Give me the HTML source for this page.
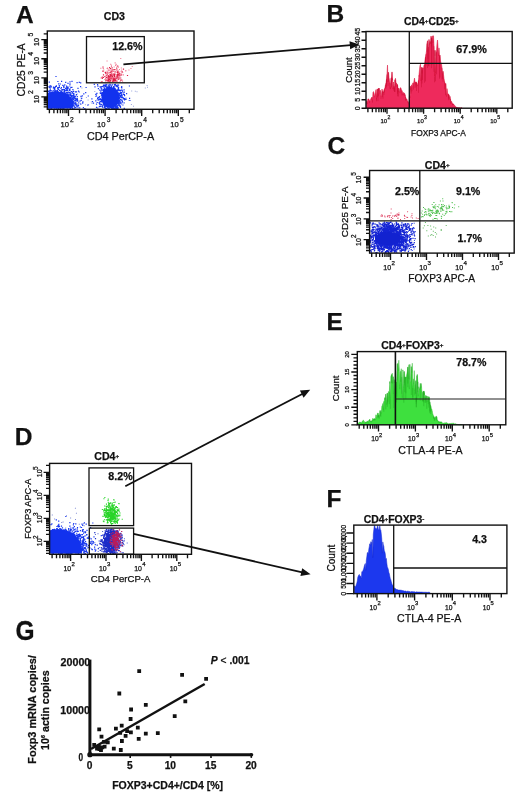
<!DOCTYPE html>
<html><head><meta charset="utf-8"><style>
html,body{margin:0;padding:0;background:#fff;}
svg{display:block;will-change:transform;}
text{font-family:"Liberation Sans", sans-serif;fill:#111;stroke:#111;stroke-width:0.25px;}
</style></head><body>
<svg width="520" height="803" viewBox="0 0 520 803">
<rect width="520" height="803" fill="#fff"/>
<defs>
<clipPath id="clipA"><rect x="47.3" y="31.0" width="146.7" height="77.5"/></clipPath>
<clipPath id="clipC3"><rect x="369.6" y="221.5" width="48.39999999999998" height="30.799999999999994"/></clipPath>
<clipPath id="clipD"><rect x="49.6" y="463.4" width="38.699999999999996" height="90.09999999999998"/></clipPath>
</defs>
<text x="15.9" y="23.1" font-size="24.5" font-weight="bold" text-anchor="start">A</text>
<text x="326.6" y="22.1" font-size="24.5" font-weight="bold" text-anchor="start">B</text>
<text x="327.6" y="154.4" font-size="24.5" font-weight="bold" text-anchor="start">C</text>
<text x="14.7" y="445.4" font-size="24.5" font-weight="bold" text-anchor="start">D</text>
<text x="326.5" y="330" font-size="24.5" font-weight="bold" text-anchor="start">E</text>
<text x="326.5" y="506.9" font-size="24.5" font-weight="bold" text-anchor="start">F</text>
<text x="0" y="0" font-size="24.5" font-weight="bold" transform="translate(15.6 640.2) scale(1 1.12)">G</text>
<path d="M81.4 87.5h1.0v1.0h-1.0zM114.1 85.7h1.0v1.0h-1.0zM102.6 92.4h1.0v1.0h-1.0zM54.8 95.7h1.0v1.0h-1.0zM52.7 94h1.0v1.0h-1.0zM56 86.1h1.0v1.0h-1.0zM91.5 103h1.0v1.0h-1.0zM61.4 89.1h1.0v1.0h-1.0zM111.7 105.8h1.0v1.0h-1.0zM106.7 93.1h1.0v1.0h-1.0zM146.6 85.1h1.0v1.0h-1.0zM134.8 90.7h1.0v1.0h-1.0zM63.4 86.7h1.0v1.0h-1.0zM79.8 102.8h1.0v1.0h-1.0zM67.1 97.4h1.0v1.0h-1.0zM112.9 92.6h1.0v1.0h-1.0zM103.8 85.4h1.0v1.0h-1.0zM55 88.7h1.0v1.0h-1.0zM117 93.8h1.0v1.0h-1.0zM80.4 97.5h1.0v1.0h-1.0zM94.3 90.9h1.0v1.0h-1.0zM128.4 100.1h1.0v1.0h-1.0zM73.4 97.2h1.0v1.0h-1.0zM101.5 104.1h1.0v1.0h-1.0zM121.9 90.6h1.0v1.0h-1.0zM147 86.7h1.0v1.0h-1.0zM90.8 101.4h1.0v1.0h-1.0zM64.2 95.2h1.0v1.0h-1.0zM52.9 99.4h1.0v1.0h-1.0zM125.5 97.2h1.0v1.0h-1.0zM136.5 91.2h1.0v1.0h-1.0zM118.5 97.7h1.0v1.0h-1.0zM107 94.5h1.0v1.0h-1.0zM133 105.7h1.0v1.0h-1.0zM96.4 99.3h1.0v1.0h-1.0zM55.1 100.1h1.0v1.0h-1.0zM113.7 106.8h1.0v1.0h-1.0zM131.2 90.5h1.0v1.0h-1.0zM87.6 99.4h1.0v1.0h-1.0zM51.3 94.6h1.0v1.0h-1.0zM65.8 86.7h1.0v1.0h-1.0zM54.9 101.7h1.0v1.0h-1.0zM61.9 89.7h1.0v1.0h-1.0zM88.1 104h1.0v1.0h-1.0zM57.1 94.3h1.0v1.0h-1.0zM103.9 104.3h1.0v1.0h-1.0zM130.9 103.9h1.0v1.0h-1.0zM76.8 93.6h1.0v1.0h-1.0zM84.9 104.3h1.0v1.0h-1.0zM144.8 87.5h1.0v1.0h-1.0zM66.6 89.3h1.0v1.0h-1.0zM72.3 95.2h1.0v1.0h-1.0zM107.9 90h1.0v1.0h-1.0zM49.4 93.6h1.0v1.0h-1.0zM85.9 97h1.0v1.0h-1.0z" fill="#7080d0" fill-opacity="0.7"/>
<path d="M72.9 96.9h1.2v1.2h-1.2zM57.6 97.9h1.2v1.2h-1.2zM72.3 92.8h1.2v1.2h-1.2zM71 91.1h1.2v1.2h-1.2zM51.5 104.4h1.2v1.2h-1.2zM69.7 106h1.2v1.2h-1.2zM62.3 101h1.2v1.2h-1.2zM60.4 104h1.2v1.2h-1.2zM57.3 101.9h1.2v1.2h-1.2zM64.4 100h1.2v1.2h-1.2zM66.3 104h1.2v1.2h-1.2zM78.1 102.3h1.2v1.2h-1.2zM54.9 97.4h1.2v1.2h-1.2zM58.9 106.5h1.2v1.2h-1.2zM55.8 102.7h1.2v1.2h-1.2zM76.5 82h1.2v1.2h-1.2zM48.3 101.7h1.2v1.2h-1.2zM62.8 101.7h1.2v1.2h-1.2zM54.9 104.6h1.2v1.2h-1.2zM61.7 96.3h1.2v1.2h-1.2zM82.1 102.5h1.2v1.2h-1.2zM53.7 99.3h1.2v1.2h-1.2zM56.9 99.6h1.2v1.2h-1.2zM68.6 91.8h1.2v1.2h-1.2zM58.4 106.7h1.2v1.2h-1.2zM55.8 104.4h1.2v1.2h-1.2zM69.4 81.2h1.2v1.2h-1.2zM69.3 89.9h1.2v1.2h-1.2zM65.5 89.6h1.2v1.2h-1.2zM57.6 101.3h1.2v1.2h-1.2zM66.6 101h1.2v1.2h-1.2zM69 97.9h1.2v1.2h-1.2zM85.1 92h1.2v1.2h-1.2zM67.7 98.1h1.2v1.2h-1.2zM60.3 104.9h1.2v1.2h-1.2zM61.1 104.5h1.2v1.2h-1.2zM64.8 93.3h1.2v1.2h-1.2zM49.2 89.7h1.2v1.2h-1.2zM71 105.2h1.2v1.2h-1.2zM73 93.4h1.2v1.2h-1.2zM59 92h1.2v1.2h-1.2zM68.4 98.8h1.2v1.2h-1.2zM58.1 95.8h1.2v1.2h-1.2zM62.8 102.9h1.2v1.2h-1.2zM73.2 92.9h1.2v1.2h-1.2zM72.8 98.7h1.2v1.2h-1.2zM51.9 107.1h1.2v1.2h-1.2zM60.1 100.9h1.2v1.2h-1.2zM72.5 98.2h1.2v1.2h-1.2zM62 95.7h1.2v1.2h-1.2zM58.9 105.8h1.2v1.2h-1.2zM58.4 107.3h1.2v1.2h-1.2zM52.6 106.2h1.2v1.2h-1.2zM57.2 99.8h1.2v1.2h-1.2zM53.4 101.6h1.2v1.2h-1.2zM76 100.3h1.2v1.2h-1.2zM64 107h1.2v1.2h-1.2zM57.1 91.2h1.2v1.2h-1.2zM53.7 107.5h1.2v1.2h-1.2zM68.6 105.5h1.2v1.2h-1.2zM59.1 105.6h1.2v1.2h-1.2zM60.6 91.7h1.2v1.2h-1.2zM67.8 96h1.2v1.2h-1.2zM50.4 94.6h1.2v1.2h-1.2zM47.8 102.5h1.2v1.2h-1.2zM52.9 86.4h1.2v1.2h-1.2zM65.9 98.1h1.2v1.2h-1.2zM61.8 96.8h1.2v1.2h-1.2zM66.4 105.2h1.2v1.2h-1.2zM65.3 102.3h1.2v1.2h-1.2zM71.7 104.6h1.2v1.2h-1.2zM63.3 85.4h1.2v1.2h-1.2zM56.2 96.7h1.2v1.2h-1.2zM77.4 87.7h1.2v1.2h-1.2zM50.2 104.8h1.2v1.2h-1.2zM76.9 99.2h1.2v1.2h-1.2zM64.3 106.3h1.2v1.2h-1.2zM50.4 99.4h1.2v1.2h-1.2zM61.8 105.8h1.2v1.2h-1.2zM58.7 98.6h1.2v1.2h-1.2zM49.3 97.5h1.2v1.2h-1.2zM67.5 100.7h1.2v1.2h-1.2zM50.9 94.1h1.2v1.2h-1.2zM84.3 108h1.2v1.2h-1.2zM65.1 81.8h1.2v1.2h-1.2zM64.9 103.4h1.2v1.2h-1.2zM75 103h1.2v1.2h-1.2zM58.4 103.7h1.2v1.2h-1.2zM62.1 95.1h1.2v1.2h-1.2zM61.8 101.3h1.2v1.2h-1.2zM55.2 93.2h1.2v1.2h-1.2zM79.1 107.3h1.2v1.2h-1.2zM47.7 90.6h1.2v1.2h-1.2zM75.2 106.9h1.2v1.2h-1.2zM76.3 105.7h1.2v1.2h-1.2zM50.7 101.8h1.2v1.2h-1.2zM58.4 103.7h1.2v1.2h-1.2zM52.1 99.1h1.2v1.2h-1.2zM63.4 102.6h1.2v1.2h-1.2zM65.1 101.5h1.2v1.2h-1.2zM55.9 105.5h1.2v1.2h-1.2zM59.5 94.2h1.2v1.2h-1.2zM53.1 100h1.2v1.2h-1.2zM58 101.1h1.2v1.2h-1.2zM59 101.2h1.2v1.2h-1.2zM57.7 91.2h1.2v1.2h-1.2zM63 107.4h1.2v1.2h-1.2zM63.1 98.7h1.2v1.2h-1.2zM63.2 93.2h1.2v1.2h-1.2zM50.2 105.2h1.2v1.2h-1.2zM48.7 81.6h1.2v1.2h-1.2zM55.4 90.4h1.2v1.2h-1.2zM51.7 103.6h1.2v1.2h-1.2zM63.7 101.2h1.2v1.2h-1.2zM73.1 104.9h1.2v1.2h-1.2zM58.8 104.2h1.2v1.2h-1.2zM74.7 106.8h1.2v1.2h-1.2zM68.7 92.4h1.2v1.2h-1.2zM57.6 105.1h1.2v1.2h-1.2zM56.2 107.5h1.2v1.2h-1.2zM64.7 106.4h1.2v1.2h-1.2zM70.8 98.5h1.2v1.2h-1.2zM55.7 106.1h1.2v1.2h-1.2zM68.3 100h1.2v1.2h-1.2zM47.9 101.3h1.2v1.2h-1.2zM62.4 107.9h1.2v1.2h-1.2zM66.4 100.2h1.2v1.2h-1.2zM67.1 103.8h1.2v1.2h-1.2zM61 100.4h1.2v1.2h-1.2zM56.7 104.8h1.2v1.2h-1.2zM49 95.6h1.2v1.2h-1.2zM59 89.8h1.2v1.2h-1.2zM54.9 85.9h1.2v1.2h-1.2zM52.5 104h1.2v1.2h-1.2zM64.4 99.6h1.2v1.2h-1.2zM56.8 90.1h1.2v1.2h-1.2zM76.4 103.6h1.2v1.2h-1.2zM69.4 93.8h1.2v1.2h-1.2zM57.2 87.3h1.2v1.2h-1.2zM66.4 106.5h1.2v1.2h-1.2zM65 87.7h1.2v1.2h-1.2zM53 90.2h1.2v1.2h-1.2zM59.3 101.7h1.2v1.2h-1.2zM65 104.9h1.2v1.2h-1.2zM48.9 92.5h1.2v1.2h-1.2zM58.2 100h1.2v1.2h-1.2zM63.7 88.9h1.2v1.2h-1.2zM57.1 97.8h1.2v1.2h-1.2zM58.4 94.7h1.2v1.2h-1.2zM65.7 102.5h1.2v1.2h-1.2zM58.2 95.3h1.2v1.2h-1.2zM57.3 80.9h1.2v1.2h-1.2zM49.7 100.3h1.2v1.2h-1.2zM60.4 90.4h1.2v1.2h-1.2zM56.6 97.8h1.2v1.2h-1.2zM63.4 104.3h1.2v1.2h-1.2zM58.7 94h1.2v1.2h-1.2zM57.6 99.5h1.2v1.2h-1.2zM66 102.1h1.2v1.2h-1.2zM52.1 90.5h1.2v1.2h-1.2zM55.5 94.8h1.2v1.2h-1.2zM48.4 99.2h1.2v1.2h-1.2zM54.3 100.7h1.2v1.2h-1.2zM64 97.1h1.2v1.2h-1.2zM81.1 97.7h1.2v1.2h-1.2zM69.5 100.9h1.2v1.2h-1.2zM69.6 83.4h1.2v1.2h-1.2zM51.9 101.7h1.2v1.2h-1.2zM66.3 106.6h1.2v1.2h-1.2zM63.8 98.9h1.2v1.2h-1.2zM63.8 92.5h1.2v1.2h-1.2zM70.2 92.9h1.2v1.2h-1.2zM56.9 100.1h1.2v1.2h-1.2zM70 100.2h1.2v1.2h-1.2zM51.3 101.8h1.2v1.2h-1.2zM64.5 105h1.2v1.2h-1.2zM74.8 100.1h1.2v1.2h-1.2zM61.6 97h1.2v1.2h-1.2zM72.4 95.1h1.2v1.2h-1.2zM65.4 96.6h1.2v1.2h-1.2zM52.4 105h1.2v1.2h-1.2zM71.7 99.9h1.2v1.2h-1.2zM52.6 105.7h1.2v1.2h-1.2zM58.5 102.2h1.2v1.2h-1.2zM73.5 107.9h1.2v1.2h-1.2zM59 105.5h1.2v1.2h-1.2zM52.9 99.7h1.2v1.2h-1.2zM72 91.5h1.2v1.2h-1.2zM70.2 96.8h1.2v1.2h-1.2zM58.4 97.8h1.2v1.2h-1.2zM57.8 92.4h1.2v1.2h-1.2zM59.2 89.9h1.2v1.2h-1.2zM58.3 102.2h1.2v1.2h-1.2zM63.4 98.4h1.2v1.2h-1.2zM50.4 101.1h1.2v1.2h-1.2zM66.3 99.2h1.2v1.2h-1.2zM54.5 95.1h1.2v1.2h-1.2zM50.1 97.5h1.2v1.2h-1.2zM61.8 103.6h1.2v1.2h-1.2zM52.3 100.1h1.2v1.2h-1.2zM85.5 86.9h1.2v1.2h-1.2zM54 101.2h1.2v1.2h-1.2zM60.5 102.9h1.2v1.2h-1.2zM56.7 102.6h1.2v1.2h-1.2zM59.5 105.4h1.2v1.2h-1.2zM59 92.8h1.2v1.2h-1.2zM49.1 104.4h1.2v1.2h-1.2zM52.8 104.4h1.2v1.2h-1.2zM66.1 102.1h1.2v1.2h-1.2zM63.8 99.3h1.2v1.2h-1.2zM63.3 96.3h1.2v1.2h-1.2zM58.1 105.2h1.2v1.2h-1.2zM50.7 104.5h1.2v1.2h-1.2zM76.7 96.1h1.2v1.2h-1.2zM60.4 98.9h1.2v1.2h-1.2zM73.6 102.2h1.2v1.2h-1.2zM67.5 95.2h1.2v1.2h-1.2zM58.8 99.9h1.2v1.2h-1.2zM67.5 87.8h1.2v1.2h-1.2zM66.1 99.1h1.2v1.2h-1.2zM63.3 102.6h1.2v1.2h-1.2zM73.2 96h1.2v1.2h-1.2zM49.3 90.5h1.2v1.2h-1.2zM47.4 102.3h1.2v1.2h-1.2zM75.1 103h1.2v1.2h-1.2zM54.1 95.3h1.2v1.2h-1.2zM64 103.8h1.2v1.2h-1.2zM49.4 91.8h1.2v1.2h-1.2zM61.8 101.7h1.2v1.2h-1.2zM53.8 103.2h1.2v1.2h-1.2zM57.9 99.4h1.2v1.2h-1.2zM55.6 107.4h1.2v1.2h-1.2zM72.2 97.4h1.2v1.2h-1.2zM67 94.7h1.2v1.2h-1.2zM59.7 105.2h1.2v1.2h-1.2zM73.4 97.3h1.2v1.2h-1.2zM58.3 101.4h1.2v1.2h-1.2zM52.6 102.6h1.2v1.2h-1.2zM48.3 86.2h1.2v1.2h-1.2zM59.4 101.8h1.2v1.2h-1.2zM53.8 106.2h1.2v1.2h-1.2zM56.4 95.8h1.2v1.2h-1.2zM63.5 89h1.2v1.2h-1.2zM52.6 99.9h1.2v1.2h-1.2zM67.1 98.9h1.2v1.2h-1.2zM61.9 95.4h1.2v1.2h-1.2zM52.9 100.1h1.2v1.2h-1.2zM60.6 107.2h1.2v1.2h-1.2zM64.8 105.6h1.2v1.2h-1.2zM60.9 101.8h1.2v1.2h-1.2zM67.8 102.6h1.2v1.2h-1.2zM74.8 91.3h1.2v1.2h-1.2zM55.4 75.9h1.2v1.2h-1.2zM66.7 97.4h1.2v1.2h-1.2zM58.9 98.2h1.2v1.2h-1.2zM54.3 94.1h1.2v1.2h-1.2zM53 104.5h1.2v1.2h-1.2zM59.3 100.5h1.2v1.2h-1.2zM57.4 106.4h1.2v1.2h-1.2zM63.7 99h1.2v1.2h-1.2zM65.3 98.9h1.2v1.2h-1.2zM63.4 93.3h1.2v1.2h-1.2zM69.2 102.4h1.2v1.2h-1.2zM62.2 106.2h1.2v1.2h-1.2zM60.9 99h1.2v1.2h-1.2zM59.3 98h1.2v1.2h-1.2zM62.3 100.5h1.2v1.2h-1.2zM65.4 97.4h1.2v1.2h-1.2zM58.7 85h1.2v1.2h-1.2zM55 104.7h1.2v1.2h-1.2zM71.7 97.5h1.2v1.2h-1.2zM55.9 105.1h1.2v1.2h-1.2zM74.9 100.3h1.2v1.2h-1.2zM70.7 95h1.2v1.2h-1.2zM61 99.5h1.2v1.2h-1.2zM60.1 107.9h1.2v1.2h-1.2zM81.7 95.3h1.2v1.2h-1.2zM53.5 103.5h1.2v1.2h-1.2zM49 103.5h1.2v1.2h-1.2zM64.4 98.1h1.2v1.2h-1.2zM64 89.2h1.2v1.2h-1.2zM66.2 89.2h1.2v1.2h-1.2zM52.4 96.1h1.2v1.2h-1.2zM55.2 106h1.2v1.2h-1.2zM59.8 97.2h1.2v1.2h-1.2zM59.1 102.6h1.2v1.2h-1.2zM70.8 101.9h1.2v1.2h-1.2zM80 86.1h1.2v1.2h-1.2zM58.6 102.9h1.2v1.2h-1.2zM68.2 104.7h1.2v1.2h-1.2zM56.4 92.6h1.2v1.2h-1.2zM60 107.2h1.2v1.2h-1.2zM48.6 92.8h1.2v1.2h-1.2zM58.8 86.4h1.2v1.2h-1.2zM56.5 96.9h1.2v1.2h-1.2zM63.3 95.1h1.2v1.2h-1.2zM50.6 97.2h1.2v1.2h-1.2zM58.5 95.3h1.2v1.2h-1.2zM59.1 105.3h1.2v1.2h-1.2zM51.6 97.1h1.2v1.2h-1.2zM52.1 99.8h1.2v1.2h-1.2zM64 90.5h1.2v1.2h-1.2zM63.4 99.8h1.2v1.2h-1.2zM70.3 86.9h1.2v1.2h-1.2zM66.7 101.5h1.2v1.2h-1.2zM63.5 103.1h1.2v1.2h-1.2zM71.4 98.4h1.2v1.2h-1.2zM67.3 97.1h1.2v1.2h-1.2zM65.9 94.3h1.2v1.2h-1.2zM63.2 98.9h1.2v1.2h-1.2zM48.1 94.5h1.2v1.2h-1.2zM60.8 106.6h1.2v1.2h-1.2zM63 103.7h1.2v1.2h-1.2zM55.3 96.2h1.2v1.2h-1.2zM67.4 100.4h1.2v1.2h-1.2zM56.4 96h1.2v1.2h-1.2zM56.6 104.4h1.2v1.2h-1.2zM62.4 91.5h1.2v1.2h-1.2zM63.1 101.3h1.2v1.2h-1.2zM49.5 105.4h1.2v1.2h-1.2zM56.3 97.7h1.2v1.2h-1.2zM52.5 103.1h1.2v1.2h-1.2zM52.9 105.7h1.2v1.2h-1.2zM80.1 82.2h1.2v1.2h-1.2zM54.9 103.5h1.2v1.2h-1.2zM58.1 95.3h1.2v1.2h-1.2zM79.4 100.6h1.2v1.2h-1.2zM53.5 101h1.2v1.2h-1.2zM71 100.8h1.2v1.2h-1.2zM70.2 105.2h1.2v1.2h-1.2zM51.3 106h1.2v1.2h-1.2zM63.7 104.5h1.2v1.2h-1.2zM67.6 105.1h1.2v1.2h-1.2zM67.4 82.8h1.2v1.2h-1.2zM60.6 103.4h1.2v1.2h-1.2zM83.2 93.3h1.2v1.2h-1.2zM55.9 100.3h1.2v1.2h-1.2zM67.4 96.9h1.2v1.2h-1.2zM69.9 94.5h1.2v1.2h-1.2zM61.5 96.3h1.2v1.2h-1.2zM60.5 95.2h1.2v1.2h-1.2zM61.9 96.1h1.2v1.2h-1.2zM60.9 106.9h1.2v1.2h-1.2zM49.7 99.2h1.2v1.2h-1.2zM64.1 103.7h1.2v1.2h-1.2zM55.8 85.3h1.2v1.2h-1.2zM70.8 102.3h1.2v1.2h-1.2zM59.1 98.1h1.2v1.2h-1.2zM61.5 97h1.2v1.2h-1.2zM49.3 94.8h1.2v1.2h-1.2zM53.3 95.7h1.2v1.2h-1.2zM48 104.5h1.2v1.2h-1.2zM49.4 102.5h1.2v1.2h-1.2zM72.1 101.4h1.2v1.2h-1.2zM52.1 100.3h1.2v1.2h-1.2zM60.4 87.9h1.2v1.2h-1.2zM53.2 101.1h1.2v1.2h-1.2zM54.5 100.6h1.2v1.2h-1.2zM66 105.4h1.2v1.2h-1.2zM67.6 104.1h1.2v1.2h-1.2zM56.3 99.9h1.2v1.2h-1.2zM56.4 97.8h1.2v1.2h-1.2zM57.3 87.9h1.2v1.2h-1.2zM55.8 99.8h1.2v1.2h-1.2zM49.7 99.8h1.2v1.2h-1.2zM63.9 98.8h1.2v1.2h-1.2zM78.7 81.8h1.2v1.2h-1.2zM57 87.2h1.2v1.2h-1.2zM63.9 97.9h1.2v1.2h-1.2zM64.2 84.3h1.2v1.2h-1.2zM67.1 102.6h1.2v1.2h-1.2zM59.2 95.9h1.2v1.2h-1.2zM65.1 96.6h1.2v1.2h-1.2zM61.1 96.4h1.2v1.2h-1.2zM60.9 105.3h1.2v1.2h-1.2zM50.7 99.8h1.2v1.2h-1.2zM64.9 101h1.2v1.2h-1.2zM50.4 86.6h1.2v1.2h-1.2zM67.8 105.7h1.2v1.2h-1.2zM53.1 95h1.2v1.2h-1.2zM67.4 93.6h1.2v1.2h-1.2zM52.5 94.9h1.2v1.2h-1.2zM61.2 94.8h1.2v1.2h-1.2zM71.4 99.5h1.2v1.2h-1.2zM53.5 101.5h1.2v1.2h-1.2zM58.9 97.8h1.2v1.2h-1.2zM62.1 95.2h1.2v1.2h-1.2zM58.8 100.4h1.2v1.2h-1.2zM64.3 100.8h1.2v1.2h-1.2zM51.5 95h1.2v1.2h-1.2zM63.6 103.7h1.2v1.2h-1.2zM57.8 98.8h1.2v1.2h-1.2zM67.9 100.1h1.2v1.2h-1.2zM66 104.1h1.2v1.2h-1.2zM53.6 97.5h1.2v1.2h-1.2zM51.3 94.4h1.2v1.2h-1.2zM59.2 104h1.2v1.2h-1.2zM70.2 105.7h1.2v1.2h-1.2zM70.5 91.2h1.2v1.2h-1.2zM52.9 103.2h1.2v1.2h-1.2zM72.6 100.7h1.2v1.2h-1.2zM50.8 97.5h1.2v1.2h-1.2zM52.7 94h1.2v1.2h-1.2zM73.3 95.6h1.2v1.2h-1.2zM70.3 102.4h1.2v1.2h-1.2zM53.2 102.9h1.2v1.2h-1.2zM74.4 104.4h1.2v1.2h-1.2zM71 100.7h1.2v1.2h-1.2zM63.9 98.6h1.2v1.2h-1.2zM61.3 96h1.2v1.2h-1.2zM56.1 105.5h1.2v1.2h-1.2zM78 104.4h1.2v1.2h-1.2zM62.1 89.1h1.2v1.2h-1.2zM77.3 100.5h1.2v1.2h-1.2zM58.7 92.2h1.2v1.2h-1.2zM58.5 92.3h1.2v1.2h-1.2zM59.7 103.3h1.2v1.2h-1.2zM59.3 102h1.2v1.2h-1.2zM52.8 87.3h1.2v1.2h-1.2zM57.2 94.7h1.2v1.2h-1.2zM49.4 97.5h1.2v1.2h-1.2zM61.8 91.7h1.2v1.2h-1.2zM65.5 98.9h1.2v1.2h-1.2zM60.2 99.2h1.2v1.2h-1.2zM58.5 105.1h1.2v1.2h-1.2zM58.1 83.2h1.2v1.2h-1.2zM58.8 93.8h1.2v1.2h-1.2zM65.2 95.7h1.2v1.2h-1.2zM49.1 92.1h1.2v1.2h-1.2zM52.9 86.9h1.2v1.2h-1.2zM51.6 97.4h1.2v1.2h-1.2zM77.4 107.2h1.2v1.2h-1.2zM60.4 101.3h1.2v1.2h-1.2zM56.1 103.2h1.2v1.2h-1.2zM61.7 100.4h1.2v1.2h-1.2zM54.2 90.7h1.2v1.2h-1.2zM53.9 89.2h1.2v1.2h-1.2zM70.6 103.8h1.2v1.2h-1.2zM67.5 86.6h1.2v1.2h-1.2zM76.5 105.7h1.2v1.2h-1.2zM78.6 91.4h1.2v1.2h-1.2zM64 103h1.2v1.2h-1.2zM60.9 101.2h1.2v1.2h-1.2zM69 89.5h1.2v1.2h-1.2zM53.7 95.8h1.2v1.2h-1.2zM62.5 101.9h1.2v1.2h-1.2zM59.3 95.3h1.2v1.2h-1.2zM54.8 106.7h1.2v1.2h-1.2zM66.3 100.7h1.2v1.2h-1.2zM53.4 104.5h1.2v1.2h-1.2zM70 98.1h1.2v1.2h-1.2zM66.8 92.2h1.2v1.2h-1.2zM68.6 101.4h1.2v1.2h-1.2zM52.5 98.8h1.2v1.2h-1.2zM61.7 97.7h1.2v1.2h-1.2zM61.5 96.1h1.2v1.2h-1.2zM65.4 100h1.2v1.2h-1.2zM61 80.7h1.2v1.2h-1.2zM70 100.2h1.2v1.2h-1.2zM63.4 107.5h1.2v1.2h-1.2zM57.6 104.8h1.2v1.2h-1.2zM55.5 92.2h1.2v1.2h-1.2zM69.4 106.3h1.2v1.2h-1.2zM73.6 106h1.2v1.2h-1.2zM53.6 88.4h1.2v1.2h-1.2zM52.8 95.3h1.2v1.2h-1.2zM51.3 104.1h1.2v1.2h-1.2zM62.1 98.1h1.2v1.2h-1.2zM60.6 99h1.2v1.2h-1.2zM61 105.3h1.2v1.2h-1.2zM68.1 95.2h1.2v1.2h-1.2zM60.1 107.7h1.2v1.2h-1.2zM59.3 89.9h1.2v1.2h-1.2zM54.1 105.1h1.2v1.2h-1.2zM50.8 90.2h1.2v1.2h-1.2zM63.9 106.6h1.2v1.2h-1.2zM60.8 90.9h1.2v1.2h-1.2zM66.4 105.5h1.2v1.2h-1.2zM64.3 96.6h1.2v1.2h-1.2zM61.9 105.5h1.2v1.2h-1.2zM53.7 87.1h1.2v1.2h-1.2zM62.1 103.4h1.2v1.2h-1.2zM59.1 106.2h1.2v1.2h-1.2zM53.4 99.4h1.2v1.2h-1.2zM56.1 104h1.2v1.2h-1.2zM74.2 98.2h1.2v1.2h-1.2zM66.5 104.1h1.2v1.2h-1.2zM75.8 98.7h1.2v1.2h-1.2zM57.9 92.6h1.2v1.2h-1.2zM64.1 103h1.2v1.2h-1.2zM57.1 101.2h1.2v1.2h-1.2zM55.1 92.3h1.2v1.2h-1.2zM51.9 94.2h1.2v1.2h-1.2zM67.1 107.4h1.2v1.2h-1.2zM67.4 95.9h1.2v1.2h-1.2zM53 102.4h1.2v1.2h-1.2zM55.6 85.8h1.2v1.2h-1.2zM61.2 89.3h1.2v1.2h-1.2zM67.6 91.6h1.2v1.2h-1.2zM52.4 94h1.2v1.2h-1.2zM67.1 104.2h1.2v1.2h-1.2zM62 89.2h1.2v1.2h-1.2zM54.1 96.1h1.2v1.2h-1.2zM49.7 103.6h1.2v1.2h-1.2zM52 95h1.2v1.2h-1.2zM49.1 85.6h1.2v1.2h-1.2zM60.7 93.2h1.2v1.2h-1.2zM70.6 102.1h1.2v1.2h-1.2zM69.7 96.9h1.2v1.2h-1.2zM69 105.4h1.2v1.2h-1.2zM64.5 92.5h1.2v1.2h-1.2zM57 101.9h1.2v1.2h-1.2zM57.5 107h1.2v1.2h-1.2zM68.9 100.6h1.2v1.2h-1.2zM54.5 104.4h1.2v1.2h-1.2zM69.8 96.8h1.2v1.2h-1.2zM53.9 103h1.2v1.2h-1.2zM63.9 90.8h1.2v1.2h-1.2zM50.8 108h1.2v1.2h-1.2zM66.3 88.3h1.2v1.2h-1.2zM51.2 101.2h1.2v1.2h-1.2zM54.3 98.9h1.2v1.2h-1.2zM63.5 94.3h1.2v1.2h-1.2zM63.4 95.5h1.2v1.2h-1.2zM53.8 103.8h1.2v1.2h-1.2zM53.6 102h1.2v1.2h-1.2zM74.2 100.2h1.2v1.2h-1.2zM57.6 105.1h1.2v1.2h-1.2zM55.5 107.6h1.2v1.2h-1.2zM54.1 94.4h1.2v1.2h-1.2zM75.8 94h1.2v1.2h-1.2zM75.7 104.6h1.2v1.2h-1.2zM72.8 93.2h1.2v1.2h-1.2zM57.9 99.1h1.2v1.2h-1.2zM82.3 101.2h1.2v1.2h-1.2zM55 95.6h1.2v1.2h-1.2zM63.2 102.3h1.2v1.2h-1.2zM55.9 103.3h1.2v1.2h-1.2zM72.9 93h1.2v1.2h-1.2zM49.1 87.1h1.2v1.2h-1.2zM63.3 87h1.2v1.2h-1.2zM52 98.1h1.2v1.2h-1.2zM59.5 103.8h1.2v1.2h-1.2zM55.7 100.1h1.2v1.2h-1.2zM53.8 100.8h1.2v1.2h-1.2zM47.9 100.4h1.2v1.2h-1.2zM77.2 100.6h1.2v1.2h-1.2zM49.8 88.4h1.2v1.2h-1.2zM52 105.2h1.2v1.2h-1.2zM62.6 99.3h1.2v1.2h-1.2zM50.2 92.4h1.2v1.2h-1.2zM71.8 101.7h1.2v1.2h-1.2zM50 85.2h1.2v1.2h-1.2zM48.1 99.5h1.2v1.2h-1.2zM61 98.9h1.2v1.2h-1.2zM56.4 90.4h1.2v1.2h-1.2zM51.8 105.9h1.2v1.2h-1.2zM61.5 107.3h1.2v1.2h-1.2zM48.3 104.2h1.2v1.2h-1.2zM62.7 94.8h1.2v1.2h-1.2zM63.5 93.7h1.2v1.2h-1.2zM51.4 99.9h1.2v1.2h-1.2zM49.5 89.8h1.2v1.2h-1.2zM55 105.3h1.2v1.2h-1.2zM48 90.8h1.2v1.2h-1.2zM73.7 102.8h1.2v1.2h-1.2zM68 94.2h1.2v1.2h-1.2zM66.6 101.8h1.2v1.2h-1.2zM65.2 100.2h1.2v1.2h-1.2zM70.5 95.5h1.2v1.2h-1.2zM49.8 89.7h1.2v1.2h-1.2zM70 94.8h1.2v1.2h-1.2zM49.1 93.4h1.2v1.2h-1.2zM54.8 91.1h1.2v1.2h-1.2zM56.2 95.6h1.2v1.2h-1.2zM53.8 93.3h1.2v1.2h-1.2zM59.3 96.8h1.2v1.2h-1.2zM60.1 101.7h1.2v1.2h-1.2zM62.2 84.7h1.2v1.2h-1.2zM53.9 94.4h1.2v1.2h-1.2zM66.4 89h1.2v1.2h-1.2zM52.2 97.9h1.2v1.2h-1.2zM55.8 106.9h1.2v1.2h-1.2zM54.8 106.8h1.2v1.2h-1.2zM70.6 103h1.2v1.2h-1.2zM63.6 100.9h1.2v1.2h-1.2zM63.6 91.5h1.2v1.2h-1.2zM68 96.3h1.2v1.2h-1.2zM68.4 100.6h1.2v1.2h-1.2zM69.7 99h1.2v1.2h-1.2zM55.2 101.7h1.2v1.2h-1.2zM55 96.2h1.2v1.2h-1.2zM60 101h1.2v1.2h-1.2zM73.4 100.3h1.2v1.2h-1.2zM75.3 107.4h1.2v1.2h-1.2zM60.2 101h1.2v1.2h-1.2zM57.6 94.9h1.2v1.2h-1.2zM58.4 95.5h1.2v1.2h-1.2zM74.6 103.7h1.2v1.2h-1.2zM54.8 86.6h1.2v1.2h-1.2zM58.5 97.1h1.2v1.2h-1.2zM48.7 92h1.2v1.2h-1.2zM58.7 99h1.2v1.2h-1.2zM72.7 100.9h1.2v1.2h-1.2zM60.6 97.4h1.2v1.2h-1.2zM55.7 100.2h1.2v1.2h-1.2zM50.6 106.8h1.2v1.2h-1.2zM50.1 107.6h1.2v1.2h-1.2zM52.2 94.7h1.2v1.2h-1.2zM74.7 95.8h1.2v1.2h-1.2zM51.8 97.6h1.2v1.2h-1.2zM82.8 107h1.2v1.2h-1.2zM53.8 87.4h1.2v1.2h-1.2zM76.7 98.1h1.2v1.2h-1.2zM52.4 96.4h1.2v1.2h-1.2zM48.7 107.4h1.2v1.2h-1.2zM61.7 94.7h1.2v1.2h-1.2zM66.4 100.1h1.2v1.2h-1.2zM47.8 104.4h1.2v1.2h-1.2zM67 86.6h1.2v1.2h-1.2zM76.3 103.5h1.2v1.2h-1.2zM66.2 87h1.2v1.2h-1.2zM52.2 97.6h1.2v1.2h-1.2zM69.2 89.8h1.2v1.2h-1.2zM50.6 85.8h1.2v1.2h-1.2zM56.7 102.4h1.2v1.2h-1.2zM65.3 97.9h1.2v1.2h-1.2zM47.8 93.4h1.2v1.2h-1.2zM52.7 101h1.2v1.2h-1.2zM61.7 92.5h1.2v1.2h-1.2zM73.7 106.6h1.2v1.2h-1.2zM60 95h1.2v1.2h-1.2zM67.7 94.4h1.2v1.2h-1.2zM61.3 104.2h1.2v1.2h-1.2zM51 106.9h1.2v1.2h-1.2zM49.6 104.9h1.2v1.2h-1.2zM60.7 101.7h1.2v1.2h-1.2zM68.2 99.9h1.2v1.2h-1.2zM69.6 106.1h1.2v1.2h-1.2zM60.3 96h1.2v1.2h-1.2zM51.8 96.3h1.2v1.2h-1.2zM57.1 99.8h1.2v1.2h-1.2zM87.3 104.5h1.2v1.2h-1.2zM66.3 94h1.2v1.2h-1.2zM52.3 97.8h1.2v1.2h-1.2zM60.8 92.7h1.2v1.2h-1.2zM74.3 96.1h1.2v1.2h-1.2zM69.2 83.6h1.2v1.2h-1.2zM58.9 101.9h1.2v1.2h-1.2zM60.8 104.2h1.2v1.2h-1.2zM61.7 101.1h1.2v1.2h-1.2zM61.9 98.6h1.2v1.2h-1.2zM51.2 95.9h1.2v1.2h-1.2zM54.4 93.9h1.2v1.2h-1.2zM53.7 101.3h1.2v1.2h-1.2zM87.7 95.4h1.2v1.2h-1.2zM59.5 101.9h1.2v1.2h-1.2zM58.7 106.5h1.2v1.2h-1.2zM75.9 91.3h1.2v1.2h-1.2zM60.5 98.1h1.2v1.2h-1.2zM62.4 89.3h1.2v1.2h-1.2zM64 101.3h1.2v1.2h-1.2zM59.7 83.4h1.2v1.2h-1.2zM55.5 94.7h1.2v1.2h-1.2zM65.6 103.8h1.2v1.2h-1.2zM58.8 103.6h1.2v1.2h-1.2zM53.3 100.5h1.2v1.2h-1.2zM59.4 103.9h1.2v1.2h-1.2zM58.3 99h1.2v1.2h-1.2zM57.7 95.5h1.2v1.2h-1.2zM80.2 103.6h1.2v1.2h-1.2zM72.3 89.1h1.2v1.2h-1.2zM65.6 105.9h1.2v1.2h-1.2zM66.3 91.8h1.2v1.2h-1.2zM50.7 101.9h1.2v1.2h-1.2zM63.8 92.8h1.2v1.2h-1.2zM55.3 97.2h1.2v1.2h-1.2zM59.6 102.4h1.2v1.2h-1.2zM56.3 91.3h1.2v1.2h-1.2zM58 107.2h1.2v1.2h-1.2zM63.2 104.6h1.2v1.2h-1.2zM63.6 94.7h1.2v1.2h-1.2zM64.5 107.1h1.2v1.2h-1.2zM77.9 105.2h1.2v1.2h-1.2zM55.8 95.8h1.2v1.2h-1.2zM51.3 100.8h1.2v1.2h-1.2zM58.7 104.7h1.2v1.2h-1.2zM80.6 99.8h1.2v1.2h-1.2zM65.4 103.3h1.2v1.2h-1.2zM61.6 98.5h1.2v1.2h-1.2zM57.8 94.2h1.2v1.2h-1.2zM60.7 99.8h1.2v1.2h-1.2zM62 94h1.2v1.2h-1.2zM59.4 100.3h1.2v1.2h-1.2zM64.7 92.6h1.2v1.2h-1.2zM63 106.9h1.2v1.2h-1.2zM64.7 97.4h1.2v1.2h-1.2zM54.3 98.3h1.2v1.2h-1.2zM57.5 95.5h1.2v1.2h-1.2zM62.6 101.4h1.2v1.2h-1.2zM50.4 94.8h1.2v1.2h-1.2zM58 104.7h1.2v1.2h-1.2zM47.7 92.9h1.2v1.2h-1.2zM63.7 91.4h1.2v1.2h-1.2zM60 102.5h1.2v1.2h-1.2zM57.9 92.9h1.2v1.2h-1.2zM58.4 97.7h1.2v1.2h-1.2zM62.2 94.1h1.2v1.2h-1.2zM69.4 88.3h1.2v1.2h-1.2zM57.3 100.1h1.2v1.2h-1.2zM68.1 95.7h1.2v1.2h-1.2zM64.2 96h1.2v1.2h-1.2zM55.2 103.1h1.2v1.2h-1.2zM50.2 106.8h1.2v1.2h-1.2zM70.5 100.2h1.2v1.2h-1.2zM48.2 102.8h1.2v1.2h-1.2zM69.9 107.6h1.2v1.2h-1.2zM66.7 87.2h1.2v1.2h-1.2zM47.4 107.9h1.2v1.2h-1.2zM76.9 105.3h1.2v1.2h-1.2zM69.6 97.7h1.2v1.2h-1.2zM47.4 99.3h1.2v1.2h-1.2zM57.1 99.7h1.2v1.2h-1.2zM65.6 99h1.2v1.2h-1.2zM60.8 103h1.2v1.2h-1.2zM63.2 100.6h1.2v1.2h-1.2zM57 95.6h1.2v1.2h-1.2zM71.8 101.1h1.2v1.2h-1.2zM48.8 96.1h1.2v1.2h-1.2zM57.7 96.9h1.2v1.2h-1.2zM69.3 91.9h1.2v1.2h-1.2zM63.7 101h1.2v1.2h-1.2zM47.8 100.3h1.2v1.2h-1.2zM58.1 103.5h1.2v1.2h-1.2zM54.7 102.1h1.2v1.2h-1.2zM66.5 107.3h1.2v1.2h-1.2zM58.9 95.8h1.2v1.2h-1.2zM69.3 85.4h1.2v1.2h-1.2zM51.4 104.7h1.2v1.2h-1.2zM65.2 92.8h1.2v1.2h-1.2zM60.5 93.7h1.2v1.2h-1.2zM59.5 106.3h1.2v1.2h-1.2zM66 85.4h1.2v1.2h-1.2zM66.3 87.5h1.2v1.2h-1.2zM69.8 102.8h1.2v1.2h-1.2zM80.4 95.7h1.2v1.2h-1.2zM59 107.3h1.2v1.2h-1.2zM52.9 95.1h1.2v1.2h-1.2zM55.5 99.5h1.2v1.2h-1.2zM48.7 103.4h1.2v1.2h-1.2zM64.2 100.5h1.2v1.2h-1.2zM75.2 97.7h1.2v1.2h-1.2zM71.4 96.2h1.2v1.2h-1.2zM66.2 86.5h1.2v1.2h-1.2zM60.9 98.8h1.2v1.2h-1.2zM54.3 95.7h1.2v1.2h-1.2zM55.7 95h1.2v1.2h-1.2zM53.8 96.3h1.2v1.2h-1.2zM49 99.1h1.2v1.2h-1.2zM66.5 98.2h1.2v1.2h-1.2zM68.3 106.5h1.2v1.2h-1.2zM70 97.7h1.2v1.2h-1.2zM57.8 107.8h1.2v1.2h-1.2zM53.7 99.2h1.2v1.2h-1.2zM62.6 102.6h1.2v1.2h-1.2zM56.4 106.9h1.2v1.2h-1.2zM57.3 105.1h1.2v1.2h-1.2zM69.2 104.6h1.2v1.2h-1.2zM66 91.9h1.2v1.2h-1.2zM47.4 102.1h1.2v1.2h-1.2zM50.9 94.9h1.2v1.2h-1.2zM56.4 104.8h1.2v1.2h-1.2zM49.6 106.2h1.2v1.2h-1.2zM67.8 100.5h1.2v1.2h-1.2zM63.5 96.1h1.2v1.2h-1.2zM48.6 97.2h1.2v1.2h-1.2zM60.9 102.2h1.2v1.2h-1.2zM66.1 94.5h1.2v1.2h-1.2zM67.7 102.6h1.2v1.2h-1.2zM64.2 103.2h1.2v1.2h-1.2zM74.1 97.1h1.2v1.2h-1.2zM63.9 105.2h1.2v1.2h-1.2zM64 92.4h1.2v1.2h-1.2zM57.9 88.5h1.2v1.2h-1.2zM59.7 92.1h1.2v1.2h-1.2zM62.2 89.3h1.2v1.2h-1.2zM63.3 98.1h1.2v1.2h-1.2zM59.6 99.5h1.2v1.2h-1.2zM60.2 90.8h1.2v1.2h-1.2zM50.1 96.8h1.2v1.2h-1.2zM63.1 86.1h1.2v1.2h-1.2zM51.7 95.7h1.2v1.2h-1.2zM49 102.3h1.2v1.2h-1.2zM57.7 94.3h1.2v1.2h-1.2zM49.6 105.7h1.2v1.2h-1.2zM52.7 104.1h1.2v1.2h-1.2zM63.3 86.7h1.2v1.2h-1.2zM48.7 100h1.2v1.2h-1.2zM62.2 105.5h1.2v1.2h-1.2zM66.6 107.2h1.2v1.2h-1.2zM55.4 98.5h1.2v1.2h-1.2zM66.4 97h1.2v1.2h-1.2zM69 88.9h1.2v1.2h-1.2zM65.2 98.8h1.2v1.2h-1.2zM62 100.1h1.2v1.2h-1.2zM48.8 96.7h1.2v1.2h-1.2zM73.4 94.2h1.2v1.2h-1.2zM47.6 99.1h1.2v1.2h-1.2zM55.3 93.6h1.2v1.2h-1.2zM51 107.3h1.2v1.2h-1.2zM53.8 92.4h1.2v1.2h-1.2zM66.5 103.9h1.2v1.2h-1.2zM49.1 105.2h1.2v1.2h-1.2zM69.7 98.2h1.2v1.2h-1.2zM67.7 99.8h1.2v1.2h-1.2zM63 105.4h1.2v1.2h-1.2zM76.6 98.2h1.2v1.2h-1.2zM54.4 99.7h1.2v1.2h-1.2zM70.5 93.4h1.2v1.2h-1.2zM71.4 80.8h1.2v1.2h-1.2zM66.6 95.3h1.2v1.2h-1.2zM63.4 104.8h1.2v1.2h-1.2zM47.8 99.4h1.2v1.2h-1.2zM61.3 104.1h1.2v1.2h-1.2zM50.2 93.1h1.2v1.2h-1.2zM57.2 98.4h1.2v1.2h-1.2zM67.1 100.1h1.2v1.2h-1.2zM65.9 92.2h1.2v1.2h-1.2zM55.9 96h1.2v1.2h-1.2zM50.3 96.8h1.2v1.2h-1.2zM63 102.8h1.2v1.2h-1.2zM59.3 96.7h1.2v1.2h-1.2zM63.7 102.5h1.2v1.2h-1.2zM60.4 100.4h1.2v1.2h-1.2zM60.1 93.9h1.2v1.2h-1.2zM57.1 93.6h1.2v1.2h-1.2zM62.6 104.8h1.2v1.2h-1.2zM51.3 96.8h1.2v1.2h-1.2zM50.1 102.1h1.2v1.2h-1.2zM77.8 105h1.2v1.2h-1.2zM59 102.1h1.2v1.2h-1.2zM75.9 94.2h1.2v1.2h-1.2zM62.3 94.5h1.2v1.2h-1.2zM59.4 107h1.2v1.2h-1.2zM57.7 95.1h1.2v1.2h-1.2zM59.2 104.3h1.2v1.2h-1.2zM55.2 103.5h1.2v1.2h-1.2zM66.7 99h1.2v1.2h-1.2zM54.7 98.7h1.2v1.2h-1.2zM49.8 98.5h1.2v1.2h-1.2zM56.1 101.5h1.2v1.2h-1.2zM54.8 104.2h1.2v1.2h-1.2zM61.8 105.3h1.2v1.2h-1.2zM59.2 101.9h1.2v1.2h-1.2zM54.5 94.5h1.2v1.2h-1.2zM65.3 103.1h1.2v1.2h-1.2zM61.5 96.8h1.2v1.2h-1.2zM60.9 96.1h1.2v1.2h-1.2zM52.2 99.8h1.2v1.2h-1.2zM54.2 101.1h1.2v1.2h-1.2zM57 94.8h1.2v1.2h-1.2zM69.2 94.5h1.2v1.2h-1.2zM54.2 103.9h1.2v1.2h-1.2zM53.9 97h1.2v1.2h-1.2zM62.4 97.4h1.2v1.2h-1.2zM48.6 106.8h1.2v1.2h-1.2zM51.5 97.5h1.2v1.2h-1.2zM55.9 101.9h1.2v1.2h-1.2zM68.5 105.7h1.2v1.2h-1.2zM51.8 106.3h1.2v1.2h-1.2zM58 102.5h1.2v1.2h-1.2zM56.4 104.6h1.2v1.2h-1.2zM69.6 107.9h1.2v1.2h-1.2zM57.1 107h1.2v1.2h-1.2zM72.8 93.5h1.2v1.2h-1.2zM73 90.7h1.2v1.2h-1.2zM64.2 104.2h1.2v1.2h-1.2zM73.1 102h1.2v1.2h-1.2zM54.4 94.4h1.2v1.2h-1.2zM56.7 95h1.2v1.2h-1.2zM64.1 94.6h1.2v1.2h-1.2zM54.8 96.8h1.2v1.2h-1.2zM57.5 89h1.2v1.2h-1.2zM61.6 100.5h1.2v1.2h-1.2zM62.3 104h1.2v1.2h-1.2zM56 106.5h1.2v1.2h-1.2zM67 101.5h1.2v1.2h-1.2zM55.1 96.6h1.2v1.2h-1.2zM65.6 92.3h1.2v1.2h-1.2zM57.5 94.8h1.2v1.2h-1.2zM58.8 100.3h1.2v1.2h-1.2zM67.3 89.5h1.2v1.2h-1.2zM58.4 102h1.2v1.2h-1.2zM66.9 92.4h1.2v1.2h-1.2zM65.8 101.5h1.2v1.2h-1.2zM71.9 108h1.2v1.2h-1.2zM59 97h1.2v1.2h-1.2zM55.8 93.4h1.2v1.2h-1.2zM58.7 86.9h1.2v1.2h-1.2zM58.2 103h1.2v1.2h-1.2zM68.4 97.6h1.2v1.2h-1.2zM72.2 95.4h1.2v1.2h-1.2zM57.7 86.9h1.2v1.2h-1.2zM51.8 94.5h1.2v1.2h-1.2zM72.9 103.6h1.2v1.2h-1.2zM48.8 103.6h1.2v1.2h-1.2zM63.5 98.4h1.2v1.2h-1.2zM59.2 97.9h1.2v1.2h-1.2zM54 87.9h1.2v1.2h-1.2zM72.3 98.1h1.2v1.2h-1.2zM52.1 98.6h1.2v1.2h-1.2zM67.3 102.4h1.2v1.2h-1.2zM53.6 102.5h1.2v1.2h-1.2zM57.1 103.5h1.2v1.2h-1.2zM55.2 90h1.2v1.2h-1.2zM59.5 105.2h1.2v1.2h-1.2zM48.7 99.3h1.2v1.2h-1.2zM67.1 97.4h1.2v1.2h-1.2zM66.7 107h1.2v1.2h-1.2zM50.4 95.5h1.2v1.2h-1.2zM60.8 86.9h1.2v1.2h-1.2zM64.9 103.8h1.2v1.2h-1.2zM54.9 103.7h1.2v1.2h-1.2zM66.2 102.1h1.2v1.2h-1.2zM54.6 101.1h1.2v1.2h-1.2zM54.2 107h1.2v1.2h-1.2zM55.2 103.2h1.2v1.2h-1.2zM60.3 100.5h1.2v1.2h-1.2zM74.8 99.4h1.2v1.2h-1.2zM72 105.6h1.2v1.2h-1.2zM71.1 98.9h1.2v1.2h-1.2zM67.5 105.1h1.2v1.2h-1.2zM53.4 101.8h1.2v1.2h-1.2zM57.8 99.8h1.2v1.2h-1.2zM71 95.1h1.2v1.2h-1.2zM54.8 95.6h1.2v1.2h-1.2zM59.1 103.8h1.2v1.2h-1.2zM75.1 102.1h1.2v1.2h-1.2zM63.2 95h1.2v1.2h-1.2zM71.3 86.8h1.2v1.2h-1.2zM66.6 89.9h1.2v1.2h-1.2zM56.2 104h1.2v1.2h-1.2zM62.8 94.5h1.2v1.2h-1.2zM50.9 106.5h1.2v1.2h-1.2zM59.2 102h1.2v1.2h-1.2zM65.3 90.1h1.2v1.2h-1.2zM77.9 90.5h1.2v1.2h-1.2zM47.8 100.3h1.2v1.2h-1.2zM63.4 104.9h1.2v1.2h-1.2zM55.6 98.6h1.2v1.2h-1.2zM56.8 96.1h1.2v1.2h-1.2z" fill="#1838f0"/>
<path d="M112 98.1h1.2v1.2h-1.2zM106.8 98.8h1.2v1.2h-1.2zM110.4 96.4h1.2v1.2h-1.2zM117.1 84.6h1.2v1.2h-1.2zM112 89.3h1.2v1.2h-1.2zM108.6 107.8h1.2v1.2h-1.2zM104 96.3h1.2v1.2h-1.2zM107 103.8h1.2v1.2h-1.2zM104.7 84.9h1.2v1.2h-1.2zM113.6 94.4h1.2v1.2h-1.2zM108.6 104.8h1.2v1.2h-1.2zM105.2 94.3h1.2v1.2h-1.2zM111.4 100h1.2v1.2h-1.2zM107.4 104.5h1.2v1.2h-1.2zM123.8 94.1h1.2v1.2h-1.2zM118.9 94.5h1.2v1.2h-1.2zM111.3 94.6h1.2v1.2h-1.2zM106.7 87.8h1.2v1.2h-1.2zM108.2 106.3h1.2v1.2h-1.2zM117.3 94.5h1.2v1.2h-1.2zM107.4 91.9h1.2v1.2h-1.2zM114.5 97.8h1.2v1.2h-1.2zM107.6 89.6h1.2v1.2h-1.2zM118.3 102.6h1.2v1.2h-1.2zM104.8 104.1h1.2v1.2h-1.2zM103.9 101.6h1.2v1.2h-1.2zM104.8 94h1.2v1.2h-1.2zM113.4 100.1h1.2v1.2h-1.2zM116.5 91h1.2v1.2h-1.2zM119.9 106.7h1.2v1.2h-1.2zM110.4 100.3h1.2v1.2h-1.2zM105.9 95.9h1.2v1.2h-1.2zM102.6 97.6h1.2v1.2h-1.2zM111.7 106.7h1.2v1.2h-1.2zM116.1 102.9h1.2v1.2h-1.2zM108.3 95.4h1.2v1.2h-1.2zM108.5 98.6h1.2v1.2h-1.2zM99 102.6h1.2v1.2h-1.2zM101.2 93.3h1.2v1.2h-1.2zM110.6 93.3h1.2v1.2h-1.2zM120.4 96.3h1.2v1.2h-1.2zM119.9 105.5h1.2v1.2h-1.2zM107.5 99.9h1.2v1.2h-1.2zM118.2 94.6h1.2v1.2h-1.2zM111 93h1.2v1.2h-1.2zM110.8 94.5h1.2v1.2h-1.2zM111 104.2h1.2v1.2h-1.2zM118.8 98h1.2v1.2h-1.2zM111.7 103.2h1.2v1.2h-1.2zM108.8 89.4h1.2v1.2h-1.2zM117.1 90.3h1.2v1.2h-1.2zM116 90.1h1.2v1.2h-1.2zM121.4 89.5h1.2v1.2h-1.2zM115.6 107.8h1.2v1.2h-1.2zM104.8 107.7h1.2v1.2h-1.2zM105.6 84.3h1.2v1.2h-1.2zM114.8 102.1h1.2v1.2h-1.2zM110.2 94.8h1.2v1.2h-1.2zM108.2 94.9h1.2v1.2h-1.2zM99.8 92.9h1.2v1.2h-1.2zM108.3 91.9h1.2v1.2h-1.2zM112.9 104.6h1.2v1.2h-1.2zM114.8 88.6h1.2v1.2h-1.2zM111.5 98h1.2v1.2h-1.2zM119.1 105.6h1.2v1.2h-1.2zM113.6 105.8h1.2v1.2h-1.2zM108.1 108.1h1.2v1.2h-1.2zM108 99.8h1.2v1.2h-1.2zM116 90.4h1.2v1.2h-1.2zM106.3 84.3h1.2v1.2h-1.2zM111.5 96.6h1.2v1.2h-1.2zM108.6 100.6h1.2v1.2h-1.2zM97.9 96.8h1.2v1.2h-1.2zM111 95.1h1.2v1.2h-1.2zM107.8 90.2h1.2v1.2h-1.2zM106.9 97.7h1.2v1.2h-1.2zM114 90.8h1.2v1.2h-1.2zM116.4 89.6h1.2v1.2h-1.2zM115.4 100.1h1.2v1.2h-1.2zM108.9 95.8h1.2v1.2h-1.2zM113.3 103.2h1.2v1.2h-1.2zM102.5 99h1.2v1.2h-1.2zM106.1 101.5h1.2v1.2h-1.2zM118.7 97.4h1.2v1.2h-1.2zM109.9 98.3h1.2v1.2h-1.2zM92.9 102.5h1.2v1.2h-1.2zM113.8 98.2h1.2v1.2h-1.2zM108.1 91.7h1.2v1.2h-1.2zM109.4 105.7h1.2v1.2h-1.2zM109.9 106.7h1.2v1.2h-1.2zM95.2 93.7h1.2v1.2h-1.2zM112.1 96.9h1.2v1.2h-1.2zM100.6 92.2h1.2v1.2h-1.2zM117.9 87.7h1.2v1.2h-1.2zM104.6 89.1h1.2v1.2h-1.2zM107.2 101.6h1.2v1.2h-1.2zM119.2 92.7h1.2v1.2h-1.2zM110 88.1h1.2v1.2h-1.2zM106.7 91.8h1.2v1.2h-1.2zM104.5 94.6h1.2v1.2h-1.2zM115.7 99.5h1.2v1.2h-1.2zM104.6 97.8h1.2v1.2h-1.2zM110.7 102.5h1.2v1.2h-1.2zM108.5 100.3h1.2v1.2h-1.2zM123 97.7h1.2v1.2h-1.2zM104.1 99.4h1.2v1.2h-1.2zM105.7 94.3h1.2v1.2h-1.2zM111.6 99.4h1.2v1.2h-1.2zM108.8 103.1h1.2v1.2h-1.2zM109.4 87.6h1.2v1.2h-1.2zM115.7 94.4h1.2v1.2h-1.2zM117.7 92.3h1.2v1.2h-1.2zM113.9 99.3h1.2v1.2h-1.2zM94.4 86.2h1.2v1.2h-1.2zM103.8 107.1h1.2v1.2h-1.2zM99.3 103.6h1.2v1.2h-1.2zM117 100.6h1.2v1.2h-1.2zM114.5 93.4h1.2v1.2h-1.2zM110.4 98.6h1.2v1.2h-1.2zM113 102.1h1.2v1.2h-1.2zM109.3 92h1.2v1.2h-1.2zM107.2 100h1.2v1.2h-1.2zM100.6 88h1.2v1.2h-1.2zM108 93h1.2v1.2h-1.2zM108.5 95.2h1.2v1.2h-1.2zM108.7 100.4h1.2v1.2h-1.2zM113.4 105.6h1.2v1.2h-1.2zM116.8 89.4h1.2v1.2h-1.2zM114.3 94.6h1.2v1.2h-1.2zM105.7 108.1h1.2v1.2h-1.2zM106.8 90.8h1.2v1.2h-1.2zM108.1 90.9h1.2v1.2h-1.2zM116.5 99.7h1.2v1.2h-1.2zM118.8 100h1.2v1.2h-1.2zM106.8 104.6h1.2v1.2h-1.2zM106.6 93.7h1.2v1.2h-1.2zM109.5 97.3h1.2v1.2h-1.2zM117.6 92.6h1.2v1.2h-1.2zM112.6 96.8h1.2v1.2h-1.2zM103 89.1h1.2v1.2h-1.2zM109.2 99.9h1.2v1.2h-1.2zM112.4 100.5h1.2v1.2h-1.2zM110.8 93.8h1.2v1.2h-1.2zM113 89.8h1.2v1.2h-1.2zM102.5 94.6h1.2v1.2h-1.2zM102 93.3h1.2v1.2h-1.2zM106 93h1.2v1.2h-1.2zM110.2 91.2h1.2v1.2h-1.2zM108 84.6h1.2v1.2h-1.2zM111.4 90.6h1.2v1.2h-1.2zM105.7 98.8h1.2v1.2h-1.2zM95.9 94.4h1.2v1.2h-1.2zM111.1 97.7h1.2v1.2h-1.2zM101.6 98.7h1.2v1.2h-1.2zM111.4 90h1.2v1.2h-1.2zM115 96.6h1.2v1.2h-1.2zM110.6 93.7h1.2v1.2h-1.2zM113.8 97.7h1.2v1.2h-1.2zM117.3 100.3h1.2v1.2h-1.2zM106.8 95.4h1.2v1.2h-1.2zM116 94.4h1.2v1.2h-1.2zM112.8 100.8h1.2v1.2h-1.2zM111.3 98.6h1.2v1.2h-1.2zM111.3 91.5h1.2v1.2h-1.2zM117.7 96h1.2v1.2h-1.2zM106.8 91.8h1.2v1.2h-1.2zM112.6 89.1h1.2v1.2h-1.2zM118.4 104.6h1.2v1.2h-1.2zM118.7 101.3h1.2v1.2h-1.2zM100.4 105.7h1.2v1.2h-1.2zM117.9 100.6h1.2v1.2h-1.2zM98.8 106h1.2v1.2h-1.2zM118.7 93.4h1.2v1.2h-1.2zM111.3 102.6h1.2v1.2h-1.2zM110 105h1.2v1.2h-1.2zM111 102h1.2v1.2h-1.2zM111 86.3h1.2v1.2h-1.2zM112.2 106.5h1.2v1.2h-1.2zM113.8 92.7h1.2v1.2h-1.2zM109.4 103.6h1.2v1.2h-1.2zM97.5 98.4h1.2v1.2h-1.2zM115.5 106.7h1.2v1.2h-1.2zM104.9 92.3h1.2v1.2h-1.2zM99.2 89.6h1.2v1.2h-1.2zM103.6 107h1.2v1.2h-1.2zM113.1 93.4h1.2v1.2h-1.2zM110.1 98.6h1.2v1.2h-1.2zM124.1 98h1.2v1.2h-1.2zM116.4 106.9h1.2v1.2h-1.2zM113.6 99.6h1.2v1.2h-1.2zM109.4 94h1.2v1.2h-1.2zM112.1 96.8h1.2v1.2h-1.2zM109.9 95.1h1.2v1.2h-1.2zM106 96.8h1.2v1.2h-1.2zM107.9 98.5h1.2v1.2h-1.2zM129.3 99.9h1.2v1.2h-1.2zM115.7 103h1.2v1.2h-1.2zM114.8 103h1.2v1.2h-1.2zM114.6 107.3h1.2v1.2h-1.2zM116.6 106.8h1.2v1.2h-1.2zM107.5 97h1.2v1.2h-1.2zM106.1 104h1.2v1.2h-1.2zM115.5 93.6h1.2v1.2h-1.2zM118 88.9h1.2v1.2h-1.2zM109.9 101.6h1.2v1.2h-1.2zM110.3 99.8h1.2v1.2h-1.2zM117.6 99.4h1.2v1.2h-1.2zM103.9 102.2h1.2v1.2h-1.2zM109.9 97.8h1.2v1.2h-1.2zM107.1 86.9h1.2v1.2h-1.2zM103 94.4h1.2v1.2h-1.2zM117.4 88.5h1.2v1.2h-1.2zM106.1 100.9h1.2v1.2h-1.2zM95.9 106.8h1.2v1.2h-1.2zM105.9 101.8h1.2v1.2h-1.2zM107.6 99.2h1.2v1.2h-1.2zM111.1 97h1.2v1.2h-1.2zM99.5 86.3h1.2v1.2h-1.2zM110.3 107.3h1.2v1.2h-1.2zM107.2 100.9h1.2v1.2h-1.2zM111.5 100.5h1.2v1.2h-1.2zM116.5 86.1h1.2v1.2h-1.2zM112.2 95.7h1.2v1.2h-1.2zM108.6 90.8h1.2v1.2h-1.2zM105.8 89.5h1.2v1.2h-1.2zM120.8 97.1h1.2v1.2h-1.2zM115 89.9h1.2v1.2h-1.2zM93.7 83.7h1.2v1.2h-1.2zM111.4 107.5h1.2v1.2h-1.2zM110.2 89.7h1.2v1.2h-1.2zM109 89.7h1.2v1.2h-1.2zM102.1 95.3h1.2v1.2h-1.2zM108.1 91.1h1.2v1.2h-1.2zM105.1 90.2h1.2v1.2h-1.2zM111.9 107.2h1.2v1.2h-1.2zM100.7 99h1.2v1.2h-1.2zM103.5 95.8h1.2v1.2h-1.2zM111.1 101.1h1.2v1.2h-1.2zM117.3 92.9h1.2v1.2h-1.2zM103 95.6h1.2v1.2h-1.2zM112.3 91.9h1.2v1.2h-1.2zM101.9 99.6h1.2v1.2h-1.2zM111.7 95.4h1.2v1.2h-1.2zM101.9 106.6h1.2v1.2h-1.2zM111.8 93.5h1.2v1.2h-1.2zM113.2 101.7h1.2v1.2h-1.2zM115.1 101.2h1.2v1.2h-1.2zM113 88.4h1.2v1.2h-1.2zM108 97.9h1.2v1.2h-1.2zM108.2 89.3h1.2v1.2h-1.2zM99.5 98.8h1.2v1.2h-1.2zM110.7 92.7h1.2v1.2h-1.2zM108 90.5h1.2v1.2h-1.2zM106 96.3h1.2v1.2h-1.2zM106.6 102h1.2v1.2h-1.2zM109.6 98h1.2v1.2h-1.2zM112.9 106.3h1.2v1.2h-1.2zM114.1 98.7h1.2v1.2h-1.2zM109.5 91.1h1.2v1.2h-1.2zM108.4 102h1.2v1.2h-1.2zM111.9 94.2h1.2v1.2h-1.2zM102.5 85.8h1.2v1.2h-1.2zM112.4 104.5h1.2v1.2h-1.2zM112.8 87h1.2v1.2h-1.2zM109.2 98.6h1.2v1.2h-1.2zM105 99.5h1.2v1.2h-1.2zM109.3 90.9h1.2v1.2h-1.2zM103 102.9h1.2v1.2h-1.2zM112.7 90.5h1.2v1.2h-1.2zM104.4 103.5h1.2v1.2h-1.2zM114.1 94.8h1.2v1.2h-1.2zM120.1 94.9h1.2v1.2h-1.2zM104.1 105h1.2v1.2h-1.2zM109.4 99.5h1.2v1.2h-1.2zM110.7 89.7h1.2v1.2h-1.2zM103.3 95.6h1.2v1.2h-1.2zM119 89.7h1.2v1.2h-1.2zM118.7 98.6h1.2v1.2h-1.2zM103.8 98.9h1.2v1.2h-1.2zM113.9 90.4h1.2v1.2h-1.2zM97.6 99.6h1.2v1.2h-1.2zM103.8 100.2h1.2v1.2h-1.2zM99 96h1.2v1.2h-1.2zM105.6 86.2h1.2v1.2h-1.2zM109 98.3h1.2v1.2h-1.2zM107.1 88.4h1.2v1.2h-1.2zM111.8 84.2h1.2v1.2h-1.2zM113.7 100.6h1.2v1.2h-1.2zM120.6 103.4h1.2v1.2h-1.2zM112.6 98.9h1.2v1.2h-1.2zM110.7 87.3h1.2v1.2h-1.2zM119.3 100.8h1.2v1.2h-1.2zM108.8 88.6h1.2v1.2h-1.2zM119.4 100.9h1.2v1.2h-1.2zM103.4 101.9h1.2v1.2h-1.2zM121.9 96.8h1.2v1.2h-1.2zM112.9 94h1.2v1.2h-1.2zM106.7 104.8h1.2v1.2h-1.2zM129 97.8h1.2v1.2h-1.2zM109.8 102.8h1.2v1.2h-1.2zM108.7 102.3h1.2v1.2h-1.2zM115.5 89.6h1.2v1.2h-1.2zM104 96.5h1.2v1.2h-1.2zM115.5 99h1.2v1.2h-1.2zM118 87h1.2v1.2h-1.2zM113.5 92.5h1.2v1.2h-1.2zM111.1 99.3h1.2v1.2h-1.2zM104.7 95.3h1.2v1.2h-1.2zM103.5 98.9h1.2v1.2h-1.2zM105.4 93.4h1.2v1.2h-1.2zM111.8 92.2h1.2v1.2h-1.2zM117.4 92.4h1.2v1.2h-1.2zM115.6 99.1h1.2v1.2h-1.2zM104.3 95.4h1.2v1.2h-1.2zM105.5 94.4h1.2v1.2h-1.2zM113.2 87.5h1.2v1.2h-1.2zM96.6 101.9h1.2v1.2h-1.2zM98.5 102.2h1.2v1.2h-1.2zM116.7 99.8h1.2v1.2h-1.2zM109.2 95.2h1.2v1.2h-1.2zM112.1 94.8h1.2v1.2h-1.2zM107.3 94.3h1.2v1.2h-1.2zM117.5 92.5h1.2v1.2h-1.2zM112.8 88.6h1.2v1.2h-1.2zM106.2 87h1.2v1.2h-1.2zM109.3 102h1.2v1.2h-1.2zM112.3 93.4h1.2v1.2h-1.2zM114.2 94.5h1.2v1.2h-1.2zM112.7 99h1.2v1.2h-1.2zM102.7 102.6h1.2v1.2h-1.2zM109.1 93h1.2v1.2h-1.2zM119.5 101h1.2v1.2h-1.2zM121.9 100.7h1.2v1.2h-1.2zM109.3 102.3h1.2v1.2h-1.2zM105.8 93.8h1.2v1.2h-1.2zM107.2 95.4h1.2v1.2h-1.2zM115.2 93.5h1.2v1.2h-1.2zM112.4 93.4h1.2v1.2h-1.2zM109.3 98.2h1.2v1.2h-1.2zM104 104.3h1.2v1.2h-1.2zM111.8 106.3h1.2v1.2h-1.2zM116.3 101.6h1.2v1.2h-1.2zM109.6 89.1h1.2v1.2h-1.2zM109.2 93.7h1.2v1.2h-1.2zM112 93.6h1.2v1.2h-1.2zM128.8 85.4h1.2v1.2h-1.2zM117.5 93.6h1.2v1.2h-1.2zM109 103.7h1.2v1.2h-1.2zM110.5 88.2h1.2v1.2h-1.2zM113 95.6h1.2v1.2h-1.2zM98.2 98.4h1.2v1.2h-1.2zM104.2 91.6h1.2v1.2h-1.2zM113.4 99.2h1.2v1.2h-1.2zM113 92.6h1.2v1.2h-1.2zM111.9 96.1h1.2v1.2h-1.2zM97.3 85.6h1.2v1.2h-1.2zM109.4 95h1.2v1.2h-1.2zM107.1 104.1h1.2v1.2h-1.2zM109.8 99.7h1.2v1.2h-1.2zM107.9 95.8h1.2v1.2h-1.2zM100.1 92.8h1.2v1.2h-1.2zM104.8 92.3h1.2v1.2h-1.2zM117.8 98.9h1.2v1.2h-1.2zM117.8 103.2h1.2v1.2h-1.2zM116 104.3h1.2v1.2h-1.2zM106.9 102.8h1.2v1.2h-1.2zM108.6 93.2h1.2v1.2h-1.2zM115.5 90.9h1.2v1.2h-1.2zM112.1 99.7h1.2v1.2h-1.2zM112.7 94.4h1.2v1.2h-1.2zM102.8 97.2h1.2v1.2h-1.2zM115.6 102.7h1.2v1.2h-1.2zM114.4 105h1.2v1.2h-1.2zM104.6 96.7h1.2v1.2h-1.2zM112.5 104.2h1.2v1.2h-1.2zM111.4 100.7h1.2v1.2h-1.2zM97.5 96.8h1.2v1.2h-1.2zM125.3 98.7h1.2v1.2h-1.2zM99.6 98h1.2v1.2h-1.2zM101.9 92.1h1.2v1.2h-1.2zM113.3 101.8h1.2v1.2h-1.2zM116.6 98.4h1.2v1.2h-1.2zM105.4 96.3h1.2v1.2h-1.2zM112.5 95h1.2v1.2h-1.2zM106.5 94.4h1.2v1.2h-1.2zM101.5 89.6h1.2v1.2h-1.2zM110 94.4h1.2v1.2h-1.2zM110.7 107.1h1.2v1.2h-1.2zM112.3 96.8h1.2v1.2h-1.2zM103.5 89.2h1.2v1.2h-1.2zM112.7 90.7h1.2v1.2h-1.2zM113.1 89.2h1.2v1.2h-1.2zM111.3 96.5h1.2v1.2h-1.2zM116.4 94.2h1.2v1.2h-1.2zM108.3 98.8h1.2v1.2h-1.2zM109 93.1h1.2v1.2h-1.2zM108.6 100.4h1.2v1.2h-1.2zM111.9 102h1.2v1.2h-1.2zM121.5 96.8h1.2v1.2h-1.2zM103.3 98.1h1.2v1.2h-1.2zM110.6 86.3h1.2v1.2h-1.2zM113.2 107h1.2v1.2h-1.2zM116.7 86.1h1.2v1.2h-1.2zM118.7 103.5h1.2v1.2h-1.2zM108.3 100.6h1.2v1.2h-1.2zM119.6 94.6h1.2v1.2h-1.2zM110.4 93h1.2v1.2h-1.2zM119 90h1.2v1.2h-1.2zM116 85.3h1.2v1.2h-1.2zM104.9 92.7h1.2v1.2h-1.2zM115.4 85.3h1.2v1.2h-1.2zM114.1 92.4h1.2v1.2h-1.2zM117.9 94.8h1.2v1.2h-1.2zM113.4 95.8h1.2v1.2h-1.2zM121.2 94.4h1.2v1.2h-1.2zM111 102h1.2v1.2h-1.2zM106.1 98.4h1.2v1.2h-1.2zM97 97.8h1.2v1.2h-1.2zM106.6 86.2h1.2v1.2h-1.2zM102.1 105.2h1.2v1.2h-1.2zM113 86.1h1.2v1.2h-1.2zM121.3 92h1.2v1.2h-1.2zM108.3 98.8h1.2v1.2h-1.2zM103.7 85.3h1.2v1.2h-1.2zM106.1 105.5h1.2v1.2h-1.2zM116.2 85.6h1.2v1.2h-1.2zM117.7 97.2h1.2v1.2h-1.2zM113.5 97.4h1.2v1.2h-1.2zM113 89.8h1.2v1.2h-1.2zM105.1 91.9h1.2v1.2h-1.2zM108.3 101.5h1.2v1.2h-1.2zM106.7 92.8h1.2v1.2h-1.2zM114.7 100.1h1.2v1.2h-1.2zM108.5 89.3h1.2v1.2h-1.2zM104.5 85.5h1.2v1.2h-1.2zM117.3 104.8h1.2v1.2h-1.2zM121.6 100.6h1.2v1.2h-1.2zM112.5 102.5h1.2v1.2h-1.2zM116.2 95.1h1.2v1.2h-1.2zM100.4 86.9h1.2v1.2h-1.2zM104.8 102.4h1.2v1.2h-1.2zM117.6 94.6h1.2v1.2h-1.2zM114.5 96.7h1.2v1.2h-1.2zM112.3 93.1h1.2v1.2h-1.2zM110.3 97h1.2v1.2h-1.2zM99.7 100.8h1.2v1.2h-1.2zM110.5 104h1.2v1.2h-1.2zM116.8 102.6h1.2v1.2h-1.2zM115.3 90.1h1.2v1.2h-1.2zM117.7 90.1h1.2v1.2h-1.2zM118.2 101.8h1.2v1.2h-1.2zM95.9 103.5h1.2v1.2h-1.2zM104.6 105.4h1.2v1.2h-1.2zM106.4 91.6h1.2v1.2h-1.2zM101.3 95.4h1.2v1.2h-1.2zM116.6 92.2h1.2v1.2h-1.2zM121.5 102h1.2v1.2h-1.2zM107.3 88.2h1.2v1.2h-1.2zM100.7 101h1.2v1.2h-1.2zM118.3 89.3h1.2v1.2h-1.2zM110.5 95h1.2v1.2h-1.2zM109 100.6h1.2v1.2h-1.2zM123 92.4h1.2v1.2h-1.2zM115.6 104.9h1.2v1.2h-1.2zM108.8 95.9h1.2v1.2h-1.2zM102.5 104.8h1.2v1.2h-1.2zM107.3 92.3h1.2v1.2h-1.2zM110.9 90.8h1.2v1.2h-1.2zM104.3 94.8h1.2v1.2h-1.2zM119.4 95.5h1.2v1.2h-1.2zM113.6 86.4h1.2v1.2h-1.2zM108.1 85.9h1.2v1.2h-1.2zM109.9 101.4h1.2v1.2h-1.2zM100.2 90.6h1.2v1.2h-1.2zM112.1 90.3h1.2v1.2h-1.2zM115.3 104h1.2v1.2h-1.2zM113.1 93.9h1.2v1.2h-1.2zM110.2 92.4h1.2v1.2h-1.2zM109.7 99.3h1.2v1.2h-1.2zM108.7 104h1.2v1.2h-1.2zM126 93h1.2v1.2h-1.2zM112.6 103h1.2v1.2h-1.2zM114.4 95.3h1.2v1.2h-1.2zM107.6 104.3h1.2v1.2h-1.2zM114.2 100.7h1.2v1.2h-1.2zM105.7 101.6h1.2v1.2h-1.2zM115.3 95.7h1.2v1.2h-1.2zM99.3 101.4h1.2v1.2h-1.2zM103.5 87.1h1.2v1.2h-1.2zM109.1 101h1.2v1.2h-1.2zM110.8 88.6h1.2v1.2h-1.2zM101.9 93h1.2v1.2h-1.2zM110.6 91h1.2v1.2h-1.2zM105.5 95.9h1.2v1.2h-1.2zM107.2 92.8h1.2v1.2h-1.2zM110.7 94.8h1.2v1.2h-1.2zM114.2 88.4h1.2v1.2h-1.2zM110 102.6h1.2v1.2h-1.2zM117.6 101h1.2v1.2h-1.2zM110.7 85.7h1.2v1.2h-1.2zM100.9 104.1h1.2v1.2h-1.2zM114.6 101.1h1.2v1.2h-1.2zM104.2 88.4h1.2v1.2h-1.2zM111.5 89.6h1.2v1.2h-1.2zM120 92.5h1.2v1.2h-1.2zM107.1 103.3h1.2v1.2h-1.2zM112.5 90.5h1.2v1.2h-1.2zM103.1 95.2h1.2v1.2h-1.2zM114.3 102.1h1.2v1.2h-1.2zM116.4 100.1h1.2v1.2h-1.2zM98.4 96.8h1.2v1.2h-1.2zM106.5 88.4h1.2v1.2h-1.2zM103.8 102.6h1.2v1.2h-1.2zM115.9 106.1h1.2v1.2h-1.2zM110.7 88.2h1.2v1.2h-1.2zM121.2 87.4h1.2v1.2h-1.2zM102.9 84.6h1.2v1.2h-1.2zM117.1 105.6h1.2v1.2h-1.2zM108.1 87.1h1.2v1.2h-1.2zM110.1 99.8h1.2v1.2h-1.2zM101.3 88.5h1.2v1.2h-1.2zM109.9 102.1h1.2v1.2h-1.2zM110.9 100.3h1.2v1.2h-1.2zM112.4 90.3h1.2v1.2h-1.2zM109.8 94.2h1.2v1.2h-1.2zM113.4 91.4h1.2v1.2h-1.2zM119.2 97.2h1.2v1.2h-1.2zM113.7 101.6h1.2v1.2h-1.2zM116.8 100h1.2v1.2h-1.2zM99.9 92.4h1.2v1.2h-1.2zM121.8 100.5h1.2v1.2h-1.2zM113.9 100.4h1.2v1.2h-1.2zM106.6 92h1.2v1.2h-1.2zM106.6 105.5h1.2v1.2h-1.2zM113.3 88.3h1.2v1.2h-1.2zM121.1 99.5h1.2v1.2h-1.2zM117.7 98.6h1.2v1.2h-1.2zM108.5 98.2h1.2v1.2h-1.2zM103.7 88.2h1.2v1.2h-1.2zM105.1 93.1h1.2v1.2h-1.2zM102.3 96.2h1.2v1.2h-1.2zM121.7 96.6h1.2v1.2h-1.2zM115.9 95.4h1.2v1.2h-1.2zM112.9 96.8h1.2v1.2h-1.2zM107.2 97.6h1.2v1.2h-1.2zM101.5 100.2h1.2v1.2h-1.2zM108.7 89h1.2v1.2h-1.2zM108.3 101.1h1.2v1.2h-1.2zM106.4 100.5h1.2v1.2h-1.2zM103.9 96.2h1.2v1.2h-1.2zM113.6 108.1h1.2v1.2h-1.2zM112.1 102.6h1.2v1.2h-1.2zM101.5 92.7h1.2v1.2h-1.2zM120.6 94.9h1.2v1.2h-1.2zM123.7 91.6h1.2v1.2h-1.2zM108.8 85.2h1.2v1.2h-1.2zM114.4 99h1.2v1.2h-1.2zM122.8 98.2h1.2v1.2h-1.2zM109 86.6h1.2v1.2h-1.2zM110 104h1.2v1.2h-1.2zM115 106.1h1.2v1.2h-1.2zM115.8 96.7h1.2v1.2h-1.2zM114.2 98.3h1.2v1.2h-1.2zM112.8 89.2h1.2v1.2h-1.2zM112.9 99.1h1.2v1.2h-1.2zM116.6 107.7h1.2v1.2h-1.2zM91.9 101.1h1.2v1.2h-1.2zM119.9 90h1.2v1.2h-1.2zM99.1 99.1h1.2v1.2h-1.2zM112.6 99.6h1.2v1.2h-1.2zM103.7 93.5h1.2v1.2h-1.2zM111.7 102.5h1.2v1.2h-1.2zM124 99.2h1.2v1.2h-1.2zM117.1 96h1.2v1.2h-1.2zM109.8 89.7h1.2v1.2h-1.2zM115 83.7h1.2v1.2h-1.2zM111.2 97.9h1.2v1.2h-1.2zM112.3 106.7h1.2v1.2h-1.2zM109.9 97.7h1.2v1.2h-1.2zM115.8 85.5h1.2v1.2h-1.2zM108.7 97.5h1.2v1.2h-1.2zM116.4 91h1.2v1.2h-1.2zM115.4 99.9h1.2v1.2h-1.2zM101.4 86h1.2v1.2h-1.2zM101.7 98h1.2v1.2h-1.2zM111.8 102.4h1.2v1.2h-1.2zM115.6 92.9h1.2v1.2h-1.2zM117.1 103.1h1.2v1.2h-1.2zM113.4 100.6h1.2v1.2h-1.2zM102.6 99.7h1.2v1.2h-1.2zM104.1 88.1h1.2v1.2h-1.2zM108.3 98h1.2v1.2h-1.2zM110.2 94.5h1.2v1.2h-1.2zM104.3 98.4h1.2v1.2h-1.2zM105.9 86.5h1.2v1.2h-1.2zM111.1 107.8h1.2v1.2h-1.2zM108 89.1h1.2v1.2h-1.2zM108.7 95.4h1.2v1.2h-1.2zM111.3 104.4h1.2v1.2h-1.2zM103.7 87.8h1.2v1.2h-1.2zM113.2 97.8h1.2v1.2h-1.2zM121.5 95h1.2v1.2h-1.2zM112.4 97.6h1.2v1.2h-1.2zM112.3 108h1.2v1.2h-1.2zM118.5 92.5h1.2v1.2h-1.2zM114.7 94.2h1.2v1.2h-1.2zM111.2 98.2h1.2v1.2h-1.2zM110.6 93.5h1.2v1.2h-1.2zM120.1 95h1.2v1.2h-1.2zM114.4 104.7h1.2v1.2h-1.2zM119.1 105.1h1.2v1.2h-1.2zM121.1 86.3h1.2v1.2h-1.2zM122.6 97.2h1.2v1.2h-1.2zM99.7 92.2h1.2v1.2h-1.2zM101.9 96.8h1.2v1.2h-1.2zM101.3 89.5h1.2v1.2h-1.2zM112.3 98.2h1.2v1.2h-1.2zM105.6 95.2h1.2v1.2h-1.2zM109.9 97.6h1.2v1.2h-1.2zM110.5 95.3h1.2v1.2h-1.2zM115.9 85h1.2v1.2h-1.2zM107.4 98h1.2v1.2h-1.2zM108 92.9h1.2v1.2h-1.2zM107.8 98.6h1.2v1.2h-1.2zM118.2 95.6h1.2v1.2h-1.2zM108.8 99.7h1.2v1.2h-1.2zM112.2 94.2h1.2v1.2h-1.2zM107 101.7h1.2v1.2h-1.2zM110.8 92.8h1.2v1.2h-1.2zM97 84.1h1.2v1.2h-1.2zM110.6 96.1h1.2v1.2h-1.2zM113.2 98.7h1.2v1.2h-1.2zM107.5 87.5h1.2v1.2h-1.2zM103.7 96h1.2v1.2h-1.2zM103.4 102.7h1.2v1.2h-1.2zM109.3 83.7h1.2v1.2h-1.2zM120.6 89.6h1.2v1.2h-1.2zM110.2 95.2h1.2v1.2h-1.2zM105.4 83.7h1.2v1.2h-1.2zM99 103.5h1.2v1.2h-1.2zM101.4 101.2h1.2v1.2h-1.2zM110.4 103.3h1.2v1.2h-1.2zM107.3 102.4h1.2v1.2h-1.2zM116.1 101.5h1.2v1.2h-1.2zM119.5 95.7h1.2v1.2h-1.2zM120.1 91.7h1.2v1.2h-1.2zM110.6 91h1.2v1.2h-1.2zM110.5 104.7h1.2v1.2h-1.2zM115 97.7h1.2v1.2h-1.2zM121.1 85.9h1.2v1.2h-1.2zM112.6 88.1h1.2v1.2h-1.2zM119.7 105.6h1.2v1.2h-1.2zM107.1 106.7h1.2v1.2h-1.2zM105.3 103.9h1.2v1.2h-1.2zM114.1 96h1.2v1.2h-1.2zM101.7 94.9h1.2v1.2h-1.2zM96.3 92.8h1.2v1.2h-1.2zM99 106.1h1.2v1.2h-1.2zM114.1 99.8h1.2v1.2h-1.2zM115.3 97.5h1.2v1.2h-1.2zM113.5 104.2h1.2v1.2h-1.2zM106.8 86.4h1.2v1.2h-1.2zM110.2 84.5h1.2v1.2h-1.2zM110.5 102.8h1.2v1.2h-1.2zM119.9 99h1.2v1.2h-1.2zM111.7 102.6h1.2v1.2h-1.2zM119.2 94.6h1.2v1.2h-1.2zM102.9 91.1h1.2v1.2h-1.2zM102.7 90.3h1.2v1.2h-1.2zM109.8 99.6h1.2v1.2h-1.2zM111.5 97.5h1.2v1.2h-1.2zM108.3 100.2h1.2v1.2h-1.2zM116 102.7h1.2v1.2h-1.2zM119.8 94.8h1.2v1.2h-1.2zM111.7 100.1h1.2v1.2h-1.2zM108.4 104.3h1.2v1.2h-1.2zM108 89.4h1.2v1.2h-1.2zM110.1 93.7h1.2v1.2h-1.2zM115.7 94.2h1.2v1.2h-1.2zM111.3 95.4h1.2v1.2h-1.2zM112.6 92.3h1.2v1.2h-1.2zM117.3 86.3h1.2v1.2h-1.2zM108.1 91.7h1.2v1.2h-1.2zM114.5 97.3h1.2v1.2h-1.2zM113.5 94.5h1.2v1.2h-1.2zM106 88.6h1.2v1.2h-1.2zM108.4 93h1.2v1.2h-1.2zM112.2 99.7h1.2v1.2h-1.2zM116.6 96.2h1.2v1.2h-1.2zM105.9 89h1.2v1.2h-1.2zM110.9 99.7h1.2v1.2h-1.2zM122.6 98.4h1.2v1.2h-1.2zM104 106.1h1.2v1.2h-1.2zM117.5 107.1h1.2v1.2h-1.2zM110.4 104.2h1.2v1.2h-1.2zM107.5 96.5h1.2v1.2h-1.2zM109.2 104.2h1.2v1.2h-1.2zM110.9 91.7h1.2v1.2h-1.2zM112 101.9h1.2v1.2h-1.2zM106.1 101.8h1.2v1.2h-1.2zM106.1 90.4h1.2v1.2h-1.2zM111.9 95.2h1.2v1.2h-1.2zM104.4 84.8h1.2v1.2h-1.2zM110.6 98.8h1.2v1.2h-1.2zM107.7 98.4h1.2v1.2h-1.2zM101 99.9h1.2v1.2h-1.2zM113.1 99.1h1.2v1.2h-1.2zM106.7 97.6h1.2v1.2h-1.2zM111.3 105h1.2v1.2h-1.2zM112.2 98.9h1.2v1.2h-1.2zM106 103.5h1.2v1.2h-1.2zM117.8 93.3h1.2v1.2h-1.2zM114.5 99.3h1.2v1.2h-1.2zM110.2 87.4h1.2v1.2h-1.2zM112.4 94.2h1.2v1.2h-1.2zM117.6 93.8h1.2v1.2h-1.2zM110.7 101.6h1.2v1.2h-1.2zM113.3 93.1h1.2v1.2h-1.2zM114.7 99.9h1.2v1.2h-1.2zM116.6 93.2h1.2v1.2h-1.2zM110.2 94.1h1.2v1.2h-1.2zM105.3 98.9h1.2v1.2h-1.2zM113 107.6h1.2v1.2h-1.2zM108.5 99.9h1.2v1.2h-1.2zM117.6 96.1h1.2v1.2h-1.2zM110.9 98h1.2v1.2h-1.2zM106.2 89.6h1.2v1.2h-1.2zM117.4 98.3h1.2v1.2h-1.2zM110 87.7h1.2v1.2h-1.2zM111.2 105.8h1.2v1.2h-1.2zM103.4 90.3h1.2v1.2h-1.2zM117.4 107.7h1.2v1.2h-1.2zM120.1 92.9h1.2v1.2h-1.2zM114.2 91.4h1.2v1.2h-1.2zM113.7 94.3h1.2v1.2h-1.2zM111.7 107h1.2v1.2h-1.2zM112.6 95.2h1.2v1.2h-1.2zM110.8 99h1.2v1.2h-1.2zM107.3 98.5h1.2v1.2h-1.2zM97.8 88.1h1.2v1.2h-1.2zM102.9 103.5h1.2v1.2h-1.2zM125.5 98.4h1.2v1.2h-1.2zM111.2 105.5h1.2v1.2h-1.2zM95.4 95.7h1.2v1.2h-1.2zM91.3 98.2h1.2v1.2h-1.2zM107.4 93.4h1.2v1.2h-1.2zM112.6 92.6h1.2v1.2h-1.2zM117.3 97h1.2v1.2h-1.2zM107.7 103.9h1.2v1.2h-1.2zM105.4 106.3h1.2v1.2h-1.2zM116.4 98h1.2v1.2h-1.2zM119 97h1.2v1.2h-1.2zM110.2 105.2h1.2v1.2h-1.2zM101.5 92.5h1.2v1.2h-1.2zM113.5 101.2h1.2v1.2h-1.2zM112.5 100.3h1.2v1.2h-1.2zM102.4 95.6h1.2v1.2h-1.2zM112.1 95.3h1.2v1.2h-1.2zM110.9 101.5h1.2v1.2h-1.2zM104.7 92.8h1.2v1.2h-1.2zM99.6 105.5h1.2v1.2h-1.2zM104 84.4h1.2v1.2h-1.2zM115.2 95.4h1.2v1.2h-1.2zM116.4 94.3h1.2v1.2h-1.2zM123.5 102.3h1.2v1.2h-1.2zM111.4 97.9h1.2v1.2h-1.2zM109.2 103h1.2v1.2h-1.2zM122.8 93.9h1.2v1.2h-1.2zM103.8 101.4h1.2v1.2h-1.2zM117 85.9h1.2v1.2h-1.2zM106.3 89.6h1.2v1.2h-1.2zM113.9 100.7h1.2v1.2h-1.2zM106 88.7h1.2v1.2h-1.2zM114.4 95.9h1.2v1.2h-1.2zM122.3 104.4h1.2v1.2h-1.2zM107 95h1.2v1.2h-1.2zM108.8 91.6h1.2v1.2h-1.2zM111 104.1h1.2v1.2h-1.2zM101.3 95.3h1.2v1.2h-1.2zM119.6 102.5h1.2v1.2h-1.2zM105.5 91h1.2v1.2h-1.2zM105.3 85.1h1.2v1.2h-1.2zM117.5 97.5h1.2v1.2h-1.2zM106.2 86.4h1.2v1.2h-1.2zM108.2 93.2h1.2v1.2h-1.2zM121 93.6h1.2v1.2h-1.2zM111.2 104.9h1.2v1.2h-1.2zM114.6 95.7h1.2v1.2h-1.2zM97.2 107.4h1.2v1.2h-1.2zM114.2 93.8h1.2v1.2h-1.2zM110 89.9h1.2v1.2h-1.2zM105 86.1h1.2v1.2h-1.2zM113.6 100.8h1.2v1.2h-1.2zM111.6 102.8h1.2v1.2h-1.2zM113.8 97.9h1.2v1.2h-1.2zM105.1 101.4h1.2v1.2h-1.2zM117.7 101.7h1.2v1.2h-1.2zM118.1 93.5h1.2v1.2h-1.2zM104.5 106.2h1.2v1.2h-1.2zM106.9 98.8h1.2v1.2h-1.2zM109.3 97.2h1.2v1.2h-1.2zM108.9 93h1.2v1.2h-1.2zM105 88.7h1.2v1.2h-1.2zM109 102.5h1.2v1.2h-1.2zM114.2 87.8h1.2v1.2h-1.2zM117.9 84.6h1.2v1.2h-1.2zM107 94.4h1.2v1.2h-1.2zM118.1 97.9h1.2v1.2h-1.2zM109.7 91.1h1.2v1.2h-1.2zM111 97.3h1.2v1.2h-1.2zM114.9 107.3h1.2v1.2h-1.2zM115 97.1h1.2v1.2h-1.2zM111.7 96.9h1.2v1.2h-1.2zM114 96.2h1.2v1.2h-1.2zM106.6 104.8h1.2v1.2h-1.2zM107.8 104.1h1.2v1.2h-1.2zM105.7 97.8h1.2v1.2h-1.2zM112.9 98.1h1.2v1.2h-1.2zM111.9 99.8h1.2v1.2h-1.2zM103.7 88.9h1.2v1.2h-1.2zM109.7 90.2h1.2v1.2h-1.2zM106.5 97.2h1.2v1.2h-1.2zM117.7 92.8h1.2v1.2h-1.2zM113.9 98.4h1.2v1.2h-1.2zM108.3 90.1h1.2v1.2h-1.2zM109.6 91.7h1.2v1.2h-1.2zM113.8 84.1h1.2v1.2h-1.2zM117.3 102.6h1.2v1.2h-1.2zM114 108h1.2v1.2h-1.2zM114.2 84.5h1.2v1.2h-1.2zM110.8 100.3h1.2v1.2h-1.2zM106.4 88.7h1.2v1.2h-1.2zM113.1 100.7h1.2v1.2h-1.2zM107.9 95.2h1.2v1.2h-1.2zM107.4 92.8h1.2v1.2h-1.2zM110.2 104.9h1.2v1.2h-1.2zM100.8 94.5h1.2v1.2h-1.2zM120.3 99.3h1.2v1.2h-1.2zM111.4 103.1h1.2v1.2h-1.2zM104.4 88.2h1.2v1.2h-1.2zM100.5 86.3h1.2v1.2h-1.2zM112 103.2h1.2v1.2h-1.2zM108 92h1.2v1.2h-1.2zM112.9 101.5h1.2v1.2h-1.2zM112 90.8h1.2v1.2h-1.2zM106.5 108h1.2v1.2h-1.2zM118.5 100.5h1.2v1.2h-1.2zM112.2 98.3h1.2v1.2h-1.2zM107 96.6h1.2v1.2h-1.2zM122 90.6h1.2v1.2h-1.2zM106.5 98.2h1.2v1.2h-1.2zM115.9 103.1h1.2v1.2h-1.2zM104.7 96.1h1.2v1.2h-1.2zM108.9 88h1.2v1.2h-1.2zM111 93.5h1.2v1.2h-1.2zM116 100.2h1.2v1.2h-1.2zM105.8 97.6h1.2v1.2h-1.2zM108.3 92.4h1.2v1.2h-1.2zM107.6 104.8h1.2v1.2h-1.2zM108 84.5h1.2v1.2h-1.2zM105.8 102.9h1.2v1.2h-1.2zM123.5 89.3h1.2v1.2h-1.2zM108.4 94.6h1.2v1.2h-1.2zM102 99.9h1.2v1.2h-1.2zM110.2 99h1.2v1.2h-1.2zM124 95.1h1.2v1.2h-1.2zM115.3 103.1h1.2v1.2h-1.2zM106.7 92.7h1.2v1.2h-1.2zM119.9 102.2h1.2v1.2h-1.2zM111.4 89h1.2v1.2h-1.2zM115.8 100.8h1.2v1.2h-1.2zM123.7 107.8h1.2v1.2h-1.2zM115.3 99h1.2v1.2h-1.2zM110.9 93h1.2v1.2h-1.2zM112.4 98.8h1.2v1.2h-1.2zM114.4 104.9h1.2v1.2h-1.2zM112.4 93h1.2v1.2h-1.2zM105.5 100.1h1.2v1.2h-1.2zM113.8 100.9h1.2v1.2h-1.2zM113.5 96.3h1.2v1.2h-1.2zM120.9 86.8h1.2v1.2h-1.2zM95.2 100.2h1.2v1.2h-1.2zM106.4 93.2h1.2v1.2h-1.2zM100.9 99.6h1.2v1.2h-1.2zM110.2 93.1h1.2v1.2h-1.2zM119.4 105.6h1.2v1.2h-1.2zM108 101.8h1.2v1.2h-1.2zM110.3 105.4h1.2v1.2h-1.2zM114 96.7h1.2v1.2h-1.2zM113.8 91.8h1.2v1.2h-1.2zM115.3 108h1.2v1.2h-1.2zM108.3 101.1h1.2v1.2h-1.2zM100.5 103.8h1.2v1.2h-1.2zM115.8 89.6h1.2v1.2h-1.2z" fill="#1838f0"/>
<ellipse cx="56" cy="104" rx="17.5" ry="12.5" fill="#1232ee" clip-path="url(#clipA)"/>
<ellipse cx="110.3" cy="97.5" rx="8.8" ry="10.5" fill="#1232ee" clip-path="url(#clipA)"/>
<path d="M120.1 77.4h1.2v1.2h-1.2zM104.9 71.7h1.2v1.2h-1.2zM116.3 75.9h1.2v1.2h-1.2zM117.3 71h1.2v1.2h-1.2zM112.1 80.8h1.2v1.2h-1.2zM109.5 79.6h1.2v1.2h-1.2zM110.9 78.3h1.2v1.2h-1.2zM107.1 80h1.2v1.2h-1.2zM118.2 72.6h1.2v1.2h-1.2zM117.1 65.5h1.2v1.2h-1.2zM111.5 70.4h1.2v1.2h-1.2zM113.8 74.2h1.2v1.2h-1.2zM110 73.7h1.2v1.2h-1.2zM113.8 75.2h1.2v1.2h-1.2zM108.5 76.1h1.2v1.2h-1.2zM114.3 73.7h1.2v1.2h-1.2zM117.4 70.5h1.2v1.2h-1.2zM114.3 75.5h1.2v1.2h-1.2zM119.4 74.5h1.2v1.2h-1.2zM109.6 71.8h1.2v1.2h-1.2zM121.2 79.4h1.2v1.2h-1.2zM107.8 75.7h1.2v1.2h-1.2zM114.3 69.1h1.2v1.2h-1.2zM113.4 80.6h1.2v1.2h-1.2zM112.5 78.8h1.2v1.2h-1.2zM112 77.8h1.2v1.2h-1.2zM113.4 74.3h1.2v1.2h-1.2zM114 77.6h1.2v1.2h-1.2zM112.3 74.3h1.2v1.2h-1.2zM108.1 78h1.2v1.2h-1.2zM116.1 67.6h1.2v1.2h-1.2zM116.5 74.2h1.2v1.2h-1.2zM118.4 73.2h1.2v1.2h-1.2zM110.6 76.2h1.2v1.2h-1.2zM105.3 73.1h1.2v1.2h-1.2zM107.4 76.5h1.2v1.2h-1.2zM110.9 74.6h1.2v1.2h-1.2zM109.7 79.9h1.2v1.2h-1.2zM119.2 75.4h1.2v1.2h-1.2zM118.4 78.2h1.2v1.2h-1.2zM106 79.6h1.2v1.2h-1.2zM110.7 77.8h1.2v1.2h-1.2zM104.3 75.9h1.2v1.2h-1.2zM113.5 73.4h1.2v1.2h-1.2zM113.5 74.3h1.2v1.2h-1.2zM122.9 68.6h1.2v1.2h-1.2zM108.5 78.6h1.2v1.2h-1.2zM109.9 68.1h1.2v1.2h-1.2zM113.6 80.2h1.2v1.2h-1.2zM105.8 77h1.2v1.2h-1.2zM118.3 77h1.2v1.2h-1.2zM113.3 74.6h1.2v1.2h-1.2zM117.3 74.3h1.2v1.2h-1.2zM113 69h1.2v1.2h-1.2zM112.8 77.8h1.2v1.2h-1.2zM102.9 76.9h1.2v1.2h-1.2zM121.6 71.2h1.2v1.2h-1.2zM102.1 76.4h1.2v1.2h-1.2zM110.2 76.2h1.2v1.2h-1.2zM107 71.7h1.2v1.2h-1.2zM107.1 79.5h1.2v1.2h-1.2zM112.3 80.2h1.2v1.2h-1.2zM107.8 79.3h1.2v1.2h-1.2zM110.6 77.3h1.2v1.2h-1.2zM116.6 77.1h1.2v1.2h-1.2zM111 70.5h1.2v1.2h-1.2zM112.8 80.1h1.2v1.2h-1.2zM109.7 76.7h1.2v1.2h-1.2zM104.7 71.8h1.2v1.2h-1.2zM111.1 70.5h1.2v1.2h-1.2zM110.8 70.9h1.2v1.2h-1.2zM113.8 76.4h1.2v1.2h-1.2zM117.1 75.5h1.2v1.2h-1.2zM114 77.8h1.2v1.2h-1.2zM114.5 71.2h1.2v1.2h-1.2zM115.6 80.5h1.2v1.2h-1.2zM102.4 66.4h1.2v1.2h-1.2zM112.6 79.7h1.2v1.2h-1.2zM114.9 80.5h1.2v1.2h-1.2zM109.7 74.7h1.2v1.2h-1.2zM114.2 79.4h1.2v1.2h-1.2zM115 78.3h1.2v1.2h-1.2zM101.3 81h1.2v1.2h-1.2zM101.7 77.8h1.2v1.2h-1.2zM109.6 77.5h1.2v1.2h-1.2zM110.4 75.8h1.2v1.2h-1.2zM113.4 78.4h1.2v1.2h-1.2zM109 67h1.2v1.2h-1.2zM109 79.1h1.2v1.2h-1.2zM108.8 78.7h1.2v1.2h-1.2zM110.9 73.3h1.2v1.2h-1.2zM112 76.8h1.2v1.2h-1.2zM116.8 71.8h1.2v1.2h-1.2zM116.5 75.1h1.2v1.2h-1.2zM109 78.4h1.2v1.2h-1.2zM106.2 75h1.2v1.2h-1.2zM111.5 67.3h1.2v1.2h-1.2zM115.1 80h1.2v1.2h-1.2zM117.2 71.3h1.2v1.2h-1.2zM106.8 73.8h1.2v1.2h-1.2zM108.2 75.8h1.2v1.2h-1.2zM113.4 78.8h1.2v1.2h-1.2zM119 72.7h1.2v1.2h-1.2zM116.4 77.6h1.2v1.2h-1.2zM107.3 77.6h1.2v1.2h-1.2zM109.2 81h1.2v1.2h-1.2zM118.3 74.5h1.2v1.2h-1.2zM108.5 77.5h1.2v1.2h-1.2zM107.8 80.6h1.2v1.2h-1.2zM113.3 74h1.2v1.2h-1.2zM109.4 79.9h1.2v1.2h-1.2zM109 76.2h1.2v1.2h-1.2zM115.4 77.4h1.2v1.2h-1.2zM120.1 79.6h1.2v1.2h-1.2zM114.5 79.3h1.2v1.2h-1.2zM115.8 78.1h1.2v1.2h-1.2zM111.8 70.7h1.2v1.2h-1.2zM121.7 71.8h1.2v1.2h-1.2zM102.9 74.2h1.2v1.2h-1.2zM109.8 78.1h1.2v1.2h-1.2zM112.4 69.1h1.2v1.2h-1.2zM111 78.2h1.2v1.2h-1.2zM117.8 72.2h1.2v1.2h-1.2zM102.4 70.7h1.2v1.2h-1.2zM114 77.3h1.2v1.2h-1.2zM113.2 77.6h1.2v1.2h-1.2zM110.9 71.6h1.2v1.2h-1.2zM114.5 78.5h1.2v1.2h-1.2zM106.9 67.7h1.2v1.2h-1.2zM108.4 78.6h1.2v1.2h-1.2zM112.4 79.9h1.2v1.2h-1.2zM126.9 74.9h1.2v1.2h-1.2zM111.7 74.6h1.2v1.2h-1.2zM113.6 79.1h1.2v1.2h-1.2zM117.7 78.8h1.2v1.2h-1.2zM112 76.1h1.2v1.2h-1.2zM105.1 79.6h1.2v1.2h-1.2zM108.1 75h1.2v1.2h-1.2zM117 73.3h1.2v1.2h-1.2zM110.2 80.4h1.2v1.2h-1.2zM120.9 74.2h1.2v1.2h-1.2zM117.5 74.4h1.2v1.2h-1.2z" fill="#dc1c44"/>
<path d="M114.3 77.1h1.1v1.1h-1.1zM105.2 80.7h1.1v1.1h-1.1zM122.8 74.3h1.1v1.1h-1.1zM113.6 66.4h1.1v1.1h-1.1zM122.7 74.4h1.1v1.1h-1.1zM104.3 79h1.1v1.1h-1.1zM103.2 69.5h1.1v1.1h-1.1zM125.3 69.9h1.1v1.1h-1.1zM108.1 70.2h1.1v1.1h-1.1zM108.6 77.6h1.1v1.1h-1.1zM120.8 67.5h1.1v1.1h-1.1zM114.6 62.3h1.1v1.1h-1.1zM121.1 73.4h1.1v1.1h-1.1zM107.2 74.4h1.1v1.1h-1.1zM114.2 72.7h1.1v1.1h-1.1zM121.1 69.4h1.1v1.1h-1.1zM100.3 67.7h1.1v1.1h-1.1zM106.6 70.5h1.1v1.1h-1.1zM114.3 72.9h1.1v1.1h-1.1zM112.5 71h1.1v1.1h-1.1zM111.5 77.1h1.1v1.1h-1.1zM116.5 68.9h1.1v1.1h-1.1zM111.3 69h1.1v1.1h-1.1zM110.9 64.7h1.1v1.1h-1.1zM117.7 78.4h1.1v1.1h-1.1zM111.3 69.6h1.1v1.1h-1.1zM109.3 69.7h1.1v1.1h-1.1zM131.7 66h1.1v1.1h-1.1zM105 77.8h1.1v1.1h-1.1zM115.6 63.8h1.1v1.1h-1.1zM100.5 77.5h1.1v1.1h-1.1zM109 74.6h1.1v1.1h-1.1zM112 70.4h1.1v1.1h-1.1zM111.1 72.1h1.1v1.1h-1.1zM119.5 73.4h1.1v1.1h-1.1zM111.8 70.6h1.1v1.1h-1.1zM108.2 69.2h1.1v1.1h-1.1zM118.7 75.5h1.1v1.1h-1.1zM122 80.6h1.1v1.1h-1.1zM113.2 72.9h1.1v1.1h-1.1zM105.4 75.6h1.1v1.1h-1.1zM110.1 63.7h1.1v1.1h-1.1zM113.3 77.2h1.1v1.1h-1.1zM113.2 71h1.1v1.1h-1.1zM114.8 81h1.1v1.1h-1.1zM110.1 77.3h1.1v1.1h-1.1zM118.2 70.9h1.1v1.1h-1.1zM113 69.2h1.1v1.1h-1.1zM115.6 71.6h1.1v1.1h-1.1zM118.9 69h1.1v1.1h-1.1zM122.1 72h1.1v1.1h-1.1zM107 68.1h1.1v1.1h-1.1zM116 68.4h1.1v1.1h-1.1zM115.1 64.8h1.1v1.1h-1.1zM111.9 69.3h1.1v1.1h-1.1zM101.1 76.8h1.1v1.1h-1.1zM125.2 70.5h1.1v1.1h-1.1zM106.2 71.8h1.1v1.1h-1.1zM113.6 77.1h1.1v1.1h-1.1zM105.1 75.4h1.1v1.1h-1.1zM111.4 80.2h1.1v1.1h-1.1zM102.4 70.3h1.1v1.1h-1.1zM109 71.9h1.1v1.1h-1.1zM116.3 69.9h1.1v1.1h-1.1zM128.4 69.4h1.1v1.1h-1.1zM117 80.6h1.1v1.1h-1.1zM117.8 72.7h1.1v1.1h-1.1zM107 72.3h1.1v1.1h-1.1zM116 74.8h1.1v1.1h-1.1zM115.5 77.7h1.1v1.1h-1.1zM106.7 67.9h1.1v1.1h-1.1zM120.6 70.8h1.1v1.1h-1.1zM107 67.9h1.1v1.1h-1.1zM117.8 66.6h1.1v1.1h-1.1zM106.8 80.8h1.1v1.1h-1.1zM112.8 74.4h1.1v1.1h-1.1zM108.2 72.6h1.1v1.1h-1.1zM109 73.8h1.1v1.1h-1.1zM116.6 65.7h1.1v1.1h-1.1zM106.5 60.4h1.1v1.1h-1.1zM121 73.5h1.1v1.1h-1.1zM111.9 73.6h1.1v1.1h-1.1zM118 76.1h1.1v1.1h-1.1zM117.1 72.9h1.1v1.1h-1.1zM111.3 73.6h1.1v1.1h-1.1zM100.8 81.1h1.1v1.1h-1.1zM102.5 67.5h1.1v1.1h-1.1zM116 74.4h1.1v1.1h-1.1zM106.7 73.4h1.1v1.1h-1.1zM118 72.6h1.1v1.1h-1.1zM111.3 71.7h1.1v1.1h-1.1zM120.2 58h1.1v1.1h-1.1zM119.6 80.9h1.1v1.1h-1.1zM111.6 77.6h1.1v1.1h-1.1zM130.4 68h1.1v1.1h-1.1zM120.4 73.6h1.1v1.1h-1.1zM110 70.8h1.1v1.1h-1.1zM110.9 65.9h1.1v1.1h-1.1zM111.9 77.6h1.1v1.1h-1.1zM113.9 77.1h1.1v1.1h-1.1zM102.8 67.8h1.1v1.1h-1.1z" fill="#f27d96"/>
<rect x="47.3" y="31" width="146.7" height="78.3" fill="none" stroke="#111" stroke-width="1.4"/>
<rect x="86.5" y="36.6" width="57.8" height="46.2" fill="none" stroke="#111" stroke-width="1.3"/>
<path d="M49.4 109.3v4M53.9 109.3v4M57.5 109.3v4M60.4 109.3v4M62.8 109.3v4M65 109.3v4M66.8 109.3v4M68.5 109.3v6.8M79.5 109.3v4M86 109.3v4M90.5 109.3v4M94.1 109.3v4M97 109.3v4M99.4 109.3v4M101.6 109.3v4M103.4 109.3v4M105.1 109.3v6.8M116.1 109.3v4M122.6 109.3v4M127.1 109.3v4M130.7 109.3v4M133.6 109.3v4M136 109.3v4M138.2 109.3v4M140 109.3v4M141.7 109.3v6.8M152.7 109.3v4M159.2 109.3v4M163.7 109.3v4M167.3 109.3v4M170.2 109.3v4M172.6 109.3v4M174.8 109.3v4M176.6 109.3v4M178.3 109.3v6.8M189.3 109.3v4" stroke="#111" stroke-width="1.35" fill="none"/>
<text x="67.1" y="126.6" font-size="7.6" text-anchor="middle">10<tspan dx="1.2" dy="-5.0" font-size="6.6">2</tspan></text>
<text x="103.7" y="126.6" font-size="7.6" text-anchor="middle">10<tspan dx="1.2" dy="-5.0" font-size="6.6">3</tspan></text>
<text x="140.3" y="126.6" font-size="7.6" text-anchor="middle">10<tspan dx="1.2" dy="-5.0" font-size="6.6">4</tspan></text>
<text x="176.9" y="126.6" font-size="7.6" text-anchor="middle">10<tspan dx="1.2" dy="-5.0" font-size="6.6">5</tspan></text>
<path d="M47.3 106.9h-3.6M47.3 104.5h-3.6M47.3 102.6h-3.6M47.3 101.1h-3.6M47.3 99.9h-3.6M47.3 98.8h-3.6M47.3 97.8h-3.6M47.3 96.9h-6M47.3 91.2h-3.6M47.3 87.8h-3.6M47.3 85.4h-3.6M47.3 83.5h-3.6M47.3 82h-3.6M47.3 80.8h-3.6M47.3 79.7h-3.6M47.3 78.7h-3.6M47.3 77.8h-6M47.3 72.1h-3.6M47.3 68.7h-3.6M47.3 66.3h-3.6M47.3 64.4h-3.6M47.3 62.9h-3.6M47.3 61.7h-3.6M47.3 60.6h-3.6M47.3 59.6h-3.6M47.3 58.7h-6M47.3 53h-3.6M47.3 49.6h-3.6M47.3 47.2h-3.6M47.3 45.3h-3.6M47.3 43.8h-3.6M47.3 42.6h-3.6M47.3 41.5h-3.6M47.3 40.5h-3.6M47.3 39.6h-6M47.3 33.9h-3.6" stroke="#111" stroke-width="1.35" fill="none"/>
<text x="38.8" y="103.3" font-size="7.2" transform="rotate(-90 38.8 103.3)">10<tspan dx="1.4" dy="-5.4" font-size="6.8">2</tspan></text>
<text x="38.8" y="84.2" font-size="7.2" transform="rotate(-90 38.8 84.2)">10<tspan dx="1.4" dy="-5.4" font-size="6.8">3</tspan></text>
<text x="38.8" y="65.1" font-size="7.2" transform="rotate(-90 38.8 65.1)">10<tspan dx="1.4" dy="-5.4" font-size="6.8">4</tspan></text>
<text x="38.8" y="46" font-size="7.2" transform="rotate(-90 38.8 46)">10<tspan dx="1.4" dy="-5.4" font-size="6.8">5</tspan></text>
<text x="114.4" y="19.6" font-size="10.6" font-weight="bold" text-anchor="middle">CD3</text>
<text x="112.2" y="50.4" font-size="10.7" font-weight="bold" text-anchor="start">12.6%</text>
<text x="120.5" y="139.6" font-size="10.8" font-weight="normal" text-anchor="middle">CD4 PerCP-A</text>
<text x="24.9" y="69.9" font-size="10.9" font-weight="normal" text-anchor="middle" transform="rotate(-90 24.9 69.9)" textLength="53.2" lengthAdjust="spacingAndGlyphs">CD25 PE-A</text>
<path d="M366.5 108.2L366.5 101.6L367 100.5L367.5 103.9L368 98.8L368.5 99.1L369 99.2L369.5 100.8L370 100.5L370.5 100.4L371 98.4L371.5 98.1L372 97.1L372.5 100.4L373 92.2L373.5 91.6L374 93.4L374.5 97.2L375 93.9L375.5 92.3L376 89.6L376.5 97.8L377 88.9L377.5 89L378 94.7L378.5 88.6L379 88L379.5 90L380 90.2L380.5 90.5L381 97L381.5 94.1L382 89L382.5 91.2L383 91.4L383.5 93L384 89.9L384.5 88.6L385 87.4L385.5 84.7L386 83L386.5 79.1L387 74.1L387.5 65.1L388 82.1L388.5 72.2L389 77.4L389.5 80.5L390 82.7L390.5 89.1L391 78.2L391.5 77.3L392 71.9L392.5 78.3L393 89.1L393.5 82L394 86.1L394.5 89.3L395 79.6L395.5 78.3L396 82.8L396.5 83.1L397 85L397.5 84.5L398 88.7L398.5 88.1L399 91.9L399.5 90.9L400 88.2L400.5 87.6L401 88.3L401.5 90.1L402 90.6L402.5 93L403 93.4L403.5 92.4L404 93.1L404.5 93.2L405 94.4L405.5 96.6L406 98.9L406.5 98.7L407 99.3L407.5 101.3L408 101.3L408.5 103.1L409 102.7L409.5 95.4L410 97.7L410.5 86.2L411 87.1L411.5 84.8L412 86.9L412.5 83.8L413 82.8L413.5 84L414 81L414.5 78.1L415 82.3L415.5 82.5L416 81.7L416.5 82.6L417 83L417.5 86L418 83L418.5 80.1L419 74.8L419.5 69.7L420 65.3L420.5 64.2L421 80.8L421.5 67.2L422 69.8L422.5 67.7L423 67.7L423.5 68.7L424 65L424.5 64.6L425 59.7L425.5 57L426 53.9L426.5 51L427 43.3L427.5 40.7L428 50.8L428.5 46.8L429 39.4L429.5 44.5L430 41.3L430.5 43.4L431 36.1L431.5 37.7L432 38.5L432.5 35.8L433 42.6L433.5 35.7L434 46L434.5 76L435 50.2L435.5 73.1L436 52.9L436.5 51.2L437 43.7L437.5 40L438 47.2L438.5 55.9L439 47.9L439.5 56L440 55.1L440.5 61L441 62.9L441.5 64.3L442 67.8L442.5 74.9L443 71.2L443.5 74.6L444 78.5L444.5 81.2L445 83.8L445.5 83.6L446 83.5L446.5 96.5L447 88.6L447.5 92.5L448 94.5L448.5 94.1L449 94.8L449.5 99.5L450 96.3L450.5 99L451 102.3L451.5 101.2L452 102.4L452.5 103.6L453 103.8L453.5 104.1L454 104.5L454.5 105.2L455 105.8L455.5 106.7L456 107L456.5 107.1L457 107.6L457.5 107.6L458 107.8L458.5 107.8L459 107.8L459.5 107.8L460 107.9L460.5 108L461 107.8L461.5 107.8L462 107.8L462 108.2Z" fill="#ee2a5c" stroke="#d80f36" stroke-width="0.5" stroke-linejoin="bevel"/>
<path d="M377.5 89.3V97.4M422.5 68V79.9M402 90.9V95.5M367 100.8V103.6M403 93.7V95.1M378 95V101.1M451 102.6V104M444.5 81.5V89.3M384.5 88.9V92.3M435.5 73.4V81.3M424.5 64.9V82.7M394.5 89.6V92M431.5 38V46.4M455 106.1V106.2M372 97.4V98.4M394 86.4V91M413.5 84.3V89.6M411 87.4V92.4M369.5 101.1V103.1M412 87.2V91.1M386.5 79.4V84.2M450.5 99.3V103.3M386.5 79.4V86.7M386 83.3V88.4M390 83V88.7M431 36.4V43.7M391.5 77.6V87.4M398 89V92.1M378.5 88.9V91.2M411 87.4V93.8M428 51.1V58.9M442 68.1V79.5M394 86.4V89.6M366.5 101.9V104.5M405 94.7V96.1M384 90.2V94.9M443 71.5V81.7M382.5 91.5V97.1M388 82.4V85.9M378.5 88.9V96.3M453 104.1V104.8M426 54.2V65.7M452.5 103.9V105.2M422 70.1V73.5M379 88.3V89.6M388.5 72.5V81.4M385.5 85V88.5M448.5 94.4V100.2M416 82V85.3M379 88.3V89.8M440 55.4V77.4M387 74.4V82.2M435 50.5V55.8M449 95.1V98.2M379 88.3V88.2M392 72.2V79.9M449 95.1V98.6M435 50.5V62.8M405.5 96.9V100.3M442.5 75.2V78.7M439.5 56.3V60.5M410.5 86.5V90.3M427.5 41V68M448.5 94.4V95.2M405.5 96.9V97.5M436.5 51.5V74.3M379 88.3V88.6M439.5 56.3V78.7M372.5 100.7V101.1M392.5 78.6V79.5M398.5 88.4V96.5M400 88.5V93.1M398.5 88.4V88.1M425.5 57.3V62.7M397.5 84.8V93.8M419 75.1V76.7M395 79.9V92M381 97.3V98.8M380 90.5V94.2M429 39.7V66.3M395 79.9V82.6M371 98.7V99.9M416 82V87.1M434.5 76.3V82.3M406 99.2V100.9M445.5 83.9V95.2M432 38.8V64.6M453 104.1V104.8M434 46.3V71.9M427 43.6V52.2M418.5 80.4V92.8M418.5 80.4V83M372.5 100.7V102.6M425.5 57.3V81.4M397.5 84.8V96.3M431.5 38V68.2M376.5 98.1V101.3M421.5 67.5V87.3M368 99.1V100M428.5 47.1V66.2M391 78.5V85.2M383 91.7V98.8M422 70.1V83.5M392.5 78.6V80.4M416.5 82.9V91M450.5 99.3V100.4M415 82.6V88M408 101.6V103.1M396 83.1V87M382.5 91.5V91.6M376.5 98.1V99.3M404 93.4V95.4" stroke="#c80a30" stroke-width="0.6" fill="none" stroke-opacity="0.8"/>
<rect x="366" y="31.5" width="146.2" height="76.7" fill="none" stroke="#111" stroke-width="1.4"/>
<line x1="409.3" y1="31.5" x2="409.3" y2="108.2" stroke="#111" stroke-width="1.3"/>
<line x1="409.3" y1="63.3" x2="512.2" y2="63.3" stroke="#111" stroke-width="1.3"/>
<path d="M367.9 108.2v4M372.4 108.2v4M376 108.2v4M378.9 108.2v4M381.3 108.2v4M383.5 108.2v4M385.3 108.2v4M387 108.2v5.5M398 108.2v4M404.5 108.2v4M409 108.2v4M412.6 108.2v4M415.5 108.2v4M417.9 108.2v4M420.1 108.2v4M421.9 108.2v4M423.6 108.2v5.5M434.6 108.2v4M441.1 108.2v4M445.6 108.2v4M449.2 108.2v4M452.1 108.2v4M454.5 108.2v4M456.7 108.2v4M458.5 108.2v4M460.2 108.2v5.5M471.2 108.2v4M477.7 108.2v4M482.2 108.2v4M485.8 108.2v4M488.7 108.2v4M491.1 108.2v4M493.3 108.2v4M495.1 108.2v4M496.8 108.2v5.5M507.8 108.2v4" stroke="#111" stroke-width="1.35" fill="none"/>
<text x="385.4" y="122.8" font-size="6.0" text-anchor="middle">10<tspan dx="0.3" dy="-4.0" font-size="5.2">2</tspan></text>
<text x="422" y="122.8" font-size="6.0" text-anchor="middle">10<tspan dx="0.3" dy="-4.0" font-size="5.2">3</tspan></text>
<text x="458.6" y="122.8" font-size="6.0" text-anchor="middle">10<tspan dx="0.3" dy="-4.0" font-size="5.2">4</tspan></text>
<text x="495.2" y="122.8" font-size="6.0" text-anchor="middle">10<tspan dx="0.3" dy="-4.0" font-size="5.2">5</tspan></text>
<path d="M366 108.2h-4.5M366 99.7h-4.5M366 91.2h-4.5M366 82.7h-4.5M366 74.2h-4.5M366 65.7h-4.5M366 57.2h-4.5M366 48.7h-4.5M366 40.2h-4.5M366 31.7h-4.5" stroke="#111" stroke-width="1.35" fill="none"/>
<text x="360.2" y="108.2" font-size="7.0" text-anchor="middle" transform="rotate(-90 360.2 108.2)">0</text>
<text x="360.2" y="99.7" font-size="7.0" text-anchor="middle" transform="rotate(-90 360.2 99.7)">5</text>
<text x="360.2" y="91.2" font-size="7.0" text-anchor="middle" transform="rotate(-90 360.2 91.2)">10</text>
<text x="360.2" y="82.7" font-size="7.0" text-anchor="middle" transform="rotate(-90 360.2 82.7)">15</text>
<text x="360.2" y="74.2" font-size="7.0" text-anchor="middle" transform="rotate(-90 360.2 74.2)">20</text>
<text x="360.2" y="65.7" font-size="7.0" text-anchor="middle" transform="rotate(-90 360.2 65.7)">25</text>
<text x="360.2" y="57.2" font-size="7.0" text-anchor="middle" transform="rotate(-90 360.2 57.2)">30</text>
<text x="360.2" y="48.7" font-size="7.0" text-anchor="middle" transform="rotate(-90 360.2 48.7)">35</text>
<text x="360.2" y="40.2" font-size="7.0" text-anchor="middle" transform="rotate(-90 360.2 40.2)">40</text>
<text x="360.2" y="31.7" font-size="7.0" text-anchor="middle" transform="rotate(-90 360.2 31.7)">45</text>
<text x="456.3" y="53.4" font-size="10.8" font-weight="bold" text-anchor="start">67.9%</text>
<text x="404" y="24.8" font-size="10.4" font-weight="bold" text-anchor="start">CD4<tspan dy="-2.0" font-size="6.2">+</tspan><tspan dy="2.0">CD25</tspan><tspan dy="-2.0" font-size="6.2">+</tspan></text>
<text x="438.5" y="135.6" font-size="8.4" font-weight="normal" text-anchor="middle">FOXP3 APC-A</text>
<text x="351.6" y="70" font-size="9.5" font-weight="normal" text-anchor="middle" transform="rotate(-90 351.6 70)">Count</text>
<path d="M394.5 244.6h1.0v1.0h-1.0zM376 242.5h1.0v1.0h-1.0zM373.9 248.2h1.0v1.0h-1.0zM372.1 242.3h1.0v1.0h-1.0zM386.9 227h1.0v1.0h-1.0zM388 236h1.0v1.0h-1.0zM388.8 225.4h1.0v1.0h-1.0zM393.5 230.4h1.0v1.0h-1.0zM412.6 232.7h1.0v1.0h-1.0zM389.7 228.4h1.0v1.0h-1.0zM412.7 231h1.0v1.0h-1.0zM398.8 245.3h1.0v1.0h-1.0zM387.9 243.1h1.0v1.0h-1.0zM383 225.1h1.0v1.0h-1.0zM372.8 234.6h1.0v1.0h-1.0zM408.6 227.7h1.0v1.0h-1.0zM389.9 243.4h1.0v1.0h-1.0zM382.9 226.3h1.0v1.0h-1.0zM393.3 233.9h1.0v1.0h-1.0zM411.4 247.1h1.0v1.0h-1.0zM381.2 237.7h1.0v1.0h-1.0zM388.9 222.9h1.0v1.0h-1.0zM390.1 247.6h1.0v1.0h-1.0zM384 238.4h1.0v1.0h-1.0zM401.5 223.8h1.0v1.0h-1.0zM410.7 225.1h1.0v1.0h-1.0zM384 242h1.0v1.0h-1.0zM371.8 232.5h1.0v1.0h-1.0zM376.4 235.3h1.0v1.0h-1.0zM371.7 226.2h1.0v1.0h-1.0zM380.6 224.3h1.0v1.0h-1.0zM374.9 227.4h1.0v1.0h-1.0zM393.3 225.8h1.0v1.0h-1.0zM406.3 233.7h1.0v1.0h-1.0zM381.8 228.7h1.0v1.0h-1.0zM407.1 223.3h1.0v1.0h-1.0zM402.9 224.7h1.0v1.0h-1.0zM411.6 233.4h1.0v1.0h-1.0zM396.7 246.2h1.0v1.0h-1.0zM375.3 223.8h1.0v1.0h-1.0zM400.8 238.5h1.0v1.0h-1.0zM402 229.8h1.0v1.0h-1.0zM392.4 227.2h1.0v1.0h-1.0zM389.8 229.9h1.0v1.0h-1.0zM396.2 230.4h1.0v1.0h-1.0zM382.8 240h1.0v1.0h-1.0zM374.7 244.4h1.0v1.0h-1.0zM392.3 228.4h1.0v1.0h-1.0zM375.9 236.2h1.0v1.0h-1.0zM392.7 242.1h1.0v1.0h-1.0zM387.1 233.5h1.0v1.0h-1.0zM409.4 229.7h1.0v1.0h-1.0zM413.2 247h1.0v1.0h-1.0zM413.6 248.4h1.0v1.0h-1.0zM382.1 244.8h1.0v1.0h-1.0zM397.3 227.7h1.0v1.0h-1.0zM413.9 240.1h1.0v1.0h-1.0zM405.8 237.6h1.0v1.0h-1.0zM374.4 246.2h1.0v1.0h-1.0zM378.5 229.3h1.0v1.0h-1.0zM397.5 227.4h1.0v1.0h-1.0zM390.9 242h1.0v1.0h-1.0zM375.1 240.5h1.0v1.0h-1.0zM375.5 235.3h1.0v1.0h-1.0zM398.9 241.2h1.0v1.0h-1.0zM372.9 227.4h1.0v1.0h-1.0zM412.3 232.9h1.0v1.0h-1.0zM389.3 232.5h1.0v1.0h-1.0zM400.9 242.7h1.0v1.0h-1.0zM399 233.3h1.0v1.0h-1.0zM395.5 236.4h1.0v1.0h-1.0zM379.1 248.6h1.0v1.0h-1.0zM412.5 243.8h1.0v1.0h-1.0zM413.7 235h1.0v1.0h-1.0zM407.1 228.7h1.0v1.0h-1.0zM402.9 242h1.0v1.0h-1.0zM411.4 245.3h1.0v1.0h-1.0zM408.8 229.5h1.0v1.0h-1.0zM404.9 235.3h1.0v1.0h-1.0zM384.4 232.3h1.0v1.0h-1.0zM405.4 245.6h1.0v1.0h-1.0zM407.3 240.7h1.0v1.0h-1.0zM378.3 226.4h1.0v1.0h-1.0zM395.4 227.9h1.0v1.0h-1.0zM385.5 224.9h1.0v1.0h-1.0zM377.7 242.1h1.0v1.0h-1.0zM380.6 245.7h1.0v1.0h-1.0zM385.2 245.8h1.0v1.0h-1.0zM384 229.5h1.0v1.0h-1.0zM388 222.3h1.0v1.0h-1.0zM389.7 232.6h1.0v1.0h-1.0zM371.5 246.1h1.0v1.0h-1.0zM387.1 222h1.0v1.0h-1.0zM412.3 228.4h1.0v1.0h-1.0zM381.9 222.7h1.0v1.0h-1.0zM375.3 241.9h1.0v1.0h-1.0zM396 236.1h1.0v1.0h-1.0zM381.6 230h1.0v1.0h-1.0zM412.7 232.4h1.0v1.0h-1.0zM413.5 246.8h1.0v1.0h-1.0zM376.4 245.7h1.0v1.0h-1.0zM371.9 241.9h1.0v1.0h-1.0zM405.8 241.5h1.0v1.0h-1.0zM394.6 244.8h1.0v1.0h-1.0zM377.6 237.1h1.0v1.0h-1.0zM382.4 233.2h1.0v1.0h-1.0zM379.2 241.8h1.0v1.0h-1.0zM395.6 243.8h1.0v1.0h-1.0zM398 238.8h1.0v1.0h-1.0zM410.6 244.7h1.0v1.0h-1.0zM395.4 231.1h1.0v1.0h-1.0zM410.9 232.4h1.0v1.0h-1.0zM375.4 231.3h1.0v1.0h-1.0zM401.4 248.1h1.0v1.0h-1.0zM398.8 240.6h1.0v1.0h-1.0zM411.3 243.8h1.0v1.0h-1.0zM390.2 234.9h1.0v1.0h-1.0zM403.7 230.9h1.0v1.0h-1.0zM375.7 239.4h1.0v1.0h-1.0zM405.8 229h1.0v1.0h-1.0zM400.4 247h1.0v1.0h-1.0zM376.5 225.8h1.0v1.0h-1.0zM392.2 231.4h1.0v1.0h-1.0zM411.8 249.9h1.0v1.0h-1.0zM390.2 244.2h1.0v1.0h-1.0zM398.2 226.9h1.0v1.0h-1.0zM412.8 226.9h1.0v1.0h-1.0zM374.3 234.7h1.0v1.0h-1.0zM371.8 235.5h1.0v1.0h-1.0zM388.7 248.7h1.0v1.0h-1.0zM388.8 245.8h1.0v1.0h-1.0zM404.5 238.4h1.0v1.0h-1.0zM381.2 230.5h1.0v1.0h-1.0zM392.1 233.1h1.0v1.0h-1.0zM398.8 236.2h1.0v1.0h-1.0zM384.9 239h1.0v1.0h-1.0zM413.9 227.7h1.0v1.0h-1.0zM385.4 222.3h1.0v1.0h-1.0zM375 223.6h1.0v1.0h-1.0zM389.2 245.4h1.0v1.0h-1.0zM401 249.1h1.0v1.0h-1.0zM407 238.4h1.0v1.0h-1.0zM396 222.4h1.0v1.0h-1.0zM387.5 229.3h1.0v1.0h-1.0zM397.7 223.8h1.0v1.0h-1.0zM394.3 232.5h1.0v1.0h-1.0zM392.2 233.3h1.0v1.0h-1.0zM375.4 242.5h1.0v1.0h-1.0zM405.4 238.7h1.0v1.0h-1.0zM376 238.8h1.0v1.0h-1.0zM408.5 249.6h1.0v1.0h-1.0zM403.6 223.3h1.0v1.0h-1.0zM408.8 240.6h1.0v1.0h-1.0zM382.9 247.8h1.0v1.0h-1.0zM406.5 247.1h1.0v1.0h-1.0zM381.6 238.2h1.0v1.0h-1.0zM387.3 230.3h1.0v1.0h-1.0zM403.7 239.3h1.0v1.0h-1.0zM385.3 237.2h1.0v1.0h-1.0zM410.9 237.9h1.0v1.0h-1.0zM410.3 237.8h1.0v1.0h-1.0zM413.7 222.8h1.0v1.0h-1.0zM390.8 237.5h1.0v1.0h-1.0zM402.3 249.1h1.0v1.0h-1.0zM397.8 235.4h1.0v1.0h-1.0zM398.3 236.9h1.0v1.0h-1.0zM401.3 248.5h1.0v1.0h-1.0zM371.6 231h1.0v1.0h-1.0zM408.7 223.7h1.0v1.0h-1.0zM405 222.9h1.0v1.0h-1.0zM398.9 244.4h1.0v1.0h-1.0zM381.2 232.7h1.0v1.0h-1.0zM380.7 241.7h1.0v1.0h-1.0zM393.7 239h1.0v1.0h-1.0zM385 238.4h1.0v1.0h-1.0zM412 243.8h1.0v1.0h-1.0zM411.9 228.9h1.0v1.0h-1.0zM393.2 232.8h1.0v1.0h-1.0zM385.9 244.5h1.0v1.0h-1.0zM378.5 237.6h1.0v1.0h-1.0zM404.3 248.2h1.0v1.0h-1.0zM371.8 229.6h1.0v1.0h-1.0zM392.2 248.2h1.0v1.0h-1.0zM378 245.5h1.0v1.0h-1.0zM388.1 237.3h1.0v1.0h-1.0zM410.9 223.8h1.0v1.0h-1.0zM385.2 226.4h1.0v1.0h-1.0zM376.8 230.5h1.0v1.0h-1.0zM401.1 238.3h1.0v1.0h-1.0zM376.2 244.4h1.0v1.0h-1.0zM392.8 226h1.0v1.0h-1.0zM406.3 245h1.0v1.0h-1.0zM380.3 248.3h1.0v1.0h-1.0zM405.8 228.4h1.0v1.0h-1.0zM371 246.3h1.0v1.0h-1.0zM406.5 224.7h1.0v1.0h-1.0zM404 243.6h1.0v1.0h-1.0zM398.3 245.3h1.0v1.0h-1.0zM413.3 231.2h1.0v1.0h-1.0zM406.9 247.8h1.0v1.0h-1.0zM384.5 241.1h1.0v1.0h-1.0zM400.4 245.8h1.0v1.0h-1.0zM395.4 229.7h1.0v1.0h-1.0zM381.8 237.2h1.0v1.0h-1.0zM376.8 246.1h1.0v1.0h-1.0zM409.2 228.8h1.0v1.0h-1.0zM401 240.8h1.0v1.0h-1.0zM376.2 243.8h1.0v1.0h-1.0zM404 230.6h1.0v1.0h-1.0zM375.2 229.9h1.0v1.0h-1.0zM404.2 235.1h1.0v1.0h-1.0zM406.1 226.5h1.0v1.0h-1.0zM375.6 231.8h1.0v1.0h-1.0zM408.8 226.5h1.0v1.0h-1.0zM374.2 243.1h1.0v1.0h-1.0zM374.9 240.7h1.0v1.0h-1.0zM374.6 228.9h1.0v1.0h-1.0zM399.5 246.5h1.0v1.0h-1.0zM388.6 234.6h1.0v1.0h-1.0zM372.3 231.5h1.0v1.0h-1.0z" fill="#3048e0"/>
<path d="M390 251.1h1.2v1.2h-1.2zM384.7 223.3h1.2v1.2h-1.2zM372.3 234.5h1.2v1.2h-1.2zM396.6 242.7h1.2v1.2h-1.2zM386.6 243.3h1.2v1.2h-1.2zM388.5 231.5h1.2v1.2h-1.2zM384.9 242.8h1.2v1.2h-1.2zM399.3 228.4h1.2v1.2h-1.2zM378.3 237.9h1.2v1.2h-1.2zM412 228h1.2v1.2h-1.2zM375.5 240.2h1.2v1.2h-1.2zM394.5 232.3h1.2v1.2h-1.2zM388.7 240.7h1.2v1.2h-1.2zM370.2 236.8h1.2v1.2h-1.2zM395.5 244.1h1.2v1.2h-1.2zM401.6 236.5h1.2v1.2h-1.2zM373.4 247.3h1.2v1.2h-1.2zM397.3 232.1h1.2v1.2h-1.2zM400.2 245h1.2v1.2h-1.2zM383.9 231.2h1.2v1.2h-1.2zM380 236.4h1.2v1.2h-1.2zM377.3 240h1.2v1.2h-1.2zM409.4 227.9h1.2v1.2h-1.2zM400.2 232.9h1.2v1.2h-1.2zM394.9 236h1.2v1.2h-1.2zM402.8 231.6h1.2v1.2h-1.2zM396.9 231.1h1.2v1.2h-1.2zM391.5 236.9h1.2v1.2h-1.2zM400.7 224.9h1.2v1.2h-1.2zM374.5 247.7h1.2v1.2h-1.2zM393.2 250h1.2v1.2h-1.2zM377.9 238.6h1.2v1.2h-1.2zM395.5 250.6h1.2v1.2h-1.2zM388.4 233.6h1.2v1.2h-1.2zM396.7 236.2h1.2v1.2h-1.2zM380.9 242.8h1.2v1.2h-1.2zM403.7 233.2h1.2v1.2h-1.2zM385.5 239.9h1.2v1.2h-1.2zM401.1 241.1h1.2v1.2h-1.2zM378.6 232.6h1.2v1.2h-1.2zM400.3 236.1h1.2v1.2h-1.2zM382.2 243.7h1.2v1.2h-1.2zM377.4 231.6h1.2v1.2h-1.2zM381.5 239.7h1.2v1.2h-1.2zM383.9 245.6h1.2v1.2h-1.2zM382.1 234.9h1.2v1.2h-1.2zM395.1 238.6h1.2v1.2h-1.2zM378.1 248.5h1.2v1.2h-1.2zM395.2 233.2h1.2v1.2h-1.2zM391.2 228.5h1.2v1.2h-1.2zM375.8 234.7h1.2v1.2h-1.2zM392.9 237.8h1.2v1.2h-1.2zM380.7 226.4h1.2v1.2h-1.2zM371 249.3h1.2v1.2h-1.2zM393 230.9h1.2v1.2h-1.2zM401.7 241.1h1.2v1.2h-1.2zM384.6 232.3h1.2v1.2h-1.2zM401.2 239.5h1.2v1.2h-1.2zM406.6 239.8h1.2v1.2h-1.2zM382.7 232.4h1.2v1.2h-1.2zM381.5 238.9h1.2v1.2h-1.2zM391.7 241.7h1.2v1.2h-1.2zM393.8 228.9h1.2v1.2h-1.2zM386.8 229.8h1.2v1.2h-1.2zM394.2 226.9h1.2v1.2h-1.2zM382.8 230.4h1.2v1.2h-1.2zM382.4 235h1.2v1.2h-1.2zM405.2 235h1.2v1.2h-1.2zM373.6 234.7h1.2v1.2h-1.2zM397 241.2h1.2v1.2h-1.2zM400.9 237.7h1.2v1.2h-1.2zM402 226.7h1.2v1.2h-1.2zM387.2 230.4h1.2v1.2h-1.2zM390.9 249.4h1.2v1.2h-1.2zM383.7 249.2h1.2v1.2h-1.2zM378.1 247.9h1.2v1.2h-1.2zM370.9 230.5h1.2v1.2h-1.2zM399.7 236.3h1.2v1.2h-1.2zM390.6 236.9h1.2v1.2h-1.2zM390.9 235.6h1.2v1.2h-1.2zM378.5 234.8h1.2v1.2h-1.2zM390.2 230.1h1.2v1.2h-1.2zM394 250.5h1.2v1.2h-1.2zM371.4 232.8h1.2v1.2h-1.2zM386 237.1h1.2v1.2h-1.2zM390 231.4h1.2v1.2h-1.2zM388.6 237h1.2v1.2h-1.2zM388.1 248.8h1.2v1.2h-1.2zM390.4 225.7h1.2v1.2h-1.2zM372.3 241.5h1.2v1.2h-1.2zM385.4 232.3h1.2v1.2h-1.2zM374.5 234.6h1.2v1.2h-1.2zM388 231.7h1.2v1.2h-1.2zM385.2 243.8h1.2v1.2h-1.2zM397.4 241.2h1.2v1.2h-1.2zM387.1 226.6h1.2v1.2h-1.2zM397.3 248.5h1.2v1.2h-1.2zM402.6 245.9h1.2v1.2h-1.2zM392 239.9h1.2v1.2h-1.2zM388.9 246.6h1.2v1.2h-1.2zM397.3 234.5h1.2v1.2h-1.2zM389 224.7h1.2v1.2h-1.2zM381.2 234.7h1.2v1.2h-1.2zM398.8 237.6h1.2v1.2h-1.2zM385.8 241.8h1.2v1.2h-1.2zM409.7 239.3h1.2v1.2h-1.2zM388.3 238.2h1.2v1.2h-1.2zM396.1 233.2h1.2v1.2h-1.2zM390.3 240.9h1.2v1.2h-1.2zM385.3 240h1.2v1.2h-1.2zM392.6 242.5h1.2v1.2h-1.2zM378.5 232.9h1.2v1.2h-1.2zM384.4 246.2h1.2v1.2h-1.2zM391.7 224.3h1.2v1.2h-1.2zM375.4 251.9h1.2v1.2h-1.2zM392.6 227.1h1.2v1.2h-1.2zM379.3 238.1h1.2v1.2h-1.2zM404.2 249.4h1.2v1.2h-1.2zM385.1 234.7h1.2v1.2h-1.2zM409.5 229.5h1.2v1.2h-1.2zM405.7 239.6h1.2v1.2h-1.2zM390 246.9h1.2v1.2h-1.2zM394.2 230.6h1.2v1.2h-1.2zM372.7 237.1h1.2v1.2h-1.2zM394.5 247.5h1.2v1.2h-1.2zM395.6 248.7h1.2v1.2h-1.2zM397.5 238.6h1.2v1.2h-1.2zM393.6 240.1h1.2v1.2h-1.2zM382.3 236.1h1.2v1.2h-1.2zM390.4 233.5h1.2v1.2h-1.2zM373.4 225.9h1.2v1.2h-1.2zM394.4 241h1.2v1.2h-1.2zM390.2 228h1.2v1.2h-1.2zM398.1 234h1.2v1.2h-1.2zM394.7 233.6h1.2v1.2h-1.2zM404.8 247.5h1.2v1.2h-1.2zM391.8 223.8h1.2v1.2h-1.2zM384.9 234.8h1.2v1.2h-1.2zM393.9 236h1.2v1.2h-1.2zM392.7 224.5h1.2v1.2h-1.2zM382.1 248.1h1.2v1.2h-1.2zM373.5 244.1h1.2v1.2h-1.2zM413.7 242h1.2v1.2h-1.2zM374.2 246.6h1.2v1.2h-1.2zM384.6 246.5h1.2v1.2h-1.2zM401.6 238.5h1.2v1.2h-1.2zM408.1 244.6h1.2v1.2h-1.2zM383.9 229.4h1.2v1.2h-1.2zM393.4 236.1h1.2v1.2h-1.2zM384 224.6h1.2v1.2h-1.2zM387.5 236.1h1.2v1.2h-1.2zM399.5 233h1.2v1.2h-1.2zM372.3 228.7h1.2v1.2h-1.2zM388.6 238.9h1.2v1.2h-1.2zM396.7 234.1h1.2v1.2h-1.2zM394.8 238.1h1.2v1.2h-1.2zM407 236.6h1.2v1.2h-1.2zM390.5 241.4h1.2v1.2h-1.2zM402 229.9h1.2v1.2h-1.2zM383.9 234.9h1.2v1.2h-1.2zM400.5 237.2h1.2v1.2h-1.2zM410.6 249.1h1.2v1.2h-1.2zM398.7 226.1h1.2v1.2h-1.2zM405.4 240.2h1.2v1.2h-1.2zM376.2 237.4h1.2v1.2h-1.2zM397.1 244.6h1.2v1.2h-1.2zM390.9 233h1.2v1.2h-1.2zM397.2 231.1h1.2v1.2h-1.2zM388.2 242.9h1.2v1.2h-1.2zM373.6 239.9h1.2v1.2h-1.2zM375.8 236.3h1.2v1.2h-1.2zM396.6 236.6h1.2v1.2h-1.2zM398.8 237.7h1.2v1.2h-1.2zM386.8 240.8h1.2v1.2h-1.2zM386.5 238h1.2v1.2h-1.2zM400.1 232.6h1.2v1.2h-1.2zM401.3 228.5h1.2v1.2h-1.2zM386.7 223.6h1.2v1.2h-1.2zM383.3 249.3h1.2v1.2h-1.2zM392.8 246.8h1.2v1.2h-1.2zM373.3 229.2h1.2v1.2h-1.2zM394 243.4h1.2v1.2h-1.2zM397.9 224.1h1.2v1.2h-1.2zM394.5 236.4h1.2v1.2h-1.2zM390.3 240.7h1.2v1.2h-1.2zM386 223.9h1.2v1.2h-1.2zM377.6 225.8h1.2v1.2h-1.2zM374.9 236h1.2v1.2h-1.2zM403 231.5h1.2v1.2h-1.2zM380.8 228.1h1.2v1.2h-1.2zM370.5 237.5h1.2v1.2h-1.2zM383.8 235.1h1.2v1.2h-1.2zM378.7 240.8h1.2v1.2h-1.2zM376.1 241.2h1.2v1.2h-1.2zM381.9 243.1h1.2v1.2h-1.2zM379.5 240.4h1.2v1.2h-1.2zM393.7 236.4h1.2v1.2h-1.2zM406.5 238.4h1.2v1.2h-1.2zM379.5 242.3h1.2v1.2h-1.2zM380.2 232.8h1.2v1.2h-1.2zM389.1 238.4h1.2v1.2h-1.2zM407.3 223.5h1.2v1.2h-1.2zM386.2 245.7h1.2v1.2h-1.2zM387.3 239.5h1.2v1.2h-1.2zM405.3 227.5h1.2v1.2h-1.2zM389.5 243.1h1.2v1.2h-1.2zM382.7 223.5h1.2v1.2h-1.2zM378.3 238.5h1.2v1.2h-1.2zM391 251.2h1.2v1.2h-1.2zM403.2 225h1.2v1.2h-1.2zM400.1 244.1h1.2v1.2h-1.2zM406.4 235.8h1.2v1.2h-1.2zM383 238.1h1.2v1.2h-1.2zM405.6 241.8h1.2v1.2h-1.2zM407.2 243.1h1.2v1.2h-1.2zM382.7 229.2h1.2v1.2h-1.2zM408.8 225.3h1.2v1.2h-1.2zM385.3 234.5h1.2v1.2h-1.2zM379.2 232.6h1.2v1.2h-1.2zM388.3 233h1.2v1.2h-1.2zM390.3 244.3h1.2v1.2h-1.2zM380.3 233.9h1.2v1.2h-1.2zM370.3 242.4h1.2v1.2h-1.2zM396.3 248.6h1.2v1.2h-1.2zM398.4 234.9h1.2v1.2h-1.2zM384.8 234.6h1.2v1.2h-1.2zM376 243h1.2v1.2h-1.2zM382.5 231.4h1.2v1.2h-1.2zM394.5 237.9h1.2v1.2h-1.2zM382.7 235.2h1.2v1.2h-1.2zM383.7 247.4h1.2v1.2h-1.2zM399.7 231.4h1.2v1.2h-1.2zM388.6 247.6h1.2v1.2h-1.2zM385.9 250.8h1.2v1.2h-1.2zM393.8 242.2h1.2v1.2h-1.2zM392.6 241.5h1.2v1.2h-1.2zM394.2 241.1h1.2v1.2h-1.2zM383.6 244h1.2v1.2h-1.2zM389.7 228.9h1.2v1.2h-1.2zM378.1 238.3h1.2v1.2h-1.2zM372.6 235.1h1.2v1.2h-1.2zM382.6 241.3h1.2v1.2h-1.2zM404.1 249.5h1.2v1.2h-1.2zM378.2 246.6h1.2v1.2h-1.2zM376 239.4h1.2v1.2h-1.2zM390.8 241.8h1.2v1.2h-1.2zM380.4 247.4h1.2v1.2h-1.2zM388.3 236.9h1.2v1.2h-1.2zM386.1 228.7h1.2v1.2h-1.2zM396.7 239.6h1.2v1.2h-1.2zM393.9 251.5h1.2v1.2h-1.2zM379.7 234.8h1.2v1.2h-1.2zM389.1 243.6h1.2v1.2h-1.2zM387.1 244.2h1.2v1.2h-1.2zM393.9 223.4h1.2v1.2h-1.2zM385.9 233.8h1.2v1.2h-1.2zM395.3 238.3h1.2v1.2h-1.2zM388.3 246.8h1.2v1.2h-1.2zM395.4 227.4h1.2v1.2h-1.2zM381.6 239.5h1.2v1.2h-1.2zM407.3 235.5h1.2v1.2h-1.2zM387.2 239.1h1.2v1.2h-1.2zM397.4 236.3h1.2v1.2h-1.2zM392.2 233.7h1.2v1.2h-1.2zM383.1 230.8h1.2v1.2h-1.2zM396.1 232.7h1.2v1.2h-1.2zM394.9 240.2h1.2v1.2h-1.2zM378.6 227.5h1.2v1.2h-1.2zM387.2 243.3h1.2v1.2h-1.2zM403.6 240h1.2v1.2h-1.2zM384.8 241.2h1.2v1.2h-1.2zM389.1 241.8h1.2v1.2h-1.2zM377.9 228.5h1.2v1.2h-1.2zM382.1 236.7h1.2v1.2h-1.2zM392.8 234.2h1.2v1.2h-1.2zM392.8 242.3h1.2v1.2h-1.2zM376.5 236.2h1.2v1.2h-1.2zM372.3 232.7h1.2v1.2h-1.2zM398.7 231.4h1.2v1.2h-1.2zM409 240.9h1.2v1.2h-1.2zM398.6 237.8h1.2v1.2h-1.2zM398.3 245.5h1.2v1.2h-1.2zM390.2 232.9h1.2v1.2h-1.2zM387 233.4h1.2v1.2h-1.2zM381.4 223.9h1.2v1.2h-1.2zM383.6 239.5h1.2v1.2h-1.2zM383.8 231.1h1.2v1.2h-1.2zM393.4 240.6h1.2v1.2h-1.2zM384.3 239.4h1.2v1.2h-1.2zM378.5 243.7h1.2v1.2h-1.2zM378.4 234.4h1.2v1.2h-1.2zM390.5 233.7h1.2v1.2h-1.2zM405.3 223.4h1.2v1.2h-1.2zM390.3 227.1h1.2v1.2h-1.2zM392.4 226.9h1.2v1.2h-1.2zM395.2 241.1h1.2v1.2h-1.2zM407.4 246.4h1.2v1.2h-1.2zM384.1 244.4h1.2v1.2h-1.2zM384.1 236.1h1.2v1.2h-1.2zM383.6 223.3h1.2v1.2h-1.2zM386.5 241.1h1.2v1.2h-1.2zM390.2 224.7h1.2v1.2h-1.2zM382 242.3h1.2v1.2h-1.2zM400.8 249.4h1.2v1.2h-1.2zM383.8 243h1.2v1.2h-1.2zM370.9 235.9h1.2v1.2h-1.2zM396.6 232h1.2v1.2h-1.2zM385.1 229.4h1.2v1.2h-1.2zM401 226.7h1.2v1.2h-1.2zM379.2 234.4h1.2v1.2h-1.2zM392 230.5h1.2v1.2h-1.2zM395.2 239.7h1.2v1.2h-1.2zM392 236.5h1.2v1.2h-1.2zM394 227.9h1.2v1.2h-1.2zM376.1 233.7h1.2v1.2h-1.2zM377.1 242.5h1.2v1.2h-1.2zM409.9 246.6h1.2v1.2h-1.2zM393.8 239.6h1.2v1.2h-1.2zM381.6 226.9h1.2v1.2h-1.2zM394.9 225.5h1.2v1.2h-1.2zM392.2 235.9h1.2v1.2h-1.2zM397.1 237.4h1.2v1.2h-1.2zM390.1 232.5h1.2v1.2h-1.2zM370.5 234.3h1.2v1.2h-1.2zM396.5 245.1h1.2v1.2h-1.2zM403.8 229.2h1.2v1.2h-1.2zM378.9 242.5h1.2v1.2h-1.2zM392.4 225.2h1.2v1.2h-1.2zM383 249.2h1.2v1.2h-1.2zM374.1 249.5h1.2v1.2h-1.2zM384.2 229h1.2v1.2h-1.2zM370.6 231.4h1.2v1.2h-1.2zM412.4 237.8h1.2v1.2h-1.2zM386.1 228h1.2v1.2h-1.2zM392.7 233.3h1.2v1.2h-1.2zM379.9 247.8h1.2v1.2h-1.2zM393.7 230.1h1.2v1.2h-1.2zM404.9 236.6h1.2v1.2h-1.2zM394.4 238.2h1.2v1.2h-1.2zM401.7 241.8h1.2v1.2h-1.2zM385.3 242.6h1.2v1.2h-1.2zM384.8 238h1.2v1.2h-1.2zM406.6 228.7h1.2v1.2h-1.2zM377.9 233.9h1.2v1.2h-1.2zM383.6 247.1h1.2v1.2h-1.2zM406 233.5h1.2v1.2h-1.2zM391 234.2h1.2v1.2h-1.2zM396.2 242.2h1.2v1.2h-1.2zM397.1 243h1.2v1.2h-1.2zM409.8 235.7h1.2v1.2h-1.2zM396.5 235.5h1.2v1.2h-1.2zM389.4 238.7h1.2v1.2h-1.2zM388.4 239.7h1.2v1.2h-1.2zM379.8 235.8h1.2v1.2h-1.2zM382.5 227.9h1.2v1.2h-1.2zM381.4 233.1h1.2v1.2h-1.2zM387.4 224.8h1.2v1.2h-1.2zM386.2 228.2h1.2v1.2h-1.2zM380.2 238.5h1.2v1.2h-1.2zM400.9 239.2h1.2v1.2h-1.2zM383.7 233.6h1.2v1.2h-1.2zM403.4 224.3h1.2v1.2h-1.2zM401.3 225.3h1.2v1.2h-1.2zM382.2 237.4h1.2v1.2h-1.2zM386.6 250h1.2v1.2h-1.2zM394.3 236.6h1.2v1.2h-1.2zM399.3 237.3h1.2v1.2h-1.2zM380.3 245.8h1.2v1.2h-1.2zM405.1 247h1.2v1.2h-1.2zM376.4 251.9h1.2v1.2h-1.2zM384.5 243h1.2v1.2h-1.2zM371.6 229h1.2v1.2h-1.2zM401.7 240.9h1.2v1.2h-1.2zM393.7 235.5h1.2v1.2h-1.2zM388.9 238.8h1.2v1.2h-1.2zM397.1 234.9h1.2v1.2h-1.2zM379.3 234.2h1.2v1.2h-1.2zM410.3 231.6h1.2v1.2h-1.2zM388.1 251.8h1.2v1.2h-1.2zM400.3 238h1.2v1.2h-1.2zM396.9 234.9h1.2v1.2h-1.2zM379.2 244.8h1.2v1.2h-1.2zM390.4 249.5h1.2v1.2h-1.2zM386.2 234.1h1.2v1.2h-1.2zM392.7 235.5h1.2v1.2h-1.2zM385.6 230h1.2v1.2h-1.2zM391.7 239.5h1.2v1.2h-1.2zM408.7 236.8h1.2v1.2h-1.2zM370.1 240.6h1.2v1.2h-1.2zM413.7 233.6h1.2v1.2h-1.2zM380.4 235.7h1.2v1.2h-1.2zM387 225.2h1.2v1.2h-1.2zM395.2 230.2h1.2v1.2h-1.2zM402.5 238.5h1.2v1.2h-1.2zM383.5 235h1.2v1.2h-1.2zM399.4 232.9h1.2v1.2h-1.2zM393.5 244.6h1.2v1.2h-1.2zM379.2 232.4h1.2v1.2h-1.2zM393.8 237.1h1.2v1.2h-1.2zM387.7 232.9h1.2v1.2h-1.2zM388.3 251.5h1.2v1.2h-1.2zM403.7 224.4h1.2v1.2h-1.2zM389.5 237.7h1.2v1.2h-1.2zM389.4 226.2h1.2v1.2h-1.2zM387.6 238.2h1.2v1.2h-1.2zM381.6 239.5h1.2v1.2h-1.2zM390.1 240.1h1.2v1.2h-1.2zM387.2 233.4h1.2v1.2h-1.2zM391 245.5h1.2v1.2h-1.2zM398.7 236.4h1.2v1.2h-1.2zM384 245.3h1.2v1.2h-1.2zM394.8 243.9h1.2v1.2h-1.2zM386 230.3h1.2v1.2h-1.2zM391 232.1h1.2v1.2h-1.2zM401.4 243.7h1.2v1.2h-1.2zM403.4 245.1h1.2v1.2h-1.2zM383.9 230.3h1.2v1.2h-1.2zM399.5 244.9h1.2v1.2h-1.2zM389.6 228h1.2v1.2h-1.2zM372.5 239.1h1.2v1.2h-1.2zM380.1 231.7h1.2v1.2h-1.2zM393.8 245.2h1.2v1.2h-1.2zM403 236.7h1.2v1.2h-1.2zM385.3 242h1.2v1.2h-1.2zM376.7 227.4h1.2v1.2h-1.2zM389.2 249.2h1.2v1.2h-1.2zM400 237h1.2v1.2h-1.2zM399.9 233.8h1.2v1.2h-1.2zM376.3 223.9h1.2v1.2h-1.2zM391.9 244.1h1.2v1.2h-1.2zM393 236.7h1.2v1.2h-1.2zM384.7 245.5h1.2v1.2h-1.2zM388.5 225.7h1.2v1.2h-1.2zM403.8 231.9h1.2v1.2h-1.2zM393.2 237h1.2v1.2h-1.2zM400.4 238.9h1.2v1.2h-1.2zM402.2 238.7h1.2v1.2h-1.2zM384 233h1.2v1.2h-1.2zM396 230.5h1.2v1.2h-1.2zM399 235.1h1.2v1.2h-1.2zM379 230.2h1.2v1.2h-1.2zM387.4 250.9h1.2v1.2h-1.2zM397.3 237.2h1.2v1.2h-1.2zM386 237h1.2v1.2h-1.2zM384.4 247.5h1.2v1.2h-1.2zM390.9 233.4h1.2v1.2h-1.2zM391 229.2h1.2v1.2h-1.2zM377.6 235.7h1.2v1.2h-1.2zM410.5 228.3h1.2v1.2h-1.2zM387.5 224.6h1.2v1.2h-1.2zM390.9 238.7h1.2v1.2h-1.2zM397 226.5h1.2v1.2h-1.2zM382.5 231.9h1.2v1.2h-1.2zM386.8 236.7h1.2v1.2h-1.2zM383.5 243.2h1.2v1.2h-1.2zM405.6 228.6h1.2v1.2h-1.2zM400.4 237.2h1.2v1.2h-1.2zM402.5 245.3h1.2v1.2h-1.2zM396.1 223.9h1.2v1.2h-1.2zM390.4 233.1h1.2v1.2h-1.2zM393.8 237.3h1.2v1.2h-1.2zM400.3 224.4h1.2v1.2h-1.2zM381 236.4h1.2v1.2h-1.2zM392.5 233.8h1.2v1.2h-1.2zM388.7 237.4h1.2v1.2h-1.2zM400.3 236.1h1.2v1.2h-1.2zM391.6 222.7h1.2v1.2h-1.2zM393.4 236.2h1.2v1.2h-1.2zM389 231.3h1.2v1.2h-1.2zM384.5 243.5h1.2v1.2h-1.2zM392.9 236.8h1.2v1.2h-1.2zM383.7 238.7h1.2v1.2h-1.2zM401.9 236.8h1.2v1.2h-1.2zM385 227.7h1.2v1.2h-1.2zM390.1 229.8h1.2v1.2h-1.2zM373.5 243.8h1.2v1.2h-1.2zM381.2 251.5h1.2v1.2h-1.2zM387.8 226.6h1.2v1.2h-1.2zM377.1 242.6h1.2v1.2h-1.2zM393.4 238.7h1.2v1.2h-1.2zM386.9 240.8h1.2v1.2h-1.2zM405.7 240.8h1.2v1.2h-1.2zM387.2 226h1.2v1.2h-1.2zM393.8 249.3h1.2v1.2h-1.2zM396 227.1h1.2v1.2h-1.2zM391 247.2h1.2v1.2h-1.2zM382.1 240.9h1.2v1.2h-1.2zM402.1 249.9h1.2v1.2h-1.2zM371.8 223.3h1.2v1.2h-1.2zM393.1 242.5h1.2v1.2h-1.2zM385.2 236.8h1.2v1.2h-1.2zM384.6 246.4h1.2v1.2h-1.2zM375.1 231.7h1.2v1.2h-1.2zM372.4 229.8h1.2v1.2h-1.2zM388.7 237.2h1.2v1.2h-1.2zM408.4 235.3h1.2v1.2h-1.2zM392.7 239.8h1.2v1.2h-1.2zM391.8 248.5h1.2v1.2h-1.2zM390.5 238.2h1.2v1.2h-1.2zM387.8 237h1.2v1.2h-1.2zM388.4 244.8h1.2v1.2h-1.2zM389.2 237.5h1.2v1.2h-1.2zM388.5 243h1.2v1.2h-1.2zM383.9 244.4h1.2v1.2h-1.2zM382.8 242.5h1.2v1.2h-1.2zM409.8 238.8h1.2v1.2h-1.2zM388.1 227.7h1.2v1.2h-1.2zM397 237.1h1.2v1.2h-1.2zM398.9 231.8h1.2v1.2h-1.2zM394.6 251.2h1.2v1.2h-1.2zM393.4 234.4h1.2v1.2h-1.2zM374.9 236.9h1.2v1.2h-1.2zM396.1 241.7h1.2v1.2h-1.2zM376.9 228.9h1.2v1.2h-1.2zM378.4 229h1.2v1.2h-1.2zM386 239.1h1.2v1.2h-1.2zM409.9 238.5h1.2v1.2h-1.2zM404.8 224h1.2v1.2h-1.2zM405.7 243.3h1.2v1.2h-1.2zM393.8 243.5h1.2v1.2h-1.2zM397.7 223.3h1.2v1.2h-1.2zM370 249.7h1.2v1.2h-1.2zM388.1 247.4h1.2v1.2h-1.2zM385.3 231.8h1.2v1.2h-1.2zM385.3 239.5h1.2v1.2h-1.2zM391 232.1h1.2v1.2h-1.2zM394.8 241.9h1.2v1.2h-1.2zM379 228.2h1.2v1.2h-1.2zM389.1 231.5h1.2v1.2h-1.2zM382.5 235.9h1.2v1.2h-1.2zM389.3 241.5h1.2v1.2h-1.2zM398 240.5h1.2v1.2h-1.2zM401.2 229.4h1.2v1.2h-1.2zM395.6 239.9h1.2v1.2h-1.2zM377.7 231.7h1.2v1.2h-1.2zM393.8 237.6h1.2v1.2h-1.2zM375.3 232.6h1.2v1.2h-1.2zM405.6 243.7h1.2v1.2h-1.2zM389.9 247.7h1.2v1.2h-1.2zM379.1 235.6h1.2v1.2h-1.2zM399.4 234.3h1.2v1.2h-1.2zM376.9 241.6h1.2v1.2h-1.2zM390.7 227.1h1.2v1.2h-1.2zM385.8 225.8h1.2v1.2h-1.2zM389.5 231.4h1.2v1.2h-1.2zM378.2 233.4h1.2v1.2h-1.2zM391.3 250.9h1.2v1.2h-1.2zM392.1 249.4h1.2v1.2h-1.2zM377.4 237.6h1.2v1.2h-1.2zM384.2 224.6h1.2v1.2h-1.2zM391.7 231h1.2v1.2h-1.2zM382.7 228.8h1.2v1.2h-1.2zM400.1 233.8h1.2v1.2h-1.2zM387.4 238.4h1.2v1.2h-1.2zM375.7 238.8h1.2v1.2h-1.2zM387.1 240.5h1.2v1.2h-1.2zM384.8 237.3h1.2v1.2h-1.2zM394.6 244.6h1.2v1.2h-1.2zM381.5 244.7h1.2v1.2h-1.2zM378.3 235.5h1.2v1.2h-1.2zM390.4 238.1h1.2v1.2h-1.2zM387 244.3h1.2v1.2h-1.2zM381.3 248.9h1.2v1.2h-1.2zM394.9 237.1h1.2v1.2h-1.2zM391.9 244.4h1.2v1.2h-1.2zM380.2 241.7h1.2v1.2h-1.2zM400.6 235.2h1.2v1.2h-1.2zM379.7 228.6h1.2v1.2h-1.2zM393.7 230.6h1.2v1.2h-1.2zM374.8 234.7h1.2v1.2h-1.2zM405.6 242.4h1.2v1.2h-1.2zM377.9 245.2h1.2v1.2h-1.2zM383 241.7h1.2v1.2h-1.2zM395.1 233.5h1.2v1.2h-1.2zM387.3 246.2h1.2v1.2h-1.2zM394.4 236.5h1.2v1.2h-1.2zM393.8 250.8h1.2v1.2h-1.2zM399.1 240.8h1.2v1.2h-1.2zM392.6 224.6h1.2v1.2h-1.2zM390.5 233.2h1.2v1.2h-1.2zM397 232.2h1.2v1.2h-1.2zM393.9 228.7h1.2v1.2h-1.2zM398.7 231.2h1.2v1.2h-1.2zM388.7 241.6h1.2v1.2h-1.2zM385.5 237.1h1.2v1.2h-1.2zM400.5 251h1.2v1.2h-1.2zM396.3 244.4h1.2v1.2h-1.2zM383.8 237.7h1.2v1.2h-1.2zM386.8 227.6h1.2v1.2h-1.2zM372.1 226.9h1.2v1.2h-1.2zM403.2 233.9h1.2v1.2h-1.2zM410.2 242h1.2v1.2h-1.2zM393.2 242.1h1.2v1.2h-1.2zM397.6 244.3h1.2v1.2h-1.2zM378.4 232.6h1.2v1.2h-1.2zM383 237.8h1.2v1.2h-1.2zM386.3 227.3h1.2v1.2h-1.2zM381.5 251.1h1.2v1.2h-1.2zM412.1 230.2h1.2v1.2h-1.2zM393.1 236.7h1.2v1.2h-1.2zM379.8 242.6h1.2v1.2h-1.2zM388.2 250.2h1.2v1.2h-1.2zM394 234.5h1.2v1.2h-1.2zM398.2 231.4h1.2v1.2h-1.2zM398.6 242.4h1.2v1.2h-1.2zM369.8 235.5h1.2v1.2h-1.2zM392.5 243h1.2v1.2h-1.2zM390.7 236.9h1.2v1.2h-1.2zM385.2 234.7h1.2v1.2h-1.2zM389 228.6h1.2v1.2h-1.2zM396 234.4h1.2v1.2h-1.2zM394.7 233h1.2v1.2h-1.2zM393.5 238h1.2v1.2h-1.2zM398.7 240.7h1.2v1.2h-1.2zM399.1 235.7h1.2v1.2h-1.2zM388.4 234.9h1.2v1.2h-1.2zM375.4 236h1.2v1.2h-1.2zM400.8 243.1h1.2v1.2h-1.2zM379.8 239.4h1.2v1.2h-1.2zM397.2 226.3h1.2v1.2h-1.2zM392.8 239.6h1.2v1.2h-1.2zM397.1 239h1.2v1.2h-1.2zM410.6 233.9h1.2v1.2h-1.2zM402.8 247h1.2v1.2h-1.2zM390 228h1.2v1.2h-1.2zM403.9 236.7h1.2v1.2h-1.2zM394.6 240.8h1.2v1.2h-1.2zM399.4 245h1.2v1.2h-1.2zM373.6 225.9h1.2v1.2h-1.2zM390.5 237.1h1.2v1.2h-1.2zM397.5 235.9h1.2v1.2h-1.2zM403.9 246.1h1.2v1.2h-1.2zM400.3 230.8h1.2v1.2h-1.2zM388.1 236.5h1.2v1.2h-1.2zM377.1 230.1h1.2v1.2h-1.2zM390.7 227.4h1.2v1.2h-1.2zM394.9 240.7h1.2v1.2h-1.2zM386.4 234.3h1.2v1.2h-1.2zM395.5 240.8h1.2v1.2h-1.2zM393 227.4h1.2v1.2h-1.2zM381.9 234.1h1.2v1.2h-1.2zM381 243.3h1.2v1.2h-1.2zM384.5 233.1h1.2v1.2h-1.2zM380.6 233.5h1.2v1.2h-1.2zM371.9 239.1h1.2v1.2h-1.2zM402 238.2h1.2v1.2h-1.2zM383.2 246.9h1.2v1.2h-1.2zM394.3 228.9h1.2v1.2h-1.2zM382.8 232.2h1.2v1.2h-1.2zM388.5 246.5h1.2v1.2h-1.2zM381.3 235.8h1.2v1.2h-1.2zM390.2 227.6h1.2v1.2h-1.2zM383.8 241.8h1.2v1.2h-1.2zM401.3 222.3h1.2v1.2h-1.2zM396.7 234.7h1.2v1.2h-1.2zM403 241.9h1.2v1.2h-1.2zM410.4 239.4h1.2v1.2h-1.2zM384.7 230.5h1.2v1.2h-1.2zM373.4 241.4h1.2v1.2h-1.2zM394.6 243.4h1.2v1.2h-1.2zM392.8 225.2h1.2v1.2h-1.2zM384.6 235.1h1.2v1.2h-1.2zM390.7 243h1.2v1.2h-1.2zM404.4 239.2h1.2v1.2h-1.2zM376 238.9h1.2v1.2h-1.2zM386.6 245.8h1.2v1.2h-1.2zM400.7 233.4h1.2v1.2h-1.2zM399.3 237.1h1.2v1.2h-1.2zM394 247.6h1.2v1.2h-1.2zM376.5 236.5h1.2v1.2h-1.2zM405.7 231h1.2v1.2h-1.2zM391.3 238h1.2v1.2h-1.2zM384.5 226.7h1.2v1.2h-1.2zM381.5 229.3h1.2v1.2h-1.2zM400.8 239h1.2v1.2h-1.2zM396.6 227.7h1.2v1.2h-1.2zM394.5 238.1h1.2v1.2h-1.2zM400.4 231.3h1.2v1.2h-1.2zM397.8 247.8h1.2v1.2h-1.2zM408.6 229.7h1.2v1.2h-1.2zM376.8 225.5h1.2v1.2h-1.2zM399.5 241.7h1.2v1.2h-1.2zM392.7 230.2h1.2v1.2h-1.2zM402.6 249.6h1.2v1.2h-1.2zM388.6 236.1h1.2v1.2h-1.2zM401.9 241h1.2v1.2h-1.2zM403.6 233.8h1.2v1.2h-1.2zM392.7 234.4h1.2v1.2h-1.2zM382.8 234.7h1.2v1.2h-1.2zM385.9 241h1.2v1.2h-1.2zM385.7 237.6h1.2v1.2h-1.2zM380.2 227.4h1.2v1.2h-1.2zM404.5 229.3h1.2v1.2h-1.2zM408.7 244.4h1.2v1.2h-1.2zM384.5 237.2h1.2v1.2h-1.2zM387.1 232.3h1.2v1.2h-1.2zM402.6 236h1.2v1.2h-1.2zM399.5 231.6h1.2v1.2h-1.2zM381.5 247.5h1.2v1.2h-1.2zM385.9 228.4h1.2v1.2h-1.2zM387.2 245.2h1.2v1.2h-1.2zM387.3 231.4h1.2v1.2h-1.2zM395.9 244.7h1.2v1.2h-1.2zM386.8 234.5h1.2v1.2h-1.2zM387 250.7h1.2v1.2h-1.2zM387.4 240.2h1.2v1.2h-1.2zM389.6 234.5h1.2v1.2h-1.2zM384.6 226.3h1.2v1.2h-1.2zM372.8 238.3h1.2v1.2h-1.2zM382.1 236.3h1.2v1.2h-1.2zM387.1 233h1.2v1.2h-1.2zM381.1 251.5h1.2v1.2h-1.2zM377 233h1.2v1.2h-1.2zM385.8 228h1.2v1.2h-1.2zM378.6 243.8h1.2v1.2h-1.2zM399.1 238h1.2v1.2h-1.2zM402.4 230.6h1.2v1.2h-1.2zM400.8 250.2h1.2v1.2h-1.2zM384.9 251.1h1.2v1.2h-1.2zM380.3 228.1h1.2v1.2h-1.2zM388.5 230.7h1.2v1.2h-1.2zM395.9 228.4h1.2v1.2h-1.2zM389.9 221.7h1.2v1.2h-1.2zM388.7 245.2h1.2v1.2h-1.2zM386.2 239.4h1.2v1.2h-1.2zM400.9 228.4h1.2v1.2h-1.2zM375.2 237.6h1.2v1.2h-1.2zM392 234.9h1.2v1.2h-1.2zM378.5 246.5h1.2v1.2h-1.2zM376.4 235h1.2v1.2h-1.2zM388.6 242.7h1.2v1.2h-1.2zM384.2 230.6h1.2v1.2h-1.2zM410.9 230.4h1.2v1.2h-1.2zM397.7 235.8h1.2v1.2h-1.2zM383.9 236.7h1.2v1.2h-1.2zM386.3 239.4h1.2v1.2h-1.2zM389.8 229.4h1.2v1.2h-1.2zM409.1 242h1.2v1.2h-1.2zM391.6 234.6h1.2v1.2h-1.2zM404.1 233.5h1.2v1.2h-1.2zM380.1 242.4h1.2v1.2h-1.2zM378.5 230.8h1.2v1.2h-1.2zM404.8 224.5h1.2v1.2h-1.2zM388.3 237.9h1.2v1.2h-1.2zM391.8 225.6h1.2v1.2h-1.2zM386.6 234.4h1.2v1.2h-1.2zM409.9 244.9h1.2v1.2h-1.2zM380.8 243.8h1.2v1.2h-1.2zM396.1 236.1h1.2v1.2h-1.2zM386.4 234.9h1.2v1.2h-1.2zM372.3 232.1h1.2v1.2h-1.2zM399.2 248.3h1.2v1.2h-1.2zM409.2 234.1h1.2v1.2h-1.2zM386.1 227.1h1.2v1.2h-1.2zM398 224.1h1.2v1.2h-1.2zM377.7 228.4h1.2v1.2h-1.2zM393.3 243.5h1.2v1.2h-1.2zM379.1 251.1h1.2v1.2h-1.2zM390.8 230.5h1.2v1.2h-1.2zM392.8 236.9h1.2v1.2h-1.2zM398.1 239.7h1.2v1.2h-1.2zM412.8 246.1h1.2v1.2h-1.2zM382.1 243.2h1.2v1.2h-1.2zM397.3 229.2h1.2v1.2h-1.2zM380.9 230.7h1.2v1.2h-1.2zM386.7 246.6h1.2v1.2h-1.2zM383 237.6h1.2v1.2h-1.2zM396.9 244.6h1.2v1.2h-1.2zM392.5 228.9h1.2v1.2h-1.2zM413 243.8h1.2v1.2h-1.2zM403.8 249.6h1.2v1.2h-1.2zM404.3 240.2h1.2v1.2h-1.2zM394.2 241.9h1.2v1.2h-1.2zM372.7 243.4h1.2v1.2h-1.2zM378.5 240.3h1.2v1.2h-1.2zM378.1 242.6h1.2v1.2h-1.2zM391.1 241h1.2v1.2h-1.2zM379.2 234.8h1.2v1.2h-1.2zM388.4 234.8h1.2v1.2h-1.2zM384.3 230.2h1.2v1.2h-1.2zM397.3 234h1.2v1.2h-1.2zM380.2 239.9h1.2v1.2h-1.2zM380.3 235.6h1.2v1.2h-1.2zM383.5 229.8h1.2v1.2h-1.2zM386.6 230.6h1.2v1.2h-1.2zM375.5 239.8h1.2v1.2h-1.2zM385.9 225.6h1.2v1.2h-1.2zM384.8 238.5h1.2v1.2h-1.2zM393.7 239.9h1.2v1.2h-1.2zM391.8 241.7h1.2v1.2h-1.2zM383.7 230.8h1.2v1.2h-1.2zM395.7 233.8h1.2v1.2h-1.2zM389.2 242.1h1.2v1.2h-1.2zM399.3 246.5h1.2v1.2h-1.2zM381.6 234.1h1.2v1.2h-1.2zM395.1 225.8h1.2v1.2h-1.2zM375.4 241.7h1.2v1.2h-1.2zM382.4 229.8h1.2v1.2h-1.2zM397.8 241.1h1.2v1.2h-1.2zM399 234.4h1.2v1.2h-1.2zM386 234.4h1.2v1.2h-1.2zM381.6 242.5h1.2v1.2h-1.2zM380.6 236.5h1.2v1.2h-1.2zM390.4 241.1h1.2v1.2h-1.2zM383.9 228.2h1.2v1.2h-1.2zM407.6 223.3h1.2v1.2h-1.2zM390.3 235.5h1.2v1.2h-1.2zM399.7 229.1h1.2v1.2h-1.2zM380.4 231.2h1.2v1.2h-1.2zM383.5 239h1.2v1.2h-1.2zM380.6 235.1h1.2v1.2h-1.2zM405 248.2h1.2v1.2h-1.2zM385.1 247.1h1.2v1.2h-1.2zM385.5 251.9h1.2v1.2h-1.2zM393 248.2h1.2v1.2h-1.2zM379.8 234.6h1.2v1.2h-1.2zM400.1 241.5h1.2v1.2h-1.2zM391 241.9h1.2v1.2h-1.2zM382.2 250.5h1.2v1.2h-1.2zM390.7 248.3h1.2v1.2h-1.2zM393.5 237.7h1.2v1.2h-1.2zM385.7 227.9h1.2v1.2h-1.2zM398.5 242.9h1.2v1.2h-1.2zM399.2 234.1h1.2v1.2h-1.2zM378.2 234.1h1.2v1.2h-1.2zM385.7 236.9h1.2v1.2h-1.2zM399.7 229.9h1.2v1.2h-1.2zM383.8 242.4h1.2v1.2h-1.2zM394.8 230.4h1.2v1.2h-1.2zM377.9 230.9h1.2v1.2h-1.2zM389.9 239h1.2v1.2h-1.2zM388.4 232.3h1.2v1.2h-1.2zM387.1 236.4h1.2v1.2h-1.2zM395.5 237.7h1.2v1.2h-1.2zM380.4 227.9h1.2v1.2h-1.2zM405.1 236.3h1.2v1.2h-1.2zM387.2 236.8h1.2v1.2h-1.2zM401.3 234.6h1.2v1.2h-1.2zM391 235.2h1.2v1.2h-1.2zM395.4 229.2h1.2v1.2h-1.2zM391.3 245h1.2v1.2h-1.2zM401.9 241.8h1.2v1.2h-1.2zM392.3 249.2h1.2v1.2h-1.2zM396.8 247.9h1.2v1.2h-1.2zM376.2 228.5h1.2v1.2h-1.2zM397.8 235h1.2v1.2h-1.2zM384.5 229.7h1.2v1.2h-1.2zM405.2 227.8h1.2v1.2h-1.2zM390.3 226.2h1.2v1.2h-1.2zM378.2 249.6h1.2v1.2h-1.2zM379.9 223.2h1.2v1.2h-1.2zM392.9 228.7h1.2v1.2h-1.2zM373.5 245.7h1.2v1.2h-1.2zM381.3 228.8h1.2v1.2h-1.2zM391 235.6h1.2v1.2h-1.2zM401.3 237.8h1.2v1.2h-1.2zM406.3 245.8h1.2v1.2h-1.2zM408.3 245.7h1.2v1.2h-1.2zM389.9 241.2h1.2v1.2h-1.2zM389.4 225h1.2v1.2h-1.2zM376.5 242.8h1.2v1.2h-1.2zM375.3 236.5h1.2v1.2h-1.2zM378 238.9h1.2v1.2h-1.2zM387 233.4h1.2v1.2h-1.2zM390 227h1.2v1.2h-1.2zM386 239.9h1.2v1.2h-1.2zM400.5 242.5h1.2v1.2h-1.2zM405.1 226h1.2v1.2h-1.2zM396.4 249.2h1.2v1.2h-1.2zM393.4 228.4h1.2v1.2h-1.2zM393.4 233h1.2v1.2h-1.2zM382.2 245.3h1.2v1.2h-1.2zM387.3 228.4h1.2v1.2h-1.2zM380.1 242.2h1.2v1.2h-1.2zM391.1 246.1h1.2v1.2h-1.2zM386.2 229.7h1.2v1.2h-1.2zM382.3 229.1h1.2v1.2h-1.2zM385.7 246.8h1.2v1.2h-1.2zM396.2 235.6h1.2v1.2h-1.2zM395.9 239.1h1.2v1.2h-1.2zM401.3 249.8h1.2v1.2h-1.2zM385.8 236.7h1.2v1.2h-1.2zM387.2 246.5h1.2v1.2h-1.2zM393.3 243.1h1.2v1.2h-1.2zM398.8 232.1h1.2v1.2h-1.2zM390.6 247.7h1.2v1.2h-1.2zM399.1 243.3h1.2v1.2h-1.2zM386.2 234.2h1.2v1.2h-1.2zM380 234.9h1.2v1.2h-1.2zM388.5 225.9h1.2v1.2h-1.2zM401.7 231.1h1.2v1.2h-1.2zM391.9 241.7h1.2v1.2h-1.2zM383.3 223h1.2v1.2h-1.2zM399.6 240.2h1.2v1.2h-1.2zM386.5 245.8h1.2v1.2h-1.2zM398.8 229.6h1.2v1.2h-1.2zM388.3 223.4h1.2v1.2h-1.2zM386.4 247.9h1.2v1.2h-1.2zM380.2 243.4h1.2v1.2h-1.2zM373 234.7h1.2v1.2h-1.2zM399.3 250.3h1.2v1.2h-1.2zM394.1 242.9h1.2v1.2h-1.2zM370.8 251.6h1.2v1.2h-1.2zM389.9 239h1.2v1.2h-1.2zM389.5 232.3h1.2v1.2h-1.2zM389 236.1h1.2v1.2h-1.2zM396.4 242.3h1.2v1.2h-1.2zM399.7 241.6h1.2v1.2h-1.2zM378.8 247.8h1.2v1.2h-1.2zM392.7 232.9h1.2v1.2h-1.2zM409.3 228.6h1.2v1.2h-1.2zM376.6 233.1h1.2v1.2h-1.2zM393.7 243.2h1.2v1.2h-1.2zM390.4 242.2h1.2v1.2h-1.2zM381.7 232.3h1.2v1.2h-1.2zM390.6 226.6h1.2v1.2h-1.2zM391.2 234h1.2v1.2h-1.2zM396.5 229.2h1.2v1.2h-1.2zM383.5 232.6h1.2v1.2h-1.2zM385.3 229.3h1.2v1.2h-1.2zM386.4 226.6h1.2v1.2h-1.2zM394.9 242.2h1.2v1.2h-1.2zM389 235.6h1.2v1.2h-1.2zM379.7 229.6h1.2v1.2h-1.2zM386.8 230h1.2v1.2h-1.2zM376.6 238.3h1.2v1.2h-1.2zM389 233.9h1.2v1.2h-1.2zM380.5 236.6h1.2v1.2h-1.2zM381.8 233.7h1.2v1.2h-1.2zM391.2 242.6h1.2v1.2h-1.2zM397.3 232.3h1.2v1.2h-1.2zM402.1 228.1h1.2v1.2h-1.2zM387.3 247.1h1.2v1.2h-1.2zM414.5 238h1.2v1.2h-1.2zM385.3 234.1h1.2v1.2h-1.2zM376.2 235.9h1.2v1.2h-1.2zM384.7 231.2h1.2v1.2h-1.2zM402 231h1.2v1.2h-1.2zM407.2 243.5h1.2v1.2h-1.2zM396 232.5h1.2v1.2h-1.2zM383.8 221.6h1.2v1.2h-1.2zM392.1 234.9h1.2v1.2h-1.2zM393.3 231.8h1.2v1.2h-1.2zM394.4 225.5h1.2v1.2h-1.2zM402.9 234.3h1.2v1.2h-1.2zM387.4 225.1h1.2v1.2h-1.2zM378.5 242.5h1.2v1.2h-1.2zM381.3 236.7h1.2v1.2h-1.2zM398.7 226.8h1.2v1.2h-1.2zM384.1 228.1h1.2v1.2h-1.2zM374.4 231.7h1.2v1.2h-1.2zM400.9 237.4h1.2v1.2h-1.2zM396.3 236h1.2v1.2h-1.2zM384.7 237.7h1.2v1.2h-1.2zM408.3 239.9h1.2v1.2h-1.2zM395.6 221.6h1.2v1.2h-1.2zM380.7 243.3h1.2v1.2h-1.2zM402.1 233.9h1.2v1.2h-1.2zM386.8 233.5h1.2v1.2h-1.2zM397.6 237.2h1.2v1.2h-1.2zM405.1 246.2h1.2v1.2h-1.2zM385.9 232.3h1.2v1.2h-1.2zM386.6 230.2h1.2v1.2h-1.2zM384.7 236.5h1.2v1.2h-1.2zM398.6 224.8h1.2v1.2h-1.2zM374.3 231h1.2v1.2h-1.2zM385.9 240.5h1.2v1.2h-1.2zM380.8 248.7h1.2v1.2h-1.2zM383.5 235.3h1.2v1.2h-1.2zM389.7 246.1h1.2v1.2h-1.2zM392.3 237.2h1.2v1.2h-1.2zM383.4 238.3h1.2v1.2h-1.2zM393.4 234.3h1.2v1.2h-1.2zM388.9 222.8h1.2v1.2h-1.2zM383.5 246.2h1.2v1.2h-1.2zM404.2 236.4h1.2v1.2h-1.2zM384.8 244.8h1.2v1.2h-1.2zM382.6 247.6h1.2v1.2h-1.2zM401.4 228.8h1.2v1.2h-1.2zM386.8 227.6h1.2v1.2h-1.2zM392.1 233.9h1.2v1.2h-1.2zM373.2 228.9h1.2v1.2h-1.2zM391.7 225.2h1.2v1.2h-1.2zM400.6 240.5h1.2v1.2h-1.2zM387.2 247.9h1.2v1.2h-1.2zM379.3 242.3h1.2v1.2h-1.2zM374.8 234.5h1.2v1.2h-1.2zM395.9 232.9h1.2v1.2h-1.2zM387.9 242h1.2v1.2h-1.2zM405.3 247.1h1.2v1.2h-1.2zM394 235h1.2v1.2h-1.2zM373.8 250.3h1.2v1.2h-1.2zM398.3 236.7h1.2v1.2h-1.2zM396.6 239.5h1.2v1.2h-1.2zM387.1 237h1.2v1.2h-1.2zM388.7 246.1h1.2v1.2h-1.2zM386.3 232.8h1.2v1.2h-1.2zM396 242h1.2v1.2h-1.2zM393.7 239.2h1.2v1.2h-1.2zM404.7 245.7h1.2v1.2h-1.2zM391.4 235.4h1.2v1.2h-1.2zM396.1 222.5h1.2v1.2h-1.2zM383.6 231.5h1.2v1.2h-1.2zM390.9 234h1.2v1.2h-1.2zM389.1 234.5h1.2v1.2h-1.2zM402.1 243.4h1.2v1.2h-1.2zM398.9 246.4h1.2v1.2h-1.2zM385.3 231.9h1.2v1.2h-1.2zM381.5 237.8h1.2v1.2h-1.2zM399.7 228.8h1.2v1.2h-1.2zM383.5 226.6h1.2v1.2h-1.2zM410.3 243.2h1.2v1.2h-1.2zM391.4 227.5h1.2v1.2h-1.2zM378.2 232h1.2v1.2h-1.2zM389.5 227.1h1.2v1.2h-1.2zM386.7 246.5h1.2v1.2h-1.2zM389.2 237.8h1.2v1.2h-1.2zM387.6 231.6h1.2v1.2h-1.2zM374.5 236.4h1.2v1.2h-1.2zM378.3 232.8h1.2v1.2h-1.2zM372.2 236.3h1.2v1.2h-1.2zM398.7 230.5h1.2v1.2h-1.2zM392.5 225.2h1.2v1.2h-1.2zM395.2 241.2h1.2v1.2h-1.2zM385 243.9h1.2v1.2h-1.2zM379.8 237.4h1.2v1.2h-1.2zM406.9 236.8h1.2v1.2h-1.2zM377.2 246h1.2v1.2h-1.2zM394.8 234.8h1.2v1.2h-1.2zM369.9 222.3h1.2v1.2h-1.2zM373 248.6h1.2v1.2h-1.2zM392.2 230.4h1.2v1.2h-1.2zM401.3 248.4h1.2v1.2h-1.2zM380.2 240.8h1.2v1.2h-1.2zM371.7 239.9h1.2v1.2h-1.2zM408.3 226h1.2v1.2h-1.2zM389.7 232.1h1.2v1.2h-1.2zM388.1 237.7h1.2v1.2h-1.2zM392.1 243.9h1.2v1.2h-1.2zM394.5 245.2h1.2v1.2h-1.2zM399.8 245.6h1.2v1.2h-1.2zM382 240.2h1.2v1.2h-1.2zM385.2 230.4h1.2v1.2h-1.2zM409.8 239.3h1.2v1.2h-1.2zM386.7 243h1.2v1.2h-1.2zM387 232.8h1.2v1.2h-1.2zM404.7 234.6h1.2v1.2h-1.2zM385.6 236.2h1.2v1.2h-1.2zM386.6 245.2h1.2v1.2h-1.2zM395.1 236.5h1.2v1.2h-1.2zM385.3 235.2h1.2v1.2h-1.2zM406.9 234.6h1.2v1.2h-1.2zM396 224.7h1.2v1.2h-1.2zM392.5 242.4h1.2v1.2h-1.2zM402.5 239.5h1.2v1.2h-1.2zM395.2 239.5h1.2v1.2h-1.2zM391.2 230.6h1.2v1.2h-1.2zM395.4 236.1h1.2v1.2h-1.2zM395.8 243.1h1.2v1.2h-1.2zM390.7 233.6h1.2v1.2h-1.2zM392.3 227.3h1.2v1.2h-1.2zM392 230.1h1.2v1.2h-1.2zM393.8 238h1.2v1.2h-1.2zM386.8 227.6h1.2v1.2h-1.2zM389.6 231.7h1.2v1.2h-1.2zM387.6 242.4h1.2v1.2h-1.2zM399.1 226.9h1.2v1.2h-1.2zM399 247.6h1.2v1.2h-1.2zM401 239.2h1.2v1.2h-1.2zM388.2 250.6h1.2v1.2h-1.2zM385.7 225.1h1.2v1.2h-1.2zM390.1 239.2h1.2v1.2h-1.2zM378.2 227.5h1.2v1.2h-1.2zM410 237.9h1.2v1.2h-1.2zM397.3 232.4h1.2v1.2h-1.2zM373.2 235.6h1.2v1.2h-1.2zM403.2 231.8h1.2v1.2h-1.2zM370.3 235.7h1.2v1.2h-1.2zM386.2 237.1h1.2v1.2h-1.2zM378.1 234.6h1.2v1.2h-1.2zM383.4 243.9h1.2v1.2h-1.2zM390.7 243.8h1.2v1.2h-1.2zM398.3 243.8h1.2v1.2h-1.2zM388.3 223.1h1.2v1.2h-1.2zM383.9 240.2h1.2v1.2h-1.2zM403.6 234.3h1.2v1.2h-1.2zM383.2 231h1.2v1.2h-1.2zM399.8 243.8h1.2v1.2h-1.2zM369.9 246.5h1.2v1.2h-1.2zM379.4 225.5h1.2v1.2h-1.2zM372.3 231.3h1.2v1.2h-1.2zM376 231.8h1.2v1.2h-1.2zM390.8 240.2h1.2v1.2h-1.2zM384.1 224.6h1.2v1.2h-1.2zM384.8 231.7h1.2v1.2h-1.2zM370.3 238.1h1.2v1.2h-1.2zM373.7 223.4h1.2v1.2h-1.2zM405.1 244.3h1.2v1.2h-1.2zM404.4 237.9h1.2v1.2h-1.2zM384.8 236.3h1.2v1.2h-1.2zM374.7 242.8h1.2v1.2h-1.2zM392 234.6h1.2v1.2h-1.2zM406.3 248.3h1.2v1.2h-1.2zM398.3 234.3h1.2v1.2h-1.2zM390.6 241.3h1.2v1.2h-1.2zM391.2 245.2h1.2v1.2h-1.2zM374.6 242.2h1.2v1.2h-1.2zM400.5 237h1.2v1.2h-1.2zM394.8 237.6h1.2v1.2h-1.2zM391 233.3h1.2v1.2h-1.2zM384.9 246.3h1.2v1.2h-1.2zM386.3 236.7h1.2v1.2h-1.2zM401.7 244.7h1.2v1.2h-1.2zM385 239h1.2v1.2h-1.2zM378.5 238h1.2v1.2h-1.2zM392.4 237h1.2v1.2h-1.2zM390.8 239.9h1.2v1.2h-1.2zM389.9 233.2h1.2v1.2h-1.2zM379 235.1h1.2v1.2h-1.2zM406.1 235.2h1.2v1.2h-1.2zM382.3 233.3h1.2v1.2h-1.2zM376.6 240.8h1.2v1.2h-1.2zM378.7 244.1h1.2v1.2h-1.2zM398.7 241.5h1.2v1.2h-1.2zM400.1 236.3h1.2v1.2h-1.2zM370.6 236.5h1.2v1.2h-1.2zM395.9 224.9h1.2v1.2h-1.2zM376.3 245.6h1.2v1.2h-1.2zM393.7 247.5h1.2v1.2h-1.2zM396.2 237.5h1.2v1.2h-1.2zM393.6 243.6h1.2v1.2h-1.2zM388.8 235.4h1.2v1.2h-1.2zM392.4 234.5h1.2v1.2h-1.2zM414.5 231h1.2v1.2h-1.2zM373.1 226.9h1.2v1.2h-1.2zM400.2 233.8h1.2v1.2h-1.2zM390.8 235.3h1.2v1.2h-1.2zM392.1 225.7h1.2v1.2h-1.2zM390 232.5h1.2v1.2h-1.2zM400.6 241.9h1.2v1.2h-1.2zM375.8 229.4h1.2v1.2h-1.2zM395.1 246.4h1.2v1.2h-1.2zM397.2 235.8h1.2v1.2h-1.2zM383.5 229.4h1.2v1.2h-1.2zM378.2 241.4h1.2v1.2h-1.2zM392.1 239.2h1.2v1.2h-1.2zM387.7 241.9h1.2v1.2h-1.2zM397.4 232.5h1.2v1.2h-1.2zM399 229.7h1.2v1.2h-1.2zM407.8 226.8h1.2v1.2h-1.2zM386.1 228.5h1.2v1.2h-1.2zM389.6 247.3h1.2v1.2h-1.2zM381.2 250.9h1.2v1.2h-1.2zM404.1 240h1.2v1.2h-1.2zM382.9 244.1h1.2v1.2h-1.2zM399.3 236.7h1.2v1.2h-1.2zM375 235.3h1.2v1.2h-1.2zM395.3 250.4h1.2v1.2h-1.2zM370.4 238.2h1.2v1.2h-1.2zM402.6 231.7h1.2v1.2h-1.2zM384.3 227.5h1.2v1.2h-1.2zM397.3 243.5h1.2v1.2h-1.2zM395.4 238.9h1.2v1.2h-1.2zM399.7 236h1.2v1.2h-1.2zM396.8 243.4h1.2v1.2h-1.2zM403 241h1.2v1.2h-1.2zM390 242.6h1.2v1.2h-1.2zM372.7 223.2h1.2v1.2h-1.2zM406.4 238.1h1.2v1.2h-1.2zM377.9 232.4h1.2v1.2h-1.2zM387.6 237.6h1.2v1.2h-1.2zM381 244.8h1.2v1.2h-1.2zM377.6 250h1.2v1.2h-1.2zM396.3 223.8h1.2v1.2h-1.2zM376.1 237.5h1.2v1.2h-1.2zM392.1 233.7h1.2v1.2h-1.2zM389.3 238.3h1.2v1.2h-1.2zM376.9 237.5h1.2v1.2h-1.2zM413.4 231.9h1.2v1.2h-1.2zM378.3 242.2h1.2v1.2h-1.2zM403.5 245.2h1.2v1.2h-1.2zM382.4 236.4h1.2v1.2h-1.2zM391.3 235.4h1.2v1.2h-1.2zM393.4 245.5h1.2v1.2h-1.2zM395 236.9h1.2v1.2h-1.2zM387 251.1h1.2v1.2h-1.2zM397.1 237.7h1.2v1.2h-1.2zM381.2 251.4h1.2v1.2h-1.2zM402.2 244.2h1.2v1.2h-1.2zM411.5 222.9h1.2v1.2h-1.2zM390.2 234.6h1.2v1.2h-1.2zM381.3 237.6h1.2v1.2h-1.2zM394.9 241.1h1.2v1.2h-1.2zM387.7 226.6h1.2v1.2h-1.2zM395.2 241.8h1.2v1.2h-1.2zM412 244.4h1.2v1.2h-1.2zM389.3 228h1.2v1.2h-1.2zM391.3 242.9h1.2v1.2h-1.2zM394.6 247.5h1.2v1.2h-1.2zM378 231.6h1.2v1.2h-1.2zM391 227.3h1.2v1.2h-1.2zM382.5 247.9h1.2v1.2h-1.2zM392.3 236.2h1.2v1.2h-1.2zM383 237.4h1.2v1.2h-1.2zM388.8 228.5h1.2v1.2h-1.2zM397.7 226.9h1.2v1.2h-1.2zM403 234.3h1.2v1.2h-1.2zM392.3 230.1h1.2v1.2h-1.2zM408.8 247.9h1.2v1.2h-1.2zM412 244.1h1.2v1.2h-1.2zM403.8 232.2h1.2v1.2h-1.2zM403.3 233.5h1.2v1.2h-1.2zM388.6 226.2h1.2v1.2h-1.2zM389.8 240.2h1.2v1.2h-1.2zM388.5 228.2h1.2v1.2h-1.2zM399 244.2h1.2v1.2h-1.2zM388.2 243.2h1.2v1.2h-1.2zM399.9 229.2h1.2v1.2h-1.2zM388.8 222.3h1.2v1.2h-1.2zM377.9 240.4h1.2v1.2h-1.2zM379.6 240.1h1.2v1.2h-1.2zM383.8 249h1.2v1.2h-1.2zM389.3 238h1.2v1.2h-1.2zM381.5 224.3h1.2v1.2h-1.2zM387.1 230.1h1.2v1.2h-1.2zM390.4 221.6h1.2v1.2h-1.2zM404.4 250.6h1.2v1.2h-1.2zM380.9 239.6h1.2v1.2h-1.2zM379.3 243.8h1.2v1.2h-1.2zM379.9 235.9h1.2v1.2h-1.2zM403.4 241.2h1.2v1.2h-1.2zM385.6 224.9h1.2v1.2h-1.2zM371.7 246.6h1.2v1.2h-1.2zM394.8 237.5h1.2v1.2h-1.2zM402.9 238.2h1.2v1.2h-1.2zM381.2 236.2h1.2v1.2h-1.2zM388.1 236.9h1.2v1.2h-1.2zM392.1 235h1.2v1.2h-1.2zM381.7 229.1h1.2v1.2h-1.2zM372.5 222.2h1.2v1.2h-1.2zM404.2 246.9h1.2v1.2h-1.2zM389.4 229h1.2v1.2h-1.2zM370 234.9h1.2v1.2h-1.2zM401.8 240.5h1.2v1.2h-1.2zM373.1 231.7h1.2v1.2h-1.2zM380.8 246.1h1.2v1.2h-1.2zM388.1 229.2h1.2v1.2h-1.2zM379.8 244.2h1.2v1.2h-1.2zM387.9 243.5h1.2v1.2h-1.2zM376.5 244.3h1.2v1.2h-1.2zM371.2 236.8h1.2v1.2h-1.2zM386.8 238h1.2v1.2h-1.2zM378.2 243.9h1.2v1.2h-1.2zM378.6 232.4h1.2v1.2h-1.2zM397.1 238.1h1.2v1.2h-1.2zM380.7 246.9h1.2v1.2h-1.2zM394.8 245.2h1.2v1.2h-1.2zM387.2 247.2h1.2v1.2h-1.2zM384 228.1h1.2v1.2h-1.2zM389 225.8h1.2v1.2h-1.2zM402.9 242.9h1.2v1.2h-1.2zM370.5 238.4h1.2v1.2h-1.2zM398.4 234.1h1.2v1.2h-1.2zM393.7 232.3h1.2v1.2h-1.2zM388.3 236.3h1.2v1.2h-1.2zM394.4 229.2h1.2v1.2h-1.2zM376.6 239.6h1.2v1.2h-1.2zM383.5 241.2h1.2v1.2h-1.2zM383.5 226.5h1.2v1.2h-1.2zM397.2 239.1h1.2v1.2h-1.2zM397.2 234.3h1.2v1.2h-1.2zM385.1 247.1h1.2v1.2h-1.2zM370.4 250.9h1.2v1.2h-1.2zM394.7 236.5h1.2v1.2h-1.2zM390.1 241.8h1.2v1.2h-1.2zM380.5 239.2h1.2v1.2h-1.2zM378.5 222.2h1.2v1.2h-1.2zM391.3 237.8h1.2v1.2h-1.2zM396.2 241.5h1.2v1.2h-1.2zM396.8 243.3h1.2v1.2h-1.2zM377.4 246.8h1.2v1.2h-1.2zM375.1 242.5h1.2v1.2h-1.2zM399.2 245.1h1.2v1.2h-1.2zM406 225.9h1.2v1.2h-1.2zM393.2 240.7h1.2v1.2h-1.2zM402.9 229.8h1.2v1.2h-1.2zM389.3 234h1.2v1.2h-1.2zM387.3 235.8h1.2v1.2h-1.2zM387.4 222.8h1.2v1.2h-1.2zM388.6 237.5h1.2v1.2h-1.2zM381.4 231.8h1.2v1.2h-1.2zM379.4 249.9h1.2v1.2h-1.2zM399.3 235.5h1.2v1.2h-1.2zM378.3 240.8h1.2v1.2h-1.2zM382.4 248.9h1.2v1.2h-1.2zM401.3 236h1.2v1.2h-1.2zM395.8 230.6h1.2v1.2h-1.2zM371.5 243.8h1.2v1.2h-1.2zM407.1 234.6h1.2v1.2h-1.2zM383.2 222.6h1.2v1.2h-1.2zM412.8 227.4h1.2v1.2h-1.2zM378.3 235.4h1.2v1.2h-1.2zM402.4 237.4h1.2v1.2h-1.2zM388.8 237.2h1.2v1.2h-1.2zM398.4 236.7h1.2v1.2h-1.2zM390.8 236.4h1.2v1.2h-1.2zM376.7 247.8h1.2v1.2h-1.2zM381.4 226.4h1.2v1.2h-1.2zM384.2 237.3h1.2v1.2h-1.2zM398.1 225.2h1.2v1.2h-1.2zM375 238.4h1.2v1.2h-1.2zM393.3 228.2h1.2v1.2h-1.2zM376.5 238.4h1.2v1.2h-1.2zM387.4 224h1.2v1.2h-1.2zM379.3 248.9h1.2v1.2h-1.2zM377.3 245.4h1.2v1.2h-1.2zM372.1 248.9h1.2v1.2h-1.2zM406.7 231.9h1.2v1.2h-1.2zM381.5 242.1h1.2v1.2h-1.2zM375.3 241.4h1.2v1.2h-1.2zM402.5 239.1h1.2v1.2h-1.2zM392.6 235.7h1.2v1.2h-1.2zM400.1 230.4h1.2v1.2h-1.2zM406.6 236.8h1.2v1.2h-1.2zM385.4 223.9h1.2v1.2h-1.2zM384.2 238.9h1.2v1.2h-1.2zM402.8 224h1.2v1.2h-1.2zM387.6 231.5h1.2v1.2h-1.2zM375.8 237h1.2v1.2h-1.2zM380.6 244h1.2v1.2h-1.2zM394.8 234.3h1.2v1.2h-1.2zM390.4 229.2h1.2v1.2h-1.2zM377.4 231.1h1.2v1.2h-1.2zM388.4 230.2h1.2v1.2h-1.2zM384.4 230.1h1.2v1.2h-1.2zM391.6 227.9h1.2v1.2h-1.2zM388.8 237.8h1.2v1.2h-1.2zM399.6 231h1.2v1.2h-1.2zM376.4 225h1.2v1.2h-1.2zM397.4 232h1.2v1.2h-1.2zM399.9 236.4h1.2v1.2h-1.2zM386 222.1h1.2v1.2h-1.2zM381.5 243.3h1.2v1.2h-1.2zM382.3 242.4h1.2v1.2h-1.2zM370.8 245.2h1.2v1.2h-1.2zM392.6 227.1h1.2v1.2h-1.2zM383.2 231.7h1.2v1.2h-1.2zM379.5 243.4h1.2v1.2h-1.2zM390.6 243h1.2v1.2h-1.2zM398.4 227.8h1.2v1.2h-1.2zM374.1 240.7h1.2v1.2h-1.2zM389.4 237.6h1.2v1.2h-1.2zM380 245.2h1.2v1.2h-1.2zM394.5 246.2h1.2v1.2h-1.2zM385.1 242.6h1.2v1.2h-1.2zM388.4 229.4h1.2v1.2h-1.2zM388.1 223.7h1.2v1.2h-1.2zM387 238.4h1.2v1.2h-1.2zM396.7 228.5h1.2v1.2h-1.2zM374.3 231.1h1.2v1.2h-1.2zM380.6 231.5h1.2v1.2h-1.2zM408.5 227.6h1.2v1.2h-1.2zM387.7 236.4h1.2v1.2h-1.2zM380.9 231.2h1.2v1.2h-1.2zM370.5 230.3h1.2v1.2h-1.2zM403.3 248.4h1.2v1.2h-1.2zM385.9 242.7h1.2v1.2h-1.2zM394.1 237.9h1.2v1.2h-1.2zM387.5 246.8h1.2v1.2h-1.2zM395.3 235.2h1.2v1.2h-1.2zM386.4 244.5h1.2v1.2h-1.2zM382.4 231.2h1.2v1.2h-1.2zM386 233h1.2v1.2h-1.2zM402.9 239.9h1.2v1.2h-1.2zM388 232.8h1.2v1.2h-1.2zM404.6 240.5h1.2v1.2h-1.2zM412 244.3h1.2v1.2h-1.2zM386.6 232.6h1.2v1.2h-1.2zM385.9 238.5h1.2v1.2h-1.2zM397.7 240.9h1.2v1.2h-1.2zM406.3 224.8h1.2v1.2h-1.2zM389.3 225.6h1.2v1.2h-1.2zM377.6 232.2h1.2v1.2h-1.2zM381.8 229.2h1.2v1.2h-1.2zM372.2 246.1h1.2v1.2h-1.2zM385.5 244.7h1.2v1.2h-1.2zM382.4 244.1h1.2v1.2h-1.2zM382.8 240.2h1.2v1.2h-1.2zM377.1 248.2h1.2v1.2h-1.2zM393.8 245.4h1.2v1.2h-1.2zM385.9 247.3h1.2v1.2h-1.2zM389.8 233.1h1.2v1.2h-1.2zM381.9 237.4h1.2v1.2h-1.2zM379 227.4h1.2v1.2h-1.2zM390.4 242.7h1.2v1.2h-1.2zM385.8 243.7h1.2v1.2h-1.2zM406.5 226.8h1.2v1.2h-1.2zM391.8 229.3h1.2v1.2h-1.2zM381.9 238.4h1.2v1.2h-1.2zM398.3 241.3h1.2v1.2h-1.2zM396.1 251.5h1.2v1.2h-1.2zM385 245.8h1.2v1.2h-1.2zM405 240.9h1.2v1.2h-1.2zM385.8 224h1.2v1.2h-1.2zM388.3 243.1h1.2v1.2h-1.2zM386.1 235.5h1.2v1.2h-1.2zM405.2 232.1h1.2v1.2h-1.2zM378.6 237.3h1.2v1.2h-1.2zM401.4 241.8h1.2v1.2h-1.2zM389.8 233h1.2v1.2h-1.2zM402.6 244.1h1.2v1.2h-1.2zM369.9 239.7h1.2v1.2h-1.2zM395.7 231.9h1.2v1.2h-1.2zM374.8 234.6h1.2v1.2h-1.2zM369.7 241.5h1.2v1.2h-1.2zM383.4 222.8h1.2v1.2h-1.2zM388.8 246.5h1.2v1.2h-1.2zM375 234.1h1.2v1.2h-1.2zM409 238.5h1.2v1.2h-1.2zM382.9 238.5h1.2v1.2h-1.2zM397.6 228.9h1.2v1.2h-1.2zM387.9 223.9h1.2v1.2h-1.2zM371.5 224.6h1.2v1.2h-1.2zM398.3 239.5h1.2v1.2h-1.2zM397.1 246.7h1.2v1.2h-1.2zM389.5 238.9h1.2v1.2h-1.2zM393.5 240.7h1.2v1.2h-1.2zM377.3 234.8h1.2v1.2h-1.2zM387.3 237.3h1.2v1.2h-1.2zM380.7 235.9h1.2v1.2h-1.2zM392.2 238.5h1.2v1.2h-1.2zM395.5 243.6h1.2v1.2h-1.2zM395.1 244.7h1.2v1.2h-1.2zM398.3 248.2h1.2v1.2h-1.2zM395.9 232h1.2v1.2h-1.2zM414.7 246h1.2v1.2h-1.2zM402.8 242.8h1.2v1.2h-1.2zM389.5 227.8h1.2v1.2h-1.2zM393.8 234.1h1.2v1.2h-1.2zM406.1 227.6h1.2v1.2h-1.2zM376.9 240.7h1.2v1.2h-1.2zM395.2 230.6h1.2v1.2h-1.2zM388.9 239h1.2v1.2h-1.2zM390.7 241.2h1.2v1.2h-1.2zM397.5 234h1.2v1.2h-1.2zM384.7 229h1.2v1.2h-1.2zM397.3 241.7h1.2v1.2h-1.2zM388.6 239.5h1.2v1.2h-1.2zM392.5 235.1h1.2v1.2h-1.2zM392.5 226.5h1.2v1.2h-1.2zM384.6 251.8h1.2v1.2h-1.2zM398.7 233.7h1.2v1.2h-1.2zM382.6 225h1.2v1.2h-1.2zM387.7 235.6h1.2v1.2h-1.2zM381.9 224.5h1.2v1.2h-1.2zM390.7 240.4h1.2v1.2h-1.2zM401.6 241.1h1.2v1.2h-1.2zM405.8 246.6h1.2v1.2h-1.2zM387.8 228.6h1.2v1.2h-1.2zM393.8 244.7h1.2v1.2h-1.2zM371.9 227.1h1.2v1.2h-1.2zM396.6 232.5h1.2v1.2h-1.2zM405.1 238.7h1.2v1.2h-1.2zM382.9 226.3h1.2v1.2h-1.2zM395.6 223.2h1.2v1.2h-1.2zM374.6 226.5h1.2v1.2h-1.2zM407.8 250.7h1.2v1.2h-1.2zM386.5 233.9h1.2v1.2h-1.2zM396.7 247h1.2v1.2h-1.2zM386.7 246.1h1.2v1.2h-1.2zM386.6 226.8h1.2v1.2h-1.2zM410.5 231.5h1.2v1.2h-1.2zM389 227h1.2v1.2h-1.2zM396.5 238.5h1.2v1.2h-1.2zM385.8 233.8h1.2v1.2h-1.2zM382.7 231.2h1.2v1.2h-1.2zM373.4 246.7h1.2v1.2h-1.2zM398.9 225.8h1.2v1.2h-1.2zM376.1 240.3h1.2v1.2h-1.2zM414 235.3h1.2v1.2h-1.2zM385.5 235h1.2v1.2h-1.2zM391.7 235.6h1.2v1.2h-1.2zM401 244.9h1.2v1.2h-1.2zM395.1 249.6h1.2v1.2h-1.2zM386.4 232.6h1.2v1.2h-1.2zM392.9 228.4h1.2v1.2h-1.2zM387.5 233.8h1.2v1.2h-1.2zM377.1 246h1.2v1.2h-1.2zM384.6 240.6h1.2v1.2h-1.2zM383.2 238.2h1.2v1.2h-1.2zM384 237.6h1.2v1.2h-1.2zM387.9 231.5h1.2v1.2h-1.2zM393.8 235.5h1.2v1.2h-1.2zM378.3 228.6h1.2v1.2h-1.2zM393.9 247.7h1.2v1.2h-1.2zM374.5 233.6h1.2v1.2h-1.2zM394 245.4h1.2v1.2h-1.2zM396.9 227.5h1.2v1.2h-1.2zM389.4 244.2h1.2v1.2h-1.2zM391.6 235.2h1.2v1.2h-1.2zM375.9 238.3h1.2v1.2h-1.2zM388.3 237.2h1.2v1.2h-1.2zM405.6 246.5h1.2v1.2h-1.2zM380.2 238.9h1.2v1.2h-1.2zM385.6 237.8h1.2v1.2h-1.2zM407 244.3h1.2v1.2h-1.2zM389.4 231.7h1.2v1.2h-1.2zM387.2 239.9h1.2v1.2h-1.2zM383.5 245.8h1.2v1.2h-1.2zM389.2 227.5h1.2v1.2h-1.2zM386 236h1.2v1.2h-1.2zM399.9 245.9h1.2v1.2h-1.2zM405.1 249.5h1.2v1.2h-1.2zM392.5 237.9h1.2v1.2h-1.2zM400.2 236.8h1.2v1.2h-1.2zM375.1 233.3h1.2v1.2h-1.2zM396.3 241.9h1.2v1.2h-1.2zM376.8 246.6h1.2v1.2h-1.2zM392.4 224.9h1.2v1.2h-1.2zM394.2 245.1h1.2v1.2h-1.2zM394.9 234.5h1.2v1.2h-1.2zM380.1 246h1.2v1.2h-1.2zM391.5 236.9h1.2v1.2h-1.2zM384.6 228.7h1.2v1.2h-1.2zM401.2 243.1h1.2v1.2h-1.2zM381.5 249.3h1.2v1.2h-1.2zM386.5 228.9h1.2v1.2h-1.2zM399.8 248.1h1.2v1.2h-1.2zM384.7 227.2h1.2v1.2h-1.2zM389.6 249.2h1.2v1.2h-1.2zM392 231.1h1.2v1.2h-1.2zM396.8 233h1.2v1.2h-1.2zM403 234.1h1.2v1.2h-1.2zM411.5 234.2h1.2v1.2h-1.2zM391.1 229.5h1.2v1.2h-1.2zM374.9 239.8h1.2v1.2h-1.2zM392.9 229.2h1.2v1.2h-1.2zM395.2 233.7h1.2v1.2h-1.2zM382.9 236.4h1.2v1.2h-1.2zM393.4 242.8h1.2v1.2h-1.2zM402.7 240.1h1.2v1.2h-1.2zM381 231.5h1.2v1.2h-1.2zM393.1 227.4h1.2v1.2h-1.2zM387.1 233.9h1.2v1.2h-1.2zM387.9 238.5h1.2v1.2h-1.2zM400.5 250.1h1.2v1.2h-1.2zM398.8 245.1h1.2v1.2h-1.2zM377.2 245.3h1.2v1.2h-1.2zM403.3 226.1h1.2v1.2h-1.2zM389.7 230.6h1.2v1.2h-1.2zM382.7 245.6h1.2v1.2h-1.2zM391.8 234h1.2v1.2h-1.2zM401.7 229.5h1.2v1.2h-1.2zM379.6 232.5h1.2v1.2h-1.2zM380.7 242.5h1.2v1.2h-1.2zM386.5 228.5h1.2v1.2h-1.2zM390.8 237.8h1.2v1.2h-1.2zM395.7 235.1h1.2v1.2h-1.2zM393.4 229.5h1.2v1.2h-1.2zM389.3 238.2h1.2v1.2h-1.2zM375.6 241.7h1.2v1.2h-1.2zM390.6 237.4h1.2v1.2h-1.2zM389 230.8h1.2v1.2h-1.2zM379.6 241.7h1.2v1.2h-1.2zM386.7 230.7h1.2v1.2h-1.2zM381 244.5h1.2v1.2h-1.2zM389.9 245.4h1.2v1.2h-1.2zM388.8 227.5h1.2v1.2h-1.2zM398.6 239.6h1.2v1.2h-1.2zM381.8 234.5h1.2v1.2h-1.2zM378.3 243.6h1.2v1.2h-1.2zM384.4 240.8h1.2v1.2h-1.2zM391.9 234.9h1.2v1.2h-1.2zM393.1 235h1.2v1.2h-1.2zM376 233.7h1.2v1.2h-1.2zM376 243h1.2v1.2h-1.2zM396.2 232.3h1.2v1.2h-1.2zM395.8 239h1.2v1.2h-1.2zM399.7 229.5h1.2v1.2h-1.2zM389.3 229.1h1.2v1.2h-1.2zM381.5 248h1.2v1.2h-1.2zM394.4 243.2h1.2v1.2h-1.2zM370.1 239.9h1.2v1.2h-1.2zM401.1 244.3h1.2v1.2h-1.2zM380.9 247.8h1.2v1.2h-1.2zM386.9 241.9h1.2v1.2h-1.2zM386.9 249.7h1.2v1.2h-1.2zM385.5 238.5h1.2v1.2h-1.2zM392.1 231.3h1.2v1.2h-1.2zM386.4 227.9h1.2v1.2h-1.2zM386.4 237.7h1.2v1.2h-1.2zM391.6 250.1h1.2v1.2h-1.2zM393.8 227.7h1.2v1.2h-1.2zM389.8 236.9h1.2v1.2h-1.2zM378 242.8h1.2v1.2h-1.2zM410 242.4h1.2v1.2h-1.2zM397.5 245.5h1.2v1.2h-1.2zM387.6 244.8h1.2v1.2h-1.2zM380.1 238.4h1.2v1.2h-1.2zM396.7 247.4h1.2v1.2h-1.2zM385.8 234.7h1.2v1.2h-1.2zM394.1 236.4h1.2v1.2h-1.2zM390.5 243.4h1.2v1.2h-1.2zM380.6 244h1.2v1.2h-1.2zM393.2 234.9h1.2v1.2h-1.2zM375.3 232h1.2v1.2h-1.2zM388.5 244.5h1.2v1.2h-1.2zM391.1 228h1.2v1.2h-1.2zM398.4 240.2h1.2v1.2h-1.2zM393.8 229.2h1.2v1.2h-1.2zM376.9 244.2h1.2v1.2h-1.2zM404.4 239.9h1.2v1.2h-1.2zM386.9 233.4h1.2v1.2h-1.2zM370.2 244.8h1.2v1.2h-1.2zM388 246.8h1.2v1.2h-1.2zM381.1 245.4h1.2v1.2h-1.2zM381.2 241.7h1.2v1.2h-1.2zM404 231.4h1.2v1.2h-1.2zM398.9 236.9h1.2v1.2h-1.2zM378.7 238.6h1.2v1.2h-1.2zM396.1 231.3h1.2v1.2h-1.2zM386.1 232.5h1.2v1.2h-1.2zM380.6 235.3h1.2v1.2h-1.2zM398 233.1h1.2v1.2h-1.2zM402.6 234h1.2v1.2h-1.2zM381.5 245.5h1.2v1.2h-1.2zM404.3 231.8h1.2v1.2h-1.2zM395.4 227.8h1.2v1.2h-1.2zM384.6 234h1.2v1.2h-1.2zM396.7 227h1.2v1.2h-1.2zM383.4 231.5h1.2v1.2h-1.2zM390.1 227.2h1.2v1.2h-1.2zM391.3 225.1h1.2v1.2h-1.2zM398.1 226.6h1.2v1.2h-1.2zM402.6 230.3h1.2v1.2h-1.2zM377.1 240.8h1.2v1.2h-1.2zM411.1 241.7h1.2v1.2h-1.2zM396.2 227.6h1.2v1.2h-1.2zM369.6 240.1h1.2v1.2h-1.2zM400 238.1h1.2v1.2h-1.2zM388.9 247.9h1.2v1.2h-1.2zM379.8 245.7h1.2v1.2h-1.2zM398 232.1h1.2v1.2h-1.2zM390.3 237.9h1.2v1.2h-1.2zM395.3 229.3h1.2v1.2h-1.2zM386.5 237.7h1.2v1.2h-1.2zM389.3 237.2h1.2v1.2h-1.2zM391.7 235.5h1.2v1.2h-1.2zM383.6 245.2h1.2v1.2h-1.2zM382 234.5h1.2v1.2h-1.2zM379.4 227.9h1.2v1.2h-1.2zM393.9 236.7h1.2v1.2h-1.2zM387.5 240.6h1.2v1.2h-1.2zM387.1 242.4h1.2v1.2h-1.2zM408.6 239.7h1.2v1.2h-1.2zM386.1 250.1h1.2v1.2h-1.2zM396.7 223.9h1.2v1.2h-1.2zM403.4 238.7h1.2v1.2h-1.2zM398.2 227.9h1.2v1.2h-1.2zM379.8 231.9h1.2v1.2h-1.2zM395 228.1h1.2v1.2h-1.2zM381.3 244.5h1.2v1.2h-1.2zM382 237.9h1.2v1.2h-1.2zM379.3 223.6h1.2v1.2h-1.2zM388.1 236h1.2v1.2h-1.2zM373.5 244.7h1.2v1.2h-1.2zM397.9 244h1.2v1.2h-1.2zM383.5 228h1.2v1.2h-1.2zM388 238.3h1.2v1.2h-1.2zM387.1 232.4h1.2v1.2h-1.2zM378.2 231.2h1.2v1.2h-1.2zM388.1 233.2h1.2v1.2h-1.2zM407 234.8h1.2v1.2h-1.2zM393.9 233.3h1.2v1.2h-1.2zM387 229.3h1.2v1.2h-1.2zM383.8 225.2h1.2v1.2h-1.2zM377.6 240.4h1.2v1.2h-1.2zM387.6 232.5h1.2v1.2h-1.2zM396.8 232.6h1.2v1.2h-1.2zM393.7 234.1h1.2v1.2h-1.2zM399.5 244.5h1.2v1.2h-1.2zM389.7 245.6h1.2v1.2h-1.2zM394.4 249.2h1.2v1.2h-1.2zM387.7 224.9h1.2v1.2h-1.2zM391.3 238.9h1.2v1.2h-1.2zM385.1 235.4h1.2v1.2h-1.2zM386.1 227.2h1.2v1.2h-1.2zM407.5 230.9h1.2v1.2h-1.2zM377.4 224.6h1.2v1.2h-1.2zM379.9 236.7h1.2v1.2h-1.2zM404.9 241.7h1.2v1.2h-1.2zM381.1 227.2h1.2v1.2h-1.2zM376.9 236.3h1.2v1.2h-1.2zM398.3 233.2h1.2v1.2h-1.2zM400.7 236.2h1.2v1.2h-1.2zM396.2 244.7h1.2v1.2h-1.2zM378.1 237.5h1.2v1.2h-1.2zM390.9 231.1h1.2v1.2h-1.2zM396.5 236h1.2v1.2h-1.2zM384.6 251.7h1.2v1.2h-1.2zM390.8 249.8h1.2v1.2h-1.2zM387.3 245.1h1.2v1.2h-1.2zM380.9 238.1h1.2v1.2h-1.2zM394.8 234.9h1.2v1.2h-1.2zM400.7 238.4h1.2v1.2h-1.2zM388.2 226.9h1.2v1.2h-1.2zM385.5 231.3h1.2v1.2h-1.2zM385.7 238.7h1.2v1.2h-1.2zM374.6 245.3h1.2v1.2h-1.2zM386.2 241.7h1.2v1.2h-1.2zM385.8 233.9h1.2v1.2h-1.2zM381.8 239.4h1.2v1.2h-1.2zM393.3 229.3h1.2v1.2h-1.2z" fill="#1424d4"/>
<ellipse cx="388" cy="238.5" rx="13" ry="6.5" fill="#1222d0" clip-path="url(#clipC3)"/>
<path d="M406.3 216.7h1.0v1.0h-1.0zM381.6 216h1.0v1.0h-1.0zM380.4 215.4h1.0v1.0h-1.0zM381.8 215.1h1.0v1.0h-1.0zM392.2 218h1.0v1.0h-1.0zM390.6 218.9h1.0v1.0h-1.0zM415.8 217.4h1.0v1.0h-1.0zM384.6 216.5h1.0v1.0h-1.0zM395.8 216h1.0v1.0h-1.0zM404.1 214.8h1.0v1.0h-1.0zM398.5 213.9h1.0v1.0h-1.0zM390.7 208.5h1.0v1.0h-1.0zM396.9 213.6h1.0v1.0h-1.0zM396.4 213.7h1.0v1.0h-1.0zM387 215.6h1.0v1.0h-1.0zM384.2 215.5h1.0v1.0h-1.0zM404.4 216.1h1.0v1.0h-1.0zM398.3 214.9h1.0v1.0h-1.0zM395 214.8h1.0v1.0h-1.0zM381.3 214.3h1.0v1.0h-1.0zM417.6 218.1h1.0v1.0h-1.0zM388.9 216.7h1.0v1.0h-1.0zM396.6 215.2h1.0v1.0h-1.0zM404.2 217.9h1.0v1.0h-1.0zM389.6 214.9h1.0v1.0h-1.0zM398.4 212.5h1.0v1.0h-1.0zM392.1 215.4h1.0v1.0h-1.0zM394 215.7h1.0v1.0h-1.0zM410.6 216.4h1.0v1.0h-1.0zM411.4 215h1.0v1.0h-1.0zM388.9 215.2h1.0v1.0h-1.0zM390.5 212.6h1.0v1.0h-1.0zM393.7 215.2h1.0v1.0h-1.0zM407.1 216.9h1.0v1.0h-1.0zM400 219h1.0v1.0h-1.0zM390.9 217.1h1.0v1.0h-1.0zM412 217.5h1.0v1.0h-1.0zM397.5 217.5h1.0v1.0h-1.0zM403.9 215h1.0v1.0h-1.0zM411.5 213.3h1.0v1.0h-1.0zM407.1 211.3h1.0v1.0h-1.0zM397.4 217.9h1.0v1.0h-1.0zM386.9 216.2h1.0v1.0h-1.0zM395.2 215.1h1.0v1.0h-1.0zM388.1 215.2h1.0v1.0h-1.0zM397.8 214h1.0v1.0h-1.0z" fill="#e04868"/>
<path d="M430.8 211.7h1.0v1.0h-1.0zM446.4 211.8h1.0v1.0h-1.0zM428.6 215h1.0v1.0h-1.0zM432 212.9h1.0v1.0h-1.0zM445.4 213.1h1.0v1.0h-1.0zM432 211.6h1.0v1.0h-1.0zM440.8 207h1.0v1.0h-1.0zM437.7 211.5h1.0v1.0h-1.0zM421.7 210.6h1.0v1.0h-1.0zM458.2 206.3h1.0v1.0h-1.0zM431.7 203.9h1.0v1.0h-1.0zM428 213.5h1.0v1.0h-1.0zM443.2 209.7h1.0v1.0h-1.0zM442.4 206h1.0v1.0h-1.0zM451.6 201.9h1.0v1.0h-1.0zM441.6 207.4h1.0v1.0h-1.0zM421.1 216.6h1.0v1.0h-1.0zM434.3 212.8h1.0v1.0h-1.0zM448.6 207.4h1.0v1.0h-1.0zM430.8 210.1h1.0v1.0h-1.0zM436.2 215.1h1.0v1.0h-1.0zM444.8 213.6h1.0v1.0h-1.0zM443.9 205h1.0v1.0h-1.0zM445.4 211.2h1.0v1.0h-1.0zM435.7 211.5h1.0v1.0h-1.0zM433.9 205.5h1.0v1.0h-1.0zM436 212.6h1.0v1.0h-1.0zM433.5 201.9h1.0v1.0h-1.0zM429.5 215.3h1.0v1.0h-1.0zM438.9 213.2h1.0v1.0h-1.0zM429.9 209.6h1.0v1.0h-1.0zM427.6 208.8h1.0v1.0h-1.0zM441.6 209h1.0v1.0h-1.0zM432.4 211.7h1.0v1.0h-1.0zM424.8 210.9h1.0v1.0h-1.0zM423 207.1h1.0v1.0h-1.0zM424.3 208.3h1.0v1.0h-1.0zM451.4 211.3h1.0v1.0h-1.0zM448.5 204.7h1.0v1.0h-1.0zM442.6 203.9h1.0v1.0h-1.0zM431.9 211.6h1.0v1.0h-1.0zM422.1 213.7h1.0v1.0h-1.0zM442.5 200.5h1.0v1.0h-1.0zM435.7 210.3h1.0v1.0h-1.0zM426.4 214.1h1.0v1.0h-1.0zM438 206.5h1.0v1.0h-1.0zM452 207h1.0v1.0h-1.0zM443.7 214.9h1.0v1.0h-1.0zM432.3 209.8h1.0v1.0h-1.0zM420.8 212.4h1.0v1.0h-1.0zM440.9 218h1.0v1.0h-1.0zM442.1 209.1h1.0v1.0h-1.0zM425.2 209h1.0v1.0h-1.0zM437.9 210.4h1.0v1.0h-1.0zM428.4 210.7h1.0v1.0h-1.0zM429.4 213.6h1.0v1.0h-1.0zM442.8 206.1h1.0v1.0h-1.0zM432.6 205.9h1.0v1.0h-1.0zM432.5 218.7h1.0v1.0h-1.0zM436.7 212.8h1.0v1.0h-1.0zM442.2 213.8h1.0v1.0h-1.0zM433.8 206.8h1.0v1.0h-1.0zM446.4 210.8h1.0v1.0h-1.0zM430.7 215.1h1.0v1.0h-1.0zM436.7 209.4h1.0v1.0h-1.0zM453.8 207.6h1.0v1.0h-1.0zM439.7 207.7h1.0v1.0h-1.0zM438.7 213.1h1.0v1.0h-1.0zM441.1 205.7h1.0v1.0h-1.0zM441 208.1h1.0v1.0h-1.0zM439.7 208.1h1.0v1.0h-1.0zM433.3 202.1h1.0v1.0h-1.0zM443.3 206.3h1.0v1.0h-1.0zM439.9 200.4h1.0v1.0h-1.0zM439.1 212.7h1.0v1.0h-1.0zM438.6 204.2h1.0v1.0h-1.0zM445.8 205.5h1.0v1.0h-1.0zM431.6 211.5h1.0v1.0h-1.0zM434 217.9h1.0v1.0h-1.0zM435.6 217.9h1.0v1.0h-1.0zM441 203.9h1.0v1.0h-1.0zM436.8 209.7h1.0v1.0h-1.0zM450.2 211.3h1.0v1.0h-1.0zM428.5 212.8h1.0v1.0h-1.0zM451.8 202.3h1.0v1.0h-1.0zM433.6 207.5h1.0v1.0h-1.0zM441.7 209.9h1.0v1.0h-1.0zM436.5 212.1h1.0v1.0h-1.0zM429.5 209.8h1.0v1.0h-1.0zM441.2 216.2h1.0v1.0h-1.0zM436.5 209.8h1.0v1.0h-1.0zM449 207h1.0v1.0h-1.0zM448.9 207.6h1.0v1.0h-1.0zM447.6 207.7h1.0v1.0h-1.0zM428.3 208.3h1.0v1.0h-1.0zM440.8 215.7h1.0v1.0h-1.0zM454.2 204.3h1.0v1.0h-1.0zM429 214.9h1.0v1.0h-1.0zM422.7 216.3h1.0v1.0h-1.0zM440.4 211.1h1.0v1.0h-1.0zM425.6 213.6h1.0v1.0h-1.0zM445.6 207.3h1.0v1.0h-1.0zM446.4 207.4h1.0v1.0h-1.0zM440 207.6h1.0v1.0h-1.0zM424.2 211.9h1.0v1.0h-1.0zM441.5 205.6h1.0v1.0h-1.0zM449.1 205.9h1.0v1.0h-1.0zM429.7 215.9h1.0v1.0h-1.0zM435.2 204.2h1.0v1.0h-1.0zM432.8 207.1h1.0v1.0h-1.0zM435.1 206.5h1.0v1.0h-1.0zM437.5 211.1h1.0v1.0h-1.0zM431.5 210h1.0v1.0h-1.0zM435.4 213h1.0v1.0h-1.0zM430.2 213.9h1.0v1.0h-1.0zM448.5 206.1h1.0v1.0h-1.0zM427.8 210.4h1.0v1.0h-1.0zM425.7 211.5h1.0v1.0h-1.0zM433.4 212.3h1.0v1.0h-1.0zM437.9 210.9h1.0v1.0h-1.0zM436.4 210.7h1.0v1.0h-1.0zM426.3 214.5h1.0v1.0h-1.0zM449 210.9h1.0v1.0h-1.0zM424.3 214h1.0v1.0h-1.0zM421.7 215.9h1.0v1.0h-1.0zM434.9 208.2h1.0v1.0h-1.0zM429.9 210.2h1.0v1.0h-1.0zM436.8 205.9h1.0v1.0h-1.0zM437.4 210.4h1.0v1.0h-1.0zM441.8 208.2h1.0v1.0h-1.0zM436.8 218.4h1.0v1.0h-1.0zM446.3 208.6h1.0v1.0h-1.0zM423.9 214.9h1.0v1.0h-1.0zM442.2 198.2h1.0v1.0h-1.0zM435.3 211.3h1.0v1.0h-1.0zM437.2 209.8h1.0v1.0h-1.0zM435.4 215.1h1.0v1.0h-1.0zM440.4 207.6h1.0v1.0h-1.0zM434.7 218h1.0v1.0h-1.0zM428.8 209.4h1.0v1.0h-1.0zM439.9 209.4h1.0v1.0h-1.0z" fill="#50c050"/>
<path d="M435 236.5h1.0v1.0h-1.0zM440.7 229.9h1.0v1.0h-1.0zM433.2 226.6h1.0v1.0h-1.0zM431.3 234h1.0v1.0h-1.0zM427.8 235.4h1.0v1.0h-1.0zM423.9 225.3h1.0v1.0h-1.0zM422.7 227.5h1.0v1.0h-1.0zM430.2 234.7h1.0v1.0h-1.0zM445.7 225h1.0v1.0h-1.0zM427.4 225h1.0v1.0h-1.0zM436.1 233.5h1.0v1.0h-1.0zM426.3 230.3h1.0v1.0h-1.0zM432.7 235h1.0v1.0h-1.0zM430.1 225.5h1.0v1.0h-1.0zM434.8 232h1.0v1.0h-1.0zM440.7 228.9h1.0v1.0h-1.0zM424.9 221.9h1.0v1.0h-1.0zM435.2 227.6h1.0v1.0h-1.0zM432.8 230.7h1.0v1.0h-1.0zM430.7 228.8h1.0v1.0h-1.0z" fill="#60b860"/>
<rect x="369.6" y="170.5" width="144.6" height="82.6" fill="none" stroke="#111" stroke-width="1.4"/>
<line x1="419.8" y1="170.5" x2="419.8" y2="253.1" stroke="#111" stroke-width="1.3"/>
<line x1="369.6" y1="220.8" x2="514.2" y2="220.8" stroke="#111" stroke-width="1.3"/>
<path d="M371.7 253.1v4M376.2 253.1v4M379.7 253.1v4M382.5 253.1v4M384.9 253.1v4M387 253.1v4M388.9 253.1v4M390.5 253.1v6.8M401.3 253.1v4M407.7 253.1v4M412.2 253.1v4M415.7 253.1v4M418.5 253.1v4M420.9 253.1v4M423 253.1v4M424.9 253.1v4M426.5 253.1v6.8M437.3 253.1v4M443.7 253.1v4M448.2 253.1v4M451.7 253.1v4M454.5 253.1v4M456.9 253.1v4M459 253.1v4M460.9 253.1v4M462.5 253.1v6.8M473.3 253.1v4M479.7 253.1v4M484.2 253.1v4M487.7 253.1v4M490.5 253.1v4M492.9 253.1v4M495 253.1v4M496.9 253.1v4M498.5 253.1v6.8M509.3 253.1v4" stroke="#111" stroke-width="1.35" fill="none"/>
<text x="389.1" y="269.5" font-size="7.0" text-anchor="middle">10<tspan dx="0.4" dy="-4.6" font-size="6.2">2</tspan></text>
<text x="425.1" y="269.5" font-size="7.0" text-anchor="middle">10<tspan dx="0.4" dy="-4.6" font-size="6.2">3</tspan></text>
<text x="461.1" y="269.5" font-size="7.0" text-anchor="middle">10<tspan dx="0.4" dy="-4.6" font-size="6.2">4</tspan></text>
<text x="497.1" y="269.5" font-size="7.0" text-anchor="middle">10<tspan dx="0.4" dy="-4.6" font-size="6.2">5</tspan></text>
<path d="M369.6 250.5h-3.6M369.6 247.9h-3.6M369.6 245.9h-3.6M369.6 244.2h-3.6M369.6 242.8h-3.6M369.6 241.6h-3.6M369.6 240.6h-3.6M369.6 239.6h-6M369.6 233.3h-3.6M369.6 229.7h-3.6M369.6 227.1h-3.6M369.6 225.1h-3.6M369.6 223.4h-3.6M369.6 222h-3.6M369.6 220.8h-3.6M369.6 219.8h-3.6M369.6 218.8h-6M369.6 212.5h-3.6M369.6 208.9h-3.6M369.6 206.3h-3.6M369.6 204.3h-3.6M369.6 202.6h-3.6M369.6 201.2h-3.6M369.6 200h-3.6M369.6 199h-3.6M369.6 198h-6M369.6 191.7h-3.6M369.6 188.1h-3.6M369.6 185.5h-3.6M369.6 183.5h-3.6M369.6 181.8h-3.6M369.6 180.4h-3.6M369.6 179.2h-3.6M369.6 178.2h-3.6M369.6 177.2h-6" stroke="#111" stroke-width="1.35" fill="none"/>
<text x="361" y="245.9" font-size="7.0" transform="rotate(-90 361 245.9)">10<tspan dx="0.0" dy="-5.0" font-size="6.4">2</tspan></text>
<text x="361" y="225.1" font-size="7.0" transform="rotate(-90 361 225.1)">10<tspan dx="0.0" dy="-5.0" font-size="6.4">3</tspan></text>
<text x="361" y="204.3" font-size="7.0" transform="rotate(-90 361 204.3)">10<tspan dx="0.0" dy="-5.0" font-size="6.4">4</tspan></text>
<text x="361" y="183.5" font-size="7.0" transform="rotate(-90 361 183.5)">10<tspan dx="0.0" dy="-5.0" font-size="6.4">5</tspan></text>
<text x="437.2" y="168.6" font-size="10.6" font-weight="bold" text-anchor="middle">CD4<tspan dy="-2.0" font-size="6.2">+</tspan></text>
<text x="395" y="195.1" font-size="10.7" font-weight="bold" text-anchor="start">2.5%</text>
<text x="456" y="195.1" font-size="10.7" font-weight="bold" text-anchor="start">9.1%</text>
<text x="457.6" y="241.8" font-size="10.7" font-weight="bold" text-anchor="start">1.7%</text>
<text x="441.6" y="281.7" font-size="10.2" font-weight="normal" text-anchor="middle">FOXP3 APC-A</text>
<text x="348.2" y="211.8" font-size="9.8" font-weight="normal" text-anchor="middle" transform="rotate(-90 348.2 211.8)">CD25 PE-A</text>
<path d="M61 538.2h1.0v1.0h-1.0zM78.8 523.8h1.0v1.0h-1.0zM82.9 523.3h1.0v1.0h-1.0zM51.8 514.6h1.0v1.0h-1.0zM83 538.2h1.0v1.0h-1.0zM54.1 518.5h1.0v1.0h-1.0zM65.2 527.6h1.0v1.0h-1.0zM51.9 548.3h1.0v1.0h-1.0zM70.1 517.4h1.0v1.0h-1.0zM52.1 531.8h1.0v1.0h-1.0zM84.6 538.8h1.0v1.0h-1.0zM81.9 546.1h1.0v1.0h-1.0zM74.9 507.7h1.0v1.0h-1.0zM62.2 532.3h1.0v1.0h-1.0zM66 515.2h1.0v1.0h-1.0zM53.4 545.7h1.0v1.0h-1.0zM75 519h1.0v1.0h-1.0zM67.9 546h1.0v1.0h-1.0zM56.2 534.6h1.0v1.0h-1.0zM59.4 547.5h1.0v1.0h-1.0zM79.8 549.6h1.0v1.0h-1.0zM64.8 528.9h1.0v1.0h-1.0zM62.6 521.5h1.0v1.0h-1.0zM85.3 550.6h1.0v1.0h-1.0zM86.8 547.7h1.0v1.0h-1.0zM68.6 536h1.0v1.0h-1.0zM83.7 525.2h1.0v1.0h-1.0zM84.1 542.5h1.0v1.0h-1.0zM61.2 521.9h1.0v1.0h-1.0zM75.9 512.7h1.0v1.0h-1.0z" fill="#6070c8" fill-opacity="0.8"/>
<path d="M63.7 549.6h1.2v1.2h-1.2zM86.2 543.8h1.2v1.2h-1.2zM59 535.5h1.2v1.2h-1.2zM57.8 543.4h1.2v1.2h-1.2zM64.6 551.8h1.2v1.2h-1.2zM64.5 550.3h1.2v1.2h-1.2zM78.8 533.5h1.2v1.2h-1.2zM83 537.9h1.2v1.2h-1.2zM74.9 530.7h1.2v1.2h-1.2zM62.5 543.3h1.2v1.2h-1.2zM57.5 536h1.2v1.2h-1.2zM50.7 539.5h1.2v1.2h-1.2zM61.1 547h1.2v1.2h-1.2zM63 529.4h1.2v1.2h-1.2zM72.6 532.5h1.2v1.2h-1.2zM75.2 523.3h1.2v1.2h-1.2zM91.7 549h1.2v1.2h-1.2zM63.6 540.1h1.2v1.2h-1.2zM59.6 542.1h1.2v1.2h-1.2zM62.8 536.3h1.2v1.2h-1.2zM57.2 548.8h1.2v1.2h-1.2zM70.3 532.7h1.2v1.2h-1.2zM59.5 535.1h1.2v1.2h-1.2zM50.9 538.1h1.2v1.2h-1.2zM61.7 551.1h1.2v1.2h-1.2zM70.7 529h1.2v1.2h-1.2zM81.8 541.2h1.2v1.2h-1.2zM52 543.7h1.2v1.2h-1.2zM59.2 532.2h1.2v1.2h-1.2zM82.7 539.1h1.2v1.2h-1.2zM56.8 548.6h1.2v1.2h-1.2zM84.1 548.1h1.2v1.2h-1.2zM53.2 547.7h1.2v1.2h-1.2zM77.3 547.2h1.2v1.2h-1.2zM71.8 539.9h1.2v1.2h-1.2zM63.2 529.7h1.2v1.2h-1.2zM55.4 534.3h1.2v1.2h-1.2zM52.8 543.2h1.2v1.2h-1.2zM78 537.4h1.2v1.2h-1.2zM68.5 548.5h1.2v1.2h-1.2zM74 537.7h1.2v1.2h-1.2zM66.7 538.4h1.2v1.2h-1.2zM55.3 545.1h1.2v1.2h-1.2zM69.2 533.1h1.2v1.2h-1.2zM54.7 549.2h1.2v1.2h-1.2zM66 549.7h1.2v1.2h-1.2zM60.2 537.2h1.2v1.2h-1.2zM73.4 549.1h1.2v1.2h-1.2zM54.8 549.7h1.2v1.2h-1.2zM82.9 541.6h1.2v1.2h-1.2zM52.3 546.2h1.2v1.2h-1.2zM65.1 548.8h1.2v1.2h-1.2zM74.7 550h1.2v1.2h-1.2zM66.5 535.5h1.2v1.2h-1.2zM60.4 546.3h1.2v1.2h-1.2zM66.3 539.6h1.2v1.2h-1.2zM90.3 541.2h1.2v1.2h-1.2zM54.1 551.9h1.2v1.2h-1.2zM59 537.3h1.2v1.2h-1.2zM51.2 544.9h1.2v1.2h-1.2zM58.5 542.4h1.2v1.2h-1.2zM54.1 545.3h1.2v1.2h-1.2zM71.3 553h1.2v1.2h-1.2zM59.7 534.1h1.2v1.2h-1.2zM64.3 545.1h1.2v1.2h-1.2zM55 549.8h1.2v1.2h-1.2zM59.1 549.3h1.2v1.2h-1.2zM70.2 527.6h1.2v1.2h-1.2zM57.8 545.1h1.2v1.2h-1.2zM62.5 533.6h1.2v1.2h-1.2zM90.3 542.9h1.2v1.2h-1.2zM71.7 540.2h1.2v1.2h-1.2zM78.2 552.2h1.2v1.2h-1.2zM68.8 545.2h1.2v1.2h-1.2zM73.7 536.4h1.2v1.2h-1.2zM65.8 538.1h1.2v1.2h-1.2zM60.8 535.9h1.2v1.2h-1.2zM53.9 545.7h1.2v1.2h-1.2zM65.5 551.1h1.2v1.2h-1.2zM62.9 549.4h1.2v1.2h-1.2zM72.2 538.1h1.2v1.2h-1.2zM60.9 539.5h1.2v1.2h-1.2zM90.6 538.3h1.2v1.2h-1.2zM69.7 537.6h1.2v1.2h-1.2zM72.3 533.3h1.2v1.2h-1.2zM75.5 545.6h1.2v1.2h-1.2zM59.2 533.9h1.2v1.2h-1.2zM84.1 539.2h1.2v1.2h-1.2zM81.4 523.6h1.2v1.2h-1.2zM85.5 544.2h1.2v1.2h-1.2zM76 549.2h1.2v1.2h-1.2zM59.7 545.2h1.2v1.2h-1.2zM50.2 532.7h1.2v1.2h-1.2zM65.5 550.3h1.2v1.2h-1.2zM65.9 533.7h1.2v1.2h-1.2zM74.2 544.8h1.2v1.2h-1.2zM73 541.6h1.2v1.2h-1.2zM60.8 553h1.2v1.2h-1.2zM80.5 533.9h1.2v1.2h-1.2zM50.7 552.3h1.2v1.2h-1.2zM68.3 544.5h1.2v1.2h-1.2zM52.2 552.7h1.2v1.2h-1.2zM66.3 545.9h1.2v1.2h-1.2zM68.7 539.7h1.2v1.2h-1.2zM68.8 545.2h1.2v1.2h-1.2zM72.7 547.3h1.2v1.2h-1.2zM77 551.5h1.2v1.2h-1.2zM91.2 544h1.2v1.2h-1.2zM68.9 552.5h1.2v1.2h-1.2zM68.2 527.9h1.2v1.2h-1.2zM77.1 542.5h1.2v1.2h-1.2zM53.4 541.6h1.2v1.2h-1.2zM68 543.5h1.2v1.2h-1.2zM63.8 536.5h1.2v1.2h-1.2zM56.3 540.2h1.2v1.2h-1.2zM61.3 534.2h1.2v1.2h-1.2zM59.2 552.6h1.2v1.2h-1.2zM69.5 544.1h1.2v1.2h-1.2zM68.2 542.1h1.2v1.2h-1.2zM49.7 551.6h1.2v1.2h-1.2zM91 548.4h1.2v1.2h-1.2zM59.9 541.8h1.2v1.2h-1.2zM68.8 530.6h1.2v1.2h-1.2zM61.3 540h1.2v1.2h-1.2zM52 549.5h1.2v1.2h-1.2zM83.8 547.7h1.2v1.2h-1.2zM76.4 550.6h1.2v1.2h-1.2zM63.2 549h1.2v1.2h-1.2zM80 540.5h1.2v1.2h-1.2zM62.2 532.5h1.2v1.2h-1.2zM74.8 547.2h1.2v1.2h-1.2zM65 550.7h1.2v1.2h-1.2zM80.6 537.3h1.2v1.2h-1.2zM53.5 547.5h1.2v1.2h-1.2zM63.3 539.2h1.2v1.2h-1.2zM62.5 538h1.2v1.2h-1.2zM65.6 540.9h1.2v1.2h-1.2zM84.5 535.3h1.2v1.2h-1.2zM71 544.8h1.2v1.2h-1.2zM83.1 536h1.2v1.2h-1.2zM56.1 540.9h1.2v1.2h-1.2zM59.3 535.9h1.2v1.2h-1.2zM62.2 537.8h1.2v1.2h-1.2zM57.6 548.7h1.2v1.2h-1.2zM71.6 547.6h1.2v1.2h-1.2zM65.6 543.9h1.2v1.2h-1.2zM59.9 540.4h1.2v1.2h-1.2zM65.7 548.4h1.2v1.2h-1.2zM75.2 542.3h1.2v1.2h-1.2zM78.7 536.2h1.2v1.2h-1.2zM87 552.2h1.2v1.2h-1.2zM49.6 543.2h1.2v1.2h-1.2zM69.7 553h1.2v1.2h-1.2zM64.9 533.2h1.2v1.2h-1.2zM78.7 542.7h1.2v1.2h-1.2zM69.3 541.4h1.2v1.2h-1.2zM62.6 532.5h1.2v1.2h-1.2zM72 538.8h1.2v1.2h-1.2zM63.6 552.2h1.2v1.2h-1.2zM73.9 533.9h1.2v1.2h-1.2zM61.9 544.1h1.2v1.2h-1.2zM65.1 535.2h1.2v1.2h-1.2zM64.9 552.4h1.2v1.2h-1.2zM73.1 522.9h1.2v1.2h-1.2zM60.7 539.5h1.2v1.2h-1.2zM75 544h1.2v1.2h-1.2zM68.3 548.2h1.2v1.2h-1.2zM86 551h1.2v1.2h-1.2zM57.3 546.2h1.2v1.2h-1.2zM75.8 550.2h1.2v1.2h-1.2zM55.7 552.1h1.2v1.2h-1.2zM72.8 549h1.2v1.2h-1.2zM59 543.9h1.2v1.2h-1.2zM58.7 541.6h1.2v1.2h-1.2zM60.6 541.4h1.2v1.2h-1.2zM65 544.9h1.2v1.2h-1.2zM56.6 543h1.2v1.2h-1.2zM62.9 548.2h1.2v1.2h-1.2zM69.3 541.1h1.2v1.2h-1.2zM54.1 530.3h1.2v1.2h-1.2zM62.1 540.9h1.2v1.2h-1.2zM62.1 539.5h1.2v1.2h-1.2zM56.4 544.6h1.2v1.2h-1.2zM62.9 536.5h1.2v1.2h-1.2zM76.4 547.1h1.2v1.2h-1.2zM77.1 538.5h1.2v1.2h-1.2zM82.9 540.1h1.2v1.2h-1.2zM66.3 539.6h1.2v1.2h-1.2zM65.6 536.5h1.2v1.2h-1.2zM74.8 550.4h1.2v1.2h-1.2zM62 552.5h1.2v1.2h-1.2zM54.4 534.1h1.2v1.2h-1.2zM60.9 542h1.2v1.2h-1.2zM78.7 535.8h1.2v1.2h-1.2zM77.8 537.5h1.2v1.2h-1.2zM63.6 531.9h1.2v1.2h-1.2zM66.6 544.5h1.2v1.2h-1.2zM59.2 527.9h1.2v1.2h-1.2zM57.8 547.8h1.2v1.2h-1.2zM64.2 539.5h1.2v1.2h-1.2zM66.5 549.5h1.2v1.2h-1.2zM63.7 537.5h1.2v1.2h-1.2zM73.5 538.4h1.2v1.2h-1.2zM68.4 552.2h1.2v1.2h-1.2zM76.3 545.3h1.2v1.2h-1.2zM61.6 545.6h1.2v1.2h-1.2zM71.9 537.1h1.2v1.2h-1.2zM82.3 530.7h1.2v1.2h-1.2zM76.1 533.3h1.2v1.2h-1.2zM50.9 539.8h1.2v1.2h-1.2zM60.6 532.7h1.2v1.2h-1.2zM71.5 543.1h1.2v1.2h-1.2zM80.2 535.5h1.2v1.2h-1.2zM61.3 552.3h1.2v1.2h-1.2zM83 532.6h1.2v1.2h-1.2zM56.7 528.6h1.2v1.2h-1.2zM53.9 536h1.2v1.2h-1.2zM92.7 541h1.2v1.2h-1.2zM73.9 545.9h1.2v1.2h-1.2zM67.6 551.3h1.2v1.2h-1.2zM70.1 543.2h1.2v1.2h-1.2zM55.6 540.7h1.2v1.2h-1.2zM64.2 540.8h1.2v1.2h-1.2zM59.9 538.1h1.2v1.2h-1.2zM74.3 542h1.2v1.2h-1.2zM62.6 542.2h1.2v1.2h-1.2zM79.8 539.5h1.2v1.2h-1.2zM81 536.8h1.2v1.2h-1.2zM82.4 549.2h1.2v1.2h-1.2zM58.1 547.9h1.2v1.2h-1.2zM77.7 536h1.2v1.2h-1.2zM61.3 546.7h1.2v1.2h-1.2zM61.5 541.6h1.2v1.2h-1.2zM64.3 546.7h1.2v1.2h-1.2zM62.5 531.8h1.2v1.2h-1.2zM58.8 541.1h1.2v1.2h-1.2zM76.9 527.1h1.2v1.2h-1.2zM56.4 542.9h1.2v1.2h-1.2zM71.9 547.4h1.2v1.2h-1.2zM74.3 542.7h1.2v1.2h-1.2zM84.7 547.2h1.2v1.2h-1.2zM65.9 536.8h1.2v1.2h-1.2zM89.3 547.4h1.2v1.2h-1.2zM71.5 530.6h1.2v1.2h-1.2zM62.1 542.3h1.2v1.2h-1.2zM82.5 542.5h1.2v1.2h-1.2zM50 537.1h1.2v1.2h-1.2zM72.2 545h1.2v1.2h-1.2zM64.5 542.6h1.2v1.2h-1.2zM65.6 547h1.2v1.2h-1.2zM58.3 541.7h1.2v1.2h-1.2zM66.8 534.9h1.2v1.2h-1.2zM69.3 525.6h1.2v1.2h-1.2zM71.7 543h1.2v1.2h-1.2zM61.4 552.7h1.2v1.2h-1.2zM60.2 528.3h1.2v1.2h-1.2zM68.7 548h1.2v1.2h-1.2zM55.2 532h1.2v1.2h-1.2zM67.1 538.2h1.2v1.2h-1.2zM62.8 544h1.2v1.2h-1.2zM67 552.9h1.2v1.2h-1.2zM60.6 538.5h1.2v1.2h-1.2zM57.7 536.6h1.2v1.2h-1.2zM69.4 545.2h1.2v1.2h-1.2zM51.1 531.1h1.2v1.2h-1.2zM53.8 528.7h1.2v1.2h-1.2zM53.5 531.3h1.2v1.2h-1.2zM72.5 534.3h1.2v1.2h-1.2zM57 543h1.2v1.2h-1.2zM64.4 547.6h1.2v1.2h-1.2zM73.2 549.4h1.2v1.2h-1.2zM68.5 538.1h1.2v1.2h-1.2zM81.9 534.1h1.2v1.2h-1.2zM65.4 546.9h1.2v1.2h-1.2zM65.5 549.6h1.2v1.2h-1.2zM66.7 544.1h1.2v1.2h-1.2zM72.5 528.1h1.2v1.2h-1.2zM67.1 541.5h1.2v1.2h-1.2zM87.4 546.5h1.2v1.2h-1.2zM56.2 549.5h1.2v1.2h-1.2zM59.5 534h1.2v1.2h-1.2zM60.7 548.3h1.2v1.2h-1.2zM78.2 552.9h1.2v1.2h-1.2zM66.8 542.7h1.2v1.2h-1.2zM54.6 543.9h1.2v1.2h-1.2zM73.3 549.9h1.2v1.2h-1.2zM66.5 539.7h1.2v1.2h-1.2zM54 540.6h1.2v1.2h-1.2zM82.8 537.5h1.2v1.2h-1.2zM74.1 543.9h1.2v1.2h-1.2zM50.9 544.9h1.2v1.2h-1.2zM73 534h1.2v1.2h-1.2zM50.3 540.8h1.2v1.2h-1.2zM72.7 539h1.2v1.2h-1.2zM69.1 547.9h1.2v1.2h-1.2zM64.2 547.8h1.2v1.2h-1.2zM79.1 542.4h1.2v1.2h-1.2zM67.9 535.1h1.2v1.2h-1.2zM55.5 543.2h1.2v1.2h-1.2zM73.7 538.4h1.2v1.2h-1.2zM92.2 522.4h1.2v1.2h-1.2zM51.5 545h1.2v1.2h-1.2zM69.8 536.1h1.2v1.2h-1.2zM60.8 550.2h1.2v1.2h-1.2zM65.6 536.2h1.2v1.2h-1.2zM56.8 538.9h1.2v1.2h-1.2zM66.9 530.9h1.2v1.2h-1.2zM58.3 540.6h1.2v1.2h-1.2zM67.4 532.9h1.2v1.2h-1.2zM59 540.2h1.2v1.2h-1.2zM85.8 549.6h1.2v1.2h-1.2zM73.1 544.7h1.2v1.2h-1.2zM56.1 527.9h1.2v1.2h-1.2zM72.6 541.1h1.2v1.2h-1.2zM64 548.3h1.2v1.2h-1.2zM61.3 547.5h1.2v1.2h-1.2zM79.2 541.3h1.2v1.2h-1.2zM59.9 544.2h1.2v1.2h-1.2zM71.7 540.7h1.2v1.2h-1.2zM65 538.3h1.2v1.2h-1.2zM63.2 548.6h1.2v1.2h-1.2zM54.4 542.5h1.2v1.2h-1.2zM65 548.5h1.2v1.2h-1.2zM51.9 543.2h1.2v1.2h-1.2zM53.1 546.7h1.2v1.2h-1.2zM67.1 547.7h1.2v1.2h-1.2zM61.6 532.1h1.2v1.2h-1.2zM57.5 532.8h1.2v1.2h-1.2zM56.1 543.5h1.2v1.2h-1.2zM76.7 538.6h1.2v1.2h-1.2zM55 545.7h1.2v1.2h-1.2zM75.5 552.1h1.2v1.2h-1.2zM62.8 550.1h1.2v1.2h-1.2zM60 552.1h1.2v1.2h-1.2zM56.4 537.2h1.2v1.2h-1.2zM68.5 540.2h1.2v1.2h-1.2zM71.9 536.8h1.2v1.2h-1.2zM67.2 535.8h1.2v1.2h-1.2zM51.4 533.7h1.2v1.2h-1.2zM83 540.2h1.2v1.2h-1.2zM74.9 542.5h1.2v1.2h-1.2zM76.6 528.6h1.2v1.2h-1.2zM52.6 547.5h1.2v1.2h-1.2zM71.6 542.1h1.2v1.2h-1.2zM67.7 548.5h1.2v1.2h-1.2zM59.9 552.4h1.2v1.2h-1.2zM54.1 550.3h1.2v1.2h-1.2zM74.7 545.7h1.2v1.2h-1.2zM60 543.9h1.2v1.2h-1.2zM72.9 536.4h1.2v1.2h-1.2zM68.2 544.4h1.2v1.2h-1.2zM60.9 547.9h1.2v1.2h-1.2zM64.8 533.4h1.2v1.2h-1.2zM57.9 544.9h1.2v1.2h-1.2zM57.7 526.2h1.2v1.2h-1.2zM84.1 551.4h1.2v1.2h-1.2zM58.6 551.9h1.2v1.2h-1.2zM59.7 545.2h1.2v1.2h-1.2zM57.3 544.8h1.2v1.2h-1.2zM67.9 544.3h1.2v1.2h-1.2zM54.4 550.3h1.2v1.2h-1.2zM70.5 544h1.2v1.2h-1.2zM76.3 537.8h1.2v1.2h-1.2zM78.9 542.7h1.2v1.2h-1.2zM81.6 540.3h1.2v1.2h-1.2zM61.1 545.8h1.2v1.2h-1.2zM58.7 537.9h1.2v1.2h-1.2zM72.2 541.3h1.2v1.2h-1.2zM78.8 543.8h1.2v1.2h-1.2zM66 549.2h1.2v1.2h-1.2zM57.4 525.1h1.2v1.2h-1.2zM66.6 550h1.2v1.2h-1.2zM69.1 548.5h1.2v1.2h-1.2zM65.9 552.7h1.2v1.2h-1.2zM64.6 550.7h1.2v1.2h-1.2zM57.6 546.5h1.2v1.2h-1.2zM69 545.2h1.2v1.2h-1.2zM82 544.4h1.2v1.2h-1.2zM77.1 547h1.2v1.2h-1.2zM76.7 536.5h1.2v1.2h-1.2zM59.8 552.1h1.2v1.2h-1.2zM54.5 547.3h1.2v1.2h-1.2zM70.6 545.6h1.2v1.2h-1.2zM69.1 548.5h1.2v1.2h-1.2zM61.3 547.5h1.2v1.2h-1.2zM58 540.2h1.2v1.2h-1.2zM66.5 534.9h1.2v1.2h-1.2zM64.8 546.4h1.2v1.2h-1.2zM60 536.4h1.2v1.2h-1.2zM62.7 547.4h1.2v1.2h-1.2zM69.1 538.7h1.2v1.2h-1.2zM76.4 540.3h1.2v1.2h-1.2zM81.9 529.3h1.2v1.2h-1.2zM61.7 538.2h1.2v1.2h-1.2zM66.4 544.5h1.2v1.2h-1.2zM77.3 539.1h1.2v1.2h-1.2zM86.4 529.7h1.2v1.2h-1.2zM62.9 549.3h1.2v1.2h-1.2zM74.4 541.1h1.2v1.2h-1.2zM72.5 526.9h1.2v1.2h-1.2zM58.3 548.7h1.2v1.2h-1.2zM77.5 538.5h1.2v1.2h-1.2zM69.9 529.1h1.2v1.2h-1.2zM59.4 535.5h1.2v1.2h-1.2zM90 527.1h1.2v1.2h-1.2zM63.7 543.1h1.2v1.2h-1.2zM69.2 547h1.2v1.2h-1.2zM61.3 546.9h1.2v1.2h-1.2zM49.8 538h1.2v1.2h-1.2zM55.4 546.9h1.2v1.2h-1.2zM59 549.1h1.2v1.2h-1.2zM68.5 536.3h1.2v1.2h-1.2zM60.6 533.6h1.2v1.2h-1.2zM65.3 550.8h1.2v1.2h-1.2zM52.5 529.1h1.2v1.2h-1.2zM70 541.6h1.2v1.2h-1.2zM63.7 547.9h1.2v1.2h-1.2zM68.4 551.8h1.2v1.2h-1.2zM58.7 525.5h1.2v1.2h-1.2zM58.3 541.4h1.2v1.2h-1.2zM59.2 547.3h1.2v1.2h-1.2zM56.6 543.9h1.2v1.2h-1.2zM52.9 535.6h1.2v1.2h-1.2zM59.6 550.4h1.2v1.2h-1.2zM64.2 542.5h1.2v1.2h-1.2zM61.5 542h1.2v1.2h-1.2zM84.6 547.1h1.2v1.2h-1.2zM69 552.2h1.2v1.2h-1.2zM53.6 533.6h1.2v1.2h-1.2zM75.6 539.1h1.2v1.2h-1.2zM76.8 534.7h1.2v1.2h-1.2zM82.8 537.5h1.2v1.2h-1.2zM72.8 542.3h1.2v1.2h-1.2zM60.2 538.8h1.2v1.2h-1.2zM72.1 549.2h1.2v1.2h-1.2zM73.4 541.6h1.2v1.2h-1.2zM84.1 542.4h1.2v1.2h-1.2zM65.6 544.5h1.2v1.2h-1.2zM74 547h1.2v1.2h-1.2zM52.5 544.6h1.2v1.2h-1.2zM62 546.2h1.2v1.2h-1.2zM91.4 540.5h1.2v1.2h-1.2zM74.6 549.3h1.2v1.2h-1.2zM67.5 539.8h1.2v1.2h-1.2zM71.5 546.3h1.2v1.2h-1.2zM81 551h1.2v1.2h-1.2zM55.7 519.3h1.2v1.2h-1.2zM81.8 548.1h1.2v1.2h-1.2zM66 538.9h1.2v1.2h-1.2zM65.1 540.9h1.2v1.2h-1.2zM70.1 552h1.2v1.2h-1.2zM67.1 547h1.2v1.2h-1.2zM64.6 543.4h1.2v1.2h-1.2zM61.2 546.6h1.2v1.2h-1.2zM57.2 542.3h1.2v1.2h-1.2zM53.5 533.8h1.2v1.2h-1.2zM57.7 540.5h1.2v1.2h-1.2zM51.3 523.3h1.2v1.2h-1.2zM83.4 552.6h1.2v1.2h-1.2zM59.5 548.7h1.2v1.2h-1.2zM50.9 530.3h1.2v1.2h-1.2zM68 548.9h1.2v1.2h-1.2zM55.9 544h1.2v1.2h-1.2zM76.5 545.4h1.2v1.2h-1.2zM66.1 548.9h1.2v1.2h-1.2zM56.6 528h1.2v1.2h-1.2zM74.6 542.4h1.2v1.2h-1.2zM68.7 547.1h1.2v1.2h-1.2zM72.2 549.6h1.2v1.2h-1.2zM75.8 540.6h1.2v1.2h-1.2zM53.1 539.9h1.2v1.2h-1.2zM57 548.5h1.2v1.2h-1.2zM73.2 544.2h1.2v1.2h-1.2zM60.4 529h1.2v1.2h-1.2zM58.9 535.6h1.2v1.2h-1.2zM57.4 546.9h1.2v1.2h-1.2zM53.6 539.5h1.2v1.2h-1.2zM50.4 541.8h1.2v1.2h-1.2zM60.6 552.5h1.2v1.2h-1.2zM71.7 539.6h1.2v1.2h-1.2zM55.8 545.7h1.2v1.2h-1.2zM70.2 542.7h1.2v1.2h-1.2zM62.1 544.2h1.2v1.2h-1.2zM51.1 546.3h1.2v1.2h-1.2zM70.9 544.4h1.2v1.2h-1.2zM50.4 544h1.2v1.2h-1.2zM62.7 546.7h1.2v1.2h-1.2zM59 551h1.2v1.2h-1.2zM76.9 551h1.2v1.2h-1.2zM63.5 542.6h1.2v1.2h-1.2zM78.5 536h1.2v1.2h-1.2zM73.3 533.3h1.2v1.2h-1.2zM64.5 534.2h1.2v1.2h-1.2zM67.4 542.8h1.2v1.2h-1.2zM73.4 539.6h1.2v1.2h-1.2zM71 552.6h1.2v1.2h-1.2zM67.2 544.2h1.2v1.2h-1.2zM72.1 542.4h1.2v1.2h-1.2zM58.6 545.9h1.2v1.2h-1.2zM77 539.8h1.2v1.2h-1.2zM69.9 538.7h1.2v1.2h-1.2zM55.2 545.5h1.2v1.2h-1.2zM49.8 539h1.2v1.2h-1.2zM71.2 544.6h1.2v1.2h-1.2zM69.2 538.8h1.2v1.2h-1.2zM76.4 540.7h1.2v1.2h-1.2zM72.4 539.6h1.2v1.2h-1.2zM72.1 539.4h1.2v1.2h-1.2zM61.2 539.4h1.2v1.2h-1.2zM57.4 538.5h1.2v1.2h-1.2zM81.7 543.6h1.2v1.2h-1.2zM62.7 542.7h1.2v1.2h-1.2zM58.2 545.1h1.2v1.2h-1.2zM69.5 544h1.2v1.2h-1.2zM54.1 536h1.2v1.2h-1.2zM63.4 548.9h1.2v1.2h-1.2zM62.5 546h1.2v1.2h-1.2zM69.1 548.5h1.2v1.2h-1.2zM60.8 549.3h1.2v1.2h-1.2zM72.1 549.7h1.2v1.2h-1.2zM64.7 551.7h1.2v1.2h-1.2zM63.8 538.2h1.2v1.2h-1.2zM95.2 549.5h1.2v1.2h-1.2zM73 540.2h1.2v1.2h-1.2zM78.2 535.1h1.2v1.2h-1.2zM71 541.9h1.2v1.2h-1.2zM60.4 539.4h1.2v1.2h-1.2zM85.3 542.7h1.2v1.2h-1.2zM62.8 547h1.2v1.2h-1.2zM59.3 543.7h1.2v1.2h-1.2zM55.6 540.9h1.2v1.2h-1.2zM70.4 552.4h1.2v1.2h-1.2zM53 546.7h1.2v1.2h-1.2zM68.6 551.7h1.2v1.2h-1.2zM56.4 542.5h1.2v1.2h-1.2zM76.8 540.4h1.2v1.2h-1.2zM62.2 545.9h1.2v1.2h-1.2zM53 543.1h1.2v1.2h-1.2zM74.2 550.4h1.2v1.2h-1.2zM55.7 538.7h1.2v1.2h-1.2zM62.4 532h1.2v1.2h-1.2zM67.5 545h1.2v1.2h-1.2zM55.9 541.9h1.2v1.2h-1.2zM52.3 550.3h1.2v1.2h-1.2zM63.1 544.1h1.2v1.2h-1.2zM64.6 528.7h1.2v1.2h-1.2zM92.6 542.3h1.2v1.2h-1.2zM60 534.9h1.2v1.2h-1.2zM54.7 547.7h1.2v1.2h-1.2zM76.1 551.8h1.2v1.2h-1.2zM59 529.9h1.2v1.2h-1.2zM68.7 548.7h1.2v1.2h-1.2zM59.9 540.6h1.2v1.2h-1.2zM84.8 531.2h1.2v1.2h-1.2zM57.6 539.1h1.2v1.2h-1.2zM66.9 531.5h1.2v1.2h-1.2zM61.9 547.8h1.2v1.2h-1.2zM56 541.9h1.2v1.2h-1.2zM72.3 542.9h1.2v1.2h-1.2zM72.6 539.3h1.2v1.2h-1.2zM59.9 541.4h1.2v1.2h-1.2zM61.8 547.8h1.2v1.2h-1.2zM60 538.1h1.2v1.2h-1.2zM65.4 542.2h1.2v1.2h-1.2zM64.3 546h1.2v1.2h-1.2zM78.2 540.8h1.2v1.2h-1.2zM83.8 522.3h1.2v1.2h-1.2zM82.5 545.7h1.2v1.2h-1.2zM67.2 535.9h1.2v1.2h-1.2zM79.8 534.8h1.2v1.2h-1.2zM54.3 544.1h1.2v1.2h-1.2zM66.6 546.8h1.2v1.2h-1.2zM49.9 541.3h1.2v1.2h-1.2zM72.9 547.4h1.2v1.2h-1.2zM60.7 539.7h1.2v1.2h-1.2zM57.6 543.3h1.2v1.2h-1.2zM70.1 540h1.2v1.2h-1.2zM88.4 536.1h1.2v1.2h-1.2zM73.5 542.5h1.2v1.2h-1.2zM62.1 541.1h1.2v1.2h-1.2zM82.1 541.7h1.2v1.2h-1.2zM70.4 545.1h1.2v1.2h-1.2zM72.7 548.8h1.2v1.2h-1.2zM83.5 538.2h1.2v1.2h-1.2zM79 544.7h1.2v1.2h-1.2zM60.3 546.2h1.2v1.2h-1.2zM79.4 538h1.2v1.2h-1.2zM81.1 543.7h1.2v1.2h-1.2zM59.5 540.9h1.2v1.2h-1.2zM53.1 546h1.2v1.2h-1.2zM72.4 544.4h1.2v1.2h-1.2zM66 547.4h1.2v1.2h-1.2zM83 548.8h1.2v1.2h-1.2zM82.6 543.6h1.2v1.2h-1.2zM68 538.9h1.2v1.2h-1.2zM70.9 537.3h1.2v1.2h-1.2zM69.4 539h1.2v1.2h-1.2zM65.5 550.5h1.2v1.2h-1.2zM60.9 529.2h1.2v1.2h-1.2zM81.4 542.7h1.2v1.2h-1.2zM56 551.7h1.2v1.2h-1.2zM50.2 538.2h1.2v1.2h-1.2zM77.5 538.5h1.2v1.2h-1.2zM77.3 541.7h1.2v1.2h-1.2zM61.3 544.7h1.2v1.2h-1.2zM57.8 552.7h1.2v1.2h-1.2zM76.9 544.7h1.2v1.2h-1.2zM71.1 548.5h1.2v1.2h-1.2zM83.9 531.4h1.2v1.2h-1.2zM76 551.5h1.2v1.2h-1.2zM60 544.2h1.2v1.2h-1.2zM50.1 549h1.2v1.2h-1.2zM79.1 548.7h1.2v1.2h-1.2zM58 540.4h1.2v1.2h-1.2zM76.9 536.6h1.2v1.2h-1.2zM53.4 551.8h1.2v1.2h-1.2zM62.4 532.8h1.2v1.2h-1.2zM54.6 539h1.2v1.2h-1.2zM51.8 547.1h1.2v1.2h-1.2zM56.8 548.9h1.2v1.2h-1.2zM57.7 536.7h1.2v1.2h-1.2zM75.4 544.5h1.2v1.2h-1.2zM79.7 538.5h1.2v1.2h-1.2zM57.6 537.5h1.2v1.2h-1.2zM65.7 539.7h1.2v1.2h-1.2zM74.5 537.5h1.2v1.2h-1.2zM67.2 546.1h1.2v1.2h-1.2zM56.9 540.6h1.2v1.2h-1.2zM54.2 542.7h1.2v1.2h-1.2zM58.3 548.6h1.2v1.2h-1.2zM63.9 548.6h1.2v1.2h-1.2zM83.3 542h1.2v1.2h-1.2zM60.3 547.2h1.2v1.2h-1.2zM88.9 541.3h1.2v1.2h-1.2zM52.1 547.3h1.2v1.2h-1.2zM79.7 544.6h1.2v1.2h-1.2zM57.7 524.7h1.2v1.2h-1.2zM53.9 540.3h1.2v1.2h-1.2zM63.3 550.2h1.2v1.2h-1.2zM72.1 548.3h1.2v1.2h-1.2zM78.2 544.4h1.2v1.2h-1.2zM57 543.8h1.2v1.2h-1.2zM61.2 538.6h1.2v1.2h-1.2zM63.7 538.8h1.2v1.2h-1.2zM71.5 538.9h1.2v1.2h-1.2zM69.7 546.7h1.2v1.2h-1.2zM65.8 548.3h1.2v1.2h-1.2zM55.5 550h1.2v1.2h-1.2zM64.1 540.7h1.2v1.2h-1.2zM84.7 553h1.2v1.2h-1.2zM60.5 548.7h1.2v1.2h-1.2zM76 542.8h1.2v1.2h-1.2zM60.8 534.8h1.2v1.2h-1.2zM67 551.1h1.2v1.2h-1.2zM59.2 549.5h1.2v1.2h-1.2zM65.4 540.4h1.2v1.2h-1.2zM94.2 548.5h1.2v1.2h-1.2zM50.9 535.8h1.2v1.2h-1.2zM66.9 549.4h1.2v1.2h-1.2zM82.1 524.7h1.2v1.2h-1.2zM86 545.5h1.2v1.2h-1.2zM65.5 547.2h1.2v1.2h-1.2zM59.6 541.8h1.2v1.2h-1.2zM76.5 530.2h1.2v1.2h-1.2zM62.5 548.6h1.2v1.2h-1.2zM82.2 547.1h1.2v1.2h-1.2zM72.3 549.8h1.2v1.2h-1.2zM66.5 547h1.2v1.2h-1.2zM54.1 542.4h1.2v1.2h-1.2zM86 534.2h1.2v1.2h-1.2zM61.9 533.9h1.2v1.2h-1.2zM57.5 537.9h1.2v1.2h-1.2zM52.6 548.4h1.2v1.2h-1.2zM85.6 523.5h1.2v1.2h-1.2zM61.9 527.3h1.2v1.2h-1.2zM62.4 547.1h1.2v1.2h-1.2zM65.8 530.2h1.2v1.2h-1.2zM81.9 536.5h1.2v1.2h-1.2zM62.8 546.7h1.2v1.2h-1.2zM53.3 544.8h1.2v1.2h-1.2zM81.8 530.5h1.2v1.2h-1.2zM61.9 533.8h1.2v1.2h-1.2zM68.6 533.4h1.2v1.2h-1.2zM70.8 543.6h1.2v1.2h-1.2zM65.8 533.3h1.2v1.2h-1.2zM61.3 548h1.2v1.2h-1.2zM71.9 543.5h1.2v1.2h-1.2zM50.9 540.8h1.2v1.2h-1.2zM60.9 547.7h1.2v1.2h-1.2zM79.8 526.4h1.2v1.2h-1.2zM49.9 544.1h1.2v1.2h-1.2zM75.7 547.4h1.2v1.2h-1.2zM80.1 548.9h1.2v1.2h-1.2zM94.7 550.6h1.2v1.2h-1.2zM58.6 539.7h1.2v1.2h-1.2zM51.8 546.1h1.2v1.2h-1.2zM69.2 551.7h1.2v1.2h-1.2zM81.3 549.2h1.2v1.2h-1.2zM78.7 542.1h1.2v1.2h-1.2zM52.4 550h1.2v1.2h-1.2zM62 540.3h1.2v1.2h-1.2zM59.6 547h1.2v1.2h-1.2zM63.4 542.6h1.2v1.2h-1.2zM67 541.7h1.2v1.2h-1.2zM68 539.2h1.2v1.2h-1.2zM86.7 537.5h1.2v1.2h-1.2zM57.4 546.2h1.2v1.2h-1.2zM82.5 545.6h1.2v1.2h-1.2zM55 545h1.2v1.2h-1.2zM67.4 540.7h1.2v1.2h-1.2zM60.2 537.4h1.2v1.2h-1.2zM70.9 545.7h1.2v1.2h-1.2zM68.1 540h1.2v1.2h-1.2zM69.9 541.6h1.2v1.2h-1.2zM67.5 542.8h1.2v1.2h-1.2zM56 535.2h1.2v1.2h-1.2zM61.5 534.6h1.2v1.2h-1.2zM78.9 534.6h1.2v1.2h-1.2zM62.7 538.9h1.2v1.2h-1.2zM73.2 532.2h1.2v1.2h-1.2zM67.7 545.9h1.2v1.2h-1.2zM70.8 547.6h1.2v1.2h-1.2zM65.8 529.5h1.2v1.2h-1.2zM60.1 536.3h1.2v1.2h-1.2zM70.4 542.2h1.2v1.2h-1.2zM65.8 553.1h1.2v1.2h-1.2zM74 531.9h1.2v1.2h-1.2zM57.2 543.1h1.2v1.2h-1.2zM76.4 531.1h1.2v1.2h-1.2zM64.9 540.3h1.2v1.2h-1.2zM69.9 533h1.2v1.2h-1.2zM75.5 540.3h1.2v1.2h-1.2zM60.3 551.9h1.2v1.2h-1.2zM66.1 536.6h1.2v1.2h-1.2zM60.3 532.9h1.2v1.2h-1.2zM78.2 545.4h1.2v1.2h-1.2zM75.6 534.9h1.2v1.2h-1.2zM74.2 534.2h1.2v1.2h-1.2zM67.4 543.9h1.2v1.2h-1.2zM56.9 546.6h1.2v1.2h-1.2zM64.4 536.9h1.2v1.2h-1.2zM55.1 533.3h1.2v1.2h-1.2zM80.5 545.3h1.2v1.2h-1.2zM59.6 549.7h1.2v1.2h-1.2zM53.6 534.5h1.2v1.2h-1.2zM67.6 545.3h1.2v1.2h-1.2zM85 531.3h1.2v1.2h-1.2zM100.7 535h1.2v1.2h-1.2zM63.1 533h1.2v1.2h-1.2zM93.4 536.3h1.2v1.2h-1.2zM56.6 546.2h1.2v1.2h-1.2zM51.8 541.9h1.2v1.2h-1.2zM73.8 526.1h1.2v1.2h-1.2zM60.4 541.6h1.2v1.2h-1.2zM57.8 543h1.2v1.2h-1.2zM57.7 535.5h1.2v1.2h-1.2zM73.6 536.9h1.2v1.2h-1.2zM81.1 548.1h1.2v1.2h-1.2zM54.2 549h1.2v1.2h-1.2zM57.1 548.7h1.2v1.2h-1.2zM51.3 543h1.2v1.2h-1.2zM64 534h1.2v1.2h-1.2zM69 549.7h1.2v1.2h-1.2zM50.7 533.5h1.2v1.2h-1.2zM56 540.8h1.2v1.2h-1.2zM75.9 552.4h1.2v1.2h-1.2zM80.9 526.9h1.2v1.2h-1.2zM73.1 529.5h1.2v1.2h-1.2zM56.4 540.6h1.2v1.2h-1.2zM61.8 543.5h1.2v1.2h-1.2zM70.1 547.7h1.2v1.2h-1.2zM70 529.7h1.2v1.2h-1.2zM70.1 546.6h1.2v1.2h-1.2zM71.2 543.6h1.2v1.2h-1.2zM68.9 533.3h1.2v1.2h-1.2zM77.6 534h1.2v1.2h-1.2zM80.8 552.4h1.2v1.2h-1.2zM63.2 541.6h1.2v1.2h-1.2zM73.3 541.5h1.2v1.2h-1.2zM49.7 546.3h1.2v1.2h-1.2zM85.5 550.7h1.2v1.2h-1.2zM58.6 543.4h1.2v1.2h-1.2zM56.2 543.9h1.2v1.2h-1.2zM64.2 539h1.2v1.2h-1.2zM58.7 540.1h1.2v1.2h-1.2zM57 539.9h1.2v1.2h-1.2zM79.7 549.6h1.2v1.2h-1.2zM69 547h1.2v1.2h-1.2zM50.4 524.1h1.2v1.2h-1.2zM82.1 549.9h1.2v1.2h-1.2zM66.6 546.3h1.2v1.2h-1.2zM66.4 544.2h1.2v1.2h-1.2zM60.9 525.6h1.2v1.2h-1.2zM70.8 544.4h1.2v1.2h-1.2zM75.7 546.5h1.2v1.2h-1.2zM60.6 549h1.2v1.2h-1.2zM66.3 540.3h1.2v1.2h-1.2zM59.5 540.5h1.2v1.2h-1.2zM60.4 540.3h1.2v1.2h-1.2zM58.3 542.7h1.2v1.2h-1.2zM55.1 532.8h1.2v1.2h-1.2zM53.8 539.8h1.2v1.2h-1.2zM65.8 541.2h1.2v1.2h-1.2zM82.2 536.7h1.2v1.2h-1.2zM64.8 552.3h1.2v1.2h-1.2zM54.3 539.3h1.2v1.2h-1.2zM57.7 545.3h1.2v1.2h-1.2zM65.2 545.2h1.2v1.2h-1.2zM69.6 541.5h1.2v1.2h-1.2zM65.8 532.7h1.2v1.2h-1.2zM66.9 538.6h1.2v1.2h-1.2zM65.7 552.7h1.2v1.2h-1.2zM56 540.4h1.2v1.2h-1.2zM62.9 539.2h1.2v1.2h-1.2zM65.3 544.7h1.2v1.2h-1.2zM50 538.8h1.2v1.2h-1.2zM67.1 549.4h1.2v1.2h-1.2zM53.5 539.6h1.2v1.2h-1.2zM76.9 547.7h1.2v1.2h-1.2zM71.5 545.9h1.2v1.2h-1.2zM68.4 551.8h1.2v1.2h-1.2zM60.8 550.9h1.2v1.2h-1.2zM74.4 547.5h1.2v1.2h-1.2zM67.2 533.6h1.2v1.2h-1.2zM77.1 536.7h1.2v1.2h-1.2zM56.2 536.9h1.2v1.2h-1.2zM70.7 536h1.2v1.2h-1.2zM69.5 548.7h1.2v1.2h-1.2zM65.2 541.2h1.2v1.2h-1.2zM58.5 535.3h1.2v1.2h-1.2zM56.8 536.7h1.2v1.2h-1.2zM61.1 542.7h1.2v1.2h-1.2zM54.2 540.5h1.2v1.2h-1.2zM51.8 545.9h1.2v1.2h-1.2zM74.2 529.1h1.2v1.2h-1.2zM60.6 551.6h1.2v1.2h-1.2zM67.7 536.4h1.2v1.2h-1.2zM75.9 539h1.2v1.2h-1.2zM68.2 540.7h1.2v1.2h-1.2zM61.4 545.3h1.2v1.2h-1.2zM79.8 530.1h1.2v1.2h-1.2zM50.6 544.8h1.2v1.2h-1.2zM75.7 542.4h1.2v1.2h-1.2zM61.7 548.3h1.2v1.2h-1.2zM82.9 536.5h1.2v1.2h-1.2zM73.2 533.2h1.2v1.2h-1.2zM77.5 551.7h1.2v1.2h-1.2zM73.4 537h1.2v1.2h-1.2zM67.1 549.7h1.2v1.2h-1.2zM77.4 552.2h1.2v1.2h-1.2zM60.7 543.9h1.2v1.2h-1.2zM69.4 550.2h1.2v1.2h-1.2zM61.7 539.8h1.2v1.2h-1.2zM52.3 552.4h1.2v1.2h-1.2zM65.2 515.9h1.2v1.2h-1.2zM68.1 539.3h1.2v1.2h-1.2zM57.4 548.2h1.2v1.2h-1.2zM51.9 529h1.2v1.2h-1.2zM56.7 532.7h1.2v1.2h-1.2zM72.9 542.3h1.2v1.2h-1.2zM63.7 543.7h1.2v1.2h-1.2zM67.5 552.1h1.2v1.2h-1.2zM77.1 543h1.2v1.2h-1.2zM71.8 536.4h1.2v1.2h-1.2zM79.1 536.1h1.2v1.2h-1.2zM50.5 550.8h1.2v1.2h-1.2zM62.8 546.6h1.2v1.2h-1.2zM60.3 544.2h1.2v1.2h-1.2zM71.8 543h1.2v1.2h-1.2zM69.6 550.9h1.2v1.2h-1.2zM57.7 545.4h1.2v1.2h-1.2zM66.4 539.3h1.2v1.2h-1.2zM54.7 542.3h1.2v1.2h-1.2zM60.4 540.6h1.2v1.2h-1.2zM71.8 544.6h1.2v1.2h-1.2zM84.5 551.1h1.2v1.2h-1.2zM59.7 538.4h1.2v1.2h-1.2zM70 540.9h1.2v1.2h-1.2zM60.4 542.1h1.2v1.2h-1.2zM71.3 545.6h1.2v1.2h-1.2zM88.2 537.9h1.2v1.2h-1.2zM62.8 546.5h1.2v1.2h-1.2zM58.7 539.8h1.2v1.2h-1.2zM84.9 532h1.2v1.2h-1.2zM68.2 529.6h1.2v1.2h-1.2zM68 528.2h1.2v1.2h-1.2zM82.4 545h1.2v1.2h-1.2zM66.9 534.9h1.2v1.2h-1.2zM59.7 533.1h1.2v1.2h-1.2zM62.9 543.3h1.2v1.2h-1.2zM65.5 550.5h1.2v1.2h-1.2zM56.3 525.9h1.2v1.2h-1.2zM50 533.7h1.2v1.2h-1.2zM59.6 540.4h1.2v1.2h-1.2zM64.3 535.1h1.2v1.2h-1.2zM60.3 536.8h1.2v1.2h-1.2zM61.1 548.7h1.2v1.2h-1.2zM50.5 549.8h1.2v1.2h-1.2zM83.4 544.7h1.2v1.2h-1.2zM63.4 545.9h1.2v1.2h-1.2zM59.7 536.3h1.2v1.2h-1.2zM71.4 532.5h1.2v1.2h-1.2zM59.5 537.1h1.2v1.2h-1.2zM60.6 542.9h1.2v1.2h-1.2zM70.7 551.7h1.2v1.2h-1.2zM76.4 549.6h1.2v1.2h-1.2zM56.1 548.4h1.2v1.2h-1.2zM64.1 530.1h1.2v1.2h-1.2zM78.8 548.7h1.2v1.2h-1.2zM80.4 543.5h1.2v1.2h-1.2zM72.7 543.4h1.2v1.2h-1.2zM65.9 551.4h1.2v1.2h-1.2zM64.7 549h1.2v1.2h-1.2zM71.8 530.5h1.2v1.2h-1.2zM83.8 547.6h1.2v1.2h-1.2zM57.9 538.9h1.2v1.2h-1.2zM87.8 544.7h1.2v1.2h-1.2zM70.1 548.9h1.2v1.2h-1.2zM89.1 537.6h1.2v1.2h-1.2zM77.6 530.7h1.2v1.2h-1.2zM60 544.5h1.2v1.2h-1.2zM64.6 548.7h1.2v1.2h-1.2zM68.8 547h1.2v1.2h-1.2zM62.4 546.5h1.2v1.2h-1.2zM65.3 542.8h1.2v1.2h-1.2zM61.9 533.5h1.2v1.2h-1.2zM88.8 547.4h1.2v1.2h-1.2zM65.6 540.2h1.2v1.2h-1.2zM79.3 541.3h1.2v1.2h-1.2zM58.5 539.6h1.2v1.2h-1.2zM82.4 546.5h1.2v1.2h-1.2zM62.3 538.8h1.2v1.2h-1.2zM79.3 546.4h1.2v1.2h-1.2zM60.1 551.3h1.2v1.2h-1.2zM74.5 535.9h1.2v1.2h-1.2zM77.7 552.9h1.2v1.2h-1.2zM61.1 533.2h1.2v1.2h-1.2zM77.1 541.2h1.2v1.2h-1.2zM61.6 541.7h1.2v1.2h-1.2zM60.8 550.8h1.2v1.2h-1.2zM51 548.3h1.2v1.2h-1.2zM77.8 552.6h1.2v1.2h-1.2zM72.6 546.2h1.2v1.2h-1.2zM61.7 543h1.2v1.2h-1.2zM62.7 535.8h1.2v1.2h-1.2zM67.4 541.4h1.2v1.2h-1.2zM50.8 549.3h1.2v1.2h-1.2zM61.2 538.6h1.2v1.2h-1.2zM71.2 533.5h1.2v1.2h-1.2zM72.8 524.3h1.2v1.2h-1.2zM56.7 532.4h1.2v1.2h-1.2zM61.2 550.5h1.2v1.2h-1.2zM56 540.1h1.2v1.2h-1.2zM75.8 538.1h1.2v1.2h-1.2zM81.3 542.4h1.2v1.2h-1.2zM63 536.2h1.2v1.2h-1.2zM77.7 543.5h1.2v1.2h-1.2zM58.4 536.3h1.2v1.2h-1.2zM56.6 543.2h1.2v1.2h-1.2zM55.6 550.5h1.2v1.2h-1.2zM63.7 539h1.2v1.2h-1.2zM76.9 545.1h1.2v1.2h-1.2zM73.8 531.6h1.2v1.2h-1.2zM55.3 552.2h1.2v1.2h-1.2zM63 544.5h1.2v1.2h-1.2zM71.5 547h1.2v1.2h-1.2zM69.4 540h1.2v1.2h-1.2zM58.3 532.4h1.2v1.2h-1.2zM60 551.2h1.2v1.2h-1.2zM85.3 545.2h1.2v1.2h-1.2zM56.9 548.9h1.2v1.2h-1.2zM70.3 550.1h1.2v1.2h-1.2zM70.2 547.4h1.2v1.2h-1.2zM53.5 542.7h1.2v1.2h-1.2zM75.5 547.2h1.2v1.2h-1.2zM62.9 546.8h1.2v1.2h-1.2zM60.3 552.8h1.2v1.2h-1.2zM60.5 537.9h1.2v1.2h-1.2zM55.4 537.1h1.2v1.2h-1.2zM72.1 541.3h1.2v1.2h-1.2zM70.9 537.4h1.2v1.2h-1.2zM61.3 544.3h1.2v1.2h-1.2zM64.4 550.3h1.2v1.2h-1.2zM74 541.7h1.2v1.2h-1.2zM67.3 537.2h1.2v1.2h-1.2zM57.1 541.3h1.2v1.2h-1.2zM76.2 538.5h1.2v1.2h-1.2zM50.2 542.5h1.2v1.2h-1.2zM60.8 534.6h1.2v1.2h-1.2zM55 540.7h1.2v1.2h-1.2zM68.9 548.9h1.2v1.2h-1.2zM79.8 542h1.2v1.2h-1.2zM71.7 544.6h1.2v1.2h-1.2zM51.6 538.9h1.2v1.2h-1.2zM89.9 542.7h1.2v1.2h-1.2zM83.6 550.7h1.2v1.2h-1.2zM83.8 542.5h1.2v1.2h-1.2zM75.2 541.6h1.2v1.2h-1.2zM51.4 534.6h1.2v1.2h-1.2zM69.5 531.1h1.2v1.2h-1.2zM68.7 537h1.2v1.2h-1.2zM68.5 533h1.2v1.2h-1.2zM74.3 542.2h1.2v1.2h-1.2zM65.2 530.9h1.2v1.2h-1.2zM68.2 547.9h1.2v1.2h-1.2zM81.2 546.5h1.2v1.2h-1.2zM69.7 547.8h1.2v1.2h-1.2zM58.2 523.8h1.2v1.2h-1.2zM64.7 547.6h1.2v1.2h-1.2zM74 535.2h1.2v1.2h-1.2zM80.6 537.4h1.2v1.2h-1.2zM71.8 549.9h1.2v1.2h-1.2zM70.2 540.6h1.2v1.2h-1.2zM94.7 544h1.2v1.2h-1.2zM82.4 539.4h1.2v1.2h-1.2zM53 553.1h1.2v1.2h-1.2zM65.1 536.3h1.2v1.2h-1.2zM58.9 544.6h1.2v1.2h-1.2zM62.9 547.5h1.2v1.2h-1.2zM59.4 538.3h1.2v1.2h-1.2zM67.8 553.1h1.2v1.2h-1.2zM59.8 535.4h1.2v1.2h-1.2zM70.9 549.2h1.2v1.2h-1.2zM57.4 540.5h1.2v1.2h-1.2zM85 540.9h1.2v1.2h-1.2zM66 552h1.2v1.2h-1.2zM83.9 547h1.2v1.2h-1.2zM59.8 529.6h1.2v1.2h-1.2zM55.8 541.5h1.2v1.2h-1.2zM79.7 546.6h1.2v1.2h-1.2zM78.5 544.8h1.2v1.2h-1.2zM65 539.4h1.2v1.2h-1.2zM50.2 548.1h1.2v1.2h-1.2zM68.7 548.6h1.2v1.2h-1.2zM58.3 540.6h1.2v1.2h-1.2zM68.9 548.9h1.2v1.2h-1.2zM87.6 537h1.2v1.2h-1.2zM76 551.1h1.2v1.2h-1.2zM61.5 545.1h1.2v1.2h-1.2zM94 546.6h1.2v1.2h-1.2zM61.5 551.7h1.2v1.2h-1.2zM70.2 542.5h1.2v1.2h-1.2zM73.2 551h1.2v1.2h-1.2zM59.9 550.9h1.2v1.2h-1.2zM60.9 545.3h1.2v1.2h-1.2zM60.1 545.2h1.2v1.2h-1.2zM64 550.1h1.2v1.2h-1.2zM57.8 550h1.2v1.2h-1.2zM54.9 532.1h1.2v1.2h-1.2zM70.5 545.3h1.2v1.2h-1.2zM74.7 528.4h1.2v1.2h-1.2zM65.8 538.8h1.2v1.2h-1.2zM62.3 540.9h1.2v1.2h-1.2zM60.2 538.6h1.2v1.2h-1.2zM76.4 530.2h1.2v1.2h-1.2zM87.9 537.9h1.2v1.2h-1.2zM54 534.6h1.2v1.2h-1.2zM72.4 551.3h1.2v1.2h-1.2zM68.5 545.9h1.2v1.2h-1.2zM57.8 536.2h1.2v1.2h-1.2zM56.3 544.3h1.2v1.2h-1.2zM84.2 543.4h1.2v1.2h-1.2zM71.9 539.5h1.2v1.2h-1.2zM86.3 534.1h1.2v1.2h-1.2zM71 542.1h1.2v1.2h-1.2zM66.8 546.9h1.2v1.2h-1.2zM79.8 551.1h1.2v1.2h-1.2zM76.7 547h1.2v1.2h-1.2zM82.4 547.9h1.2v1.2h-1.2zM73.7 542.1h1.2v1.2h-1.2zM72.5 543.9h1.2v1.2h-1.2zM57.4 544.9h1.2v1.2h-1.2zM52.8 541h1.2v1.2h-1.2zM83 541.6h1.2v1.2h-1.2zM85.9 543.2h1.2v1.2h-1.2zM69.3 536.6h1.2v1.2h-1.2zM61 540.4h1.2v1.2h-1.2zM71.3 543.3h1.2v1.2h-1.2zM51.8 544.3h1.2v1.2h-1.2zM52.3 536.2h1.2v1.2h-1.2zM58.1 520.6h1.2v1.2h-1.2zM65.2 537.9h1.2v1.2h-1.2zM85.1 548.3h1.2v1.2h-1.2zM57.1 530.7h1.2v1.2h-1.2zM66.5 538.6h1.2v1.2h-1.2zM76.4 535.6h1.2v1.2h-1.2zM78.4 540.3h1.2v1.2h-1.2zM66.7 541.8h1.2v1.2h-1.2zM58.1 536.7h1.2v1.2h-1.2zM86.5 551.7h1.2v1.2h-1.2zM86.6 551.8h1.2v1.2h-1.2zM56.7 540.6h1.2v1.2h-1.2zM59.8 549.6h1.2v1.2h-1.2zM54.5 542.6h1.2v1.2h-1.2zM54.6 542.1h1.2v1.2h-1.2zM77.5 553h1.2v1.2h-1.2zM56.3 547.7h1.2v1.2h-1.2zM58.9 526.1h1.2v1.2h-1.2zM63 546.2h1.2v1.2h-1.2zM79 544.3h1.2v1.2h-1.2zM57 539.1h1.2v1.2h-1.2zM53.4 548.5h1.2v1.2h-1.2zM58.9 548.2h1.2v1.2h-1.2zM88.4 547h1.2v1.2h-1.2zM50.8 550.2h1.2v1.2h-1.2zM52 549.5h1.2v1.2h-1.2zM54.4 547.4h1.2v1.2h-1.2zM69.7 538.2h1.2v1.2h-1.2zM67.2 535.4h1.2v1.2h-1.2zM75.7 551.4h1.2v1.2h-1.2zM62.5 549.6h1.2v1.2h-1.2zM92.2 542.7h1.2v1.2h-1.2zM59.1 537.7h1.2v1.2h-1.2zM74.9 552.2h1.2v1.2h-1.2zM57 540.6h1.2v1.2h-1.2zM69.3 522h1.2v1.2h-1.2zM61.9 544.5h1.2v1.2h-1.2zM53.1 545.9h1.2v1.2h-1.2zM76.7 538.9h1.2v1.2h-1.2zM70.9 542.8h1.2v1.2h-1.2zM62.5 545h1.2v1.2h-1.2zM81.9 548.3h1.2v1.2h-1.2zM72.3 545.2h1.2v1.2h-1.2zM64.1 544.8h1.2v1.2h-1.2zM58.4 531.5h1.2v1.2h-1.2zM82.7 529.1h1.2v1.2h-1.2zM70.7 534.4h1.2v1.2h-1.2zM62.1 539.8h1.2v1.2h-1.2zM57.1 537.8h1.2v1.2h-1.2zM58.7 550.3h1.2v1.2h-1.2zM83.1 551.6h1.2v1.2h-1.2zM64.1 542.8h1.2v1.2h-1.2zM61.4 543.9h1.2v1.2h-1.2zM57 542.6h1.2v1.2h-1.2zM74.2 542.2h1.2v1.2h-1.2zM54.7 543h1.2v1.2h-1.2zM65.3 543.4h1.2v1.2h-1.2zM61.2 549.7h1.2v1.2h-1.2zM63.7 535.8h1.2v1.2h-1.2zM70.9 538.2h1.2v1.2h-1.2zM73.3 550.7h1.2v1.2h-1.2zM69.9 546.5h1.2v1.2h-1.2zM65.7 549.2h1.2v1.2h-1.2zM51.1 542.8h1.2v1.2h-1.2zM65.2 545h1.2v1.2h-1.2zM83.6 550h1.2v1.2h-1.2zM62 539.3h1.2v1.2h-1.2zM59 550.4h1.2v1.2h-1.2z" fill="#1838f0"/>
<ellipse cx="58" cy="550" rx="24" ry="21" fill="#1232ee" clip-path="url(#clipD)"/>
<path d="M114.5 510.8h1.1v1.1h-1.1zM110.6 511.2h1.1v1.1h-1.1zM113.6 514.5h1.1v1.1h-1.1zM108.4 508.8h1.1v1.1h-1.1zM115.9 506h1.1v1.1h-1.1zM104.3 497h1.1v1.1h-1.1zM118.6 510.6h1.1v1.1h-1.1zM114.2 516.5h1.1v1.1h-1.1zM114.2 519.6h1.1v1.1h-1.1zM109.3 513.4h1.1v1.1h-1.1zM114.7 516.5h1.1v1.1h-1.1zM108.3 509.5h1.1v1.1h-1.1zM105.7 514.9h1.1v1.1h-1.1zM109.1 505.2h1.1v1.1h-1.1zM109 515.2h1.1v1.1h-1.1zM111.7 512.3h1.1v1.1h-1.1zM111.7 517h1.1v1.1h-1.1zM106.6 509.1h1.1v1.1h-1.1zM114.7 517.5h1.1v1.1h-1.1zM105.8 509.6h1.1v1.1h-1.1zM116.5 517.5h1.1v1.1h-1.1zM110.5 519h1.1v1.1h-1.1zM116.2 521.1h1.1v1.1h-1.1zM105.9 506.6h1.1v1.1h-1.1zM109.2 513.2h1.1v1.1h-1.1zM109.7 514.8h1.1v1.1h-1.1zM116.6 519.4h1.1v1.1h-1.1zM114.8 513.5h1.1v1.1h-1.1zM117.2 516h1.1v1.1h-1.1zM112 513.4h1.1v1.1h-1.1zM111 518.3h1.1v1.1h-1.1zM119.5 512.5h1.1v1.1h-1.1zM106.7 519h1.1v1.1h-1.1zM112 508.5h1.1v1.1h-1.1zM114.7 513.6h1.1v1.1h-1.1zM107.5 500h1.1v1.1h-1.1zM107.4 515.6h1.1v1.1h-1.1zM107.2 518.7h1.1v1.1h-1.1zM119.3 515.2h1.1v1.1h-1.1zM111.9 513.1h1.1v1.1h-1.1zM114.3 513.7h1.1v1.1h-1.1zM115 521.1h1.1v1.1h-1.1zM114.3 508.4h1.1v1.1h-1.1zM113.6 512.1h1.1v1.1h-1.1zM112.2 518.7h1.1v1.1h-1.1zM108.6 514.6h1.1v1.1h-1.1zM116.6 509.1h1.1v1.1h-1.1zM110.4 517.4h1.1v1.1h-1.1zM110.2 519h1.1v1.1h-1.1zM107.3 505.5h1.1v1.1h-1.1zM112.5 512.8h1.1v1.1h-1.1zM112.2 518.7h1.1v1.1h-1.1zM115 511.7h1.1v1.1h-1.1zM109.6 503.2h1.1v1.1h-1.1zM107.4 514.8h1.1v1.1h-1.1zM111.9 505.6h1.1v1.1h-1.1zM114 513.3h1.1v1.1h-1.1zM115.2 511.6h1.1v1.1h-1.1zM114.7 507.6h1.1v1.1h-1.1zM104.1 509.2h1.1v1.1h-1.1zM113.7 515.7h1.1v1.1h-1.1zM104 514.3h1.1v1.1h-1.1zM113.6 522.5h1.1v1.1h-1.1zM114 516.2h1.1v1.1h-1.1zM105.1 515.5h1.1v1.1h-1.1zM103.7 511.9h1.1v1.1h-1.1zM109.7 508.3h1.1v1.1h-1.1zM107.3 512.8h1.1v1.1h-1.1zM113.3 510.1h1.1v1.1h-1.1zM112.2 517.3h1.1v1.1h-1.1zM111 523.7h1.1v1.1h-1.1zM109.9 509.6h1.1v1.1h-1.1zM103.9 519.2h1.1v1.1h-1.1zM113.6 512.5h1.1v1.1h-1.1zM112.2 512.8h1.1v1.1h-1.1zM114.3 513.5h1.1v1.1h-1.1zM111.9 513.1h1.1v1.1h-1.1zM107.7 501.7h1.1v1.1h-1.1zM113.1 506.9h1.1v1.1h-1.1zM112.6 516.9h1.1v1.1h-1.1zM118.1 509.6h1.1v1.1h-1.1zM111.6 518.6h1.1v1.1h-1.1zM108.6 510.4h1.1v1.1h-1.1zM115.1 518.6h1.1v1.1h-1.1zM107.4 517h1.1v1.1h-1.1zM115.4 506.8h1.1v1.1h-1.1zM111.1 512.5h1.1v1.1h-1.1zM113.5 504.3h1.1v1.1h-1.1zM113.7 513.5h1.1v1.1h-1.1zM110.1 502.3h1.1v1.1h-1.1zM103.3 510.6h1.1v1.1h-1.1zM113.5 515.8h1.1v1.1h-1.1zM113.9 504.5h1.1v1.1h-1.1zM111.8 520.7h1.1v1.1h-1.1zM105.2 517h1.1v1.1h-1.1zM108.3 516.4h1.1v1.1h-1.1zM111.4 504.9h1.1v1.1h-1.1zM107.1 520.3h1.1v1.1h-1.1zM110.7 520.1h1.1v1.1h-1.1zM112.3 518.3h1.1v1.1h-1.1zM109.6 514.7h1.1v1.1h-1.1zM109.7 518.3h1.1v1.1h-1.1zM108.9 519.4h1.1v1.1h-1.1zM117 507.1h1.1v1.1h-1.1zM110.4 516.4h1.1v1.1h-1.1zM117.7 519.6h1.1v1.1h-1.1zM111.4 504.3h1.1v1.1h-1.1zM114.2 510.4h1.1v1.1h-1.1zM111.8 515.7h1.1v1.1h-1.1zM105.8 519.2h1.1v1.1h-1.1zM114.5 516.6h1.1v1.1h-1.1zM113.3 515.4h1.1v1.1h-1.1zM105.8 510.8h1.1v1.1h-1.1zM114.1 511.8h1.1v1.1h-1.1zM111.1 515.5h1.1v1.1h-1.1zM111.4 514.9h1.1v1.1h-1.1zM112.9 513.5h1.1v1.1h-1.1zM106.9 512.1h1.1v1.1h-1.1zM114.7 509.9h1.1v1.1h-1.1zM112.8 515.1h1.1v1.1h-1.1zM107.7 498.6h1.1v1.1h-1.1zM111 509.4h1.1v1.1h-1.1zM108.7 518.5h1.1v1.1h-1.1zM108.2 515.4h1.1v1.1h-1.1zM111.5 514.6h1.1v1.1h-1.1zM118.5 503.1h1.1v1.1h-1.1zM114.7 512.7h1.1v1.1h-1.1zM110 510h1.1v1.1h-1.1zM111.2 513.8h1.1v1.1h-1.1zM107.6 522.2h1.1v1.1h-1.1zM108.3 512.8h1.1v1.1h-1.1zM106.3 514.3h1.1v1.1h-1.1zM112.4 519.2h1.1v1.1h-1.1zM114.7 510.9h1.1v1.1h-1.1zM117.1 512.9h1.1v1.1h-1.1zM116.9 522.6h1.1v1.1h-1.1zM109.5 507.8h1.1v1.1h-1.1zM113.1 521.1h1.1v1.1h-1.1zM112.5 519.3h1.1v1.1h-1.1zM113.3 518.2h1.1v1.1h-1.1zM116 512h1.1v1.1h-1.1zM105.7 512.9h1.1v1.1h-1.1zM108.1 507.2h1.1v1.1h-1.1zM110.4 517.3h1.1v1.1h-1.1zM104.1 505.5h1.1v1.1h-1.1zM114 508.8h1.1v1.1h-1.1zM109.6 520.7h1.1v1.1h-1.1zM115.3 515.4h1.1v1.1h-1.1zM113.1 499.2h1.1v1.1h-1.1zM113.1 515.5h1.1v1.1h-1.1zM105.8 514.5h1.1v1.1h-1.1zM112.8 512.9h1.1v1.1h-1.1zM114 518.2h1.1v1.1h-1.1zM111.2 512.2h1.1v1.1h-1.1zM106.6 519.5h1.1v1.1h-1.1zM108.9 515.2h1.1v1.1h-1.1zM116.8 517.6h1.1v1.1h-1.1zM106.3 513.1h1.1v1.1h-1.1zM108.4 504.8h1.1v1.1h-1.1zM108 516.6h1.1v1.1h-1.1zM112.3 512.4h1.1v1.1h-1.1zM111.7 507.4h1.1v1.1h-1.1zM108.2 512.6h1.1v1.1h-1.1zM114 511.8h1.1v1.1h-1.1zM110.4 515.3h1.1v1.1h-1.1zM116.6 506.9h1.1v1.1h-1.1zM113 514.5h1.1v1.1h-1.1zM110.8 514.8h1.1v1.1h-1.1zM103.6 513.7h1.1v1.1h-1.1zM110.2 507h1.1v1.1h-1.1zM114.2 512.9h1.1v1.1h-1.1zM109.8 517.5h1.1v1.1h-1.1zM107.6 509.7h1.1v1.1h-1.1zM114.1 518.1h1.1v1.1h-1.1zM118.6 511.1h1.1v1.1h-1.1zM105.6 505.7h1.1v1.1h-1.1zM106.6 514.1h1.1v1.1h-1.1zM110.2 510h1.1v1.1h-1.1zM107.3 509.8h1.1v1.1h-1.1zM109.7 519.8h1.1v1.1h-1.1zM113.4 520.7h1.1v1.1h-1.1zM114.1 517.5h1.1v1.1h-1.1zM115.4 515.9h1.1v1.1h-1.1zM116.8 519.5h1.1v1.1h-1.1zM117.8 514.7h1.1v1.1h-1.1zM110 516.3h1.1v1.1h-1.1zM109.6 509.8h1.1v1.1h-1.1zM112.7 507.6h1.1v1.1h-1.1zM110.4 520.9h1.1v1.1h-1.1zM111.5 517.8h1.1v1.1h-1.1zM113.4 515.5h1.1v1.1h-1.1zM111.4 516.7h1.1v1.1h-1.1zM107.4 516.6h1.1v1.1h-1.1zM107 509.5h1.1v1.1h-1.1zM108.8 506.5h1.1v1.1h-1.1zM103.7 515.5h1.1v1.1h-1.1zM112.9 517h1.1v1.1h-1.1zM119.3 514.4h1.1v1.1h-1.1zM113.8 509.6h1.1v1.1h-1.1zM113.7 507.5h1.1v1.1h-1.1zM118.4 508.4h1.1v1.1h-1.1zM109.5 517.5h1.1v1.1h-1.1zM102.8 520.6h1.1v1.1h-1.1zM107.5 514.6h1.1v1.1h-1.1zM114.7 514.3h1.1v1.1h-1.1zM114.5 510.9h1.1v1.1h-1.1zM113.3 502h1.1v1.1h-1.1zM116.7 510h1.1v1.1h-1.1zM107.8 513.6h1.1v1.1h-1.1zM117.4 509.8h1.1v1.1h-1.1zM110.9 511.6h1.1v1.1h-1.1zM107.5 506.6h1.1v1.1h-1.1zM113.2 517.2h1.1v1.1h-1.1zM108.2 514.7h1.1v1.1h-1.1zM112.7 515.5h1.1v1.1h-1.1zM110.4 513.7h1.1v1.1h-1.1zM112.1 507.9h1.1v1.1h-1.1zM110.5 517.7h1.1v1.1h-1.1zM108.9 520.4h1.1v1.1h-1.1zM110.1 507.7h1.1v1.1h-1.1zM109.9 506.4h1.1v1.1h-1.1zM113.3 505.1h1.1v1.1h-1.1zM111.1 512.3h1.1v1.1h-1.1zM109.9 515.7h1.1v1.1h-1.1zM112.1 510.6h1.1v1.1h-1.1zM114.1 511.1h1.1v1.1h-1.1zM114.4 520.6h1.1v1.1h-1.1zM112.4 518.4h1.1v1.1h-1.1zM106 516.5h1.1v1.1h-1.1zM105.4 512.6h1.1v1.1h-1.1zM113.6 499.4h1.1v1.1h-1.1zM108.1 509.4h1.1v1.1h-1.1zM107.5 513.6h1.1v1.1h-1.1zM113.4 507.4h1.1v1.1h-1.1zM108.7 503.7h1.1v1.1h-1.1zM108.4 502.5h1.1v1.1h-1.1zM105.4 516h1.1v1.1h-1.1zM114.3 509.2h1.1v1.1h-1.1zM112.3 509.4h1.1v1.1h-1.1zM115 522.7h1.1v1.1h-1.1zM101.8 508.9h1.1v1.1h-1.1zM108.6 511h1.1v1.1h-1.1zM116.9 521.8h1.1v1.1h-1.1zM111 516.9h1.1v1.1h-1.1zM105.1 511.9h1.1v1.1h-1.1zM109.9 512.7h1.1v1.1h-1.1zM112.1 505.3h1.1v1.1h-1.1zM104.5 513.8h1.1v1.1h-1.1zM113.7 516.1h1.1v1.1h-1.1zM111.2 505h1.1v1.1h-1.1zM109.3 505.3h1.1v1.1h-1.1zM118.4 515.4h1.1v1.1h-1.1zM113.7 514.6h1.1v1.1h-1.1zM109.5 519.7h1.1v1.1h-1.1zM114.3 516.9h1.1v1.1h-1.1zM113.2 517.4h1.1v1.1h-1.1zM110 515.8h1.1v1.1h-1.1zM111.3 512.2h1.1v1.1h-1.1zM103.4 521.1h1.1v1.1h-1.1zM109.4 519.8h1.1v1.1h-1.1zM107.2 512.5h1.1v1.1h-1.1zM114.8 513.1h1.1v1.1h-1.1zM112.3 507.1h1.1v1.1h-1.1zM106.7 522.3h1.1v1.1h-1.1zM111.6 513h1.1v1.1h-1.1zM105.8 508h1.1v1.1h-1.1zM107.1 513.2h1.1v1.1h-1.1zM110.6 510.3h1.1v1.1h-1.1zM108.5 514.1h1.1v1.1h-1.1zM115.4 506.1h1.1v1.1h-1.1zM105.7 519.5h1.1v1.1h-1.1zM105.7 511.3h1.1v1.1h-1.1zM111.4 523.1h1.1v1.1h-1.1zM103.4 498.2h1.1v1.1h-1.1zM110.7 519.2h1.1v1.1h-1.1zM111.5 509.2h1.1v1.1h-1.1zM111.7 502.6h1.1v1.1h-1.1zM114.1 521.3h1.1v1.1h-1.1zM110.2 517.8h1.1v1.1h-1.1zM107.1 521.3h1.1v1.1h-1.1zM108.6 509.3h1.1v1.1h-1.1zM108.1 504.2h1.1v1.1h-1.1zM105.6 512.5h1.1v1.1h-1.1zM112.7 510.5h1.1v1.1h-1.1zM105.1 515.3h1.1v1.1h-1.1zM114.8 514.1h1.1v1.1h-1.1zM107 511.9h1.1v1.1h-1.1zM103.8 513.2h1.1v1.1h-1.1zM115.6 519.4h1.1v1.1h-1.1zM110.7 515.8h1.1v1.1h-1.1zM109.1 514.2h1.1v1.1h-1.1zM108.8 514.4h1.1v1.1h-1.1zM109.1 514.5h1.1v1.1h-1.1zM113.6 513.4h1.1v1.1h-1.1zM106.1 516.1h1.1v1.1h-1.1zM110.1 510.9h1.1v1.1h-1.1zM113.1 509.1h1.1v1.1h-1.1zM114.5 516.5h1.1v1.1h-1.1zM108.4 509.8h1.1v1.1h-1.1zM110.5 508.7h1.1v1.1h-1.1zM114.6 501.6h1.1v1.1h-1.1zM111.6 511.7h1.1v1.1h-1.1zM106.9 516.8h1.1v1.1h-1.1zM109.2 515.9h1.1v1.1h-1.1zM109.4 512h1.1v1.1h-1.1zM113 518.6h1.1v1.1h-1.1zM114.7 513.4h1.1v1.1h-1.1zM116.6 511.7h1.1v1.1h-1.1zM105.9 503.6h1.1v1.1h-1.1zM105.6 508.9h1.1v1.1h-1.1zM104.3 515.2h1.1v1.1h-1.1zM111.1 513.3h1.1v1.1h-1.1zM111.9 512.9h1.1v1.1h-1.1zM110.1 511.8h1.1v1.1h-1.1zM111.2 507.5h1.1v1.1h-1.1zM115.8 521.7h1.1v1.1h-1.1zM107.4 518.3h1.1v1.1h-1.1zM104.9 516.7h1.1v1.1h-1.1zM108.2 518.8h1.1v1.1h-1.1zM111.4 518.5h1.1v1.1h-1.1zM113.3 516.3h1.1v1.1h-1.1zM110 521.9h1.1v1.1h-1.1zM112.3 516.1h1.1v1.1h-1.1zM116.4 512.1h1.1v1.1h-1.1zM117.5 519.3h1.1v1.1h-1.1zM111.3 505.8h1.1v1.1h-1.1zM115.6 511.9h1.1v1.1h-1.1zM111.4 514.2h1.1v1.1h-1.1zM114.6 516.9h1.1v1.1h-1.1zM104.2 510h1.1v1.1h-1.1zM112.3 514.4h1.1v1.1h-1.1zM114 516.5h1.1v1.1h-1.1zM117.1 509.7h1.1v1.1h-1.1zM115.9 515.5h1.1v1.1h-1.1zM112.1 517.1h1.1v1.1h-1.1zM109.8 517.3h1.1v1.1h-1.1zM110.2 517.3h1.1v1.1h-1.1zM108.2 519.7h1.1v1.1h-1.1zM105.3 510h1.1v1.1h-1.1zM110.8 514.8h1.1v1.1h-1.1zM108 511.4h1.1v1.1h-1.1zM112 519.1h1.1v1.1h-1.1zM115.8 511h1.1v1.1h-1.1zM110.8 511.9h1.1v1.1h-1.1zM105.3 511.1h1.1v1.1h-1.1zM115.2 506.4h1.1v1.1h-1.1zM121.7 518.7h1.1v1.1h-1.1zM117.5 514.5h1.1v1.1h-1.1zM102.4 515.8h1.1v1.1h-1.1zM117 510.5h1.1v1.1h-1.1zM115.8 517.5h1.1v1.1h-1.1zM113.9 517.5h1.1v1.1h-1.1zM113.2 517h1.1v1.1h-1.1zM115.5 515.8h1.1v1.1h-1.1zM113.4 515.8h1.1v1.1h-1.1zM111.5 508.9h1.1v1.1h-1.1zM104.3 508.1h1.1v1.1h-1.1zM106.4 505.7h1.1v1.1h-1.1zM113.6 511.8h1.1v1.1h-1.1zM113.9 511.1h1.1v1.1h-1.1zM112.4 512.4h1.1v1.1h-1.1zM117 520.3h1.1v1.1h-1.1zM112.1 523h1.1v1.1h-1.1zM114.1 518.2h1.1v1.1h-1.1zM106.7 510.3h1.1v1.1h-1.1zM111.7 512.4h1.1v1.1h-1.1zM109.1 502.9h1.1v1.1h-1.1zM108.2 512.9h1.1v1.1h-1.1zM112.2 507.8h1.1v1.1h-1.1zM110.5 523.1h1.1v1.1h-1.1zM111.6 503.1h1.1v1.1h-1.1zM110.3 513.5h1.1v1.1h-1.1zM115.8 514.6h1.1v1.1h-1.1zM116.2 515.3h1.1v1.1h-1.1zM115.4 520.7h1.1v1.1h-1.1zM116.8 514.6h1.1v1.1h-1.1zM106.5 514.6h1.1v1.1h-1.1zM112.8 509.8h1.1v1.1h-1.1zM114.1 512.7h1.1v1.1h-1.1zM114 514.5h1.1v1.1h-1.1zM107.6 519.1h1.1v1.1h-1.1zM118.5 518.4h1.1v1.1h-1.1zM112.1 504.4h1.1v1.1h-1.1zM112.2 513.4h1.1v1.1h-1.1zM108.1 503.3h1.1v1.1h-1.1zM112.7 518.7h1.1v1.1h-1.1zM104 515.4h1.1v1.1h-1.1zM110.9 521.1h1.1v1.1h-1.1zM110.9 508.4h1.1v1.1h-1.1zM110.8 515.8h1.1v1.1h-1.1zM108.3 509.3h1.1v1.1h-1.1zM112 518.2h1.1v1.1h-1.1zM110.2 516.1h1.1v1.1h-1.1zM109.2 511.7h1.1v1.1h-1.1zM111.8 518.7h1.1v1.1h-1.1zM117 512.9h1.1v1.1h-1.1zM114.2 511.6h1.1v1.1h-1.1zM112.6 506h1.1v1.1h-1.1zM103.2 509.5h1.1v1.1h-1.1zM108.4 506.4h1.1v1.1h-1.1zM114.9 511.1h1.1v1.1h-1.1zM111.4 513.9h1.1v1.1h-1.1zM110.3 507.3h1.1v1.1h-1.1zM118.3 503h1.1v1.1h-1.1zM110.9 517.2h1.1v1.1h-1.1zM110.3 513h1.1v1.1h-1.1zM112.2 514.8h1.1v1.1h-1.1zM109.8 519.3h1.1v1.1h-1.1z" fill="#28d428"/>
<path d="M112.8 550.3h1.2v1.2h-1.2zM111 528.7h1.2v1.2h-1.2zM103.1 537.9h1.2v1.2h-1.2zM112.6 530.9h1.2v1.2h-1.2zM108 548.8h1.2v1.2h-1.2zM112.1 536.6h1.2v1.2h-1.2zM110.1 541.7h1.2v1.2h-1.2zM108.7 539.1h1.2v1.2h-1.2zM107.7 542.4h1.2v1.2h-1.2zM117.7 550h1.2v1.2h-1.2zM110 532.4h1.2v1.2h-1.2zM103.9 541.9h1.2v1.2h-1.2zM111.6 537.1h1.2v1.2h-1.2zM107 539.7h1.2v1.2h-1.2zM111.7 545.2h1.2v1.2h-1.2zM107.9 542.7h1.2v1.2h-1.2zM112.2 546h1.2v1.2h-1.2zM103.9 550.7h1.2v1.2h-1.2zM105.2 539.8h1.2v1.2h-1.2zM108.5 538.1h1.2v1.2h-1.2zM107.1 546.1h1.2v1.2h-1.2zM114.1 543.2h1.2v1.2h-1.2zM104.9 537.2h1.2v1.2h-1.2zM110.3 543.5h1.2v1.2h-1.2zM108.1 539.4h1.2v1.2h-1.2zM122.3 541.4h1.2v1.2h-1.2zM107.2 551.1h1.2v1.2h-1.2zM114.4 533.7h1.2v1.2h-1.2zM114.1 542.1h1.2v1.2h-1.2zM107 546h1.2v1.2h-1.2zM107.9 539.2h1.2v1.2h-1.2zM110.7 542.4h1.2v1.2h-1.2zM108.6 542.9h1.2v1.2h-1.2zM110.6 542.3h1.2v1.2h-1.2zM112.3 537.1h1.2v1.2h-1.2zM104.5 540.6h1.2v1.2h-1.2zM116.1 543.1h1.2v1.2h-1.2zM111.6 536.5h1.2v1.2h-1.2zM105.5 533.3h1.2v1.2h-1.2zM106.5 538.7h1.2v1.2h-1.2zM103.7 540.3h1.2v1.2h-1.2zM103.6 545.1h1.2v1.2h-1.2zM110.5 530.2h1.2v1.2h-1.2zM108.1 542.5h1.2v1.2h-1.2zM112.3 545.8h1.2v1.2h-1.2zM109 540.1h1.2v1.2h-1.2zM109.5 544.4h1.2v1.2h-1.2zM107.5 540h1.2v1.2h-1.2zM111.2 538.9h1.2v1.2h-1.2zM105.8 549.4h1.2v1.2h-1.2zM112.8 535.4h1.2v1.2h-1.2zM119.3 536.3h1.2v1.2h-1.2zM106.7 538.8h1.2v1.2h-1.2zM113 550.3h1.2v1.2h-1.2zM116.7 544.5h1.2v1.2h-1.2zM110.9 545.1h1.2v1.2h-1.2zM107.1 536.7h1.2v1.2h-1.2zM112.9 542.3h1.2v1.2h-1.2zM111.6 534.8h1.2v1.2h-1.2zM111.7 532.1h1.2v1.2h-1.2zM114.7 541.1h1.2v1.2h-1.2zM107.7 538.1h1.2v1.2h-1.2zM107.5 549.5h1.2v1.2h-1.2zM97.7 548h1.2v1.2h-1.2zM110.7 542.6h1.2v1.2h-1.2zM106.3 532.9h1.2v1.2h-1.2zM111.6 538.3h1.2v1.2h-1.2zM112.8 547.6h1.2v1.2h-1.2zM110.1 544.4h1.2v1.2h-1.2zM111.4 542.5h1.2v1.2h-1.2zM108.3 542.5h1.2v1.2h-1.2zM112.5 541.5h1.2v1.2h-1.2zM108.6 532h1.2v1.2h-1.2zM105.8 550.7h1.2v1.2h-1.2zM115.1 542.9h1.2v1.2h-1.2zM111.9 540.1h1.2v1.2h-1.2zM113.6 547h1.2v1.2h-1.2zM109.5 543h1.2v1.2h-1.2zM114.8 531.3h1.2v1.2h-1.2zM106.4 537.5h1.2v1.2h-1.2zM105.4 538.3h1.2v1.2h-1.2zM106.8 538.6h1.2v1.2h-1.2zM112.7 533.8h1.2v1.2h-1.2zM111 549.6h1.2v1.2h-1.2zM111.4 533.5h1.2v1.2h-1.2zM107.9 548.3h1.2v1.2h-1.2zM109.4 537.2h1.2v1.2h-1.2zM114.1 536.6h1.2v1.2h-1.2zM105.6 544.8h1.2v1.2h-1.2zM110.7 537h1.2v1.2h-1.2zM112.7 547.9h1.2v1.2h-1.2zM115.4 541.7h1.2v1.2h-1.2zM112.6 544.1h1.2v1.2h-1.2zM104 551.3h1.2v1.2h-1.2zM107.7 537.6h1.2v1.2h-1.2zM106.9 535.1h1.2v1.2h-1.2zM115.5 541.1h1.2v1.2h-1.2zM108 529.7h1.2v1.2h-1.2zM111.3 540.7h1.2v1.2h-1.2zM106 540.4h1.2v1.2h-1.2zM102.5 545.1h1.2v1.2h-1.2zM105.2 544.1h1.2v1.2h-1.2zM105.6 537h1.2v1.2h-1.2zM114.1 544.7h1.2v1.2h-1.2zM113.4 551.4h1.2v1.2h-1.2zM109.3 537.9h1.2v1.2h-1.2zM102.3 534.7h1.2v1.2h-1.2zM113.1 535.8h1.2v1.2h-1.2zM106.7 547h1.2v1.2h-1.2zM99.7 549.7h1.2v1.2h-1.2zM116.3 530h1.2v1.2h-1.2zM112.7 541h1.2v1.2h-1.2zM114.6 539h1.2v1.2h-1.2zM110.1 549.8h1.2v1.2h-1.2zM108 543.6h1.2v1.2h-1.2zM113.4 540.4h1.2v1.2h-1.2zM114.5 544.3h1.2v1.2h-1.2zM114.3 530.5h1.2v1.2h-1.2zM106 542.9h1.2v1.2h-1.2zM115.8 549.9h1.2v1.2h-1.2zM110.7 536.4h1.2v1.2h-1.2zM105.8 529h1.2v1.2h-1.2zM108.4 544.6h1.2v1.2h-1.2zM110.3 531.9h1.2v1.2h-1.2zM110.2 541.4h1.2v1.2h-1.2zM107.3 550.1h1.2v1.2h-1.2zM112.5 547.9h1.2v1.2h-1.2zM111 535h1.2v1.2h-1.2zM115.4 547.9h1.2v1.2h-1.2zM108 532.8h1.2v1.2h-1.2zM114.2 537.6h1.2v1.2h-1.2zM105.5 540.5h1.2v1.2h-1.2zM113 536.4h1.2v1.2h-1.2zM110.8 547.2h1.2v1.2h-1.2zM113.9 531.4h1.2v1.2h-1.2zM113.8 552.1h1.2v1.2h-1.2zM114.7 540.5h1.2v1.2h-1.2zM112.2 531.3h1.2v1.2h-1.2zM108 537.8h1.2v1.2h-1.2zM119.8 541.1h1.2v1.2h-1.2zM106.3 551.5h1.2v1.2h-1.2zM116 530.8h1.2v1.2h-1.2zM109.7 530.6h1.2v1.2h-1.2zM118.8 534.5h1.2v1.2h-1.2zM113 543.3h1.2v1.2h-1.2zM114.4 534.9h1.2v1.2h-1.2zM114.5 539.3h1.2v1.2h-1.2zM112.9 542.5h1.2v1.2h-1.2zM116.7 533.1h1.2v1.2h-1.2zM104.5 545.1h1.2v1.2h-1.2zM121 544.4h1.2v1.2h-1.2zM109.9 545.2h1.2v1.2h-1.2zM105.3 541.6h1.2v1.2h-1.2zM103.2 541.8h1.2v1.2h-1.2zM113.8 551.6h1.2v1.2h-1.2zM108.4 546.8h1.2v1.2h-1.2zM116.5 534.6h1.2v1.2h-1.2zM109.4 529.6h1.2v1.2h-1.2zM106.7 543.8h1.2v1.2h-1.2zM101.7 539.2h1.2v1.2h-1.2zM113.8 550h1.2v1.2h-1.2zM99.6 543.5h1.2v1.2h-1.2zM106.1 544.7h1.2v1.2h-1.2zM110.5 545.4h1.2v1.2h-1.2zM109.3 545.2h1.2v1.2h-1.2zM106.3 535h1.2v1.2h-1.2zM109.9 530.2h1.2v1.2h-1.2zM116 539.5h1.2v1.2h-1.2zM106.3 535.7h1.2v1.2h-1.2zM106.3 541.8h1.2v1.2h-1.2zM109 546.4h1.2v1.2h-1.2zM105.5 540.6h1.2v1.2h-1.2zM104 538.2h1.2v1.2h-1.2zM116.6 540.3h1.2v1.2h-1.2zM114.5 540.7h1.2v1.2h-1.2zM105.8 535.6h1.2v1.2h-1.2zM105.6 543.2h1.2v1.2h-1.2zM117.9 546.3h1.2v1.2h-1.2zM106.3 541.8h1.2v1.2h-1.2zM107.4 548.3h1.2v1.2h-1.2zM104.7 545.8h1.2v1.2h-1.2zM105.2 538.2h1.2v1.2h-1.2zM111.3 541.9h1.2v1.2h-1.2zM110.3 540.7h1.2v1.2h-1.2zM106.8 540.4h1.2v1.2h-1.2zM110.3 535.2h1.2v1.2h-1.2zM113.1 542.2h1.2v1.2h-1.2zM107.3 549.2h1.2v1.2h-1.2zM108.1 529.2h1.2v1.2h-1.2zM116.1 538.7h1.2v1.2h-1.2zM117 543.8h1.2v1.2h-1.2zM106.7 548h1.2v1.2h-1.2zM112.6 546.8h1.2v1.2h-1.2zM110.8 550.8h1.2v1.2h-1.2zM114.7 539h1.2v1.2h-1.2zM104 540.8h1.2v1.2h-1.2zM110.9 534.9h1.2v1.2h-1.2zM109.7 550.4h1.2v1.2h-1.2zM108.5 548.1h1.2v1.2h-1.2zM106.5 535h1.2v1.2h-1.2zM114.7 540h1.2v1.2h-1.2zM111.5 547.5h1.2v1.2h-1.2zM117.7 533.3h1.2v1.2h-1.2zM113.1 542.5h1.2v1.2h-1.2zM111.2 552.3h1.2v1.2h-1.2zM109.5 537.3h1.2v1.2h-1.2zM112.2 535.5h1.2v1.2h-1.2zM112 536.4h1.2v1.2h-1.2zM112.8 539.5h1.2v1.2h-1.2zM107.4 544.4h1.2v1.2h-1.2zM113.9 531h1.2v1.2h-1.2zM104.9 539.4h1.2v1.2h-1.2zM108.9 549.3h1.2v1.2h-1.2zM117.5 544h1.2v1.2h-1.2zM115.4 539h1.2v1.2h-1.2zM104.6 542.9h1.2v1.2h-1.2zM102.8 551.3h1.2v1.2h-1.2zM111.7 548.3h1.2v1.2h-1.2zM107.7 531h1.2v1.2h-1.2zM109.7 544.1h1.2v1.2h-1.2zM109.6 537.9h1.2v1.2h-1.2zM110.9 539.9h1.2v1.2h-1.2zM116.7 532.9h1.2v1.2h-1.2zM100.8 540.5h1.2v1.2h-1.2zM111.8 531.5h1.2v1.2h-1.2zM110.4 543.8h1.2v1.2h-1.2zM112 542.9h1.2v1.2h-1.2zM107.3 532h1.2v1.2h-1.2zM114.8 538.9h1.2v1.2h-1.2zM104.5 550.8h1.2v1.2h-1.2zM121.9 542h1.2v1.2h-1.2zM103.5 547h1.2v1.2h-1.2zM112 548.8h1.2v1.2h-1.2zM110.6 530.6h1.2v1.2h-1.2zM109.8 538.4h1.2v1.2h-1.2zM111.8 539.9h1.2v1.2h-1.2zM113 533.4h1.2v1.2h-1.2zM108.1 537.8h1.2v1.2h-1.2zM112.4 530.3h1.2v1.2h-1.2zM102.6 547.5h1.2v1.2h-1.2zM111 547.2h1.2v1.2h-1.2zM110.8 542.7h1.2v1.2h-1.2zM112.2 543.9h1.2v1.2h-1.2zM105.3 540.2h1.2v1.2h-1.2zM118.6 549.9h1.2v1.2h-1.2zM106.8 535.1h1.2v1.2h-1.2zM109.8 547.7h1.2v1.2h-1.2zM114.6 537.4h1.2v1.2h-1.2zM100.1 540.7h1.2v1.2h-1.2zM103.2 548.5h1.2v1.2h-1.2zM117.1 545.2h1.2v1.2h-1.2zM113.2 544.6h1.2v1.2h-1.2zM118.7 547.9h1.2v1.2h-1.2zM116.9 533.8h1.2v1.2h-1.2zM108.3 541h1.2v1.2h-1.2zM100.7 539.2h1.2v1.2h-1.2zM110.5 540.6h1.2v1.2h-1.2zM121.7 539.8h1.2v1.2h-1.2zM109.7 540.3h1.2v1.2h-1.2zM109 532.1h1.2v1.2h-1.2zM115.5 541.2h1.2v1.2h-1.2zM112.1 541.3h1.2v1.2h-1.2zM107.1 531h1.2v1.2h-1.2zM109.3 544.4h1.2v1.2h-1.2zM110 545.6h1.2v1.2h-1.2zM107.1 539.2h1.2v1.2h-1.2zM111.2 540.4h1.2v1.2h-1.2zM111.3 550h1.2v1.2h-1.2zM108.7 541.9h1.2v1.2h-1.2zM107.7 544.4h1.2v1.2h-1.2zM111.5 536.4h1.2v1.2h-1.2zM106.1 533.5h1.2v1.2h-1.2zM109.3 542h1.2v1.2h-1.2zM108.4 540.3h1.2v1.2h-1.2zM111.1 542.4h1.2v1.2h-1.2zM119.1 543.4h1.2v1.2h-1.2zM113.4 537.9h1.2v1.2h-1.2zM108.1 545.9h1.2v1.2h-1.2zM107.9 536.9h1.2v1.2h-1.2zM103.9 542.9h1.2v1.2h-1.2zM110.1 544.4h1.2v1.2h-1.2zM106.7 533.2h1.2v1.2h-1.2zM115.4 541.2h1.2v1.2h-1.2zM114 533.8h1.2v1.2h-1.2zM111.8 547.2h1.2v1.2h-1.2zM116.4 552.1h1.2v1.2h-1.2zM102.5 534.2h1.2v1.2h-1.2zM108.2 536.1h1.2v1.2h-1.2zM109.6 536h1.2v1.2h-1.2zM104 540.8h1.2v1.2h-1.2zM111.1 536.2h1.2v1.2h-1.2zM110.7 532.9h1.2v1.2h-1.2zM109.1 538.9h1.2v1.2h-1.2zM108.5 540.5h1.2v1.2h-1.2zM104.9 532.6h1.2v1.2h-1.2zM106.8 545.6h1.2v1.2h-1.2zM106.3 535.1h1.2v1.2h-1.2zM119.3 539.4h1.2v1.2h-1.2zM108.8 535.5h1.2v1.2h-1.2zM117 544.3h1.2v1.2h-1.2zM111.7 551h1.2v1.2h-1.2zM105.2 530.4h1.2v1.2h-1.2zM115.4 543.7h1.2v1.2h-1.2zM108.2 546h1.2v1.2h-1.2zM104.9 543.3h1.2v1.2h-1.2zM114.8 546.6h1.2v1.2h-1.2zM108.9 538.5h1.2v1.2h-1.2zM108.6 545.3h1.2v1.2h-1.2zM108.7 540.1h1.2v1.2h-1.2zM115 540.3h1.2v1.2h-1.2zM111.6 540.2h1.2v1.2h-1.2zM106.4 543.3h1.2v1.2h-1.2zM107.7 537.1h1.2v1.2h-1.2zM107.1 535h1.2v1.2h-1.2zM102.6 543.9h1.2v1.2h-1.2zM110.3 535.7h1.2v1.2h-1.2zM108.7 547.2h1.2v1.2h-1.2zM115 543.3h1.2v1.2h-1.2zM115.6 547.4h1.2v1.2h-1.2zM108.5 546h1.2v1.2h-1.2zM111.2 545.8h1.2v1.2h-1.2zM104.9 543.3h1.2v1.2h-1.2zM108.2 538.7h1.2v1.2h-1.2zM110.4 540.7h1.2v1.2h-1.2zM118.1 540.7h1.2v1.2h-1.2zM111.6 547.7h1.2v1.2h-1.2zM117.2 535h1.2v1.2h-1.2zM111.8 532.7h1.2v1.2h-1.2zM112.7 549.9h1.2v1.2h-1.2zM108.2 539.2h1.2v1.2h-1.2zM115.8 543.8h1.2v1.2h-1.2zM114.1 538.1h1.2v1.2h-1.2zM109.1 538.7h1.2v1.2h-1.2zM117.4 531.6h1.2v1.2h-1.2zM108.2 550.8h1.2v1.2h-1.2zM110.2 534.1h1.2v1.2h-1.2zM111.5 539.6h1.2v1.2h-1.2zM110 544.2h1.2v1.2h-1.2zM114 531.6h1.2v1.2h-1.2zM111.4 550.5h1.2v1.2h-1.2zM104.6 540.4h1.2v1.2h-1.2zM105.4 545.2h1.2v1.2h-1.2zM106.7 538.9h1.2v1.2h-1.2zM108.7 543.9h1.2v1.2h-1.2zM104.7 532.2h1.2v1.2h-1.2zM111.3 549.6h1.2v1.2h-1.2zM108.3 543.6h1.2v1.2h-1.2zM111.7 541.7h1.2v1.2h-1.2zM110.4 537.5h1.2v1.2h-1.2zM109.4 548.6h1.2v1.2h-1.2zM112.5 549.1h1.2v1.2h-1.2zM107.3 541.8h1.2v1.2h-1.2zM107.6 532.6h1.2v1.2h-1.2zM114.5 539.2h1.2v1.2h-1.2zM111.6 532h1.2v1.2h-1.2zM109.4 540.2h1.2v1.2h-1.2zM108.8 547.4h1.2v1.2h-1.2zM112.5 541.8h1.2v1.2h-1.2zM111.5 538.2h1.2v1.2h-1.2zM107.3 539.2h1.2v1.2h-1.2zM106 539.9h1.2v1.2h-1.2zM110 548.1h1.2v1.2h-1.2zM108.2 541.8h1.2v1.2h-1.2zM110.4 537.1h1.2v1.2h-1.2zM110.2 529.8h1.2v1.2h-1.2zM115.4 537.3h1.2v1.2h-1.2zM110.4 529.5h1.2v1.2h-1.2zM113 532.9h1.2v1.2h-1.2zM116.5 534.4h1.2v1.2h-1.2zM107.2 545.2h1.2v1.2h-1.2zM103 551.3h1.2v1.2h-1.2zM112.4 531.4h1.2v1.2h-1.2zM108.6 545.4h1.2v1.2h-1.2zM108.8 550.6h1.2v1.2h-1.2zM107.3 542.1h1.2v1.2h-1.2zM115.6 550.4h1.2v1.2h-1.2zM111.5 544.7h1.2v1.2h-1.2zM109 540.6h1.2v1.2h-1.2zM107.9 543.5h1.2v1.2h-1.2zM114.2 534.6h1.2v1.2h-1.2zM105.3 541.3h1.2v1.2h-1.2zM119.3 542.4h1.2v1.2h-1.2zM111.1 540.7h1.2v1.2h-1.2zM103.1 536.5h1.2v1.2h-1.2zM118.4 533.4h1.2v1.2h-1.2zM117.1 540.1h1.2v1.2h-1.2zM113.1 537.5h1.2v1.2h-1.2zM108.5 542.3h1.2v1.2h-1.2zM96.6 544.6h1.2v1.2h-1.2zM109.1 534.1h1.2v1.2h-1.2zM109.2 545.1h1.2v1.2h-1.2zM107.1 543.3h1.2v1.2h-1.2zM104.5 541.6h1.2v1.2h-1.2zM105.4 545.9h1.2v1.2h-1.2zM105.9 544.9h1.2v1.2h-1.2zM101.7 542.1h1.2v1.2h-1.2zM115.3 535.7h1.2v1.2h-1.2zM110.7 535.5h1.2v1.2h-1.2zM112.6 545.8h1.2v1.2h-1.2zM115.5 549.5h1.2v1.2h-1.2zM116.2 536.3h1.2v1.2h-1.2zM111 544.4h1.2v1.2h-1.2zM111.3 532.6h1.2v1.2h-1.2zM118.5 539.8h1.2v1.2h-1.2zM120.4 534.3h1.2v1.2h-1.2zM112.8 546.1h1.2v1.2h-1.2zM104.1 538.9h1.2v1.2h-1.2zM112.6 545.2h1.2v1.2h-1.2zM99.9 543.3h1.2v1.2h-1.2zM117.5 531.1h1.2v1.2h-1.2zM112.2 546.9h1.2v1.2h-1.2zM106.2 530.8h1.2v1.2h-1.2zM111.6 538.1h1.2v1.2h-1.2zM110 539.7h1.2v1.2h-1.2zM109.9 543h1.2v1.2h-1.2zM108.1 540.8h1.2v1.2h-1.2zM108 535.4h1.2v1.2h-1.2zM112 535.7h1.2v1.2h-1.2zM112.8 540.8h1.2v1.2h-1.2zM115.2 544.8h1.2v1.2h-1.2zM101.6 540.8h1.2v1.2h-1.2zM113.4 541.7h1.2v1.2h-1.2zM110.6 547.9h1.2v1.2h-1.2zM113.4 532.3h1.2v1.2h-1.2zM110.9 547.4h1.2v1.2h-1.2zM111.1 532.8h1.2v1.2h-1.2zM113.9 544.9h1.2v1.2h-1.2zM115.5 542.1h1.2v1.2h-1.2zM111 546.5h1.2v1.2h-1.2zM105.6 552h1.2v1.2h-1.2zM112.2 542.4h1.2v1.2h-1.2zM113.8 546.1h1.2v1.2h-1.2zM100.7 547h1.2v1.2h-1.2zM110 535.9h1.2v1.2h-1.2zM114.4 547h1.2v1.2h-1.2zM112.1 537h1.2v1.2h-1.2zM110.9 534.8h1.2v1.2h-1.2zM121.6 536.7h1.2v1.2h-1.2zM114.3 551.5h1.2v1.2h-1.2zM106.7 537.5h1.2v1.2h-1.2zM100.6 539.4h1.2v1.2h-1.2zM104.6 542h1.2v1.2h-1.2zM109.5 541h1.2v1.2h-1.2zM110.6 537.9h1.2v1.2h-1.2zM110.9 540.5h1.2v1.2h-1.2zM107.3 538.9h1.2v1.2h-1.2zM107.9 532.6h1.2v1.2h-1.2zM110.3 529h1.2v1.2h-1.2zM112.8 540.8h1.2v1.2h-1.2zM111.2 548.4h1.2v1.2h-1.2zM114.7 538.1h1.2v1.2h-1.2zM112 548.6h1.2v1.2h-1.2zM109.8 543.4h1.2v1.2h-1.2zM112.3 534.3h1.2v1.2h-1.2zM111.7 538.5h1.2v1.2h-1.2zM109.3 543.8h1.2v1.2h-1.2zM113.3 535.2h1.2v1.2h-1.2zM109.3 539.7h1.2v1.2h-1.2zM106.3 543.4h1.2v1.2h-1.2zM109.5 536.4h1.2v1.2h-1.2zM114.6 540.4h1.2v1.2h-1.2zM105.3 540.4h1.2v1.2h-1.2zM109.6 542.9h1.2v1.2h-1.2zM120.4 544.5h1.2v1.2h-1.2zM116.8 539.9h1.2v1.2h-1.2zM112.5 544.2h1.2v1.2h-1.2zM110 542.5h1.2v1.2h-1.2zM108.5 545.4h1.2v1.2h-1.2zM106.5 552h1.2v1.2h-1.2zM94.1 532h1.2v1.2h-1.2zM109.9 543.3h1.2v1.2h-1.2zM111.1 530.5h1.2v1.2h-1.2zM112.3 535.3h1.2v1.2h-1.2zM111.3 538.3h1.2v1.2h-1.2zM109.2 531.2h1.2v1.2h-1.2zM104.7 537.4h1.2v1.2h-1.2zM105.7 542.5h1.2v1.2h-1.2zM104.3 542.4h1.2v1.2h-1.2zM112.9 536.2h1.2v1.2h-1.2zM106.2 538.7h1.2v1.2h-1.2zM113.9 549.9h1.2v1.2h-1.2zM119.9 541.5h1.2v1.2h-1.2zM113.2 542.2h1.2v1.2h-1.2zM110.4 534.1h1.2v1.2h-1.2zM108.9 548.2h1.2v1.2h-1.2zM116.5 537.1h1.2v1.2h-1.2zM110.6 543.9h1.2v1.2h-1.2zM109.7 529.3h1.2v1.2h-1.2zM111.8 534.7h1.2v1.2h-1.2zM109.2 536.9h1.2v1.2h-1.2zM103.6 537.7h1.2v1.2h-1.2zM107.5 546h1.2v1.2h-1.2zM117.3 536.3h1.2v1.2h-1.2zM112.9 539.6h1.2v1.2h-1.2zM101.7 548.5h1.2v1.2h-1.2zM118.1 535.7h1.2v1.2h-1.2zM113.2 537.6h1.2v1.2h-1.2zM110 538h1.2v1.2h-1.2zM109.8 541.3h1.2v1.2h-1.2zM107.7 542.7h1.2v1.2h-1.2zM104.7 546.2h1.2v1.2h-1.2zM106.2 529h1.2v1.2h-1.2zM114.1 538.8h1.2v1.2h-1.2zM108.1 546.9h1.2v1.2h-1.2zM112.3 531.8h1.2v1.2h-1.2zM108.2 536.7h1.2v1.2h-1.2zM109.2 551.8h1.2v1.2h-1.2zM122.4 552h1.2v1.2h-1.2zM112.4 544.5h1.2v1.2h-1.2zM108.1 540.8h1.2v1.2h-1.2zM107.3 539.7h1.2v1.2h-1.2zM106.6 533.7h1.2v1.2h-1.2zM115 533.6h1.2v1.2h-1.2zM113.3 534.5h1.2v1.2h-1.2zM121.4 535h1.2v1.2h-1.2zM111.5 545.2h1.2v1.2h-1.2zM106.1 535.6h1.2v1.2h-1.2zM105.7 544.6h1.2v1.2h-1.2zM111.7 547.5h1.2v1.2h-1.2zM104.1 535h1.2v1.2h-1.2zM109.9 538.1h1.2v1.2h-1.2zM111.8 548.2h1.2v1.2h-1.2zM111 535.8h1.2v1.2h-1.2zM110.3 536.3h1.2v1.2h-1.2zM107.6 553h1.2v1.2h-1.2zM113.4 552.8h1.2v1.2h-1.2zM109.5 540.5h1.2v1.2h-1.2zM104.9 542.5h1.2v1.2h-1.2zM113.6 545.4h1.2v1.2h-1.2zM105.3 541.7h1.2v1.2h-1.2zM114.5 538h1.2v1.2h-1.2zM113.5 537.7h1.2v1.2h-1.2zM110.4 537.2h1.2v1.2h-1.2zM103.9 535.6h1.2v1.2h-1.2zM111.2 539.1h1.2v1.2h-1.2zM110.4 537.2h1.2v1.2h-1.2zM114.3 539.8h1.2v1.2h-1.2zM112.2 537.9h1.2v1.2h-1.2zM116.2 540.3h1.2v1.2h-1.2zM112.3 530.9h1.2v1.2h-1.2zM107.5 543.1h1.2v1.2h-1.2zM104.6 531.5h1.2v1.2h-1.2zM109.9 530.8h1.2v1.2h-1.2zM115.2 543.8h1.2v1.2h-1.2zM109.1 548.8h1.2v1.2h-1.2zM107.4 533.3h1.2v1.2h-1.2zM114.4 541.1h1.2v1.2h-1.2zM109.4 547.6h1.2v1.2h-1.2zM109.8 545.1h1.2v1.2h-1.2zM111.4 548.4h1.2v1.2h-1.2zM112.9 537.9h1.2v1.2h-1.2zM117.1 538.7h1.2v1.2h-1.2zM118.1 532.8h1.2v1.2h-1.2zM112.7 549.6h1.2v1.2h-1.2zM108.7 544h1.2v1.2h-1.2zM109.5 550.3h1.2v1.2h-1.2zM111.9 543.3h1.2v1.2h-1.2zM115.3 531.2h1.2v1.2h-1.2zM113.5 541.8h1.2v1.2h-1.2zM116.2 541.2h1.2v1.2h-1.2zM113.1 540.6h1.2v1.2h-1.2zM106.1 537.7h1.2v1.2h-1.2zM109.7 532.4h1.2v1.2h-1.2zM110.3 537.9h1.2v1.2h-1.2zM118.5 539.4h1.2v1.2h-1.2zM111 541.6h1.2v1.2h-1.2zM113.5 530.6h1.2v1.2h-1.2zM102.8 551.2h1.2v1.2h-1.2zM106.8 535.2h1.2v1.2h-1.2zM115.6 542.9h1.2v1.2h-1.2zM106.9 545.8h1.2v1.2h-1.2zM105.5 551.5h1.2v1.2h-1.2zM109.1 543.1h1.2v1.2h-1.2zM106.3 540.4h1.2v1.2h-1.2zM108.3 542.8h1.2v1.2h-1.2zM109.5 543.9h1.2v1.2h-1.2zM115.6 533.7h1.2v1.2h-1.2zM107.6 549.5h1.2v1.2h-1.2zM112.9 547.4h1.2v1.2h-1.2zM107.5 535.4h1.2v1.2h-1.2zM105.5 539.7h1.2v1.2h-1.2zM105.4 545.6h1.2v1.2h-1.2zM107.5 544.3h1.2v1.2h-1.2zM103.6 546.7h1.2v1.2h-1.2zM113.4 547.1h1.2v1.2h-1.2zM114.7 541.3h1.2v1.2h-1.2zM117.6 538.7h1.2v1.2h-1.2zM111.2 551.6h1.2v1.2h-1.2zM108.5 541h1.2v1.2h-1.2zM111.6 542.2h1.2v1.2h-1.2zM109.5 547.5h1.2v1.2h-1.2zM120 538.5h1.2v1.2h-1.2zM104 538h1.2v1.2h-1.2zM104.4 532.8h1.2v1.2h-1.2zM105.9 547.8h1.2v1.2h-1.2zM111.2 545.6h1.2v1.2h-1.2zM110 547.6h1.2v1.2h-1.2zM108.7 549.4h1.2v1.2h-1.2zM114.4 542.4h1.2v1.2h-1.2zM104 533.9h1.2v1.2h-1.2zM111.6 534.3h1.2v1.2h-1.2zM109.8 540h1.2v1.2h-1.2zM116.6 536.6h1.2v1.2h-1.2zM111.1 538h1.2v1.2h-1.2zM107.2 543.8h1.2v1.2h-1.2zM114.8 531.8h1.2v1.2h-1.2zM111.2 544.3h1.2v1.2h-1.2zM105.9 538.4h1.2v1.2h-1.2zM111.9 540.4h1.2v1.2h-1.2zM116.6 535.3h1.2v1.2h-1.2zM109.4 544.4h1.2v1.2h-1.2zM110.2 539.4h1.2v1.2h-1.2zM110 543.6h1.2v1.2h-1.2zM113.8 534.2h1.2v1.2h-1.2zM106.5 533.7h1.2v1.2h-1.2zM112.4 529.1h1.2v1.2h-1.2zM121.3 537.5h1.2v1.2h-1.2zM110.5 544.2h1.2v1.2h-1.2zM109.7 539.4h1.2v1.2h-1.2zM111.6 536.2h1.2v1.2h-1.2zM109 540.6h1.2v1.2h-1.2zM102.4 545h1.2v1.2h-1.2zM111.4 544.6h1.2v1.2h-1.2zM107.9 545.8h1.2v1.2h-1.2zM108.5 546h1.2v1.2h-1.2zM116.4 545h1.2v1.2h-1.2zM104.2 541.5h1.2v1.2h-1.2zM111.4 532.8h1.2v1.2h-1.2zM103.8 549.5h1.2v1.2h-1.2zM106.1 543.6h1.2v1.2h-1.2zM109.1 540.1h1.2v1.2h-1.2zM108.6 541.1h1.2v1.2h-1.2zM117.6 535.4h1.2v1.2h-1.2zM112.8 544.1h1.2v1.2h-1.2zM107.6 534h1.2v1.2h-1.2zM106.6 544.7h1.2v1.2h-1.2zM111.2 547.6h1.2v1.2h-1.2zM112.1 541.8h1.2v1.2h-1.2zM110.6 542.5h1.2v1.2h-1.2zM110.7 545.3h1.2v1.2h-1.2zM106.7 547.9h1.2v1.2h-1.2zM117.7 540.4h1.2v1.2h-1.2zM113 533.5h1.2v1.2h-1.2zM111 531.8h1.2v1.2h-1.2zM114.9 541.3h1.2v1.2h-1.2zM115.3 548.2h1.2v1.2h-1.2zM107.3 546.2h1.2v1.2h-1.2zM110.1 544.5h1.2v1.2h-1.2zM107.7 545.1h1.2v1.2h-1.2zM113.2 550.3h1.2v1.2h-1.2zM109.9 541.4h1.2v1.2h-1.2zM112.7 540h1.2v1.2h-1.2zM103 537.8h1.2v1.2h-1.2zM113.6 541.2h1.2v1.2h-1.2zM112.4 531.3h1.2v1.2h-1.2zM113.1 544.5h1.2v1.2h-1.2zM117.7 546.3h1.2v1.2h-1.2zM107.8 536.3h1.2v1.2h-1.2zM105.5 537.9h1.2v1.2h-1.2zM110.1 549h1.2v1.2h-1.2zM117.8 541.5h1.2v1.2h-1.2zM113.2 540h1.2v1.2h-1.2zM104.8 544.4h1.2v1.2h-1.2zM107.3 530.7h1.2v1.2h-1.2zM106.8 550.5h1.2v1.2h-1.2zM105.4 549.7h1.2v1.2h-1.2zM104.5 540.6h1.2v1.2h-1.2zM112.8 538.5h1.2v1.2h-1.2zM106.3 541.1h1.2v1.2h-1.2zM117.9 545.2h1.2v1.2h-1.2zM111.4 544.7h1.2v1.2h-1.2zM115.8 549.5h1.2v1.2h-1.2zM109.3 535.4h1.2v1.2h-1.2zM106.2 541.4h1.2v1.2h-1.2zM109.2 541.1h1.2v1.2h-1.2zM107.5 550.1h1.2v1.2h-1.2zM106.7 536h1.2v1.2h-1.2zM105.4 534.1h1.2v1.2h-1.2zM103.3 535.8h1.2v1.2h-1.2zM109.5 545.5h1.2v1.2h-1.2zM102.7 543.8h1.2v1.2h-1.2zM110 541h1.2v1.2h-1.2zM101 544.1h1.2v1.2h-1.2zM113.5 548.3h1.2v1.2h-1.2zM109.2 548.9h1.2v1.2h-1.2zM110.8 535.2h1.2v1.2h-1.2zM112.8 547.3h1.2v1.2h-1.2zM111.6 540.8h1.2v1.2h-1.2zM109.4 545.3h1.2v1.2h-1.2zM102.5 543h1.2v1.2h-1.2zM104.8 537.7h1.2v1.2h-1.2zM111.4 548.9h1.2v1.2h-1.2zM110.5 535.2h1.2v1.2h-1.2zM122.6 543.1h1.2v1.2h-1.2zM98.6 540.4h1.2v1.2h-1.2zM107.3 537.2h1.2v1.2h-1.2zM111 532.5h1.2v1.2h-1.2zM114.4 541.6h1.2v1.2h-1.2zM108.7 542.3h1.2v1.2h-1.2zM105.4 542.3h1.2v1.2h-1.2zM112.1 548.6h1.2v1.2h-1.2zM119.4 537.1h1.2v1.2h-1.2zM112.2 536h1.2v1.2h-1.2zM111.1 548.4h1.2v1.2h-1.2zM113.4 539.2h1.2v1.2h-1.2zM118.5 546.7h1.2v1.2h-1.2zM116 541.6h1.2v1.2h-1.2zM116.5 540.1h1.2v1.2h-1.2zM114.4 541.3h1.2v1.2h-1.2zM110.5 531.2h1.2v1.2h-1.2zM114.9 544.7h1.2v1.2h-1.2zM107.8 541.5h1.2v1.2h-1.2zM113.2 545.1h1.2v1.2h-1.2zM101.3 550.5h1.2v1.2h-1.2zM115.6 541.9h1.2v1.2h-1.2zM111.4 542.9h1.2v1.2h-1.2zM108.7 550.7h1.2v1.2h-1.2zM107.5 537.7h1.2v1.2h-1.2zM109.5 531h1.2v1.2h-1.2zM115.2 533.5h1.2v1.2h-1.2zM117.3 547.1h1.2v1.2h-1.2zM119.5 537.3h1.2v1.2h-1.2zM109.2 538.2h1.2v1.2h-1.2zM114.1 535.4h1.2v1.2h-1.2zM110.7 542.4h1.2v1.2h-1.2zM119.4 535.7h1.2v1.2h-1.2zM114.9 544.7h1.2v1.2h-1.2zM114.5 534h1.2v1.2h-1.2zM94.9 538h1.2v1.2h-1.2zM114.9 542.1h1.2v1.2h-1.2zM107.4 538.4h1.2v1.2h-1.2zM117.4 530.4h1.2v1.2h-1.2zM99.3 542.8h1.2v1.2h-1.2zM112 550.7h1.2v1.2h-1.2zM113.8 540.8h1.2v1.2h-1.2zM108 529.3h1.2v1.2h-1.2zM112.9 537.1h1.2v1.2h-1.2zM108.8 543.1h1.2v1.2h-1.2zM101.4 540.5h1.2v1.2h-1.2zM110 548.3h1.2v1.2h-1.2zM106.1 530.9h1.2v1.2h-1.2zM114.5 538.8h1.2v1.2h-1.2zM104.5 547.9h1.2v1.2h-1.2zM112.8 530h1.2v1.2h-1.2zM111 532.3h1.2v1.2h-1.2zM106.8 550h1.2v1.2h-1.2zM117.3 545.5h1.2v1.2h-1.2zM103.7 546.4h1.2v1.2h-1.2zM106.8 537.8h1.2v1.2h-1.2zM108.3 548h1.2v1.2h-1.2zM112.9 544.8h1.2v1.2h-1.2zM108.5 537.7h1.2v1.2h-1.2zM115.4 537.1h1.2v1.2h-1.2zM109.3 544.7h1.2v1.2h-1.2zM109.7 547.4h1.2v1.2h-1.2zM113.1 545.2h1.2v1.2h-1.2zM121 537.5h1.2v1.2h-1.2zM120.1 532.7h1.2v1.2h-1.2zM107.5 535.9h1.2v1.2h-1.2zM113.8 549.2h1.2v1.2h-1.2zM121.1 537.6h1.2v1.2h-1.2zM115.4 539.8h1.2v1.2h-1.2zM114.5 535h1.2v1.2h-1.2zM113.5 536.7h1.2v1.2h-1.2zM112.7 534.8h1.2v1.2h-1.2zM112.4 552.9h1.2v1.2h-1.2zM112.2 532.1h1.2v1.2h-1.2zM107 541.9h1.2v1.2h-1.2zM114.2 533h1.2v1.2h-1.2zM106.4 530.4h1.2v1.2h-1.2zM118.6 542.9h1.2v1.2h-1.2zM112 538.2h1.2v1.2h-1.2zM119.3 544.8h1.2v1.2h-1.2zM110.1 549h1.2v1.2h-1.2zM113.2 539.2h1.2v1.2h-1.2zM108.9 541.1h1.2v1.2h-1.2zM116.9 531.7h1.2v1.2h-1.2zM103 545.5h1.2v1.2h-1.2zM115.4 550.6h1.2v1.2h-1.2zM113.2 531.2h1.2v1.2h-1.2zM114.3 542.1h1.2v1.2h-1.2zM105.9 530.5h1.2v1.2h-1.2zM103.5 541.5h1.2v1.2h-1.2zM104.7 543.4h1.2v1.2h-1.2zM109.8 545.3h1.2v1.2h-1.2zM114.5 535h1.2v1.2h-1.2zM108.8 545.9h1.2v1.2h-1.2zM107.6 547.7h1.2v1.2h-1.2zM113.3 546.9h1.2v1.2h-1.2zM107.8 546.2h1.2v1.2h-1.2zM109.6 542.5h1.2v1.2h-1.2zM113.4 537.3h1.2v1.2h-1.2zM107.4 545.1h1.2v1.2h-1.2zM104 539.1h1.2v1.2h-1.2zM113.6 544.5h1.2v1.2h-1.2zM104.1 543.7h1.2v1.2h-1.2zM105 548.2h1.2v1.2h-1.2zM112.3 536.8h1.2v1.2h-1.2zM108.4 540.5h1.2v1.2h-1.2zM107.9 548.7h1.2v1.2h-1.2zM111.9 537.3h1.2v1.2h-1.2zM112.6 531.9h1.2v1.2h-1.2zM111.3 538.8h1.2v1.2h-1.2zM107.9 540.6h1.2v1.2h-1.2zM111.6 531.3h1.2v1.2h-1.2zM114.1 537.1h1.2v1.2h-1.2zM112.2 552h1.2v1.2h-1.2zM105.7 552h1.2v1.2h-1.2zM106.8 547.9h1.2v1.2h-1.2zM108 549.3h1.2v1.2h-1.2zM114.6 543.2h1.2v1.2h-1.2zM106.8 547.9h1.2v1.2h-1.2zM112.2 533.8h1.2v1.2h-1.2zM113 539.9h1.2v1.2h-1.2zM110 534.5h1.2v1.2h-1.2zM111.5 546.7h1.2v1.2h-1.2zM106.8 546.3h1.2v1.2h-1.2zM102.4 541.7h1.2v1.2h-1.2zM111.7 534.7h1.2v1.2h-1.2zM111.2 532.3h1.2v1.2h-1.2zM118.9 543.6h1.2v1.2h-1.2zM115.4 534.8h1.2v1.2h-1.2zM100.4 540.4h1.2v1.2h-1.2zM116.5 539.9h1.2v1.2h-1.2zM115.7 543.7h1.2v1.2h-1.2zM112 548h1.2v1.2h-1.2zM107.9 538.3h1.2v1.2h-1.2zM115.4 544h1.2v1.2h-1.2zM108.1 533.8h1.2v1.2h-1.2zM114.6 540h1.2v1.2h-1.2zM104.8 543.7h1.2v1.2h-1.2zM106.4 546h1.2v1.2h-1.2zM108.4 540.6h1.2v1.2h-1.2zM110.2 550.5h1.2v1.2h-1.2zM112 540h1.2v1.2h-1.2zM107.7 547.7h1.2v1.2h-1.2zM107.5 543.7h1.2v1.2h-1.2zM112.4 545.9h1.2v1.2h-1.2zM114 542.9h1.2v1.2h-1.2zM119.2 546.2h1.2v1.2h-1.2zM107.2 535h1.2v1.2h-1.2zM107.5 549.8h1.2v1.2h-1.2zM105.7 551.4h1.2v1.2h-1.2zM112.4 537.1h1.2v1.2h-1.2zM106.2 540.3h1.2v1.2h-1.2zM113.9 540.5h1.2v1.2h-1.2zM113.7 542.1h1.2v1.2h-1.2zM116.5 537.8h1.2v1.2h-1.2zM110 533.5h1.2v1.2h-1.2zM109.1 534.4h1.2v1.2h-1.2zM103.9 539.5h1.2v1.2h-1.2zM105 531.7h1.2v1.2h-1.2zM112.1 544.7h1.2v1.2h-1.2zM111.9 539.8h1.2v1.2h-1.2zM107.2 542.2h1.2v1.2h-1.2zM106.7 539.5h1.2v1.2h-1.2zM112.3 539.3h1.2v1.2h-1.2zM103.6 547.6h1.2v1.2h-1.2zM108.1 537.9h1.2v1.2h-1.2zM108.1 540.6h1.2v1.2h-1.2zM109.8 543.4h1.2v1.2h-1.2zM101.3 540.2h1.2v1.2h-1.2zM106.7 542.4h1.2v1.2h-1.2zM106.2 541.4h1.2v1.2h-1.2zM111.7 540.7h1.2v1.2h-1.2zM111.5 545.3h1.2v1.2h-1.2zM105.9 540.7h1.2v1.2h-1.2zM115.1 547.2h1.2v1.2h-1.2zM114.8 535.5h1.2v1.2h-1.2zM107.6 547.5h1.2v1.2h-1.2zM110.5 542.9h1.2v1.2h-1.2zM109 547h1.2v1.2h-1.2zM111.3 534.4h1.2v1.2h-1.2zM112.1 538.7h1.2v1.2h-1.2zM109.4 544.7h1.2v1.2h-1.2zM111.2 537.2h1.2v1.2h-1.2zM105.5 538h1.2v1.2h-1.2zM109.9 533.1h1.2v1.2h-1.2zM107.8 541.4h1.2v1.2h-1.2zM105.2 538.8h1.2v1.2h-1.2zM111.6 542.1h1.2v1.2h-1.2zM103.2 541.2h1.2v1.2h-1.2zM106.3 548.2h1.2v1.2h-1.2zM110.1 551.5h1.2v1.2h-1.2zM112.1 533.3h1.2v1.2h-1.2zM114.6 537.8h1.2v1.2h-1.2zM110 541.6h1.2v1.2h-1.2zM104.9 548.7h1.2v1.2h-1.2zM111.2 534.2h1.2v1.2h-1.2zM104.6 544h1.2v1.2h-1.2zM115.8 543.7h1.2v1.2h-1.2zM111.9 538.2h1.2v1.2h-1.2zM115.3 544.6h1.2v1.2h-1.2zM107.1 536.9h1.2v1.2h-1.2zM101.2 548.6h1.2v1.2h-1.2zM123.5 540.2h1.2v1.2h-1.2zM112.4 546h1.2v1.2h-1.2zM106.1 535.5h1.2v1.2h-1.2zM117.5 547h1.2v1.2h-1.2zM113.8 540.3h1.2v1.2h-1.2zM110.3 542h1.2v1.2h-1.2zM112.4 537h1.2v1.2h-1.2zM115 552.5h1.2v1.2h-1.2zM108.2 534.7h1.2v1.2h-1.2zM106.4 549.9h1.2v1.2h-1.2zM107.6 536h1.2v1.2h-1.2zM115.2 539.9h1.2v1.2h-1.2zM110.3 545.7h1.2v1.2h-1.2zM115.4 542.6h1.2v1.2h-1.2zM117.2 536.6h1.2v1.2h-1.2zM108.3 545.5h1.2v1.2h-1.2zM113.3 529.6h1.2v1.2h-1.2zM109.2 545.6h1.2v1.2h-1.2zM109.8 552.9h1.2v1.2h-1.2zM103.7 542.4h1.2v1.2h-1.2zM106.9 530.5h1.2v1.2h-1.2zM109.5 540.6h1.2v1.2h-1.2zM108.7 536.9h1.2v1.2h-1.2zM114.2 534.2h1.2v1.2h-1.2zM107.8 531.8h1.2v1.2h-1.2zM115.5 531.4h1.2v1.2h-1.2zM118 535h1.2v1.2h-1.2zM110.3 551.8h1.2v1.2h-1.2zM105.9 549.7h1.2v1.2h-1.2zM104.9 538h1.2v1.2h-1.2zM112.9 543.3h1.2v1.2h-1.2zM112 543.1h1.2v1.2h-1.2zM117.3 530.5h1.2v1.2h-1.2z" fill="#1c2cc8"/>
<path d="M113.9 543h1.2v1.2h-1.2zM112.1 535.9h1.2v1.2h-1.2zM121.3 545.2h1.2v1.2h-1.2zM116.7 539.4h1.2v1.2h-1.2zM115.1 535h1.2v1.2h-1.2zM113.4 534.6h1.2v1.2h-1.2zM112.5 539.7h1.2v1.2h-1.2zM116.5 534.8h1.2v1.2h-1.2zM115.8 533h1.2v1.2h-1.2zM116.4 537.6h1.2v1.2h-1.2zM115.3 539.9h1.2v1.2h-1.2zM118.6 540h1.2v1.2h-1.2zM114 539.8h1.2v1.2h-1.2zM116.4 541.5h1.2v1.2h-1.2zM118 535.3h1.2v1.2h-1.2zM112.7 541.9h1.2v1.2h-1.2zM112.8 541.1h1.2v1.2h-1.2zM121.9 544.7h1.2v1.2h-1.2zM112 535.3h1.2v1.2h-1.2zM116.4 537.8h1.2v1.2h-1.2zM117.2 540.2h1.2v1.2h-1.2zM116.3 541.6h1.2v1.2h-1.2zM111.8 544.3h1.2v1.2h-1.2zM112.2 535.1h1.2v1.2h-1.2zM109.8 539.1h1.2v1.2h-1.2zM116.5 537.4h1.2v1.2h-1.2zM112.7 529.2h1.2v1.2h-1.2zM116.8 533.8h1.2v1.2h-1.2zM114.6 540.2h1.2v1.2h-1.2zM115.4 540.9h1.2v1.2h-1.2zM119.4 542.3h1.2v1.2h-1.2zM113.1 538.9h1.2v1.2h-1.2zM115 535.2h1.2v1.2h-1.2zM117.1 537.3h1.2v1.2h-1.2zM116.1 542h1.2v1.2h-1.2zM120.5 536.3h1.2v1.2h-1.2zM117.2 548.9h1.2v1.2h-1.2zM119.3 540.5h1.2v1.2h-1.2zM113.8 539.8h1.2v1.2h-1.2zM114 537.2h1.2v1.2h-1.2zM111.4 537.8h1.2v1.2h-1.2zM110.8 543.6h1.2v1.2h-1.2zM116.7 537.2h1.2v1.2h-1.2zM115.6 539.6h1.2v1.2h-1.2zM114.9 540.4h1.2v1.2h-1.2zM115.1 541.2h1.2v1.2h-1.2zM113.6 539.4h1.2v1.2h-1.2zM119.5 535.4h1.2v1.2h-1.2zM113.6 543.4h1.2v1.2h-1.2zM116.3 539.8h1.2v1.2h-1.2zM116 537.3h1.2v1.2h-1.2zM114.3 541.4h1.2v1.2h-1.2zM115.9 542h1.2v1.2h-1.2zM116.6 549.3h1.2v1.2h-1.2zM115.7 545.5h1.2v1.2h-1.2zM115.9 549.4h1.2v1.2h-1.2zM117.8 535.7h1.2v1.2h-1.2zM119.3 536.6h1.2v1.2h-1.2zM117.9 535.7h1.2v1.2h-1.2zM116.4 539.9h1.2v1.2h-1.2zM118.9 529.3h1.2v1.2h-1.2zM110.9 543.6h1.2v1.2h-1.2zM117.3 536.8h1.2v1.2h-1.2zM115.7 531.2h1.2v1.2h-1.2zM114.6 536.2h1.2v1.2h-1.2zM117.6 540.3h1.2v1.2h-1.2zM115.1 544.4h1.2v1.2h-1.2zM114 542.6h1.2v1.2h-1.2zM115 541.3h1.2v1.2h-1.2zM114.8 545.6h1.2v1.2h-1.2zM114.5 548.4h1.2v1.2h-1.2zM117.4 535.4h1.2v1.2h-1.2zM114.5 545.3h1.2v1.2h-1.2zM119 533.7h1.2v1.2h-1.2zM115.9 542h1.2v1.2h-1.2zM121.2 542.2h1.2v1.2h-1.2zM115 543.4h1.2v1.2h-1.2zM115.7 535.3h1.2v1.2h-1.2zM115.4 538.2h1.2v1.2h-1.2zM115 539.6h1.2v1.2h-1.2zM116.4 535.7h1.2v1.2h-1.2zM117.1 532h1.2v1.2h-1.2zM117.1 541.4h1.2v1.2h-1.2zM116.5 532.4h1.2v1.2h-1.2zM114.3 540.2h1.2v1.2h-1.2zM116.6 542.6h1.2v1.2h-1.2zM111.9 539.3h1.2v1.2h-1.2zM118.1 533.9h1.2v1.2h-1.2zM112.6 537.1h1.2v1.2h-1.2zM114.9 538h1.2v1.2h-1.2zM118.5 540.5h1.2v1.2h-1.2zM111 542.8h1.2v1.2h-1.2zM115.8 543.1h1.2v1.2h-1.2zM115.5 545.6h1.2v1.2h-1.2zM115.9 537h1.2v1.2h-1.2zM112.7 543.5h1.2v1.2h-1.2zM115.2 531.3h1.2v1.2h-1.2zM117.5 545.2h1.2v1.2h-1.2zM110.5 541.9h1.2v1.2h-1.2zM117.1 547.1h1.2v1.2h-1.2zM118.5 535.9h1.2v1.2h-1.2zM116.6 542.6h1.2v1.2h-1.2zM112 545.8h1.2v1.2h-1.2zM116.7 543.1h1.2v1.2h-1.2zM113.4 543.1h1.2v1.2h-1.2zM115.4 537.9h1.2v1.2h-1.2zM115.6 540.9h1.2v1.2h-1.2zM111.9 539.3h1.2v1.2h-1.2zM116.4 531.9h1.2v1.2h-1.2zM119.6 551h1.2v1.2h-1.2zM117.1 539.3h1.2v1.2h-1.2zM113 534.3h1.2v1.2h-1.2zM112.6 543.3h1.2v1.2h-1.2zM113.4 540.2h1.2v1.2h-1.2zM114.5 543.4h1.2v1.2h-1.2zM118.6 543.5h1.2v1.2h-1.2zM117.1 544.2h1.2v1.2h-1.2zM119.6 535.4h1.2v1.2h-1.2zM116.2 536.4h1.2v1.2h-1.2zM115.6 538.3h1.2v1.2h-1.2zM115.8 542.6h1.2v1.2h-1.2zM116.2 544.1h1.2v1.2h-1.2zM114.6 546h1.2v1.2h-1.2zM120.9 539.6h1.2v1.2h-1.2zM115 541.7h1.2v1.2h-1.2zM117.4 532.5h1.2v1.2h-1.2zM116.7 530h1.2v1.2h-1.2zM113 540.4h1.2v1.2h-1.2zM116.3 533.9h1.2v1.2h-1.2zM115.6 545.2h1.2v1.2h-1.2zM111.6 541.9h1.2v1.2h-1.2zM118.6 533.2h1.2v1.2h-1.2zM118.4 541.4h1.2v1.2h-1.2zM114.8 539.5h1.2v1.2h-1.2zM115.4 539.5h1.2v1.2h-1.2zM115 536h1.2v1.2h-1.2zM117.7 547.1h1.2v1.2h-1.2zM115.1 545.8h1.2v1.2h-1.2zM113.7 533.5h1.2v1.2h-1.2zM117 540.5h1.2v1.2h-1.2zM116.6 535h1.2v1.2h-1.2zM114.6 544h1.2v1.2h-1.2zM119.3 540.5h1.2v1.2h-1.2zM114 545.3h1.2v1.2h-1.2zM120.1 535.6h1.2v1.2h-1.2zM109.4 541.7h1.2v1.2h-1.2zM112.4 537.5h1.2v1.2h-1.2zM114.1 537.7h1.2v1.2h-1.2zM113.2 542.4h1.2v1.2h-1.2zM116.2 533.4h1.2v1.2h-1.2zM111.7 548.9h1.2v1.2h-1.2zM116.9 540.3h1.2v1.2h-1.2zM111.5 549.2h1.2v1.2h-1.2zM113 539.9h1.2v1.2h-1.2zM116.3 536.1h1.2v1.2h-1.2zM115.8 537.3h1.2v1.2h-1.2zM110.6 533.1h1.2v1.2h-1.2zM114 537h1.2v1.2h-1.2zM116.5 546.9h1.2v1.2h-1.2zM114.9 549.3h1.2v1.2h-1.2zM114.5 539.9h1.2v1.2h-1.2zM115 531.7h1.2v1.2h-1.2zM115.3 538.4h1.2v1.2h-1.2zM113.5 542.8h1.2v1.2h-1.2zM116.5 538h1.2v1.2h-1.2zM113.4 540.8h1.2v1.2h-1.2zM113.6 535.5h1.2v1.2h-1.2zM114.3 543.7h1.2v1.2h-1.2zM114.8 538.6h1.2v1.2h-1.2zM114.7 542.1h1.2v1.2h-1.2zM115.1 543.2h1.2v1.2h-1.2zM115.1 543.2h1.2v1.2h-1.2zM114.8 536h1.2v1.2h-1.2zM116.5 538.5h1.2v1.2h-1.2zM114.4 546h1.2v1.2h-1.2zM114.3 535.8h1.2v1.2h-1.2zM114.7 546h1.2v1.2h-1.2zM112.3 544.7h1.2v1.2h-1.2zM116.7 537.6h1.2v1.2h-1.2zM114.7 536.1h1.2v1.2h-1.2zM110.6 535.2h1.2v1.2h-1.2zM112.1 532.1h1.2v1.2h-1.2zM114.4 542.1h1.2v1.2h-1.2zM113.2 537.9h1.2v1.2h-1.2zM113.6 538.5h1.2v1.2h-1.2zM116.4 545h1.2v1.2h-1.2zM116.9 541.1h1.2v1.2h-1.2zM118.7 542.7h1.2v1.2h-1.2zM116.6 542h1.2v1.2h-1.2zM117.4 534.7h1.2v1.2h-1.2zM113.3 539.8h1.2v1.2h-1.2zM111.2 538.2h1.2v1.2h-1.2zM114.6 540.9h1.2v1.2h-1.2zM117.1 545.4h1.2v1.2h-1.2zM109.8 540.4h1.2v1.2h-1.2zM116.2 546h1.2v1.2h-1.2zM113.9 541.3h1.2v1.2h-1.2zM115.1 535.1h1.2v1.2h-1.2zM116 543.8h1.2v1.2h-1.2zM114.6 539.9h1.2v1.2h-1.2zM118 538.6h1.2v1.2h-1.2zM114.7 540.8h1.2v1.2h-1.2zM116.5 541.3h1.2v1.2h-1.2zM118.3 541.5h1.2v1.2h-1.2zM112.5 532h1.2v1.2h-1.2zM115.2 547.1h1.2v1.2h-1.2zM115.5 537.4h1.2v1.2h-1.2zM116 541.9h1.2v1.2h-1.2zM118.4 533.6h1.2v1.2h-1.2zM117.2 540.3h1.2v1.2h-1.2zM117.3 544.4h1.2v1.2h-1.2zM110.1 543.6h1.2v1.2h-1.2zM116.6 535.9h1.2v1.2h-1.2zM115.1 544.3h1.2v1.2h-1.2zM111.8 543.5h1.2v1.2h-1.2zM117.3 547.5h1.2v1.2h-1.2zM113.4 536.6h1.2v1.2h-1.2zM117.8 538.1h1.2v1.2h-1.2zM121.1 530.9h1.2v1.2h-1.2zM111.5 541.7h1.2v1.2h-1.2zM116.6 535.7h1.2v1.2h-1.2zM110.1 541.9h1.2v1.2h-1.2zM115.9 535.2h1.2v1.2h-1.2zM115.7 536.8h1.2v1.2h-1.2zM112.9 542.6h1.2v1.2h-1.2zM115.4 539.6h1.2v1.2h-1.2zM112.4 536.2h1.2v1.2h-1.2zM114.7 536.7h1.2v1.2h-1.2zM116.2 539.6h1.2v1.2h-1.2zM114.8 538.7h1.2v1.2h-1.2zM116.3 544.1h1.2v1.2h-1.2zM112.8 543.8h1.2v1.2h-1.2zM117.5 543h1.2v1.2h-1.2zM114 540.4h1.2v1.2h-1.2zM120.4 533.3h1.2v1.2h-1.2zM117.4 538.2h1.2v1.2h-1.2zM119.3 540.1h1.2v1.2h-1.2zM117.4 536.6h1.2v1.2h-1.2zM114.2 546.8h1.2v1.2h-1.2zM112.3 537h1.2v1.2h-1.2zM114.8 533.7h1.2v1.2h-1.2zM116.9 533.8h1.2v1.2h-1.2zM115.5 538.3h1.2v1.2h-1.2zM110.1 540.1h1.2v1.2h-1.2zM111.7 539.6h1.2v1.2h-1.2zM109.8 537h1.2v1.2h-1.2zM117.3 540.7h1.2v1.2h-1.2zM118 546.9h1.2v1.2h-1.2zM117.1 538.5h1.2v1.2h-1.2zM115.1 542.3h1.2v1.2h-1.2zM112.4 534.6h1.2v1.2h-1.2zM115.3 547.4h1.2v1.2h-1.2zM112.7 540.6h1.2v1.2h-1.2zM113.7 542.7h1.2v1.2h-1.2zM116.2 539.3h1.2v1.2h-1.2zM117.5 538.3h1.2v1.2h-1.2zM111.4 549.1h1.2v1.2h-1.2z" fill="#b81c5c"/>
<path d="M102.1 531.1h1.0v1.0h-1.0zM123.9 538.2h1.0v1.0h-1.0zM115.3 535.9h1.0v1.0h-1.0zM94.9 534h1.0v1.0h-1.0zM119.9 541.4h1.0v1.0h-1.0zM115.9 545.8h1.0v1.0h-1.0zM112.3 544.6h1.0v1.0h-1.0zM97.5 533.2h1.0v1.0h-1.0zM107 548.3h1.0v1.0h-1.0zM98.7 546.9h1.0v1.0h-1.0zM122.3 545.9h1.0v1.0h-1.0zM94.2 532h1.0v1.0h-1.0zM121.5 534h1.0v1.0h-1.0zM90.9 542.4h1.0v1.0h-1.0zM117.2 547.9h1.0v1.0h-1.0zM117.9 542.7h1.0v1.0h-1.0zM104.1 550.3h1.0v1.0h-1.0zM100.4 539.4h1.0v1.0h-1.0zM94.3 542.2h1.0v1.0h-1.0zM116.8 540.9h1.0v1.0h-1.0zM104.6 530h1.0v1.0h-1.0zM114.7 530h1.0v1.0h-1.0zM119.6 543.2h1.0v1.0h-1.0zM123.6 544.2h1.0v1.0h-1.0zM119.7 535.5h1.0v1.0h-1.0zM126.7 542.5h1.0v1.0h-1.0zM111.4 537.8h1.0v1.0h-1.0zM122.9 543.5h1.0v1.0h-1.0zM111.6 543.1h1.0v1.0h-1.0zM120.6 551.7h1.0v1.0h-1.0zM97.7 551.1h1.0v1.0h-1.0zM101.1 539h1.0v1.0h-1.0zM118.6 547.7h1.0v1.0h-1.0zM103.3 536.1h1.0v1.0h-1.0zM110.7 540h1.0v1.0h-1.0z" fill="#5060d0"/>
<rect x="49.6" y="463.4" width="141.9" height="90.9" fill="none" stroke="#111" stroke-width="1.4"/>
<rect x="89" y="467.9" width="44.6" height="57.7" fill="none" stroke="#111" stroke-width="1.3"/>
<rect x="89.3" y="528.1" width="44.3" height="26.2" fill="none" stroke="#111" stroke-width="1.3"/>
<path d="M52.1 554.3v4M56.5 554.3v4M59.9 554.3v4M62.7 554.3v4M65.1 554.3v4M67.2 554.3v4M69 554.3v4M70.6 554.3v6.8M81.3 554.3v4M87.5 554.3v4M91.9 554.3v4M95.3 554.3v4M98.1 554.3v4M100.5 554.3v4M102.6 554.3v4M104.4 554.3v4M106 554.3v6.8M116.7 554.3v4M122.9 554.3v4M127.3 554.3v4M130.7 554.3v4M133.5 554.3v4M135.9 554.3v4M138 554.3v4M139.8 554.3v4M141.4 554.3v6.8M152.1 554.3v4M158.3 554.3v4M162.7 554.3v4M166.1 554.3v4M168.9 554.3v4M171.3 554.3v4M173.4 554.3v4M175.2 554.3v4M176.8 554.3v6.8M187.5 554.3v4" stroke="#111" stroke-width="1.35" fill="none"/>
<text x="69.2" y="570.9" font-size="6.9" text-anchor="middle">10<tspan dx="0.4" dy="-4.6" font-size="6.0">2</tspan></text>
<text x="104.6" y="570.9" font-size="6.9" text-anchor="middle">10<tspan dx="0.4" dy="-4.6" font-size="6.0">3</tspan></text>
<text x="140" y="570.9" font-size="6.9" text-anchor="middle">10<tspan dx="0.4" dy="-4.6" font-size="6.0">4</tspan></text>
<text x="175.4" y="570.9" font-size="6.9" text-anchor="middle">10<tspan dx="0.4" dy="-4.6" font-size="6.0">5</tspan></text>
<path d="M49.6 553.3h-3.6M49.6 550.5h-3.6M49.6 548.2h-3.6M49.6 546.4h-3.6M49.6 544.9h-3.6M49.6 543.5h-3.6M49.6 542.4h-3.6M49.6 541.3h-6M49.6 534.4h-3.6M49.6 530.3h-3.6M49.6 527.5h-3.6M49.6 525.2h-3.6M49.6 523.4h-3.6M49.6 521.9h-3.6M49.6 520.5h-3.6M49.6 519.4h-3.6M49.6 518.3h-6M49.6 511.4h-3.6M49.6 507.3h-3.6M49.6 504.5h-3.6M49.6 502.2h-3.6M49.6 500.4h-3.6M49.6 498.9h-3.6M49.6 497.5h-3.6M49.6 496.4h-3.6M49.6 495.3h-6M49.6 488.4h-3.6M49.6 484.3h-3.6M49.6 481.5h-3.6M49.6 479.2h-3.6M49.6 477.4h-3.6M49.6 475.9h-3.6M49.6 474.5h-3.6M49.6 473.4h-3.6M49.6 472.3h-6M49.6 465.4h-3.6" stroke="#111" stroke-width="1.35" fill="none"/>
<text x="42.3" y="546.2" font-size="7.0" transform="rotate(-90 42.3 546.2)">10<tspan dx="-0.6" dy="-4.6" font-size="6.4">2</tspan></text>
<text x="42.3" y="523.2" font-size="7.0" transform="rotate(-90 42.3 523.2)">10<tspan dx="-0.6" dy="-4.6" font-size="6.4">3</tspan></text>
<text x="42.3" y="500.2" font-size="7.0" transform="rotate(-90 42.3 500.2)">10<tspan dx="-0.6" dy="-4.6" font-size="6.4">4</tspan></text>
<text x="42.3" y="477.2" font-size="7.0" transform="rotate(-90 42.3 477.2)">10<tspan dx="-0.6" dy="-4.6" font-size="6.4">5</tspan></text>
<text x="106.7" y="460.3" font-size="10.6" font-weight="bold" text-anchor="middle">CD4<tspan dy="-2.0" font-size="6.2">+</tspan></text>
<text x="108.3" y="479.7" font-size="10.7" font-weight="bold" text-anchor="start">8.2%</text>
<text x="120.6" y="582.2" font-size="9.6" font-weight="normal" text-anchor="middle">CD4 PerCP-A</text>
<text x="31" y="508.7" font-size="9.2" font-weight="normal" text-anchor="middle" transform="rotate(-90 31 508.7)">FOXP3 APC-A</text>
<path d="M357.8 424.8L357.8 423.4L358.3 422.7L358.8 423.3L359.3 422.2L359.8 421.9L360.3 422.2L360.8 422.4L361.3 422.6L361.8 422.8L362.3 420.9L362.8 421.3L363.3 419.9L363.8 421.5L364.3 421.4L364.8 423.5L365.3 422.1L365.8 422.1L366.3 422L366.8 421.7L367.3 421.2L367.8 421.1L368.3 422.5L368.8 420.4L369.3 420L369.8 419.1L370.3 421.2L370.8 420.9L371.3 422.1L371.8 420.5L372.3 419.8L372.8 418.2L373.3 419.1L373.8 418.9L374.3 418.7L374.8 418.6L375.3 419.9L375.8 414.8L376.3 415L376.8 418.3L377.3 413.8L377.8 412.9L378.3 413.3L378.8 414.9L379.3 418L379.8 410.5L380.3 413.1L380.8 410.4L381.3 413.2L381.8 406.2L382.3 405.5L382.8 403.4L383.3 409.8L383.8 401.5L384.3 400.5L384.8 397.6L385.3 398.5L385.8 394L386.3 397.5L386.8 404.5L387.3 393.1L387.8 401.6L388.3 391.8L388.8 391.5L389.3 392.3L389.8 381.4L390.3 398.7L390.8 376.6L391.3 375.3L391.8 374.3L392.3 373.2L392.8 383.4L393.3 376.6L393.8 396.6L394.3 379.6L394.8 382.8L395.3 372.9L395.8 371.7L396.3 381.6L396.8 387.7L397.3 363.8L397.8 363.3L398.3 370.6L398.8 360.2L399.3 369.1L399.8 386.3L400.3 372.3L400.8 371L401.3 368.7L401.8 376.8L402.3 397.7L402.8 369.8L403.3 371.9L403.8 388.3L404.3 371.3L404.8 376.6L405.3 378.2L405.8 376.9L406.3 376.9L406.8 374.1L407.3 371.8L407.8 366.9L408.3 378.7L408.8 364.7L409.3 389.1L409.8 364.3L410.3 381.7L410.8 381.8L411.3 366.5L411.8 372.6L412.3 363.2L412.8 387.6L413.3 378.8L413.8 383.7L414.3 370.6L414.8 391L415.3 384.1L415.8 380.5L416.3 397.4L416.8 375.8L417.3 374.4L417.8 381.6L418.3 396.2L418.8 386.7L419.3 389L419.8 388.8L420.3 383.3L420.8 388.2L421.3 383.4L421.8 390.3L422.3 392L422.8 401.3L423.3 391.7L423.8 390.9L424.3 392.4L424.8 396.5L425.3 397.9L425.8 395.3L426.3 402.3L426.8 395.9L427.3 396.5L427.8 400.9L428.3 397.5L428.8 396.5L429.3 397.2L429.8 401.7L430.3 404.6L430.8 406L431.3 408.7L431.8 409L432.3 411.4L432.8 413.9L433.3 415.2L433.8 416.3L434.3 417.3L434.8 418.3L435.3 417.6L435.8 416.6L436.3 416.2L436.8 416.8L437.3 420.3L437.8 420.1L438.3 422L438.8 421L439.3 421.8L439.8 421.9L440.3 421.7L440.8 421.9L441.3 421.8L441.8 422.2L442.3 422.6L442.8 423.7L443.3 423.2L443.8 422.9L444.3 423.4L444.8 422.5L445.3 422.8L445.8 422.9L446.3 422.6L446.8 422.7L447.3 423.1L447.8 423.4L448.3 423.6L448.8 423.9L449.3 423.6L449.8 423.6L450.3 423.6L450.8 423.5L451.3 423.3L451.8 423.5L452.3 423.4L452.8 423.2L453.3 423.2L453.8 423.2L454.3 423.7L454.8 423.9L455.3 423.7L455.8 423.8L456.3 424.1L456.8 424.3L457.3 424.4L457.8 424.5L458.3 424.6L458.8 424.6L459.3 424.7L459.8 424.7L460.3 424.6L460.8 424.6L461.3 424.6L461.8 424.7L462 424.8Z" fill="#3ee03e" stroke="#26b426" stroke-width="0.4" stroke-linejoin="bevel"/>
<path d="M360.8 422.7V423.1M371.8 420.8V422M405.8 377.2V393.3M441.3 422.1V422.5M423.8 391.2V394.6M440.3 422V422.9M397.3 364.1V380.4M439.3 422.1V422.3M364.3 421.7V422.5M389.8 381.7V383.6M416.3 397.7V403.7M416.3 397.7V407.5M424.3 392.7V394.8M401.8 377.1V393.8M430.3 404.9V411.7M366.3 422.3V422.5M411.3 366.8V395M368.8 420.7V421.7M390.3 399V408.8M428.8 396.8V407.6M374.8 418.9V419.7M428.3 397.8V404M360.3 422.5V422.2M378.8 415.2V418.3M369.3 420.3V421M377.8 413.2V417.4M403.8 388.6V402.7M416.3 397.7V406.8M412.8 387.9V397.1M441.3 422.1V422.5M436.3 416.5V419.7M372.3 420.1V420.2M409.8 364.6V379.5M422.3 392.3V401.2M389.3 392.6V404.1M423.8 391.2V402.4M393.8 396.9V408.1M400.8 371.3V381.8M366.3 422.3V422.2M436.3 416.5V416.9M416.3 397.7V401.6M407.8 367.2V383.6M359.8 422.2V422M378.8 415.2V416.9M432.3 411.7V411.4M420.3 383.6V400.6M362.8 421.6V421.8M387.3 393.4V406.8M446.8 423V423.1M399.8 386.6V389.2M361.3 422.9V423.6M379.3 418.3V418.5M383.8 401.8V411.7M373.3 419.4V421M429.3 397.5V405.2M361.8 423.1V423.1M426.8 396.2V408.8M404.8 376.9V385.3M440.8 422.2V422.1M404.8 376.9V392.1M425.8 395.6V401.3M368.3 422.8V422.6M387.3 393.4V403.5M423.8 391.2V406.2M405.8 377.2V399M429.8 402V411.3M370.8 421.2V421.6M430.8 406.3V414.1M365.8 422.4V423.1M438.3 422.3V423M369.3 420.3V420.8M439.3 422.1V422.1M434.3 417.6V420.9M391.8 374.6V383M404.3 371.6V382.7M385.8 394.3V409.3M416.3 397.7V401.6M423.3 392V392.3M391.8 374.6V383.2M387.3 393.4V393.8M433.8 416.6V418.4M396.8 388V396.6M407.8 367.2V387.2M415.8 380.8V393.9M381.3 413.5V413.4M396.3 381.9V393.8M371.3 422.4V422.2M402.8 370.1V370.7M423.8 391.2V394.9M417.8 381.9V388.6M429.8 402V413.2M433.8 416.6V418.7M416.8 376.1V399.6M383.8 401.8V401.9M412.8 387.9V399.1M435.8 416.9V417.5M434.8 418.6V420.2M426.8 396.2V398.6M361.8 423.1V423.1M370.8 421.2V421.7M368.3 422.8V423.4M423.3 392V401.1M378.8 415.2V417.2M417.8 381.9V392M393.3 376.9V394.2M415.3 384.4V393.6M380.8 410.7V416.7M417.3 374.7V384.4M384.8 397.9V400.1M425.3 398.2V403M373.3 419.4V419.5M374.8 418.9V420.9M380.3 413.4V416.1M436.8 417.1V420.7M367.3 421.5V422.4M414.8 391.3V395.4M379.3 418.3V418.6M427.8 401.2V401.9M439.8 422.2V422.5M396.3 381.9V402.5M374.8 418.9V419.2M373.8 419.2V419.3" stroke="#22a822" stroke-width="0.6" fill="none" stroke-opacity="0.8"/>
<rect x="357.3" y="351.6" width="148.5" height="73.2" fill="none" stroke="#111" stroke-width="1.4"/>
<line x1="395.4" y1="351.6" x2="395.4" y2="424.8" stroke="#111" stroke-width="1.6"/>
<line x1="395.4" y1="399" x2="505.8" y2="399" stroke="#222" stroke-width="1.2"/>
<path d="M359.2 424.8v4M363.8 424.8v4M367.4 424.8v4M370.3 424.8v4M372.8 424.8v4M374.9 424.8v4M376.8 424.8v4M378.5 424.8v6.8M389.6 424.8v4M396.1 424.8v4M400.7 424.8v4M404.3 424.8v4M407.2 424.8v4M409.7 424.8v4M411.8 424.8v4M413.7 424.8v4M415.4 424.8v6.8M426.5 424.8v4M433 424.8v4M437.6 424.8v4M441.2 424.8v4M444.1 424.8v4M446.6 424.8v4M448.7 424.8v4M450.6 424.8v4M452.3 424.8v6.8M463.4 424.8v4M469.9 424.8v4M474.5 424.8v4M478.1 424.8v4M481 424.8v4M483.5 424.8v4M485.6 424.8v4M487.5 424.8v4M489.2 424.8v6.8M500.3 424.8v4" stroke="#111" stroke-width="1.35" fill="none"/>
<text x="376.7" y="441.3" font-size="6.7" text-anchor="middle">10<tspan dx="0.4" dy="-4.4" font-size="5.8">2</tspan></text>
<text x="413.6" y="441.3" font-size="6.7" text-anchor="middle">10<tspan dx="0.4" dy="-4.4" font-size="5.8">3</tspan></text>
<text x="450.5" y="441.3" font-size="6.7" text-anchor="middle">10<tspan dx="0.4" dy="-4.4" font-size="5.8">4</tspan></text>
<text x="487.4" y="441.3" font-size="6.7" text-anchor="middle">10<tspan dx="0.4" dy="-4.4" font-size="5.8">5</tspan></text>
<path d="M357.3 424.8h-6.0M357.3 421.3h-3.8M357.3 417.8h-3.8M357.3 414.2h-3.8M357.3 410.7h-3.8M357.3 407.2h-6.0M357.3 403.7h-3.8M357.3 400.2h-3.8M357.3 396.6h-3.8M357.3 393.1h-3.8M357.3 389.6h-6.0M357.3 386.1h-3.8M357.3 382.6h-3.8M357.3 379h-3.8M357.3 375.5h-3.8M357.3 372h-6.0M357.3 368.5h-3.8M357.3 365h-3.8M357.3 361.4h-3.8M357.3 357.9h-3.8M357.3 354.4h-6.0" stroke="#111" stroke-width="1.35" fill="none"/>
<text x="348.8" y="424.8" font-size="6.0" text-anchor="middle" transform="rotate(-90 348.8 424.8)">0</text>
<text x="348.8" y="407.2" font-size="6.0" text-anchor="middle" transform="rotate(-90 348.8 407.2)">5</text>
<text x="348.8" y="389.6" font-size="6.0" text-anchor="middle" transform="rotate(-90 348.8 389.6)">10</text>
<text x="348.8" y="372" font-size="6.0" text-anchor="middle" transform="rotate(-90 348.8 372)">15</text>
<text x="348.8" y="354.4" font-size="6.0" text-anchor="middle" transform="rotate(-90 348.8 354.4)">20</text>
<text x="412.3" y="348.6" font-size="10.4" font-weight="bold" text-anchor="middle">CD4<tspan dy="-2.0" font-size="6.2">+</tspan><tspan dy="2.0">FOXP3</tspan><tspan dy="-2.0" font-size="6.2">+</tspan></text>
<text x="456.3" y="366.4" font-size="10.6" font-weight="bold" text-anchor="start">78.7%</text>
<text x="430.4" y="454.2" font-size="10.6" font-weight="normal" text-anchor="middle">CTLA-4 PE-A</text>
<text x="338.7" y="388.4" font-size="9.6" font-weight="normal" text-anchor="middle" transform="rotate(-90 338.7 388.4)">Count</text>
<path d="M354.3 593.6L354.3 586L354.8 586L355.3 586.4L355.8 586.4L356.3 584.6L356.8 583.1L357.3 581L357.8 577.2L358.3 576L358.8 575L359.3 574.4L359.8 575.7L360.3 576L360.8 576.3L361.3 578.8L361.8 571.7L362.3 571.9L362.8 570.9L363.3 569.7L363.8 568.2L364.3 566.1L364.8 564.4L365.3 563.5L365.8 570.3L366.3 560.4L366.8 556.8L367.3 552.7L367.8 552.5L368.3 553.9L368.8 549.2L369.3 546.4L369.8 543.7L370.3 545.3L370.8 541.7L371.3 541.9L371.8 544.4L372.3 539.5L372.8 557.6L373.3 534.2L373.8 529.8L374.3 525.8L374.8 525.4L375.3 529.1L375.8 528.2L376.3 528.4L376.8 529.5L377.3 526.5L377.8 525.4L378.3 528.9L378.8 530.2L379.3 529L379.8 525.4L380.3 529.4L380.8 529.9L381.3 533.9L381.8 539.1L382.3 553.2L382.8 541.9L383.3 544.7L383.8 546.2L384.3 551.1L384.8 551.5L385.3 554L385.8 559.6L386.3 558.4L386.8 563L387.3 566.8L387.8 567.9L388.3 569.3L388.8 572.3L389.3 573.6L389.8 576.2L390.3 578.6L390.8 579.7L391.3 581.8L391.8 583.4L392.3 585L392.8 585.3L393.3 586.8L393.8 587.4L394.3 588L394.8 588.6L395.3 588.6L395.8 588.9L396.3 589.3L396.8 589.6L397.3 589.6L397.8 589.7L398.3 590.1L398.8 589.9L399.3 590.1L399.8 590L400.3 590.1L400.8 590.2L401.3 590.3L401.8 590.3L402.3 590.5L402.8 590.6L403.3 590.7L403.8 590.8L404.3 590.9L404.8 591.3L405.3 590.9L405.8 591.1L406.3 592.1L406.8 591.2L407.3 591.2L407.8 591.2L408.3 591.3L408.8 591.4L409.3 591.5L409.8 591.5L410.3 592.2L410.8 591.6L411.3 591.6L411.8 591.7L412.3 591.6L412.8 591.7L413.3 591.7L413.8 591.7L414.3 591.8L414.8 591.8L415.3 592.2L415.8 592L416.3 591.8L416.8 591.9L417.3 591.9L417.8 592L418.3 592L418.8 592L419.3 592L419.8 592L420.3 592.1L420.8 592.1L421.3 592.1L421.8 592.1L422.3 592.2L422.8 592.1L423.3 592.2L423.8 592.3L424.3 592.3L424.8 592.2L425.3 592.2L425.8 592.3L426.3 592.3L426.8 592.3L427.3 592.4L427.8 592.3L428.3 592.2L428.8 592.3L429.3 592.3L429.8 592.4L430 593.6Z" fill="#1c38ee" stroke="#1428d0" stroke-width="0.5" stroke-linejoin="bevel"/>
<rect x="353.8" y="525.1" width="153.1" height="68.5" fill="none" stroke="#111" stroke-width="1.4"/>
<line x1="393.7" y1="525.1" x2="393.7" y2="593.6" stroke="#111" stroke-width="1.3"/>
<line x1="393.7" y1="568" x2="506.9" y2="568" stroke="#111" stroke-width="1.3"/>
<path d="M357.2 593.6v4M361.9 593.6v4M365.6 593.6v4M368.5 593.6v4M371.1 593.6v4M373.2 593.6v4M375.2 593.6v4M376.9 593.6v6.8M388.2 593.6v4M394.9 593.6v4M399.6 593.6v4M403.3 593.6v4M406.2 593.6v4M408.8 593.6v4M410.9 593.6v4M412.9 593.6v4M414.6 593.6v6.8M425.9 593.6v4M432.6 593.6v4M437.3 593.6v4M441 593.6v4M443.9 593.6v4M446.5 593.6v4M448.6 593.6v4M450.6 593.6v4M452.3 593.6v6.8M463.6 593.6v4M470.3 593.6v4M475 593.6v4M478.7 593.6v4M481.6 593.6v4M484.2 593.6v4M486.3 593.6v4M488.3 593.6v4M490 593.6v6.8M501.3 593.6v4" stroke="#111" stroke-width="1.35" fill="none"/>
<text x="375.1" y="609.8" font-size="6.7" text-anchor="middle">10<tspan dx="0.4" dy="-4.4" font-size="5.8">2</tspan></text>
<text x="412.8" y="609.8" font-size="6.7" text-anchor="middle">10<tspan dx="0.4" dy="-4.4" font-size="5.8">3</tspan></text>
<text x="450.5" y="609.8" font-size="6.7" text-anchor="middle">10<tspan dx="0.4" dy="-4.4" font-size="5.8">4</tspan></text>
<text x="488.2" y="609.8" font-size="6.7" text-anchor="middle">10<tspan dx="0.4" dy="-4.4" font-size="5.8">5</tspan></text>
<path d="M353.8 593.6h-7.5M353.8 583.5h-7.5M353.8 573.4h-7.5M353.8 563.3h-7.5M353.8 553.2h-7.5M353.8 543.1h-7.5M353.8 533h-7.5" stroke="#111" stroke-width="1.35" fill="none"/>
<text x="346" y="593.6" font-size="6.4" text-anchor="middle" transform="rotate(-90 346 593.6)">0</text>
<text x="346" y="583.5" font-size="6.4" text-anchor="middle" transform="rotate(-90 346 583.5)">500</text>
<text x="346" y="573.4" font-size="6.4" text-anchor="middle" transform="rotate(-90 346 573.4)">1,000</text>
<text x="346" y="563.3" font-size="6.4" text-anchor="middle" transform="rotate(-90 346 563.3)">1,500</text>
<text x="346" y="553.2" font-size="6.4" text-anchor="middle" transform="rotate(-90 346 553.2)">2,000</text>
<text x="346" y="543.1" font-size="6.4" text-anchor="middle" transform="rotate(-90 346 543.1)">2,500</text>
<text x="346" y="533" font-size="6.4" text-anchor="middle" transform="rotate(-90 346 533)">3,000</text>
<text x="394.1" y="522.6" font-size="10.4" font-weight="bold" text-anchor="middle">CD4<tspan dy="-2.0" font-size="6.2">+</tspan><tspan dy="2.0">FOXP3</tspan><tspan dy="-2.0" font-size="6.2">-</tspan></text>
<text x="479.6" y="543.1" font-size="10.6" font-weight="bold" text-anchor="middle">4.3</text>
<text x="429.2" y="622.1" font-size="10.6" font-weight="normal" text-anchor="middle">CTLA-4 PE-A</text>
<text x="335" y="558.1" font-size="10.0" font-weight="normal" text-anchor="middle" transform="rotate(-90 335 558.1)">Count</text>
<line x1="89.9" y1="659.6" x2="89.9" y2="756.2" stroke="#111" stroke-width="3.0"/>
<line x1="88.4" y1="754.7" x2="251.5" y2="754.7" stroke="#111" stroke-width="3.0"/>
<circle cx="89.9" cy="754.7" r="2.6" fill="#111"/>
<circle cx="251.5" cy="754.7" r="1.8" fill="#111"/>
<line x1="130.2" y1="754.7" x2="130.2" y2="757.9" stroke="#111" stroke-width="1.6"/>
<line x1="170.6" y1="754.7" x2="170.6" y2="757.9" stroke="#111" stroke-width="1.6"/>
<line x1="211" y1="754.7" x2="211" y2="757.9" stroke="#111" stroke-width="1.6"/>
<line x1="251.3" y1="754.7" x2="251.3" y2="757.9" stroke="#111" stroke-width="1.6"/>
<text x="89.5" y="769" font-size="10.2" font-weight="bold" text-anchor="middle">0</text>
<text x="129.9" y="769" font-size="10.2" font-weight="bold" text-anchor="middle">5</text>
<text x="170.3" y="769" font-size="10.2" font-weight="bold" text-anchor="middle">10</text>
<text x="210.7" y="769" font-size="10.2" font-weight="bold" text-anchor="middle">15</text>
<text x="251.1" y="769" font-size="10.2" font-weight="bold" text-anchor="middle">20</text>
<text x="83.2" y="761.2" font-size="10.7" font-weight="bold" text-anchor="end" textLength="4.6" lengthAdjust="spacingAndGlyphs">0</text>
<text x="90" y="713.6" font-size="10.7" font-weight="bold" text-anchor="end">10000</text>
<text x="90.3" y="665.5" font-size="10.7" font-weight="bold" text-anchor="end">20000</text>
<line x1="87.9" y1="710" x2="89.9" y2="710" stroke="#111" stroke-width="1.5"/>
<text x="167.6" y="788.5" font-size="10.5" font-weight="bold" text-anchor="middle">FOXP3+CD4+/CD4 [%]</text>
<text x="36.5" y="709.4" font-size="10.9" font-weight="bold" text-anchor="middle" transform="rotate(-90 36.5 709.4)">Foxp3 mRNA copies/</text>
<text x="49.3" y="710.1" font-size="10.7" font-weight="bold" text-anchor="middle" transform="rotate(-90 49.3 710.1)">10<tspan dy="-4.2" font-size="5.5">6</tspan><tspan dy="4.2"> actin copies</tspan></text>
<text x="210.8" y="664" font-size="10.3" font-weight="bold" text-anchor="start"><tspan font-style="italic">P</tspan> <tspan font-weight="normal">&lt;</tspan> .001</text>
<line x1="91" y1="749" x2="204.7" y2="684" stroke="#111" stroke-width="2.5"/>
<path d="M137.3 669.3h3.8v3.8h-3.8zM117.4 691.6h3.8v3.8h-3.8zM143.9 702.9h3.8v3.8h-3.8zM129.2 707.6h3.8v3.8h-3.8zM128.7 717.1h3.8v3.8h-3.8zM172.8 714.3h3.8v3.8h-3.8zM97.3 727.5h3.8v3.8h-3.8zM114 726.7h3.8v3.8h-3.8zM119.8 723.8h3.8v3.8h-3.8zM135.9 725.8h3.8v3.8h-3.8zM99.6 734.7h3.8v3.8h-3.8zM118.3 731h3.8v3.8h-3.8zM125.2 729.3h3.8v3.8h-3.8zM129 730.4h3.8v3.8h-3.8zM123.7 733.9h3.8v3.8h-3.8zM136.8 737h3.8v3.8h-3.8zM120 739.1h3.8v3.8h-3.8zM105.9 740.4h3.8v3.8h-3.8zM102.1 739.9h3.8v3.8h-3.8zM92.3 742.9h3.8v3.8h-3.8zM111.9 746.8h3.8v3.8h-3.8zM118.9 748.1h3.8v3.8h-3.8zM97.5 747.1h3.8v3.8h-3.8zM100.4 745.4h3.8v3.8h-3.8zM102.7 744.8h3.8v3.8h-3.8zM96.9 744.8h3.8v3.8h-3.8zM143.9 731.7h3.8v3.8h-3.8zM155.9 731.2h3.8v3.8h-3.8zM180.2 672.9h3.8v3.8h-3.8zM204.2 676.9h3.8v3.8h-3.8zM183.4 699.5h3.8v3.8h-3.8zM99.1 748.1h3.8v3.8h-3.8zM95.1 746.6h3.8v3.8h-3.8z" fill="#111"/>
<line x1="123.4" y1="64.3" x2="350.8" y2="45.2" stroke="#111" stroke-width="1.8"/>
<path d="M359.3 44.5L350.2 49.3L349.5 41.3Z" fill="#111"/>
<line x1="125.3" y1="486.2" x2="302.7" y2="393.7" stroke="#111" stroke-width="1.8"/>
<path d="M310.2 389.8L303.6 397.7L299.9 390.6Z" fill="#111"/>
<line x1="133.6" y1="533.9" x2="302.3" y2="572.3" stroke="#111" stroke-width="1.8"/>
<path d="M310.6 574.2L300.4 576L302.2 568.2Z" fill="#111"/>
</svg>
</body></html>
